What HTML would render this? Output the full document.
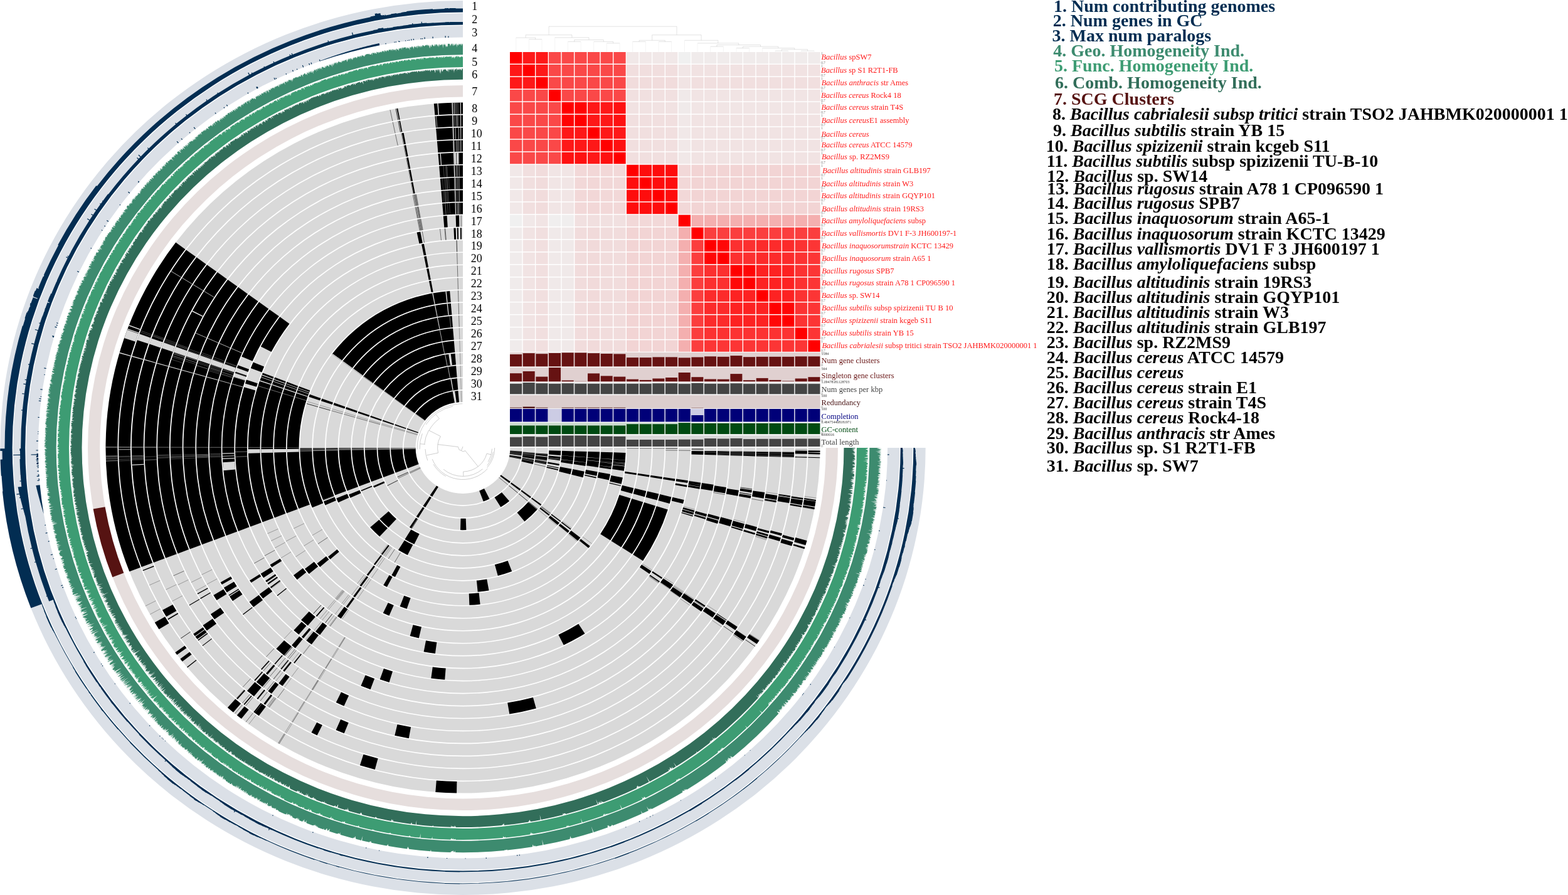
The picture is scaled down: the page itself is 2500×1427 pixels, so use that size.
<!DOCTYPE html>
<html><head><meta charset="utf-8"><title>Bacillus pangenome</title>
<style>html,body{margin:0;padding:0;background:#fff}svg{display:block}text{white-space:pre}</style></head>
<body>
<svg width="2500" height="1427" viewBox="0 0 2500 1427" font-family="'Liberation Serif', serif">
<path d="M738 163.5A569.5 550.5 0 1 0 1307.5 714L1288.6 714A550.6 532.2 0 1 1 738 181.8Z" fill="#d9d9d9"/>
<path d="M738 183.5A548.9 530.5 0 1 0 1286.9 714L1268 714A530 512.2 0 1 1 738 201.8Z" fill="#d9d9d9"/>
<path d="M738 203.4A528.2 510.6 0 1 0 1266.2 714L1247.3 714A509.3 492.3 0 1 1 738 221.7Z" fill="#d9d9d9"/>
<path d="M738 223.4A507.6 490.6 0 1 0 1245.6 714L1226.6 714A488.6 472.3 0 1 1 738 241.7Z" fill="#d9d9d9"/>
<path d="M738 243.4A486.9 470.6 0 1 0 1224.9 714L1206 714A468 452.3 0 1 1 738 261.7Z" fill="#d9d9d9"/>
<path d="M738 263.4A466.2 450.6 0 1 0 1204.2 714L1185.3 714A447.3 432.3 0 1 1 738 281.7Z" fill="#d9d9d9"/>
<path d="M738 283.3A445.6 430.7 0 1 0 1183.6 714L1164.6 714A426.6 412.4 0 1 1 738 301.6Z" fill="#d9d9d9"/>
<path d="M738 303.3A424.9 410.7 0 1 0 1162.9 714L1144 714A406 392.4 0 1 1 738 321.6Z" fill="#d9d9d9"/>
<path d="M738 323.3A404.3 390.7 0 1 0 1142.3 714L1123.3 714A385.3 372.4 0 1 1 738 341.6Z" fill="#d9d9d9"/>
<path d="M738 343.2A383.6 370.8 0 1 0 1121.6 714L1102.7 714A364.7 352.5 0 1 1 738 361.5Z" fill="#d9d9d9"/>
<path d="M738 363.2A362.9 350.8 0 1 0 1100.9 714L1082 714A344 332.5 0 1 1 738 381.5Z" fill="#d9d9d9"/>
<path d="M738 383.2A342.3 330.8 0 1 0 1080.3 714L1061.3 714A323.3 312.5 0 1 1 738 401.5Z" fill="#d9d9d9"/>
<path d="M738 403.1A321.6 310.9 0 1 0 1059.6 714L1040.7 714A302.7 292.6 0 1 1 738 421.4Z" fill="#d9d9d9"/>
<path d="M738 423.1A301 290.9 0 1 0 1039 714L1020 714A282 272.6 0 1 1 738 441.4Z" fill="#d9d9d9"/>
<path d="M738 443.1A280.3 270.9 0 1 0 1018.3 714L999.4 714A261.4 252.6 0 1 1 738 461.4Z" fill="#d9d9d9"/>
<path d="M738 463A259.6 251 0 1 0 997.6 714L978.7 714A240.7 232.7 0 1 1 738 481.3Z" fill="#d9d9d9"/>
<path d="M738 483A239 231 0 1 0 977 714L958 714A220 212.7 0 1 1 738 501.3Z" fill="#d9d9d9"/>
<path d="M738 503A218.3 211 0 1 0 956.3 714L937.4 714A199.4 192.7 0 1 1 738 521.3Z" fill="#d9d9d9"/>
<path d="M738 523A197.6 191 0 1 0 935.6 714L916.7 714A178.7 172.7 0 1 1 738 541.3Z" fill="#d9d9d9"/>
<path d="M738 542.9A177 171.1 0 1 0 915 714L896.1 714A158.1 152.8 0 1 1 738 561.2Z" fill="#d9d9d9"/>
<path d="M738 562.9A156.3 151.1 0 1 0 894.3 714L875.4 714A137.4 132.8 0 1 1 738 581.2Z" fill="#d9d9d9"/>
<path d="M738 582.9A135.7 131.1 0 1 0 873.7 714L854.7 714A116.7 112.8 0 1 1 738 601.2Z" fill="#d9d9d9"/>
<path d="M738 602.8A115 111.2 0 1 0 853 714L834.1 714A96.1 92.9 0 1 1 738 621.1Z" fill="#d9d9d9"/>
<path d="M738 622.8A94.3 91.2 0 1 0 832.3 714L813.4 714A75.4 72.9 0 1 1 738 641.1Z" fill="#d9d9d9"/>
<path d="M738 163.5A569.5 550.5 0 0 0 691.8 165.3L693.4 183.6A550.6 532.2 0 0 1 738 181.8ZM634.2 172.7L632.4 173L636 191L637.7 190.7ZM280.2 386.6A569.5 550.5 0 0 0 206.3 911.3L224 904.7A550.6 532.2 0 0 1 295.4 397.4ZM246.8 992.6L253.4 1003.3L269.5 993.7L263.1 983.3ZM279.3 1040.3L282.2 1044.1L297.4 1033.2L294.5 1029.4ZM287.4 1050.6L290.7 1054.8L305.6 1043.5L302.3 1039.5ZM298 1063.6L298.9 1064.6L313.5 1053L312.6 1051.9ZM362.8 1128.2L371.9 1135.7L384.1 1121.7L375.3 1114.4ZM377.8 1140.4L384.8 1145.9L396.6 1131.5L389.8 1126.3ZM694.3 1262.9A569.5 550.5 0 0 0 728.1 1264.4L728.4 1246.1A550.6 532.2 0 0 1 695.8 1244.6ZM1282.6 875.2L1283.4 872.6L1265.3 867.4L1264.5 869.8ZM1284.5 869L1286.6 862L1268.4 857L1266.3 863.8ZM1298.5 811.7L1299 808.9L1280.4 805.7L1279.9 808.5ZM1299.2 807.8L1300.6 799.6L1281.9 796.8L1280.6 804.7ZM1300.7 799L1301.1 796.9L1282.3 794.1L1282 796.1ZM1307.3 730.3L1307.3 729.2L1288.4 728.7L1288.4 729.8ZM1307.4 724.4L1307.5 721.9L1288.6 721.6L1288.5 724.1ZM1307.5 721.1L1307.5 718.4L1288.6 718.3L1288.6 720.9ZM1206.7 1026.8L1210.3 1021.6L1194.6 1011.4L1191.1 1016.4ZM738 183.5A548.9 530.5 0 0 0 693.5 185.2L695 203.5A530 512.2 0 0 1 738 201.8ZM638 192.4L636.3 192.7L639.8 210.6L641.4 210.3ZM296.8 398.4A548.9 530.5 0 0 0 225.6 904.1L243.2 897.6A530 512.2 0 0 1 312 409.3ZM227.5 908.9L228 910.2L245.6 903.4L245.1 902.1ZM258.9 972.8L265.1 983.3L281.4 974L275.4 963.9ZM267.2 986.7L268.1 988.2L284.3 978.7L283.4 977.3ZM406.1 1136.6L412.7 1141.3L423.9 1126.6L417.6 1122ZM377.2 1113.8L378.7 1115.1L391.1 1101.2L389.7 1100ZM388.4 1123L389.7 1124L401.7 1109.9L400.4 1108.9ZM404.3 1135.2L405.9 1136.4L417.3 1121.8L415.8 1120.7ZM573.9 1220.3L597.8 1226.9L602.6 1209.2L579.5 1202.8ZM1262.4 870.6L1264.4 864.3L1246.2 859.1L1244.3 865.2ZM1265.2 861.8L1266.4 857.8L1248.1 852.8L1247 856.7ZM1278.1 808.7L1278.5 806.4L1259.9 803.2L1259.4 805.5ZM1278.7 805.2L1280 797.5L1261.3 794.7L1260.1 802ZM1280.2 796.6L1280.6 794L1261.9 791.2L1261.5 793.7ZM1286.6 729.7L1286.7 728.6L1267.8 728.1L1267.7 729.2ZM1286.8 723.7L1286.9 718.9L1267.9 718.7L1267.9 723.4ZM1185.4 1021.3L1189.7 1015.4L1174.1 1005L1170 1010.7ZM738 203.4A528.2 510.6 0 0 0 695.2 205.1L696.7 223.4A509.3 492.3 0 0 1 738 221.7ZM643.6 211.7L640.8 212.2L644.3 230.1L646.9 229.7ZM313.4 410.3A528.2 510.6 0 0 0 244.9 897L262.5 890.4A509.3 492.3 0 0 1 328.6 421.2ZM308.2 1010.8L310.7 1014.2L326 1003.4L323.6 1000.2ZM311.4 1015.1L314.5 1019.1L329.6 1008.2L326.7 1004.3ZM315.5 1020.4L316.3 1021.5L331.5 1010.5L330.6 1009.4ZM322.4 1029.2L323.1 1030L338 1018.7L337.3 1017.9ZM394 1101.5L404.9 1110.2L416.8 1096L406.4 1087.6ZM395 1102.3L396.1 1103.2L408.4 1089.3L407.3 1088.3ZM409.5 1113.8L411.2 1115.1L422.9 1100.7L421.2 1099.5ZM420.4 1122L422.8 1123.7L434.1 1109L431.8 1107.3ZM496.5 1168.1L505.6 1172.5L513.9 1156.1L505.2 1151.8ZM1243.2 863.1L1245 857.4L1226.8 852.2L1225.1 857.8ZM1245.9 854.2L1247 850.6L1228.7 845.7L1227.7 849.2ZM1258.3 802.1L1259.7 794L1241 791.2L1239.7 798.9ZM1260 792.4L1260.3 790.5L1241.5 787.8L1241.3 789.6ZM1266 729.1L1266.2 720.7L1247.2 720.4L1247.1 728.6ZM1172.3 1004.7L1175.9 999.6L1160.2 989.3L1156.7 994.3ZM738 223.4A507.6 490.6 0 0 0 696.9 225L698.4 243.3A488.6 472.3 0 0 1 738 241.7ZM647.2 231.3L644.6 231.8L648.1 249.8L650.6 249.3ZM330 422.2A507.6 490.6 0 0 0 264.1 889.8L281.8 883.3A488.6 472.3 0 0 1 345.2 433.1ZM301.6 964.5L302.1 965.4L318.4 956L317.8 955.1ZM323.5 997.1L329.7 1005.5L345 994.6L339 986.6ZM408.8 1087.4L418.4 1095.1L430.3 1080.9L421.1 1073.5ZM405.4 1084.6L406.7 1085.7L419.1 1071.8L417.8 1070.8ZM427.4 1102L432.9 1106.1L444.3 1091.5L439 1087.5ZM535.6 1163.9L548.7 1169.2L555.7 1152.2L543.2 1147.1ZM1223.1 858.5L1223.8 856.1L1205.7 850.8L1205 853.1ZM1224.1 855.1L1225 852.2L1206.8 847.1L1206 849.8ZM1225.7 850L1226.6 846.8L1208.4 841.9L1207.5 844.9ZM1237.6 800.8L1238 798.6L1219.3 795.4L1218.9 797.6ZM1238.3 796.9L1239.4 790L1220.7 787.2L1219.6 793.8ZM1245.3 728.6L1245.5 720.4L1226.6 720.2L1226.4 728ZM1152.9 996.6L1157.5 990.2L1141.9 979.9L1137.4 986.1ZM1158.2 989.2L1158.8 988.4L1143.1 978.1L1142.5 979ZM738 243.4A486.9 470.6 0 0 0 698.5 244.9L700.1 263.2A468 452.3 0 0 1 738 261.7ZM650.9 251L648.4 251.4L651.9 269.4L654.3 269ZM346.6 434.1A486.9 470.6 0 0 0 283.4 882.7L301.1 876.1A468 452.3 0 0 1 361.8 444.9ZM314.5 946.2L315.2 947.5L331.7 938.4L331 937.2ZM319 953.8L319.8 955L336 945.6L335.3 944.5ZM335.8 979.2L341.9 987.6L357.3 977L351.4 968.9ZM416 1067L417.3 1068.1L429.8 1054.3L428.5 1053.3ZM444.3 1089.4L450.4 1093.8L461.6 1079L455.7 1074.8ZM424 1073.7L426.5 1075.7L438.6 1061.6L436.2 1059.7ZM444.3 1089.4L445.5 1090.2L456.9 1075.6L455.7 1074.8ZM629.3 1172.7L651.8 1177.2L655.1 1159.2L633.5 1154.9ZM1203.3 852.6L1204.2 849.9L1186 844.6L1185.2 847.2ZM1205.2 846.7L1207 840.6L1188.7 835.6L1187 841.5ZM1217.7 794.7L1219.3 785.1L1200.6 782.4L1199 791.6ZM1224.7 728L1224.9 720.2L1205.9 719.9L1205.8 727.4ZM1136.2 984.8L1141 978.1L1125.3 967.9L1120.7 974.3ZM738 263.4A466.2 450.6 0 0 0 700.2 264.8L701.7 283.1A447.3 432.3 0 0 1 738 281.7ZM654.6 270.6L652.2 271L655.7 289L658 288.6ZM363.2 445.9A466.2 450.6 0 0 0 302.7 875.5L320.4 868.9A447.3 432.3 0 0 1 378.4 456.8ZM340.3 949.1L345.4 957.1L361.4 947.3L356.4 939.6ZM437.4 1058.4L438.6 1059.5L450.8 1045.5L449.6 1044.5ZM447.6 1066.6L448.7 1067.4L460.5 1053.1L459.4 1052.3ZM451.3 1069.3L453.4 1070.9L464.9 1056.4L462.9 1054.9ZM535.8 1120.1L548.4 1125.7L556.1 1109L544 1103.6ZM1183.7 846.4L1184.3 844.5L1166.2 839.2L1165.6 841ZM1184.7 843.2L1187.1 835.2L1168.8 830.3L1166.5 838ZM1196.8 794.4L1197.5 790.3L1178.9 787.2L1178.1 791.2ZM1197.7 789.1L1197.9 787.9L1179.3 784.9L1179.1 786.1ZM1198.3 785.5L1199 781.4L1180.3 778.7L1179.6 782.6ZM1204 727.4L1204.2 719.9L1185.3 719.7L1185.1 726.8ZM1118.1 975L1121.6 970.1L1106.1 959.7L1102.7 964.4ZM1123.3 967.8L1124.7 965.7L1109 955.5L1107.6 957.5ZM738 283.3A445.6 430.7 0 0 0 701.9 284.7L703.4 303A426.6 412.4 0 0 1 738 301.6ZM658.3 290.3L656 290.7L659.5 308.7L661.7 308.3ZM379.8 457.8A445.6 430.7 0 0 0 322 868.3L339.7 861.8A426.6 412.4 0 0 1 395 468.7ZM351.5 928.4L353.8 932.1L370.1 922.8L368 919.3ZM356.9 937.1L361.6 944.5L377.6 934.7L373.1 927.6ZM364.4 948.7L365.2 949.9L381.1 939.9L380.2 938.7ZM366 951.1L370.9 958.2L386.5 947.8L381.8 941ZM387 979.3L387.8 980.3L402.7 969L401.9 968.1ZM440.4 1034.6L452.8 1044.9L464.9 1030.8L453.1 1020.9ZM446.9 1040L448.4 1041.3L460.7 1027.4L459.2 1026.2ZM468.2 1056.8L469.6 1057.8L481 1043.2L479.7 1042.2ZM812.3 1138.6A445.6 430.7 0 0 0 854.8 1129.6L849.9 1112A426.6 412.4 0 0 1 809.2 1120.6ZM1164.3 839.2L1167.2 829.5L1149 824.6L1146.2 833.9ZM1176.4 790.8L1178 781.8L1159.3 778.9L1157.8 787.5ZM1183.4 726.8L1183.5 719.6L1164.6 719.4L1164.5 726.2ZM1101.7 962.9L1106.3 956.4L1090.7 946.1L1086.2 952.3ZM738 303.3A424.9 410.7 0 0 0 703.6 304.6L705.1 322.9A406 392.4 0 0 1 738 321.6ZM396.4 469.7A424.9 410.7 0 0 0 341.3 861.2L359 854.6A406 392.4 0 0 1 411.6 480.6ZM397.5 959.7L404.1 968L419 956.7L412.7 948.8ZM465.1 1028.8L470.8 1033.4L482.7 1019.1L477.3 1014.8ZM575.4 1093.4L590.6 1099.2L597.1 1082L582.6 1076.5ZM1144.1 834.9L1145.5 830.3L1127.4 825.1L1126 829.5ZM1146 828.7L1147.3 824.2L1129.1 819.3L1127.8 823.6ZM1156.2 786.6L1157.9 777L1139.2 774.2L1137.6 783.4ZM1162.7 726.2L1162.9 719.4L1144 719.1L1143.8 725.6ZM1084.2 952.2L1088.5 946.2L1072.9 935.9L1068.8 941.5ZM738 323.3A404.3 390.7 0 0 0 705.2 324.5L706.8 342.8A385.3 372.4 0 0 1 738 341.6ZM413 481.6A404.3 390.7 0 0 0 360.6 854L378.3 847.5A385.3 372.4 0 0 1 428.3 492.5ZM398 925.4L400.5 929.1L416.3 919L414 915.5ZM413.7 947.2L419.2 954.3L434.2 943L428.9 936.3ZM468.3 1005.1L476.3 1011.8L488.5 997.8L480.9 991.4ZM488.3 1021.3L496.7 1027.5L508 1012.8L500 1006.9ZM480.9 1015.6L483.8 1017.8L495.7 1003.6L493 1001.4ZM605.7 1083.2L620.5 1087.9L626 1070.4L611.9 1065.9ZM1124.7 827.9L1125.4 825.7L1107.3 820.4L1106.6 822.5ZM1126 823.8L1127.2 819.7L1109 814.8L1107.8 818.6ZM1136 782.6L1137.7 772.8L1118.9 770L1117.3 779.4ZM1142.1 725.6L1142.2 719.1L1123.3 718.9L1123.2 725ZM1068.5 939L1073.2 932.5L1057.5 922.3L1053 928.5ZM712.6 344L706.8 344.5L708.3 362.7L713.8 362.3ZM732 343.3L726.6 343.4L727.2 361.7L732.3 361.6ZM429.6 493.5A383.6 370.8 0 0 0 385.2 568.5L402.6 575.7A364.7 352.5 0 0 1 444.9 504.3ZM372.8 600.7A383.6 370.8 0 0 0 379.9 846.9L397.6 840.3A364.7 352.5 0 0 1 390.8 606.3ZM379.4 582.3L377.8 586.6L395.5 592.9L397.1 588.8ZM375.5 592.7L374.7 595.1L392.6 601L393.4 598.7ZM415.6 914.8L420 921.3L435.7 911.1L431.5 904.9ZM423.3 926L425 928.3L440.4 917.8L438.8 915.5ZM426.3 930.1L427.7 932L443 921.3L441.7 919.5ZM430.8 936L432.1 937.7L447.2 926.6L446 925.1ZM441.6 949.3L442.4 950.3L457 938.7L456.2 937.7ZM480.1 988.5L490.7 997.4L502.9 983.4L492.8 974.9ZM502.9 1007L510.1 1012.2L521.3 997.5L514.5 992.5ZM503.9 1007.7L509 1011.4L520.3 996.7L515.5 993.2ZM687.3 1081.5A383.6 370.8 0 0 0 709.2 1083.7L710.7 1065.5A364.7 352.5 0 0 1 689.8 1063.4ZM1104.5 823.4L1105 822L1086.8 816.7L1086.4 818ZM1105.4 820.8L1106.3 817.6L1088.1 812.5L1087.2 815.5ZM1106.6 816.7L1107.4 813.9L1089.2 808.9L1088.4 811.6ZM1115.5 779.8L1116.1 776.5L1097.4 773.4L1096.9 776.5ZM1116.2 776.1L1116.6 773.6L1097.9 770.6L1097.5 773ZM1116.7 773.3L1117.2 769.8L1098.5 767.1L1098 770.4ZM1121.4 725L1121.6 719.2L1102.6 718.9L1102.5 724.5ZM1051 928.3L1052 926.9L1036.5 916.4L1035.6 917.7ZM1054.9 923L1056.2 921L1040.5 910.8L1039.2 912.7ZM726.6 363.4L723.4 363.5L724.2 381.8L727.2 381.7ZM730.7 363.3L728.7 363.3L729.2 381.6L731 381.6ZM735.8 363.2L733.9 363.2L734.1 381.5L735.9 381.5ZM670.2 369.4L664.6 370.4L668.5 388.4L673.7 387.4ZM446.3 505.3A362.9 350.8 0 0 0 415.8 552.6L432.6 561A344 332.5 0 0 1 461.5 516.2ZM403.7 577.5L399.7 586.9L417.4 593.5L421.1 584.6ZM392.8 605.6L390.9 611.4L409 616.8L410.8 611.3ZM389.1 617.3A362.9 350.8 0 0 0 399.2 839.7L416.8 833.2A344 332.5 0 0 1 407.3 622.4ZM430.5 900.4L433.3 904.5L449.2 894.6L446.6 890.7ZM503.7 981.9L505.1 983.1L517.3 969L515.9 967.9ZM898.8 1028.5A362.9 350.8 0 0 0 932.5 1010.2L922.3 994.7A344 332.5 0 0 1 890.4 1012.1ZM1089.1 803L1090.6 797.1L1072.2 792.7L1070.7 798.4ZM1096.3 770.1L1096.9 766.2L1078.2 763.4L1077.6 767.2ZM1095.1 776.4L1095.6 773.7L1077 770.6L1076.5 773.2ZM1035.5 915L1038.6 910.6L1022.9 900.3L1020 904.5ZM675.9 388.7L672.1 389.4L675.7 407.3L679.4 406.7ZM418.9 594.4A342.3 330.8 0 0 0 418.5 832.6L436.1 826A323.3 312.5 0 0 1 436.5 601ZM467.9 917.2L473.7 924.2L488.3 912.6L482.9 906ZM540.2 984L543.1 986L553.9 970.9L551.2 969.1ZM538 982.5L543.6 986.3L554.4 971.3L549.1 967.6ZM675.6 1039.3A342.3 330.8 0 0 0 693.9 1042.1L696.4 1023.9A323.3 312.5 0 0 1 679.1 1021.3ZM1025.1 894.2A342.3 330.8 0 0 0 1064.8 812.4L1046.7 806.9A323.3 312.5 0 0 1 1009.2 884.2ZM1067.7 803L1070.5 792.4L1052.1 788L1049.4 798ZM1075.9 766.9L1076.4 763.5L1057.7 760.7L1057.2 764ZM679.7 408.3L676.1 409L679.7 426.9L683.1 426.3ZM438.1 601.6A321.6 310.9 0 0 0 437.7 825.4L455.4 818.8A302.7 292.6 0 0 1 455.8 608.2ZM486 907.1L492.7 915.1L507.2 903.2L500.8 895.7ZM551.7 967.4L554.4 969.3L565.3 954.2L562.7 952.5ZM653.7 1014L667.8 1017.4L672 999.5L658.6 996.3ZM1007.7 883.3A321.6 310.9 0 0 0 1045.1 806.4L1027 801A302.7 292.6 0 0 1 991.9 873.3ZM1047.8 797.6L1050.5 787.6L1032.1 783.3L1029.5 792.7ZM1055.5 763.7L1056 760.5L1037.3 757.7L1036.8 760.8ZM683.4 427.9L680.1 428.6L683.7 446.5L686.8 445.9ZM457.4 608.8A301 290.9 0 0 0 457 818.2L474.7 811.7A282 272.6 0 0 1 475.1 615.4ZM505.4 898.6L510.2 904.1L524.5 892.1L520.1 887ZM563.2 950.8L565.8 952.6L576.6 937.6L574.2 935.9ZM610.8 977.6L620.4 981.8L627.8 964.9L618.8 961.1ZM990.4 872.4A301 290.9 0 0 0 1025.3 800.5L1007.3 795.1A282 272.6 0 0 1 974.5 862.5ZM1027.9 792.2L1030.4 782.9L1012 778.6L1009.6 787.3ZM1035.1 760.5L1035.6 757.5L1016.9 754.8L1016.4 757.6ZM687.2 447.6L684 448.1L687.7 466.1L690.6 465.6ZM476.7 616A280.3 270.9 0 0 0 476.3 811.1L494 804.5A261.4 252.6 0 0 1 494.3 622.6ZM523 887.8L526.5 891.7L540.7 879.7L537.5 876ZM573.6 933.5L576 935.1L587 920.2L584.7 918.6ZM637.6 966.9L648.6 970.8L654.6 953.4L644.3 949.8ZM973.1 861.6A280.3 270.9 0 0 0 1005.6 794.6L987.5 789.1A261.4 252.6 0 0 1 957.2 851.6ZM1008 786.9L1010.3 778.2L991.9 773.8L989.7 781.9ZM1014.7 757.3L1015.1 754.5L996.4 751.8L996 754.4ZM717.2 463.9A259.6 251 0 0 0 529.3 564.7L544.5 575.6A240.7 232.7 0 0 1 718.7 482.1ZM493.8 628.8L492.4 632.7L510.3 638.6L511.6 635ZM478.4 714.4A259.6 251 0 0 0 495.6 803.9L513.3 797.4A240.7 232.7 0 0 1 497.3 714.4ZM495.6 803.9L497.8 809.2L515.3 802.3L513.3 797.4ZM584.7 916.5L586.9 918L597.9 903.2L595.8 901.7ZM611.3 933.1L616.9 936L625.7 919.8L620.6 917.1ZM748.4 964.7A259.6 251 0 0 0 765.6 963.5L763.6 945.3A240.7 232.7 0 0 1 747.7 946.5ZM938.2 873.8L940.8 870.7L926 859.3L923.6 862.1ZM996.8 733.7L997.5 721.9L978.6 721.3L978 732.3ZM994.8 750.8L995.8 743.5L977 741.4L976.1 748.1ZM995.9 742.8L996.2 740.6L977.3 738.6L977.1 740.7ZM996.2 740.1L996.4 738.6L977.5 736.8L977.4 738.2ZM996.4 738.1L996.8 734L977.9 732.6L977.6 736.4ZM990.7 771.7L992.9 761.5L974.4 758L972.2 767.5ZM989.8 775.1L990.1 773.9L971.8 769.5L971.4 770.7ZM718.8 483.8A239 231 0 0 0 545.9 576.6L561.1 587.5A220 212.7 0 0 1 720.4 502ZM513.2 635.6L511.9 639.2L529.8 645.1L531 641.8ZM499 714.4A239 231 0 0 0 514.9 796.8L532.6 790.2A220 212.7 0 0 1 518 714.4ZM516 799.4L518.5 805.4L535.9 798.1L533.6 792.6ZM595.9 899.7L597.9 901.1L609 886.3L607.1 885ZM624.3 917.2L629.9 920L638.4 903.7L633.3 901.1ZM761.7 943.8A239 231 0 0 0 779.5 941.5L776.2 923.4A220 212.7 0 0 1 759.9 925.6ZM921.2 862.3L925.4 857.3L910.6 846L906.7 850.5ZM976.2 732.1L976.9 721.3L957.9 720.7L957.4 730.7ZM974.3 748.3L974.8 744.9L956.1 742.5L955.6 745.6ZM974.9 744.6L975.6 739.1L956.7 737.1L956.1 742.2ZM975.6 738.6L975.8 737.2L956.9 735.4L956.8 736.7ZM975.8 737.1L976.2 732.6L957.3 731.1L956.9 735.3ZM970.9 765.6L973 756.1L954.4 752.8L952.5 761.5ZM720.5 503.7A218.3 211 0 0 0 562.5 588.5L577.7 599.4A199.4 192.7 0 0 1 722 521.9ZM532.7 642.3L531.5 645.7L549.4 651.6L550.5 648.6ZM519.7 714.4A218.3 211 0 0 0 534.2 789.6L551.9 783.1A199.4 192.7 0 0 1 538.6 714.3ZM536.2 794.4L539.2 801.2L556.4 793.6L553.7 787.4ZM607.8 883.4L609.7 884.7L620.8 869.9L619.1 868.7ZM793.8 918A218.3 211 0 0 0 816.2 911L809.5 893.9A199.4 192.7 0 0 1 788.9 900.3ZM905.4 849.4L907.8 846.6L893.1 835.1L890.9 837.7ZM909.6 844.5L910.6 843.2L895.7 832L894.7 833.2ZM955.6 730.6L956.2 720.6L937.3 720.1L936.8 729.1ZM954 744.9L955.1 736L936.3 734.1L935.2 742.2ZM955.2 735.5L955.6 730.8L936.7 729.4L936.3 733.6ZM950.5 762.5L950.9 760.8L932.4 756.8L932 758.3ZM951.3 758.8L952.7 752.3L934.1 748.9L932.8 754.9ZM722.1 523.6A197.6 191 0 0 0 579.1 600.4L594.3 611.3A178.7 172.7 0 0 1 723.7 541.8ZM552.1 649.1L551 652.1L568.9 658L569.9 655.3ZM540.4 714.3A197.6 191 0 0 0 553.5 782.5L571.2 775.9A178.7 172.7 0 0 1 559.3 714.3ZM556.1 788.6L558.4 793.8L575.6 786.2L573.5 781.5ZM590.2 840.8A197.6 191 0 0 0 605.2 855.5L618 842A178.7 172.7 0 0 1 604.4 828.7ZM635 877.1A197.6 191 0 0 0 649.8 885L658.3 868.6A178.7 172.7 0 0 1 644.9 861.4ZM889.1 837.1L892 833.7L877.3 822.2L874.7 825.3ZM893.5 832L894.3 830.9L879.4 819.7L878.6 820.7ZM935 729L935.6 720L916.6 719.4L916.2 727.6ZM934.2 737.3L935 729.3L916.1 727.9L915.4 735.1ZM933.4 742.9L934.1 737.6L915.3 735.4L914.7 740.1ZM929.5 761.2L931.8 751.8L913.2 748.1L911.2 756.7ZM723.8 543.5A177 171.1 0 0 0 595.7 612.2L610.9 623.1A158.1 152.8 0 0 1 725.3 561.7ZM571.5 655.9L570.6 658.6L588.5 664.5L589.3 662.1ZM561 714.3A177 171.1 0 0 0 572.8 775.3L590.4 768.7A158.1 152.8 0 0 1 579.9 714.3ZM575.4 781.7L576.2 783.3L593.5 775.9L592.8 774.4ZM605.4 827.4A177 171.1 0 0 0 619.3 840.9L632 827.4A158.1 152.8 0 0 1 619.6 815.2ZM645.5 859.9A177 171.1 0 0 0 660.4 867.8L668.7 851.3A158.1 152.8 0 0 1 655.4 844.3ZM875 822.3L876.6 820.4L861.8 809L860.3 810.8ZM914.4 727.4L914.9 719.4L896 718.8L895.6 726ZM913.7 734.8L914.4 727.7L895.5 726.3L894.9 732.6ZM913 739.9L913.6 735.1L894.8 732.9L894.2 737.1ZM909.5 756.3L911.5 747.8L892.9 744.2L891.2 751.7ZM725.5 563.4A156.3 151.1 0 0 0 612.3 624.1L627.6 635A137.4 132.8 0 0 1 727 581.6ZM591 662.7L590.1 665.1L608 671L608.8 668.9ZM581.7 714.3A156.3 151.1 0 0 0 592.1 768.1L609.7 761.6A137.4 132.8 0 0 1 600.6 714.2ZM595 775L596.2 777.6L613.4 769.9L612.3 767.6ZM652.9 840.7L655.6 842.4L665.6 826.9L663.2 825.4ZM836.4 831.4A156.3 151.1 0 0 0 856.5 812.5L842.2 800.6A137.4 132.8 0 0 1 824.5 817.2ZM861.9 806.2L863.3 804.3L848.2 793.4L846.9 795ZM893.8 725.9L894.3 718.7L875.3 718.2L875 724.4ZM892.9 734.2L893.2 732.4L874.4 730.2L874.2 731.7ZM893.2 731.9L893.6 728.3L874.8 726.6L874.4 729.8ZM891.6 742.3L892 739.7L873.4 736.6L873 738.9ZM889.8 750.1L890.3 748.2L871.8 744.1L871.4 745.7ZM890.6 746.7L890.9 745.5L872.4 741.7L872.1 742.7ZM727.1 583.3A135.7 131.1 0 0 0 628.9 636L644.2 646.9A116.7 112.8 0 0 1 728.6 601.5ZM610.4 669.5L609.6 671.5L627.6 677.5L628.2 675.7ZM602.3 714.2A135.7 131.1 0 0 0 611.3 761L629 754.4A116.7 112.8 0 0 1 621.3 714.2ZM663.7 823.7L666.9 825.7L676.8 810.1L674.1 808.4ZM734 845.1A135.7 131.1 0 0 0 743.4 845L742.7 826.7A116.7 112.8 0 0 1 734.5 826.8ZM845.3 794.2L846.9 792.2L831.7 781.3L830.4 783ZM872.9 727.5L873.3 723.8L854.4 722.5L854.1 725.6ZM872 734.5L872.8 728.6L854 726.6L853.3 731.7ZM870.9 740.4L871.8 735.9L853.1 732.8L852.3 736.7ZM728.8 603.2A115 111.2 0 0 0 645.6 647.9L660.8 658.8A96.1 92.9 0 0 1 730.3 621.4ZM629.8 676.3L629.2 678L647.1 683.9L647.6 682.5ZM623 714.2A115 111.2 0 0 0 630.6 753.8L648.3 747.3A96.1 92.9 0 0 1 641.9 714.2ZM674.5 806.7L678.1 808.9L687.9 793.3L685 791.4ZM798.4 808.6A115 111.2 0 0 0 812.1 799L799.9 785A96.1 92.9 0 0 1 788.5 793ZM828.7 782.3L830.4 780.1L815.2 769.2L813.8 771ZM851.5 732A115 111.2 0 0 0 852.7 721.9L833.8 720.6A96.1 92.9 0 0 1 832.8 729ZM849.8 740.1A115 111.2 0 0 0 851.3 732.9L832.7 729.8A96.1 92.9 0 0 1 831.4 735.8ZM730.4 623.1A94.3 91.2 0 0 0 662.2 659.8L677.4 670.6A75.4 72.9 0 0 1 732 641.3ZM649.3 683L648.7 684.5L666.7 690.4L667.1 689.2ZM643.7 714.2A94.3 91.2 0 0 0 649.9 746.7L667.6 740.1A75.4 72.9 0 0 1 662.6 714.1ZM685.5 789.8L689.1 792L698.9 776.3L696 774.6ZM770.7 799.5A94.3 91.2 0 0 0 780.5 795.4L772 779.1A75.4 72.9 0 0 1 764.2 782.4ZM812.2 770.3L813.9 768.1L798.7 757.3L797.3 759ZM831.5 726.4A94.3 91.2 0 0 0 832.2 719.7L813.3 718.6A75.4 72.9 0 0 1 812.7 723.9ZM830.5 732L831.2 728.3L812.5 725.4L811.9 728.4Z" fill="#000"/>
<path d="M248.59 957.86L231.76 966.25M255.69 970.73L239.1 979.56M408.1 1140.1L396.76 1154.75M1282.76 791.37L1301.5 794.03M1193.97 1012.32L1209.65 1022.58M255.32 925.48L238.08 933.04M464.08 1152.5L454.3 1168.17M465.78 1153.49L456.06 1169.19M1247.35 855.45L1265.54 860.5M281.4 932.05L264.42 940.15M291 949.9L274.38 958.67M474.86 1135.47L465.08 1151.13M1226.42 853.48L1244.58 858.66M1239.68 798.79L1258.33 801.94M1153.63 998.49L1169.08 1009.07M300.52 924.38L283.57 932.53M486.54 1118.95L476.8 1134.64M1204.67 854.01L1222.75 859.43M1204.22 855.4L1222.28 860.88M1219.45 794.7L1238.1 797.83M1221.12 784.73L1239.84 787.47M1219.68 793.37L1238.35 796.45M1135.31 988.93L1150.7 999.58M321.52 920.26L304.67 928.6M328.66 933.22L312.1 942.09M451.31 1071.51L439.72 1085.97M447.34 1068.5L435.58 1082.84M464.59 1081.09L453.53 1095.95M496.26 1101.3L486.48 1116.97M497.09 1101.78L487.34 1117.47M1188.71 835.7L1206.95 840.62M1200.35 783.87L1219.06 786.7M1122.63 971.64L1138.19 982.07M1127.28 965.05L1143.03 975.2M338.35 908.18L321.43 916.4M346.33 922.84L329.76 931.68M459.01 1051.95L447.2 1066.26M475.88 1064.34L464.78 1079.17M507.6 1084.59L497.85 1100.27M508.22 1084.94L498.49 1100.64M1167.89 833.48L1186.09 838.54M1169.42 828.22L1187.68 833.05M1104.27 962.18L1119.77 972.69M465.18 1031.06L453.08 1045.13M476.99 1040.21L465.41 1054.68M462.85 1029.16L450.64 1043.15M518.85 1067.82L509.12 1083.52M1158.21 785.34L1176.86 788.51M1084.52 954.58L1099.9 965.25M1091.33 945.14L1107.01 955.4M667.03 327.63L663.72 309.61M665.56 327.89L662.18 309.88M665.12 327.96L661.72 309.96M664.44 328.09L661.01 310.09M663.02 328.34L659.53 310.35M494.25 1027.81L482.88 1042.45M478.61 1015.87L466.51 1029.95M494.89 1028.28L483.56 1042.94M465.63 1005L452.93 1018.57M528.17 1049.94L518.39 1065.6M528.66 1050.22L518.89 1065.9M529.1 1050.47L519.35 1066.17M1127.47 824.8L1145.63 829.97M1128.27 822.14L1146.47 827.18M1138.46 778.52L1157.14 781.53M1068.46 941.96L1083.87 952.59M1074.58 933.43L1090.28 943.66M665.46 348.22L661.9 330.25M495.08 1003.11L483.15 1017.31M505.74 1011.18L494.33 1025.78M507.27 1012.29L495.94 1026.95M498.78 1005.98L487.03 1020.32M501.58 1008.1L489.97 1022.55M538.82 1032.82L529.03 1048.49M540.05 1033.53L530.32 1049.24M1108.15 817.48L1126.34 822.57M1117.64 777.75L1136.29 780.89M1057.07 922.82L1072.74 933.08M1058.6 920.6L1074.36 930.76M1052.58 929.08L1068.04 939.65M674.33 366.94L671.03 348.92M673.8 367.04L670.46 349.02M673.34 367.12L669.98 349.11M672.84 367.2L669.45 349.2M669.1 367.88L665.53 349.91M442.21 920.15L426.85 930.85M447.6 927.18L432.52 938.25M446.33 925.56L431.19 936.55M512.47 990.98L500.76 1005.36M517.7 994.88L506.26 1009.47M520.87 997.18L509.6 1011.88M549.51 1015.73L539.72 1031.4M550.1 1016.08L540.35 1031.76M550.63 1016.38L540.9 1032.08M1089.62 807.43L1107.88 812.29M1089.07 809.36L1107.29 814.31M1088.07 812.72L1106.25 817.85M1097.79 771.45L1116.47 774.43M1098.54 766.84L1117.26 769.58M1102.65 717.26L1121.58 717.43M1035.36 918.03L1050.8 928.62M1035.18 918.27L1050.61 928.88M1034.59 919.07L1049.99 929.71M537.2 983.98L526.15 998.84M521.85 972.67L509.95 986.9M533.05 981.04L521.77 995.74M524.91 975.03L513.19 989.4M537.09 983.9L526.03 998.75M517.15 968.93L504.99 982.96M536.05 983.17L524.93 997.99M1021.24 902.7L1036.83 913.08M1023.91 898.9L1039.65 909.08M443.62 843.28L426.38 850.85M449.02 854.2L432.1 862.41M454.8 864.82L438.21 873.65M464.05 880.01L448 889.73M545.34 965L534.06 979.69M549.13 967.67L538.07 982.53M553.88 970.91L543.09 985.95M556 972.32L545.35 987.45M533.78 956.31L521.82 970.49M535.61 957.73L523.76 972.01M472.43 854.37L455.82 863.15M487.04 877.57L471.35 887.8M556.23 947.93L544.86 962.57M558.23 949.37L546.99 964.1M563.1 952.78L552.16 967.71M546.26 940.37L534.26 954.53M547.18 941.1L535.24 955.3M547.92 941.68L536.03 955.92M548.48 942.11L536.62 956.38M549.39 942.82L537.6 957.13M485.08 834.6L468.1 842.69M500.31 860.71L484.35 870.56M571.65 934.12L560.48 948.89M574.82 936.32L563.86 951.25M576.07 937.18L565.2 952.16M580.23 939.95L569.64 955.12M514.03 844.21L497.81 853.64M581.03 915.99L569.66 930.62M583.46 917.73L572.27 932.49M585.04 918.84L573.96 933.68M586.55 919.88L575.58 934.8M589.18 921.67L578.4 936.71M591.74 923.36L581.15 938.53M507.95 645.55L489.86 640.17M597.68 903.03L586.64 917.89M602.86 906.52L592.23 921.66M924.55 861.01L939.23 872.58M924.66 860.89L939.34 872.44M928.79 855.85L943.79 867M527.7 651.43L509.6 646.04M607.69 885.38L596.48 900.12M611.27 887.86L600.36 902.82M613.78 889.55L603.09 904.65M908.69 848.22L923.38 859.77M905.96 851.4L920.41 863.22M956.47 739.34L975.27 741.52M547.45 657.3L529.35 651.92M618.3 868.11L606.93 882.75M619.74 869.15L608.51 883.89M622.05 870.77L611.04 885.66M623.27 871.61L612.37 886.57M624.87 872.68L614.13 887.75M890.65 837.96L905.15 849.73M892.17 836.2L906.81 847.8M896.4 831.04L911.44 842.15M895.28 832.43L910.22 843.68M935.23 742.21L953.96 744.89M932.87 754.73L951.38 758.6M933.3 752.77L951.85 756.45M732.82 541.33L732.27 523.04M567.19 663.18L549.1 657.79M879.27 819.8L894.24 831.01M873.97 826.1L888.38 837.98M879.38 819.67L894.36 830.86M878.52 820.73L893.41 832.04M733.42 561.29L732.87 543M586.94 669.05L568.84 663.67M861.18 809.72L875.94 821.19M863.46 806.92L878.49 818.05M861.24 809.66L876 821.12M858.48 812.88L872.91 824.73M734.02 581.26L733.47 562.96M627.8 634.68L612.62 623.75M606.69 674.93L588.59 669.55M874.66 727.73L893.49 729.62M874.66 727.75L893.49 729.64M871.6 744.99L890.01 749.26M734.62 601.22L734.07 582.93M644.38 646.61L629.19 635.68M625.96 682.31L607.79 677.17M626.43 680.8L608.34 675.42M735.22 621.18L734.67 602.89M660.95 658.54L645.76 647.61M645.79 687.92L627.62 682.78M646.18 686.68L628.08 681.3M735.82 641.14L735.27 622.85M677.52 670.46L662.33 659.53M665.62 693.53L647.45 688.39M665.93 692.56L647.83 687.17" stroke="#000" stroke-width="0.3" fill="none"/>
<path d="M625.87 192.95L622.02 175.04M394.39 1129.85L382.57 1144.15M386.59 1123.72L374.5 1137.8M403.5 1136.74L392 1151.27M453.4 1169.6L443.62 1185.26M454.68 1170.34L444.94 1186.03M1266.32 863.89L1284.49 869.05M1279.81 808.79L1298.44 812.05M1194.98 1010.89L1210.69 1021.1M630.08 212.5L626.22 194.59M403.63 1111.41L391.69 1125.6M389.26 1099.69L376.8 1113.47M398.3 1107.15L386.16 1121.2M1261.2 795.52L1279.89 798.44M1267.94 717.67L1286.87 717.81M1169.05 1011.99L1184.45 1022.63M1170.18 1010.45L1185.62 1021.04M1173.37 1006.06L1188.92 1016.49M1174.18 1004.93L1189.76 1015.33M643.53 230.28L640.02 212.3M634.29 232.06L630.43 214.14M330.57 1009.36L315.42 1020.34M399.69 1081.96L387.12 1095.64M438.98 1112.48L427.87 1127.3M426.37 1103.35L414.78 1117.82M437.33 1111.32L426.15 1126.09M411.62 1091.89L399.49 1105.94M440.16 1113.31L429.09 1128.15M421.93 1099.99L410.18 1114.34M475.98 1136.12L466.24 1151.81M1226.06 854.64L1244.21 859.87M1240.19 795.95L1258.85 799M1241.14 790.25L1259.85 793.09M1153.72 998.36L1169.17 1008.94M1158.06 992.34L1173.68 1002.69M1157.97 992.46L1173.59 1002.82M647.36 249.91L643.85 231.92M293.62 910.39L276.4 918M453.51 1097.98L442.48 1112.86M437.16 1086.16L425.51 1100.59M431.77 1082.03L419.9 1096.29M485.4 1118.29L475.62 1133.95M1218.89 797.75L1237.52 800.99M1137.56 985.87L1153.04 996.4M1138.34 984.78L1153.86 995.27M651.19 269.53L647.68 251.55M432.03 1056.25L419.65 1070.1M442.16 1064.46L430.19 1078.64M447.84 1068.87L436.1 1083.23M1198.34 795.36L1216.96 798.65M1200.3 784.21L1219 787.05M1121.6 973.07L1137.12 983.56M655.03 289.15L651.51 271.17M455.24 1049.01L443.28 1063.19M437.1 1033.9L424.36 1047.44M464.02 1055.76L452.43 1070.22M506.93 1084.2L497.15 1099.86M1180.53 777.03L1199.26 779.69M1180.46 777.52L1199.18 780.21M1104.38 962.03L1119.89 972.52M1107.11 958.23L1122.73 968.56M658.86 308.78L655.35 290.79M470.35 1035.14L458.48 1049.4M465.9 1031.63L453.83 1045.73M472.46 1036.77L460.67 1051.09M466.12 1031.8L454.05 1045.91M517.32 1066.93L507.52 1082.59M1148.98 824.72L1167.22 829.63M1158.16 785.66L1176.8 788.84M1157.97 786.68L1176.61 789.9M666.27 327.76L662.93 309.75M663.82 328.2L660.36 310.2M661.79 328.56L658.24 310.59M1137.24 785.24L1155.86 788.57M1073.6 934.83L1089.25 945.13M670.32 347.35L667 329.33M669.42 347.51L666.05 329.5M668.77 347.62L665.37 329.62M667.41 347.86L663.95 329.87M666.19 348.08L662.66 330.11M504.2 1010.04L492.71 1024.59M503.9 1009.83L492.4 1024.36M1107.44 819.82L1125.6 825.02M735.33 361.54L735.19 343.24M671.9 367.37L668.47 349.37M671.06 367.52L667.58 349.53M669.87 367.74L666.33 349.76M439.06 915.85L423.53 926.33M421.56 889.17L405.13 898.26M1102.66 716.4L1121.59 716.52M1102.66 715.23L1121.6 715.29M711.31 382.5L709.84 364.26M710.5 382.56L708.99 364.32M703.48 383.18L701.57 364.97M676.55 386.85L673.17 368.84M438.3 877.23L421.8 886.21M1081.98 718.06L1100.91 718.29M414.7 718.91L395.77 719.2M1061.32 717.82L1080.25 718.04M729.23 421.56L728.68 403.27M435.35 718.6L416.42 718.88M1040.68 714.71L1059.61 714.76M729.83 441.52L729.28 423.23M456.01 718.28L437.08 718.57M1020.02 714.67L1038.95 714.71M730.43 461.49L729.88 443.19M476.67 717.97L457.74 718.26M522.5 856.94L506.89 867.29M999.36 714.62L1018.29 714.66M731.03 481.45L730.48 463.16M544.95 575.04L529.77 564.11M731.63 501.41L731.08 483.12M561.52 586.97L546.34 576.04M732.22 521.37L731.68 503.08M578.09 598.9L562.91 587.97M546.65 659.88L528.47 654.74M629.48 875.67L619.18 891.02M638.49 880.99L629.04 896.85M594.66 610.83L579.48 599.9M566.48 665.49L548.3 660.35M611.23 622.75L596.05 611.82M586.3 671.1L568.13 665.96M606.13 676.71L587.96 671.57M851.63 739.86L870.06 744.06M651.61 754.63L634.59 762.64M669.88 745.27L652.77 753.11M670.48 746.47L653.53 754.62M795.47 761.19L809.9 773.04" stroke="#000" stroke-width="0.5" fill="none"/>
<path d="M634.64 191.26L631.08 173.29M1188.52 1019.97L1204.01 1030.49M638.51 210.88L634.96 192.9M303.62 1007.44L288.1 1017.92M512.06 964.73L499.62 978.53M529.85 978.73L518.4 993.3M728.63 401.6L728.08 383.31M1061.34 714.76L1080.28 714.81M506.99 648.66L488.82 643.52M526.82 654.27L508.65 649.13M532.75 790.65L515.09 797.25M862.72 807.85L877.66 819.09M666.21 827.23L656.32 842.83M842.71 799.98L857.14 811.83M634.36 765.92L617.55 774.35M826.96 787.05L841.39 798.9M650.79 752.95L633.6 760.63M811.22 774.12L825.65 785.97" stroke="#000" stroke-width="0.8" fill="none"/>
<path d="M698.8 164.8L697.3 164.9L698.6 183.2L700.1 183.1ZM721.9 163.7L720.3 163.8L720.9 182.1L722.4 182ZM735 163.5L733.8 163.5L734 181.8L735.1 181.8ZM202.8 525.7L199.2 535.7L217.1 541.6L220.6 532ZM205.7 518.1L205.2 519.4L222.9 525.9L223.4 524.6ZM203.5 523.9L203 525.3L220.8 531.5L221.3 530.2ZM199.2 535.7L198 538.9L216 544.7L217.1 541.6ZM190.7 561.8L190.2 563.2L208.5 568.2L208.8 566.9ZM722.5 183.7L721 183.7L721.5 202L723 202ZM735.1 183.5L734 183.5L734.1 201.8L735.2 201.8ZM222.2 532.5L218.7 542.2L236.6 548.1L240 538.8ZM210.5 567.3L210.1 568.7L228.3 573.7L228.7 572.4ZM723.1 203.6L721.6 203.7L722.2 222L723.6 221.9ZM735.2 203.4L734.1 203.5L734.3 221.8L735.3 221.7ZM241.6 539.4L238.3 548.6L256.2 554.5L259.4 545.6ZM230.4 572.8L230 574.1L248.2 579.1L248.6 577.9ZM210.5 740.7L210.6 742.1L229.5 741L229.4 739.8ZM723.7 223.6L722.2 223.6L722.8 241.9L724.2 241.9ZM735.3 223.4L734.3 223.4L734.4 241.7L735.4 241.7ZM261 546.2L257.8 555.1L275.7 561L278.8 552.5ZM250.2 578.4L249.9 579.6L268.1 584.6L268.4 583.4ZM724.2 243.6L722.9 243.6L723.5 261.9L724.8 261.9ZM702.8 244.6L701.5 244.7L702.9 263L704.1 262.9ZM730.8 243.4L728.2 243.5L728.6 261.8L731.1 261.7ZM727 243.5L724.4 243.6L724.9 261.9L727.4 261.8ZM280.5 553L277.3 561.6L295.3 567.5L298.3 559.3ZM270.1 583.9L269.7 585.1L287.9 590.1L288.3 588.9ZM306.9 495.2L306.1 496.7L322.9 505.1L323.7 503.7ZM724.8 263.5L723.5 263.6L724.1 281.9L725.4 281.8ZM299.9 559.9L296.9 568L314.8 574L317.7 566.1ZM289.9 589.4L289.6 590.5L307.8 595.6L308.1 594.5ZM725.4 283.5L724.2 283.5L724.7 301.8L725.9 301.8ZM319.3 566.7L316.4 574.5L334.4 580.4L337.1 573ZM309.8 594.9L309.5 596L327.7 601L328 600ZM726 303.5L724.8 303.5L725.4 321.8L726.5 321.7ZM338.7 573.5L336 581L353.9 586.9L356.5 579.8ZM329.6 600.4L329.3 601.5L347.5 606.5L347.8 605.5ZM726.6 323.4L725.4 323.4L726 341.7L727.1 341.7ZM358.1 580.4L355.5 587.4L373.4 593.4L375.9 586.6ZM355.2 737.3L356.2 750.2L375.1 748.4L374.1 736.1ZM354.5 722.4L354.5 723.7L373.5 723.2L373.4 722ZM354.8 730.8L354.9 732.1L373.8 731.2L373.7 730ZM417.7 597.3L417.3 598.4L435 604.8L435.4 603.8ZM414.4 606.3L413.9 607.7L431.8 613.5L432.3 612.3ZM395.7 716.3L395.8 722.7L414.8 722.2L414.7 716.2ZM437 604.4L436.7 605.4L454.4 611.8L454.8 610.8ZM433.9 612.8L433.5 614.1L451.4 620L451.8 618.8ZM416.4 716.2L416.5 722.1L435.4 721.7L435.3 716ZM453.4 619.3L453 620.5L470.9 626.4L471.3 625.3ZM437.1 716L437.1 721.6L456.1 721.1L456 715.9ZM473 625.8L472.6 626.9L490.5 632.8L490.9 631.8ZM457.7 715.9L457.8 721.1L476.7 720.6L476.6 715.8ZM711.8 464.3L710.3 464.5L712.3 482.7L713.7 482.5ZM690.5 467.3L689.1 467.5L692.7 485.5L693.9 485.3ZM530.1 563.7L529.3 564.7L544.5 575.6L545.3 574.6ZM713.9 484.2L712.5 484.3L714.5 502.5L715.8 502.4ZM694.2 486.9L693 487.1L696.6 505.1L697.7 504.9ZM546.6 575.6L545.9 576.6L561.1 587.5L561.8 586.6ZM698 506.6L696.9 506.8L700.5 524.7L701.5 524.5ZM563.2 587.6L562.5 588.5L577.7 599.4L578.4 598.6ZM718.7 564.1L715.2 564.5L717.9 582.6L721 582.2ZM719.8 604.2L718.3 604.5L721.6 622.5L722.8 622.3ZM725.2 623.7L721.6 624.2L724.9 642.2L727.8 641.8Z" fill="#d9d9d9"/>
<path d="M187.54 726.47L168.61 726.89M187.6 728.78L168.67 729.29M187.74 733.16L168.82 733.82M730.9 201.82L730.64 183.52M727.75 201.87L727.38 183.57M726.95 201.88L726.56 183.59M241.99 533.63L224.27 527.19M241.14 535.83L223.39 529.47M240.07 538.63L222.29 532.36M208.22 727.13L189.29 727.6M208.26 728.46L189.33 728.98M208.37 731.91L189.45 732.55M208.46 734.21L189.54 734.93M723.94 221.93L723.41 203.63M261.72 539.66L244.01 533.18M261.12 541.2L243.39 534.77M260.76 542.14L243.01 535.75M229.08 732.74L210.16 733.44M1247.12 726.83L1266.05 727.3M1247.18 724.28L1266.11 724.66M1247.25 720.7L1266.18 720.95M725.81 241.86L725.33 223.56M724.44 241.89L723.92 223.6M280.95 546.97L263.24 540.5M280.23 548.8L262.5 542.4M279.6 550.44L261.84 544.11M278.93 552.23L261.14 545.96M249.58 727.82L230.65 728.35M1226.44 727.19L1245.37 727.71M1226.48 725.61L1245.41 726.06M1226.55 722.75L1245.48 723.09M1226.58 720.53L1245.52 720.78M729.93 261.75L729.6 243.45M727.61 261.79L727.19 243.5M726.54 261.82L726.07 243.52M725.44 261.84L724.93 243.55M300.04 554.62L282.32 548.17M299.5 556.02L281.76 549.63M299.04 557.22L281.28 550.87M292.69 574.95L274.67 569.33M291.49 578.6L273.42 573.13M270.17 725.01L251.24 725.45M270.2 726.18L251.27 726.68M270.27 728.41L251.34 728.99M270.32 729.84L251.4 730.48M1205.8 726.13L1224.73 726.62M1205.87 723.15L1224.8 723.52M1205.92 720.38L1224.85 720.64M731.02 281.7L730.72 263.4M727.09 281.78L726.63 263.48M725.62 281.82L725.1 263.52M711.37 282.42L710.25 264.15M708.22 282.61L706.96 264.35M318.9 562.9L301.16 556.5M318.05 565.11L300.28 558.81M312.43 580.85L294.42 575.21M290.83 724.86L271.9 725.32M290.89 726.86L271.96 727.4M290.94 728.29L272.01 728.89M290.96 728.95L272.04 729.59M291.04 731.15L272.12 731.87M1185.17 724.82L1204.1 725.28M1185.22 722.58L1204.15 722.95M1185.25 720.74L1204.19 721.03M732.78 301.65L732.55 283.35M731.97 301.66L731.7 283.36M731.02 301.68L730.71 283.38M716.4 302.15L715.44 283.87M711.72 302.4L710.55 284.14M709.9 302.52L708.66 284.25M706.8 302.72L705.41 284.47M338.78 568.53L321.06 562.07M337.96 570.64L320.21 564.28M337.41 572.09L319.63 565.79M333.66 582.39L315.72 576.55M332.96 584.43L314.99 578.68M311.49 724.43L292.56 724.89M311.55 726.5L292.62 727.05M311.57 727.33L292.65 727.92M311.68 730.13L292.76 730.85M1164.5 724.83L1183.43 725.31M1164.55 722.85L1183.48 723.25M1164.59 720.79L1183.52 721.09M1164.61 719.42L1183.54 719.66M729.88 321.67L729.5 303.37M727.92 321.71L727.45 303.42M726.8 321.74L726.28 303.45M715.33 322.2L714.27 303.93M713.71 322.29L712.58 304.03M712.02 322.39L710.81 304.13M707.72 322.68L706.3 304.43M358.04 575.75L340.32 569.31M357.04 578.36L339.27 572.03M356.56 579.63L338.77 573.36M353.75 587.32L335.83 581.41M353.38 588.39L335.44 582.53M352.74 590.21L334.78 584.44M351.37 594.28L333.34 588.7M350.67 596.42L332.6 590.93M332.15 724.2L313.22 724.68M332.22 726.62L313.3 727.21M332.25 727.53L313.33 728.16M332.28 728.18L313.36 728.84M332.32 729.29L313.4 730M1143.84 724.5L1162.77 724.99M1143.89 722.43L1162.82 722.83M1143.94 719.99L1162.87 720.26M733.45 341.59L733.23 323.29M727.4 341.7L726.88 323.41M717.52 342.09L716.52 323.81M714.43 342.26L713.28 323.99M377.17 583.33L359.44 576.9M376.75 584.41L359 578.05M375.97 586.46L358.18 580.19M373.07 594.43L355.14 588.55M372.64 595.68L354.68 589.87M370.75 601.26L352.71 595.72M370.42 602.27L352.36 596.78M352.79 723.26L333.87 723.71M352.84 724.89L333.91 725.43M352.9 726.89L333.98 727.52M352.96 728.28L334.04 728.98M1123.26 720.96L1142.19 721.3M1123.29 718.78L1142.23 719.01M392.82 600.33L374.9 594.43M392.42 601.47L374.48 595.63M391.93 602.88L373.96 597.11M391.52 604.09L373.53 598.38M455.98 713.48L437.05 713.44M476.64 713.52L457.71 713.48M497.31 715.78L478.37 715.92M497.32 716.72L478.38 716.93M497.33 717.5L478.4 717.77M497.35 718.67L478.42 719.04M497.36 719.26L478.43 719.67M497.3 713.55L478.37 713.52M517.97 715.65L499.04 715.79M517.98 716.92L499.05 717.17M517.99 717.47L499.06 717.77M518 717.85L499.07 718.18M518 718.17L499.07 718.53M518.01 718.45L499.08 718.83M517.96 713.59L499.03 713.56M538.63 715.91L519.7 716.09M538.64 716.58L519.71 716.82M538.65 717.11L519.72 717.4M538.66 717.54L519.73 717.88M538.67 718.32L519.74 718.73M538.62 713.63L519.69 713.59M559.29 715.35L540.36 715.5M559.29 715.7L540.36 715.88M559.29 715.96L540.36 716.17M559.3 716.41L540.37 716.66M559.32 717.31L540.39 717.66M559.28 713.67L540.35 713.63M579.95 715.26L561.02 715.42M579.95 715.76L561.02 715.97M579.96 716.4L561.03 716.68M579.97 716.77L561.04 717.1M579.98 717.03L561.05 717.39M579.94 713.71L561.01 713.67M600.61 715.41L581.68 715.6M600.62 715.71L581.68 715.95M600.62 715.9L581.69 716.16M600.63 716.31L581.7 716.62M600.64 716.94L581.71 717.35M600.61 713.75L581.67 713.71M621.27 715.17L602.34 715.36M621.28 715.45L602.34 715.68M621.28 715.75L602.35 716.03M621.29 716.13L602.36 716.47M621.29 716.49L602.37 716.89M621.27 713.78L602.33 713.75M852.55 735.71L871.13 739.23M852.89 733.95L871.53 737.19M853.47 730.55L872.2 733.24M853.95 727.08L872.75 729.2M854.31 723.56L873.18 725.11M641.93 714.84L623 715.01M641.93 715.07L623 715.28M641.94 715.41L623.01 715.69M641.94 715.62L623.01 715.94M641.95 716.06L623.02 716.47M641.93 713.82L622.99 713.79M832.12 732.65L850.66 736.32M832.3 731.74L850.89 735.24M832.58 730.3L851.22 733.51M832.86 728.69L851.56 731.58M833.28 725.89L852.06 728.23M833.53 723.84L852.36 725.78M833.62 722.97L852.47 724.74M833.73 721.82L852.6 723.36M833.82 720.67L852.71 721.99M662.59 714.62L643.66 714.78M662.59 714.81L643.66 715.01M662.6 715.17L643.67 715.47M662.6 715.37L643.67 715.71M662.61 715.57L643.68 715.97M662.59 713.86L643.65 713.82M812.12 727.44L830.73 730.81M812.47 725.49L831.17 728.37M812.66 724.26L831.41 726.83M812.86 722.8L831.65 725.01M813.02 721.46L831.85 723.34M813.18 719.76L832.05 721.2" stroke="#d9d9d9" stroke-width="0.3" fill="none"/>
<path d="M730.15 181.85L729.88 163.56M727.76 181.89L727.41 163.6M725.82 181.93L725.4 163.63M187.56 727.36L168.63 727.82M187.66 730.72L168.73 731.29M187.8 734.59L168.88 735.3M724.81 201.93L724.34 183.63M228.87 726.42L209.94 726.88M228.93 728.47L210 729.01M229.01 731.02L210.09 731.65M732.16 241.74L731.94 223.45M730.44 241.77L730.15 223.47M249.75 732.76L230.84 733.48M731.79 261.72L731.54 243.42M295.01 568.18L277.09 562.28M294.39 569.96L276.45 564.13M293.36 572.97L275.37 567.27M270.03 713.13L251.1 713.1M732.51 281.68L732.28 263.38M713.26 282.31L712.21 264.04M314.39 575.13L296.46 569.26M313.3 578.28L295.33 572.54M290.69 713.17L271.76 713.13M729.58 301.7L729.21 283.4M713.76 302.29L712.69 284.02M331.65 588.3L313.62 582.73M311.35 713.21L292.42 713.17M710.29 322.5L709 304.25M352.07 592.18L334.07 586.5M332.18 725.39L313.26 725.92M332.01 713.25L313.08 713.21M731.8 341.61L731.49 323.31M730.58 341.63L730.21 323.33M729.44 341.65L729.02 323.36M711.22 342.46L709.91 324.2M371.53 598.93L353.52 593.28M352.67 713.28L333.74 713.25M390.65 606.66L372.62 601.09M373.34 713.32L354.4 713.29M394.05 720.09L375.12 720.43M394.28 727.63L375.37 728.38M394 713.36L375.06 713.33M429.37 620.8L411.3 615.34M414.66 713.4L395.72 713.36M449.09 626.76L431.02 621.3M435.32 713.44L416.38 713.4M468.81 632.71L450.74 627.25M488.53 638.67L470.46 633.21M718.8 522.19L716.98 503.97M644.34 646.65L629.15 635.73M660.92 658.57L645.73 647.65M677.5 670.49L662.31 659.57" stroke="#d9d9d9" stroke-width="0.5" fill="none"/>
<path d="M724.27 181.97L723.8 163.67M187.39 712.98L168.45 712.94M729.18 201.84L728.87 183.54M696.88 203.31L695.41 185.07M288.82 442.18L272.77 432.47M208.05 716.68L189.12 716.78M208.05 713.02L189.11 712.98M731.51 221.78L731.27 203.48M726.45 221.87L726.02 203.57M306.33 452.78L290.28 443.07M228.71 713.05L209.78 713.02M728.45 241.8L728.08 223.5M323.84 463.38L307.8 453.66M249.37 713.09L230.44 713.06M728.79 261.77L728.42 243.47M341.36 473.97L325.31 464.26M728.87 281.74L728.49 263.44M329.2 538.49L311.9 531.06M727.14 301.75L726.66 283.46M348.09 546.6L330.78 539.17M732.32 321.63L732.05 303.33M366.97 554.71L349.67 547.28M367.55 611.5L349.35 606.46M385.85 562.81L368.55 555.38M387.42 616.99L369.22 611.96M373.57 726.76L354.65 727.42M434.01 607.49L416.21 601.26M453.44 614.3L435.64 608.06M473.92 618.31L456.2 611.89M472.86 621.1L455.06 614.87M493.27 625.32L475.54 618.9M492.28 627.91L474.48 621.67M704.82 544.26L701.3 526.28M594.62 610.89L579.43 599.96M708.65 563.89L705.14 545.9M611.19 622.81L596 611.88M713.08 583.4L709.65 565.41M627.77 634.73L612.58 623.8M717.53 602.92L714.21 584.9" stroke="#d9d9d9" stroke-width="0.8" fill="none"/>
<path d="M738 1A737.7 713 0 1 0 1475.7 714L1456.4 714A718.4 694.4 0 1 1 738 19.6Z" fill="#dbe0e7"/>
<path d="M738 19.6L738 13.5A724.8 700.5 0 0 0 726.6 13.5L726.6 12.9A725.5 701.2 0 0 0 716.5 13.1L716.5 13.8L715.2 13.8L715.2 13.1A725.5 701.2 0 0 0 708.9 13.3L708.9 14A724.8 700.5 0 0 0 690 15L689.9 14.3A725.5 701.2 0 0 0 678.6 15.1L678.5 15A725.6 701.4 0 0 0 648.3 18L648.4 18.8A724.8 700.6 0 0 0 639.6 19.9L639.7 20.6A724 699.8 0 0 0 632.2 21.7L632.1 20.9A724.8 700.6 0 0 0 623.4 22.2L623.5 23A724 699.8 0 0 0 614.8 24.4L614.6 23.6L613.4 23.8L613.5 24.6L612.3 24.8L612.1 24A724.8 700.6 0 0 0 608.4 24.7L608.3 23.9L607 24.1L606.4 21.1A728.8 704.5 0 0 0 601.4 22L601.3 21.2A729.7 705.2 0 0 0 597.5 21.9L598.1 25A726.4 702.1 0 0 0 590.7 26.4L590.8 27.2A725.6 701.4 0 0 0 154.7 296.8L153.4 295.9A727.2 702.9 0 0 0 92.3 390.5L93.1 390.9A726.4 702.1 0 0 0 69.8 438.5L70.5 438.8L69.5 441.1L68.8 440.8A726.4 702.1 0 0 0 61.2 458.9L61.9 459.2L61.5 460.4L58.5 459.2A728.8 704.5 0 0 0 56.7 463.8L55.9 463.6A729.7 705.2 0 0 0 52.8 471.6L53.5 471.9L53.1 473.1L59.9 475.4L59.5 476.6L52.7 474.2A728.8 704.5 0 0 0 49.3 483.5L48.5 483.2L47.7 485.6L48.4 485.8L47.6 488.1L48.4 488.4L48 489.5L47.2 489.3A728.8 704.5 0 0 0 44.8 496.3L44.1 496.1L43.3 498.4L42.5 498.2A730.5 706 0 0 0 39.5 507.6L40.2 507.8A729.7 705.2 0 0 0 36.6 519.6L35.8 519.4A730.5 706 0 0 0 7.5 715.2L0.3 715.2L0.3 719L3.6 719A734.5 709.9 0 0 0 3.8 732.6L0.6 732.7A737.7 713 0 0 0 1.8 758.8L2.6 758.7A736.9 712.2 0 0 0 4.6 783.5L3.9 783.6A737.7 713 0 0 0 49.3 969.5L66.5 963.2L67.4 965.4L67.1 965.5A719.6 695.6 0 0 0 70.3 973.4L69.9 973.6A720 695.9 0 0 0 73.7 982.6L73.4 982.7A720.4 696.3 0 0 0 81.4 1000.6L81.8 1000.4A720 695.9 0 0 0 84.4 1005.9L84.7 1005.8L86.3 1009.1L86.6 1008.9A719.3 695.2 0 0 0 116.3 1063.7L116 1063.9A719.6 695.6 0 0 0 119.9 1070.2L119.5 1070.4A720 695.9 0 0 0 137.6 1098.1L137.9 1097.9A719.6 695.6 0 0 0 141.4 1103L141.1 1103.2A720 695.9 0 0 0 143.2 1106.2L143.5 1106L144.9 1108L144.6 1108.2A720 695.9 0 0 0 160.7 1129.9L160.4 1130.1A720.4 696.3 0 0 0 163.4 1134L163.7 1133.8A720 695.9 0 0 0 188 1163.2L188.4 1163A719.6 695.6 0 0 0 207.4 1183.9L207.1 1184.2A720 695.9 0 0 0 252.5 1227.9L252.2 1228.2A720.4 696.3 0 0 0 257.8 1233.1L257.5 1233.4A720.8 696.7 0 0 0 261.3 1236.6L261 1236.9A721.2 697.1 0 0 0 266.7 1241.7L266.5 1242A721.6 697.5 0 0 0 276.1 1249.9L276.3 1249.6L279.2 1251.9L279.5 1251.6A720.8 696.7 0 0 0 283.4 1254.7L283.6 1254.4A720.4 696.3 0 0 0 288.5 1258.2L288.8 1257.9A720 695.9 0 0 0 291.7 1260.2L291.5 1260.5A720.4 696.3 0 0 0 302.4 1268.7L302.2 1269A720.8 696.7 0 0 0 309.2 1274.1L309 1274.4A721.2 697.1 0 0 0 313.1 1277.3L313.3 1276.9A720.8 696.7 0 0 0 317.4 1279.8L317.6 1279.5L320.7 1281.6L320.9 1281.3A720 695.9 0 0 0 325 1284.1L325.2 1283.8A719.6 695.6 0 0 0 339.8 1293.3L339.5 1293.7A720 695.9 0 0 0 343.7 1296.3L343.5 1296.7L346.7 1298.7L346.5 1299A720.8 696.7 0 0 0 350.7 1301.6L350.5 1301.9A721.2 697.1 0 0 0 359 1307.1L359.2 1306.8A720.8 696.7 0 0 0 366.7 1311.2L367 1310.9A720.4 696.3 0 0 0 375.6 1315.8L375.8 1315.5A720 695.9 0 0 0 380.2 1317.9L380 1318.3A720.4 696.3 0 0 0 387.6 1322.4L387.4 1322.8A720.8 696.7 0 0 0 397.4 1328L397.2 1328.4A721.2 697.1 0 0 0 405 1332.3L405.2 1332A720.8 696.7 0 0 0 410.7 1334.8L410.9 1334.4A720.4 696.3 0 0 0 415.4 1336.6L415.6 1336.3A720 695.9 0 0 0 424.6 1340.6L424.8 1340.2A719.6 695.6 0 0 0 501.3 1370.9L501.4 1370.6A719.3 695.2 0 0 0 509.8 1373.3L509.7 1373.6A719.6 695.6 0 0 0 521.6 1377.4L521.7 1377.1A719.3 695.2 0 0 0 536.1 1381.3L536 1381.6A719.6 695.6 0 0 0 540.9 1383L540.9 1382.6A719.3 695.2 0 0 0 709.1 1408.7L709.1 1409A719.6 695.6 0 0 0 733 1409.5L733 1409.2A719.3 695.2 0 0 0 980.5 1368.5L980.6 1368.9A719.6 695.6 0 0 0 1002.9 1360.7L1002.8 1360.4A719.3 695.2 0 0 0 1109.5 1309.3L1109.7 1309.6A719.6 695.6 0 0 0 1129.9 1297.3L1129.8 1297.1A719.3 695.2 0 0 0 1184.8 1258.9L1185 1259.1A719.6 695.6 0 0 0 1207.3 1241.3L1207 1241.1A719.3 695.2 0 0 0 1275.9 1175.6L1276.1 1175.8A719.6 695.6 0 0 0 1283.6 1167.6L1283.9 1167.8A720 695.9 0 0 0 1286.3 1165.1L1286.6 1165.3A720.4 696.3 0 0 0 1289.9 1161.6L1290.2 1161.8A720.8 696.7 0 0 0 1302.1 1147.7L1302.4 1148A721.2 697.1 0 0 0 1307.1 1142.2L1306.8 1142A720.8 696.7 0 0 0 1309.9 1138.1L1309.6 1137.9A720.4 696.3 0 0 0 1314.9 1131.1L1314.6 1130.9A720 695.9 0 0 0 1318.3 1126L1318.6 1126.2L1320.8 1123.3L1321.2 1123.5A720.8 696.7 0 0 0 1323.4 1120.6L1323.7 1120.8A721.2 697.1 0 0 0 1326.6 1116.8L1327 1117.1A721.6 697.5 0 0 0 1338.4 1101L1338 1100.8A721.2 697.1 0 0 0 1340.1 1097.7L1339.8 1097.5L1341.9 1094.5L1341.5 1094.3A720.4 696.3 0 0 0 1345.6 1088.1L1345.9 1088.4A720.8 696.7 0 0 0 1348 1085.3L1348.3 1085.5A721.2 697.1 0 0 0 1350.3 1082.4L1350.6 1082.6A721.6 697.5 0 0 0 1422.7 934.2L1422.4 934A721.2 697.1 0 0 0 1424.3 928.3L1424.7 928.4A721.6 697.5 0 0 0 1426.6 922.6L1427 922.7L1428.1 919.2L1428.5 919.3L1429.2 917L1429.6 917.1A722.8 698.7 0 0 0 1433.5 904.2L1433.9 904.3A723.2 699 0 0 0 1437.2 892.6L1436.9 892.5L1437.8 888.9L1437.4 888.8A722.4 698.3 0 0 0 1439.3 881.7L1439.7 881.8A722.8 698.7 0 0 0 1441.7 873.5L1442.1 873.6A723.2 699 0 0 0 1443 870.1L1442.6 870A722.8 698.7 0 0 0 1444.2 862.8L1444.6 862.9A723.2 699 0 0 0 1447.2 851L1447.6 851.1L1448.1 848.7L1448.5 848.7A724 699.8 0 0 0 1449.4 843.9L1449.8 844A724.4 700.2 0 0 0 1450.5 840.4L1450.9 840.5L1451.2 839.3L1451.6 839.3L1452 836.9L1452.4 837L1452.8 834.6L1453.2 834.7L1453.4 833.4L1453.1 833.4L1453.5 831L1453.9 831A726 701.8 0 0 0 1456.3 816.5L1455.9 816.5A725.6 701.4 0 0 0 1456.8 810.4L1456.4 810.3L1456.7 807.9L1456.3 807.9A724.8 700.6 0 0 0 1456.8 804.2L1456.4 804.2L1456.6 803L1457 803A724.8 700.6 0 0 0 1459.1 784.8L1458.7 784.8A724.4 700.2 0 0 0 1460.4 766.5L1460 766.5A724 699.8 0 0 0 1460.5 759.2L1460.1 759.1A723.6 699.4 0 0 0 1460.6 750.6L1460.2 750.6A723.2 699 0 0 0 1460.7 742.1L1461.1 742.1A723.6 699.4 0 0 0 1461.2 737.2L1460.8 737.2L1460.9 734.7L1460.5 734.7L1460.6 732.3L1460.2 732.3A722.4 698.3 0 0 0 1460.3 728.6L1459.9 728.6A722 697.9 0 0 0 1460 723.7L1459.6 723.7A721.6 697.5 0 0 0 1459.6 720.1L1460 720.1L1460 718.9L1459.6 718.9L1459.6 716.4L1459.2 716.4L1459.2 715.2L1458.8 715.2L1458.8 714L1456.4 714A718.4 694.4 0 1 1 738 19.6Z" fill="#022d52"/>
<path d="M738 21A717 693 0 1 0 1455 714L1435.8 714A697.8 674.5 0 1 1 738 39.5Z" fill="#dbe0e7"/>
<path d="M738 39.5L738 35A702.5 679 0 0 0 727 35.1L727 34.9A702.7 679.2 0 0 0 717.2 35.1L717.2 35.3L715.9 35.4L715.9 35.1A702.7 679.2 0 0 0 709.8 35.3L709.8 35.6A702.5 679 0 0 0 691.4 36.5L691.4 36.3A702.7 679.2 0 0 0 680.4 37.1L680.4 36.5A703.3 679.8 0 0 0 673 37.1L672.8 34.7L671.6 34.8L671.8 37.2A703.3 679.8 0 0 0 658.4 38.6L658.2 37.1L657 37.3L657.2 38.7A703.3 679.8 0 0 0 651.1 39.4L651.1 39.7A703 679.5 0 0 0 642.6 40.8L642.6 41.1A702.6 679.1 0 0 0 635.4 42.1L635.3 41.8A703 679.5 0 0 0 626.8 43.1L626.9 43.4A702.6 679.1 0 0 0 618.4 44.8L618.3 44.4L617.1 44.6L617.2 45L616 45.2L615.9 44.9A703 679.5 0 0 0 612.3 45.5L612.2 45.2L611 45.4L610.8 44.3A704.4 680.8 0 0 0 606 45.2L606 45A704.6 681.1 0 0 0 602.3 45.7L602.5 46.7A703.6 680.1 0 0 0 595.3 48.1L595.4 48.4A703.3 679.8 0 0 0 563.1 55.6L562.1 51.8L560.9 52.1L561.9 55.9A703.3 679.8 0 0 0 524.2 66.4L523.5 64.4L522.3 64.7L523 66.8A703.3 679.8 0 0 0 466.6 86.9L465.7 84.7L464.5 85.2L465.5 87.3L463.2 88.3L462.4 86.5L461.3 87L462.1 88.7A703.3 679.8 0 0 0 437.4 99.4L436.6 97.7L435.5 98.2L436.3 99.9A703.3 679.8 0 0 0 422 106.7L421.5 105.7L420.4 106.2L420.9 107.2A703.3 679.8 0 0 0 402.4 116.6L401.7 115.4L400.7 116L401.3 117.2A703.3 679.8 0 0 0 398.1 118.9L396.3 115.6L395.2 116.2L397 119.5A703.3 679.8 0 0 0 347.8 148.5L347.1 147.5L346.1 148.1L346.8 149.1A703.3 679.8 0 0 0 330.6 159.9L329.4 158.2L328.4 158.9L329.6 160.6A703.3 679.8 0 0 0 298.3 183.5L297 182L296 182.7L297.3 184.2A703.3 679.8 0 0 0 281.2 197.1L280 195.7L279.1 196.5L280.3 197.9A703.3 679.8 0 0 0 237.2 236.7L235.7 235.2L234.8 236L236.4 237.5A703.3 679.8 0 0 0 224.5 249.5L221.3 246.6L220.4 247.5L223.6 250.4A703.3 679.8 0 0 0 221.1 253L218.9 251L218 251.9L220.3 253.9A703.3 679.8 0 0 0 172.7 309.7L172.2 309.3A703.9 680.3 0 0 0 164.3 319.9L163.7 319.5L163 320.5L163.5 320.9A703.9 680.3 0 0 0 160.7 324.8L159.7 324.1L159 325.1L160 325.7A703.9 680.3 0 0 0 153.8 334.5L150.9 332.7L150.2 333.7L153.1 335.5A703.9 680.3 0 0 0 148.4 342.5L145.8 340.9L145.1 341.9L147.7 343.5A703.9 680.3 0 0 0 143 350.5L139.5 348.3L138.8 349.3L142.4 351.5A703.9 680.3 0 0 0 113.1 400.9L113.3 401A703.6 680.1 0 0 0 109.4 408.4L107.9 407.7L107.3 408.7L108.9 409.5L108.3 410.6L105.8 409.3L105.2 410.4L107.8 411.6A703.6 680.1 0 0 0 90.8 447.2L91.1 447.3L90.1 449.5L89.9 449.4A703.6 680.1 0 0 0 82.5 467L82.7 467.1L82.3 468.2L81.3 467.8A704.4 680.8 0 0 0 79.5 472.2L79.3 472.1A704.6 681.1 0 0 0 76.3 479.9L76.5 480L76.1 481.1L78.8 482.1L78.4 483.2L75.7 482.3A704.4 680.8 0 0 0 72.4 491.2L72.2 491.1L71.3 493.4L71.6 493.5L70.8 495.7L71 495.8L70.6 496.9L70.4 496.8A704.4 680.8 0 0 0 68.1 503.6L67.8 503.5L67.1 505.8L66.9 505.7A704.9 681.3 0 0 0 63.9 514.8L62.4 514.4L62.1 515.5L63.8 516A704.6 681.1 0 0 0 60.7 526.3L56 525L55.7 526.1L60.1 527.3A704.9 681.3 0 0 0 54.4 548L50.3 547L50 548.2L54.1 549.2A704.9 681.3 0 0 0 46.8 580.5L45.1 580.2L44.9 581.4L46.5 581.7A704.9 681.3 0 0 0 42.2 605.1L39.8 604.7L39.6 605.9L42 606.2A704.9 681.3 0 0 0 41 612.1L37.5 611.6L37.3 612.8L40.9 613.3A704.9 681.3 0 0 0 38.8 627.4L35.4 627L35.3 628.2L38.7 628.6A704.9 681.3 0 0 0 35.9 653.4L34 653.3L33.8 654.5L35.8 654.6A704.9 681.3 0 0 0 33.1 715.2L31.3 715.2L31.3 718.8L32 718.8A706 682.4 0 0 0 32.1 724.7L21.1 724.9L21.1 726.1L32.1 725.9A706 682.4 0 0 0 32.3 731.9L31.5 731.9A706.7 683.1 0 0 0 32.6 756.9L32.8 756.9A706.6 682.9 0 0 0 33.5 766.4L31.5 766.5L31.6 767.7L33.6 767.6A706.6 682.9 0 0 0 34.3 775.9L28.6 776.4L28.7 777.6L28.9 777.6L29 778.8L29.1 778.8L29.3 780L29.4 779.9L29.5 781.1L29.5 781.1L29.6 782.3L29.7 782.3L29.9 783.5L30 783.5L30.1 784.7L30.3 784.7L30.4 785.9L30.6 785.9L30.7 787.1L26.4 787.5L26.5 788.7L31.1 788.2L31.2 789.4L31.4 789.4L31.5 790.6L31.7 790.6L31.8 791.8L31.9 791.8L32.1 792.9L30.8 793.1L30.9 794.3L32.5 794.1L32.7 795.3L32.8 795.3L33 796.5L33.1 796.5L33.2 797.6L33.4 797.6L33.5 798.8L33.7 798.8L33.8 800L34 800L34.1 801.2L34.3 801.1L34.4 802.3L34.6 802.3L34.7 803.5L34.9 803.5L35 804.7L35.2 804.6L35.4 805.8L35.5 805.8L35.7 807L35.8 807L36 808.2L36.1 808.1L36.3 809.3L36.4 809.3L36.6 810.5L33.5 810.9L33.7 812.1L37.1 811.6L37.2 812.8L37.4 812.8L37.6 814L37.7 814L37.9 815.1L38 815.1L38.2 816.3L38.3 816.3L38.5 817.5L38.7 817.4L38.9 818.6L39 818.6L39.2 819.8L39.3 819.7L39.5 820.9L39.7 820.9L39.9 822.1L40 822.1L40.2 823.2L40.3 823.2A706.7 683.1 0 0 0 50.8 873.5L48.5 874L48.8 875.2L51.1 874.6A706.7 683.1 0 0 0 56.6 895.4L54.8 895.9L55.1 897L57 896.6A706.7 683.1 0 0 0 74.7 949.9L73.7 950.2L74.1 951.4L75.2 951A706.7 683.1 0 0 0 78.2 958.8L84.8 956.3L85.7 958.6L85.3 958.7A700.1 676.7 0 0 0 88.5 966.4L88.1 966.5A700.4 677 0 0 0 91.8 975.3L91.6 975.4A700.7 677.3 0 0 0 99.4 992.7L99.6 992.6A700.4 677 0 0 0 102.2 998L102.5 997.8L104 1001L104.4 1000.9A699.7 676.3 0 0 0 133.3 1054.2L133 1054.4A700.1 676.7 0 0 0 136.7 1060.5L136.4 1060.6A700.4 677 0 0 0 153.9 1087.7L154.2 1087.5A700.1 676.7 0 0 0 157.6 1092.4L157.3 1092.6A700.4 677 0 0 0 159.4 1095.5L159.7 1095.3L161.1 1097.3L160.8 1097.4A700.4 677 0 0 0 176.4 1118.6L176.2 1118.8A700.7 677.3 0 0 0 179.1 1122.5L179.4 1122.4A700.4 677 0 0 0 203 1151L203.3 1150.8A700.1 676.7 0 0 0 221.9 1171.1L221.6 1171.4A700.4 677 0 0 0 263.9 1212.3L262.5 1213.8L263.5 1214.6L264.8 1213.1L265.7 1213.9L265.5 1214.1A700.7 677.3 0 0 0 271 1218.9L270.8 1219.1A701 677.5 0 0 0 274.4 1222.2L274.3 1222.4A701.2 677.8 0 0 0 279.8 1227.1L279.6 1227.3A701.5 678 0 0 0 289 1234.9L289.1 1234.7L292 1237L292.1 1236.8A701 677.5 0 0 0 295.9 1239.8L296.1 1239.6A700.7 677.3 0 0 0 300.8 1243.3L301 1243.1A700.4 677 0 0 0 303.9 1245.3L303.7 1245.5A700.7 677.3 0 0 0 314.3 1253.5L314.2 1253.7A701 677.5 0 0 0 321 1258.6L320.9 1258.8A701.2 677.8 0 0 0 324.8 1261.6L325 1261.4A701 677.5 0 0 0 328.9 1264.2L329.1 1264L332.1 1266.1L332.3 1265.8A700.4 677 0 0 0 336.3 1268.6L336.5 1268.3A700.1 676.7 0 0 0 350.6 1277.6L350.4 1277.9A700.4 677 0 0 0 354.5 1280.5L354.3 1280.7L357.4 1282.7L357.2 1282.9A701 677.5 0 0 0 361.4 1285.4L361.2 1285.6A701.2 677.8 0 0 0 369.5 1290.7L369.7 1290.5A701 677.5 0 0 0 373.8 1292.9L372.7 1294.7L373.8 1295.3L374.9 1293.5L377 1294.8L377.1 1294.5A700.7 677.3 0 0 0 385.5 1299.4L385.7 1299.1A700.4 677 0 0 0 389.9 1301.5L389.8 1301.7A700.7 677.3 0 0 0 397.2 1305.8L397.1 1306A701 677.5 0 0 0 406.7 1311.1L406.6 1311.3A701.2 677.8 0 0 0 414.2 1315.2L414.3 1315A701 677.5 0 0 0 419.8 1317.7L419.9 1317.5A700.7 677.3 0 0 0 424.2 1319.6L424.4 1319.3A700.4 677 0 0 0 428.8 1321.4L427.9 1323.2L429 1323.7L429.9 1322A700.4 677 0 0 0 433.2 1323.5L433.3 1323.2A700.1 676.7 0 0 0 507.8 1353L507.9 1352.6A699.7 676.3 0 0 0 516 1355.3L515.9 1355.7A700.1 676.7 0 0 0 527.5 1359.3L527.6 1359A699.7 676.3 0 0 0 541.6 1363.1L541.5 1363.5A700.1 676.7 0 0 0 546.2 1364.8L546.3 1364.4A699.7 676.3 0 0 0 709.9 1389.7L709.9 1390.1A700.1 676.7 0 0 0 733.1 1390.6L733.1 1390.2A699.7 676.3 0 0 0 973.9 1350.7L974 1351A700.1 676.7 0 0 0 995.7 1343.1L995.6 1342.8A699.7 676.3 0 0 0 1099.4 1293.1L1099.6 1293.4A700.1 676.7 0 0 0 1119.3 1281.5L1119.1 1281.2A699.7 676.3 0 0 0 1172.6 1244L1172.8 1244.3A700.1 676.7 0 0 0 1194.5 1227L1194.2 1226.7A699.7 676.3 0 0 0 1261.2 1163L1261.5 1163.2A700.1 676.7 0 0 0 1268.7 1155.2L1269 1155.5A700.4 677 0 0 0 1271.4 1152.8L1271.6 1153A700.7 677.3 0 0 0 1274.8 1149.3L1275 1149.5A701 677.5 0 0 0 1286.6 1135.8L1286.8 1135.9A701.2 677.8 0 0 0 1291.3 1130.4L1291.1 1130.2A701 677.5 0 0 0 1294.1 1126.5L1293.9 1126.3A700.7 677.3 0 0 0 1299.1 1119.7L1298.8 1119.5A700.4 677 0 0 0 1302.5 1114.8L1302.7 1115L1304.9 1112.1L1305.1 1112.3A701 677.5 0 0 0 1307.3 1109.4L1307.5 1109.5A701.2 677.8 0 0 0 1310.3 1105.7L1310.5 1105.8A701.5 678 0 0 0 1321.6 1090.2L1321.4 1090.1A701.2 677.8 0 0 0 1323.4 1087.1L1323.2 1087L1325.2 1084L1325 1083.9A700.7 677.3 0 0 0 1329 1077.9L1329.2 1078A701 677.5 0 0 0 1331.2 1075L1331.4 1075.2A701.2 677.8 0 0 0 1333.3 1072.2L1333.5 1072.3A701.5 678 0 0 0 1379.3 988.7L1380.8 989.3L1381.3 988.2L1379.8 987.6A701.5 678 0 0 0 1400.5 937L1402.4 937.6L1402.8 936.5L1400.9 935.9A701.5 678 0 0 0 1403.6 928L1403.4 927.9A701.2 677.8 0 0 0 1405.3 922.3L1405.5 922.4A701.5 678 0 0 0 1407.4 916.8L1407.6 916.8L1408.7 913.4L1408.9 913.5L1409.6 911.2L1409.8 911.3A702.1 678.6 0 0 0 1413.6 898.8L1413.8 898.8A702.3 678.8 0 0 0 1417 887.4L1416.8 887.4L1417.7 883.9L1417.5 883.9A701.9 678.4 0 0 0 1419.3 877L1419.5 877A702.1 678.6 0 0 0 1421.6 869L1421.7 869A702.3 678.8 0 0 0 1422.6 865.5L1422.4 865.5A702.1 678.6 0 0 0 1424 858.6L1424.2 858.6A702.3 678.8 0 0 0 1426.7 847L1426.9 847L1427.3 844.7L1427.5 844.8A702.6 679.1 0 0 0 1428.4 840.1L1428.6 840.1A702.8 679.3 0 0 0 1429.3 836.6L1429.4 836.7L1429.7 835.5L1429.8 835.5L1430.2 833.2L1430.4 833.2L1430.8 830.9L1431 830.9L1431.2 829.7L1431 829.7L1431.4 827.4L1433 827.6L1433.2 826.4L1431.8 826.2A703.4 679.9 0 0 0 1433.9 813.3L1433.7 813.3A703.3 679.8 0 0 0 1434.6 807.4L1434.5 807.4L1434.8 805.1L1434.6 805A703 679.5 0 0 0 1435.1 801.5L1435 801.5L1435.1 800.3L1435.3 800.3A703 679.5 0 0 0 1437.4 782.7L1437.2 782.6A702.8 679.3 0 0 0 1438.8 764.9L1438.7 764.9A702.6 679.1 0 0 0 1439.2 757.8L1439 757.8A702.5 679 0 0 0 1439.5 749.5L1439.3 749.5L1439.5 747.2L1441.6 747.3L1441.7 746.1L1439.5 746A702.3 678.8 0 0 0 1439.7 741.2L1439.9 741.2A702.5 679 0 0 0 1440.1 736.5L1439.9 736.5L1440 734.1L1439.8 734.1L1439.9 731.8L1439.7 731.8A701.9 678.4 0 0 0 1439.7 728.2L1439.5 728.2A701.7 678.2 0 0 0 1439.6 723.5L1439.4 723.5A701.5 678 0 0 0 1439.4 719.9L1439.7 719.9L1439.7 718.7L1439.5 718.7L1439.5 716.4L1439.2 716.4L1439.2 715.2L1439 715.2L1439 714L1435.8 714A697.8 674.5 0 1 1 738 39.5Z" fill="#022d52"/>
<path d="M738 41A696.3 673 0 1 0 1434.3 714L1415.1 714A677.1 654.5 0 1 1 738 59.5Z" fill="#dbe0e7"/>
<path d="M715.5 59.9L715.5 57.6L714.3 57.7L714.4 59.9ZM710.8 60L710.7 57.3L709.5 57.3L709.6 60.1ZM690.8 61.1L690.6 58.6L689.4 58.6L689.6 61.2ZM677.8 62.1L677.5 59.3L676.4 59.4L676.6 62.2ZM674.3 62.4L674.1 60.9L672.9 61L673.1 62.5ZM671.9 62.6L671.8 61L670.6 61.1L670.7 62.7ZM660.2 63.8L659.9 61.8L658.7 61.9L659 64ZM656.6 64.2L656.4 62.3L655.2 62.5L655.5 64.4ZM653.1 64.7L653 63.5L651.8 63.6L652 64.8ZM650.8 65L650.7 64L649.5 64.1L649.6 65.1ZM647.3 65.4L647.1 64.2L645.9 64.4L646.1 65.6ZM637.9 66.7L637.8 65.9L636.6 66.1L636.5 65.1L635.3 65.3L635.6 67ZM632.1 67.6L631.9 66.3L630.7 66.5L630.9 67.7ZM629.7 67.9L629.5 66.6L628.4 66.8L628.6 68.1ZM615.8 70.3L615.5 68.7L614.3 68.9L614.6 70.5ZM605.3 72.2L604.6 68.9L603.5 69.1L603.5 69.2L602.3 69.4L602.3 69.4L601.2 69.7L601.2 69.7L600 69.9L600 70L598.9 70.2L598.9 70.2L597.7 70.5L597.7 70.5L596.5 70.7L596.5 70.8L595.4 71L595.4 71L594.2 71.3L594.2 71.3L593.1 71.6L593.1 71.6L591.9 71.8L591.9 71.9L590.8 72.1L590.8 72.2L589.6 72.4L589.6 72.4L588.5 72.7L588.5 72.7L587.3 73L587.3 73L586.2 73.3L586.2 73.3L585 73.6L585 73.6L583.9 73.8L583.9 73.9L582.7 74.1L582.7 74.2L581.6 74.4L581.6 74.5L580.4 74.7L580.4 74.8L579.3 75L579.3 75.1L578.1 75.3L578.2 75.4L577 75.6L577 75.7L575.9 75.9L575.9 76L574.7 76.3L574.7 76.3L573.6 76.6L573.6 76.6L572.4 76.9L572.4 76.9L571.3 77.2L571.3 77.2L570.1 77.5L570.2 77.5L569 77.8L569 77.9L567.9 78.1L567.9 78.2L566.7 78.5L566.7 78.5L565.6 78.8L565.6 78.8L564.5 79.1L564.5 79.1L563.3 79.4L563.3 79.5L562.2 79.8L562.2 79.8L561 80.1L561 80.1L559.9 80.4L559.9 80.5L558.8 80.8L558.8 80.8L557.6 81.1L557.6 81.1L556.5 81.4L556.5 81.5L555.4 81.8L555.4 81.8L554.2 82.1L554.2 82.1L553.1 82.5L553.1 82.5L552 82.8L552 82.8L550.8 83.1L550.9 83.2L549.7 83.5L549.7 83.5L548.6 83.8L548.6 83.9L547.5 84.2L547.5 84.2L546.3 84.6L546.3 84.6L545.2 84.9L545.2 84.9L544.1 85.3L544.1 85.3L543 85.6L543 85.7L541.8 86L541.8 86L540.7 86.4L540.7 86.4L539.6 86.7L539.6 86.8L538.5 87.1L538.5 87.1L537.3 87.5L537.4 87.5L536.2 87.8L536.2 87.9L535.1 88.2L535.1 88.2L534 88.6L534 88.6L532.9 89L532.9 89L531.7 89.3L531.8 89.4L530.6 89.7L530.6 89.8L529.5 90.1L529.5 90.1L528.4 90.5L528.4 90.5L527.3 90.9L527.3 90.9L526.2 91.3L526.2 91.3L525.1 91.7L525.1 91.7L523.9 92L524 92.1L522.8 92.4L522.8 92.5L521.7 92.8L521.7 92.9L520.6 93.2L520.6 93.3L519.5 93.6L519.5 93.7L518.4 94L518.4 94.1L517.3 94.4L517.3 94.5L516.2 94.8L516.2 94.9L515.1 95.3L515.1 95.3L514 95.7L514 95.7L512.9 96.1L512.9 96.1L511.8 96.5L511.8 96.5L510.7 96.9L509.9 94.8L508.8 95.2L509.7 97.8A677.1 654.5 0 0 1 605.3 72.2ZM497.5 102.2L496.5 99.6L495.4 100L496.4 102.6ZM494.2 103.4L493.2 100.8L492.1 101.2L493.1 103.8ZM484.3 107.2L482.9 103.8L481.8 104.2L483.2 107.6ZM474.5 111.1L473.8 109.6L472.8 110L473.4 111.5ZM468 113.8L467 111.6L465.9 112.1L466.9 114.2ZM457.2 118.4L456.5 116.9L455.4 117.4L456.1 118.9ZM441.2 125.7L440.2 123.9L439.2 124.4L440.1 126.2ZM439 126.7L437.5 123.8L436.5 124.3L438 127.2ZM411.8 140.5L410.4 138L409.3 138.6L409.1 138.2L408.1 138.7L409.7 141.6ZM396.4 148.9L395.4 147.3L394.4 147.9L395.3 149.5ZM363.3 168.9L361.8 166.8L360.8 167.4L362.3 169.5ZM358.4 172L357.4 170.6L356.4 171.2L357.4 172.7ZM344.8 181.2L343.4 179.3L342.5 180L343.8 181.8ZM311.9 205.4L309.6 202.6L308.6 203.3L310.9 206.1ZM303.6 211.9L302.4 210.4L301.5 211.2L302.7 212.6ZM291.1 222.3L289.3 220.4L288.4 221.1L290.2 223.1ZM284.9 227.6L282.5 225L281.6 225.8L284 228.4ZM222.3 289.8L220.6 288.4L219.8 289.3L220.7 290L220 290.9L220.8 291.5ZM207.3 307.5L204.8 305.5L204 306.4L206.6 308.4ZM192.3 326.5L191.2 325.8L190.5 326.7L191.6 327.4ZM173.3 352.8L170.6 351L169.9 351.9L172.7 353.7ZM168.2 360.4L166.7 359.5L166.1 360.5L167.5 361.4ZM163.7 367.2L162.1 366.2L161.5 367.1L163.1 368.1ZM146.3 395.7L144.9 394.9L144.3 395.9L145.8 396.7ZM126.3 433.3L123.3 431.9L122.8 432.9L125.8 434.3ZM92.9 515L90.3 514.2L90 515.3L92.6 516.1ZM91.8 518.3L89.8 517.7L89.5 518.8L91.5 519.4ZM90.8 521.6L87.6 520.6L87.3 521.7L90.4 522.6ZM86.4 535.8L83.4 535L83.1 536.1L83.9 536.3L83.6 537.4L85.8 538ZM73.8 586.9L70.4 586.2L70.2 587.4L73.5 588ZM71.8 597L70.5 596.7L70.3 597.9L71.6 598.1ZM67.8 620.6L64.3 620.2L64.1 621.3L67.6 621.8ZM66.2 632L64.8 631.8L64.6 632.9L66 633.1ZM65.8 635.4L62.5 635L62.3 636.1L65.6 636.5ZM65.3 638.8L61.9 638.4L61.7 639.5L65.2 639.9ZM62.8 664.9L60.6 664.8L60.5 665.9L62.7 666.1ZM61.4 687.7L60.3 687.7L60.3 688.8L61.4 688.9ZM61.3 691.2L60.4 691.1L60.3 692.3L61.2 692.3ZM61 702.6L57.9 702.5L57.9 703.7L60.9 703.7ZM60.9 717.4L57.5 717.4L57.5 718.6L60.9 718.6ZM60.9 723.1L58.5 723.2L58.5 724.3L49.5 724.5L49.5 725.6L59 725.5L59 726.6L57.9 726.6L58 727.8L57.7 727.8L57.7 728.9L61 728.8A677.1 654.5 0 0 1 60.9 723.1ZM61.1 730L58.3 730.1L58.3 731.2L59 731.2L59 732.3L57.4 732.4L57.4 733.5L61.2 733.4ZM61.2 734.6L58.2 734.6L58.2 735.8L61.2 735.7ZM61.3 736.8L59.4 736.9L59.4 738.1L58.2 738.1L58.3 739.2L58.7 739.2L58.8 740.4L61.4 740.3A677.1 654.5 0 0 1 61.3 736.8ZM61.4 741.4L60.5 741.4L60.5 742.6L58.6 742.7L58.7 743.8L61.6 743.7ZM61.6 744.8L59.6 744.9L59.7 746.1L61.7 746ZM61.9 750.5L59.1 750.7L59.1 751.8L62 751.7ZM62.3 756.2L60.4 756.4L60.5 757.5L61.3 757.4L61.4 758.6L58.7 758.8L58.7 759.9L62.5 759.7ZM62.8 763.1L61.2 763.2L61.3 764.3L62 764.3L62.1 765.4L59.5 765.6L59.6 766.8L63 766.5ZM63.6 773.3L57.4 773.9L57.5 775L57.6 775L57.7 776.2L57.9 776.1L58 777.3L58.2 777.3L58.3 778.4L58.4 778.4L58.5 779.6L58.7 779.5L58.8 780.7L59 780.7L59.1 781.8L59.3 781.8L59.4 782.9L59.5 782.9L59.7 784.1L59.8 784.1L59.9 785.2L60.1 785.2L60.2 786.3L60.4 786.3L60.5 787.4L60.7 787.4L60.8 788.6L61 788.6L61.1 789.7L61.3 789.7L61.4 790.8L61.6 790.8L61.7 791.9L61.9 791.9L62 793.1L62.2 793.1L62.3 794.2L62.5 794.2L62.6 795.3L62.8 795.3L62.9 796.4L63.1 796.4L63.2 797.6L63.4 797.5L63.5 798.7L63.7 798.7L63.8 799.8L64 799.8L64.1 800.9L64.3 800.9L64.5 802L64.6 802L64.8 803.1L64.9 803.1L65.1 804.3L65.2 804.2L65.4 805.4L65.6 805.3L65.7 806.5L65.9 806.5L66.1 807.6L66.2 807.6L66.4 808.7L66.5 808.7L66.7 809.8L66.9 809.8L67 810.9L67.2 810.9L67.4 812L67.5 812L67.7 813.1L67.9 813.1L68 814.2L68.2 814.2L68.4 815.4L68.5 815.3L68.7 816.5L68.9 816.4L69.1 817.6L69.2 817.5L69.4 818.7L69.6 818.6A677.1 654.5 0 0 1 63.6 773.3ZM72.8 836.6L71.3 836.9L71.5 838L73.1 837.8ZM75.4 849L72.6 849.5L72.8 850.7L75.7 850.1ZM78.5 862.3L76.7 862.8L76.9 863.9L78.7 863.5ZM83.9 883.4L80.7 884.2L81 885.3L84.2 884.5ZM85.8 890L84.5 890.4L84.8 891.5L86.1 891.1ZM90.8 906.4L87.6 907.4L87.9 908.5L91.1 907.5ZM99.7 932.5L97.1 933.4L97.5 934.5L100.1 933.6ZM100.9 935.7L98.9 936.4L99.3 937.5L101.3 936.8ZM120.8 983.3L119.5 983.9L120 985L121.3 984.4ZM121.8 985.4L120.7 985.9L121.2 986.9L122.3 986.5ZM150.4 1039.3L148.8 1040.2L149.4 1041.1L151 1040.3ZM161.9 1057.9L161 1058.5L161.6 1059.4L162.5 1058.9ZM163.7 1060.8L162.6 1061.5L163.2 1062.5L164.4 1061.8ZM183.3 1089.4L182.5 1089.9L183.2 1090.9L184 1090.3ZM207.3 1120.5L206.4 1121.3L207.1 1122.2L208.1 1121.4ZM238.8 1156.2L237.7 1157.1L238.5 1158L239.6 1157ZM255 1172.7L254.1 1173.6L254.9 1174.4L255.9 1173.6ZM258.4 1176L257.8 1176.5L258.6 1177.4L259.2 1176.8ZM260 1177.6L259.4 1178.2L260.2 1179L260.9 1178.4ZM263.4 1180.8L262.9 1181.3L263.7 1182.1L264.2 1181.6ZM434.8 1299.2L434.1 1300.6L435.1 1301.1L435.9 1299.7ZM498.6 1326.2L498.1 1327.7L499.2 1328.1L499.8 1326.7ZM583.4 1351.2L583.1 1352.4L584.2 1352.6L584.5 1351.5ZM604.2 1355.6L604 1356.6L605.1 1356.8L605.3 1355.8ZM681.3 1366.2L681.2 1367.9L682.4 1367.9L682.5 1366.3ZM712 1368L712 1369L713.1 1369L713.2 1368.1ZM741.5 1368.5L741.5 1369.3L742.7 1369.3L742.7 1368.5ZM774.6 1367.5L774.7 1369L775.9 1368.9L775.8 1367.5ZM824 1363.2L824.3 1364.8L825.4 1364.6L825.2 1363ZM827.6 1362.8L827.8 1364.3L828.9 1364.2L828.7 1362.6ZM997.1 1318.7L997.5 1319.4L998.5 1319L998.2 1318.2ZM1018.8 1309.6L1019.4 1310.7L1020.4 1310.3L1019.9 1309.1ZM1030.6 1304.2L1030.9 1304.8L1031.9 1304.3L1031.7 1303.8ZM1035.9 1301.8L1036.4 1302.7L1037.5 1302.2L1037 1301.3ZM1040.1 1299.7L1040.5 1300.5L1041.6 1300L1041.2 1299.2ZM1084.7 1276.2L1085.1 1276.7L1086.1 1276.1L1085.7 1275.6ZM1139.8 1240.8L1140.3 1241.5L1141.3 1240.8L1140.8 1240.1ZM1186.7 1204.2L1187.2 1204.7L1188 1203.9L1187.6 1203.4ZM1195.5 1196.5L1195.9 1197L1196.8 1196.2L1196.3 1195.8ZM1278.8 1107.9L1279.7 1108.5L1280.4 1107.6L1279.5 1107ZM1280.2 1106.1L1281.1 1106.7L1281.8 1105.8L1280.9 1105.1ZM1291.3 1091.3L1292.5 1092.1L1293.2 1091.2L1292 1090.3ZM1329.7 1032.3L1330.3 1032.6L1330.9 1031.6L1330.2 1031.3ZM1354.2 985.4L1355 985.8L1355.5 984.7L1354.7 984.4ZM1375.9 933.6L1377.6 934.1L1378 933L1376.3 932.5ZM1379.4 923.8L1380.4 924.2L1380.7 923.1L1379.8 922.8ZM1393.9 876.8L1395.4 877.1L1395.7 876L1394.2 875.7ZM1401.1 846.7L1402.7 847L1402.9 845.9L1401.3 845.6ZM1407.9 809.6L1411.5 810.1L1411.6 809L1408.1 808.5ZM1413 766.5L1414 766.6L1414.1 765.4L1413.1 765.4ZM1415 725.4L1417.7 725.5L1417.7 724.3L1415.1 724.3Z" fill="#022d52"/>
<path d="M738 68.8A667.5 645.2 0 1 0 1405.5 714L1386.4 714A648.4 626.7 0 1 1 738 87.3Z" fill="#f1f6f4"/>
<path d="M738 87.3l0-16.8l-0.6-0.8l-0.6 3.2l-0.5-3.2l-0.6 0.2l-0.6 3l-0.6-2.4l-0.6-0.9l-0.5 1.3l-0.6 0.3l-0.6-0.9l-0.6-0.4l-0.5 2.8l-0.6-0.5l-0.6-1.3l-0.6-0.2l-0.5 4.8l-0.7-4.2l-0.6-2.1l-0.5 3.9l-0.6-3.8l-0.6 2.2l-0.6-0.7l-0.5 2.2l-0.6-0.9l-0.6-2.6l-0.6 2.4l-0.5 1.9l-0.6-2.2l-0.7-2l-0.6 0.2l-0.5 0.3l-0.6 0.8l-0.5 2.8l-0.7-3.5l-0.4 3.3l-0.7-3.3l-0.6-0.1l-0.6-0.4l-0.6 0.4l-0.6-0.4l-0.6 0.3l-0.4 4.8l-0.6-2l-0.5 2.4l-0.6-0.9l-0.7-1.7l-0.4 3l-0.8-4.4l-0.5 0.6l-0.7-2.2l-0.5 2.1l-0.6 0.2l-0.6-1.9l-0.5 2.1l-0.4 5l-0.8-6.1l-0.7-0.8l-0.5 1.5l-0.5 0.2l-0.7-1.3l-0.5 1.5l-0.6 0l-0.5 0.3l-0.8-2.4l-0.4 1.9l-0.4 3.7l-0.9-5l-0.4 3.2l-0.7-2.4l-0.4 3.2l-0.7-3.1l-0.7-0.5l-0.6-0.5l-0.5 0.2l-0.4 3.4l-0.8-3.3l-0.6 0.2l-0.4 2.1l-0.5 0.6l-0.7-0.9l-0.5 1.5l-0.7-2l-0.6-0.7l-0.7-0.7l-0.5 0.8l-0.5 1.3l-0.4 1.3l-0.5 1l-0.8-2.7l-0.7-0.5l-0.2 4.8l-0.6-0.7l-0.8-2.9l-0.6-0.3l-0.7-0.7l-0.6-0.9l-0.6 0.1l-0.4 2.2l-0.8-2.3l-0.5 0.2l-0.6 0.3l-0.5 0.9l-0.7-1.2l-0.4 1.7l-0.6-0.3l-0.5 1.3l-0.7-1.2l-0.6 0l-0.7-1l-0.5 0l-0.6 0.6l-0.3 2.7l-0.7-1.8l-0.7-0.5l-0.4 1.9l-0.5 1l-0.9-3.1l-0.5 0.8l-0.5 0.8l-0.7-1.1l-0.2 3.2l-1-3.8l-0.6 0.3l-0.5 0.4l-0.1 4.1l-0.9-3.1l-0.8-1.6l-0.4 1.9l-0.4 1.6l-0.9-2.5l-0.3 1.9l-0.9-2.4l-0.3 2.5l-0.9-2.5l-0.3 2.1l-0.2 3.3l-1-3.7l-0.4 1.1l-0.9-2.5l-0.6 0.6l-0.5 0.1l-0.4 1.9l-0.7-1l-0.5 0.4l-0.7-0.5l-0.5 0.1l0 5l-1.1-3.7l-0.5 0.4l-0.5 0.3l-0.9-2.2l-0.3 2.1l-0.6-0.1l-0.9-1.9l-0.3 1.7l-0.4 1.4l-0.9-2l-0.7-1.2l-0.5 0.6l-0.6-0.3l-0.6 0.5l-0.6-0.3l-0.5 0.6l-0.7-0.4l-0.2 2.4l-0.9-2.5l-0.6 0.1l-0.5 0.5l-0.1 3.3l-1-2.6l-0.6-0.3l-0.7-0.3l-0.2 2.1l-0.9-1.7l-0.4 1l-0.7-0.5l-0 3.4l-0.7-0.5l-0.9-2.1l-0.4 1.4l-0.6-0.3l-0.8-1.2l-0.7-0.4l-0.3 1.1l-0.1 3.2l-1.1-3l-0.5 0.3l-0.6 0.1l-0.6-0.1l-0.4 1.4l-0.7-0.7l-0.9-1.7l-0.5 0.3l-0.5 0.6l-0.1 2.5l-1-2.3l-0.8-0.8l-0 3l-1.1-3l-0.4 1.2l-0.6 0.1l-0.7-0.8l-0.5 0.4l-0.6 0.1l-0.4 1.2l-0.3 1.6l-0.9-1.9l-0.8-0.8l-0.3 1.2l-0.4 1l-0.9-1.5l-0.1 2.8l-0.8-1.4l-0.7-0.6l-0.8-0.8l-0.5 0.5l-0.2 1.9l-0.4 0.8l-1.2-2.8l-0.2 1.8l-0.9-1.6l-0.5 0.5l-0.5 0.5l-0.3 1.2l-0.5 0.6l-0.9-1.7l-0.3 1.6l-0.7-0.6l-0.7-0.5l-0.3 1.4l-0.6-0l-0.8-0.7l-0.6-0.4l-0.1 2.7l-1.1-2.6l-0.5 0.6l-0.7-0.8l-0.6-0l0.1 3.3l-0.7-0.4l-0.6-0.2l-0.9-1.2l-0.7-0.6l-0.2 1.9l-0.6-0l-1-1.7l-0.3 1l-0.8-0.6l-0.6-0l-0.4 0.6l0.2 3.6l-1.5-3.9l-0.4 0.7l-0.2 1.9l-0.6-0l-0.6-0.3l-0.5 0.5l-0.7-0.2l-0.9-1.5l-0.5 0.3l-0.4 0.8l-0.8-0.6l-0.5 0.2l-0.7-0.3l-0.5 0.5l-0.6-0.2l-0.6 0.1l-0.4 0.9l-0.7-0.6l-0.3 1.2l-0.5 0.5l-0.6 0.1l-0.1 1.8l-0.6-0.1l-1-1.5l-0.4 0.9l-0.9-1.1l-0.6-0.3l-0.6 0.2l-0.5 0.1l-0.1 2.1l-1.2-2.2l0.3 3.4l-1.3-2.7l-0.5 0.3l-0.5 0.5l-0.1 1.9l-1-1.7l-0.4 0.7l-0.9-1.1l-0.5 0.7l-0.7-0.6l0.1 2.7l-1-1.5l-0.1 1.9l-0.7-0.5l-1-1.3l-0.6-0.2l-0.3 1.2l-0.8-0.6l0 2.1l-1.1-2l-0.4 0.9l-0.7-0.2l-0.2 1.4l-0.2 1.2l-1.3-2.4l0.5 3.7l-1.6-3.2l-0.1 1.8l-0.9-1.1l-0.9-1l-0.5 0.2l0.3 3.2l-1.3-2.4l-0.6 0l-0.7-0.2l-0.2 1.4l-0.5 0.3l-0.1 1.6l-1.5-2.9l0.7 4.1l-0.5 0.5l-1.6-3.4l-0.6 0.2l-0.3 1l-0.7-0.5l-0.5 0.5l-0.6-0l-0.1 1.6l-1.1-1.7l-0.4 0.9l-0.5 0.3l-0.9-1l-0.1 1.7l-0.4 0.5l-1.2-1.9l0.2 2.6l-0.5 0.5l-0.9-1l-0.3 1l-0.9-1.1l-0.5 0.6l-0.6-0.2l-1-1.1l-0.4 0.5l-0.7-0.2l0 2l-0.4 0.5l-1-1.3l-0.5 0.6l0.3 2.8l-1.8-3.7l-0.4 0.5l-0.4 0.7l-0.3 1l-1.1-1.4l-0.6 0l0.3 2.7l-0.7-0.4l-1.1-1.4l0.5 3.3l-0.5 0.2l-1.4-2.1l-0.8-0.7l1.3 5.8l-2.1-4.4l0.1 2.1l-1.6-3l0.3 2.7l-1.3-2.1l-0.3 1l-0.8-0.7l0.1 2.3l-0 1.6l-1.4-2.1l-0.1 1.2l-1.2-1.4l-0.7-0.3l-0.4 0.7l-0.3 0.7l-0.7-0.3l0.2 2.2l-1.7-2.7l-0.1 1.4l0.2 2.3l-0.8-0.7l-0.7-0.2l-0.4 0.5l-1.3-1.7l0.1 1.8l-1.3-1.8l-0.7-0.1l-0.3 0.9l-0.4 0.5l0.8 3.7l-2.2-4.2l0.6 3.2l-1.6-2.6l0.5 2.9l-1.6-2.5l-0.5 0.3l0.2 2.3l-1.3-1.9l-0.5 0.4l-0.5 0.3l-0.6 0.1l0.8 3.5l-2-3.5l-0.1 1.2l-1.1-1l1.2 4.6l-2.1-3.8l-0.4 0.5l-0.2 1.1l-1.2-1.5l-0.3 0.8l0.2 2.1l-1-0.8l-0.2 1.1l-0.6-0.2l0.9 3.9l-2.2-3.8l-1-1l0.7 3.1l-0.7 0l-1.7-2.7l-0.5 0.4l-0 1.4l-0.2 1.1l-1.2-1.5l-0.9-0.5l0.8 3.3l-0.8-0.3l-1.5-2.2l0.3 2.2l-1.4-1.8l-0.2 1.1l0.9 3.6l-1.7-2.5l-0.5 0.2l-0.3 0.7l-0.3 0.9l-1.8-2.9l-0.4 0.6l-0.5 0.4l-0.2 0.9l-0.7-0.2l-0.2 1.1l-0.6 0.1l-0.8-0.5l1.1 4.1l-1.7-2.5l-1.3-1.7l-0.3 0.9l-0.8-0.4l0.4 2.4l-0.6 0.1l-0.6 0l-0.8-0.4l-0.8-0.3l0.2 1.7l-1.3-1.3l-0 1.2l-0.6 0.3l-0.2 0.9l-1.3-1.5l-0.1 1.1l-0.7-0.2l-0.9-0.4l-0.6 0l-0.1 1.3l-1.1-1.1l-0.2 0.9l-0.1 1.2l-1-0.8l-0.6 0.1l-0.6 0l-0.2 0.9l-0.4 0.6l0 1.4l-1.1-1.1l0.8 3.1l-2.2-3.3l1.5 4.6l-2.5-4l-0.2 0.9l-0.3 0.7l-1.2-1.2l-0.4 0.5l-0.9-0.6l-0.3 0.9l-0.8-0.4l0.8 3.1l-1.9-2.6l0.8 2.9l-1.7-2.1l-0.2 0.7l0.4 2.3l-1.6-2l0.2 1.8l-1.4-1.6l-0.5 0.2l-0.3 0.7l-0.2 1l0.9 3.2l-2.3-3.4l-0.8-0.3l0.4 2.1l-1-0.8l-0.8-0.2l0.2 1.7l-1.1-0.9l0.1 1.4l-1.4-1.4l-0.6 0l0.1 1.5l-0 1.2l-1.7-2.1l-0.2 0.9l0.6 2.4l-2-2.5l-0 1.2l0.9 3.1l-1.3-1.3l-1.2-1.1l-0.8-0.4l0.1 1.6l-1.1-0.9l-0.2 0.7l-0.7-0l0 1.4l-1.4-1.6l0.1 1.4l-0.9-0.4l0.5 2.2l-1.9-2.3l1.1 3.3l-1.6-1.8l-0.6 0l-0.4 0.5l-0.9-0.4l-0.5 0.2l-0 1.3l-0.5 0.2l-0.9-0.4l-0.8-0.2l0.5 2.1l-0.6 0.2l-0.7-0.2l-0.9-0.4l-0.1 1.1l-0.8-0.3l-0.8-0.4l0.9 2.9l0.2 1.6l-2.3-3l-1.1-0.7l-0.2 0.7l0.6 2.4l-1.6-1.9l-0.9-0.3l1.6 4l-1-0.6l-2.2-2.7l0.3 1.6l-0.6 0.3l-0.7-0.2l-0.5 0.2l-0.9-0.4l0.9 2.9l-1.7-1.8l-0.2 0.7l-0.6 0.1l-0.3 0.6l-0.7-0l-1-0.6l1 2.9l-1-0.5l-0.9-0.4l-0.6 0.1l-1.1-0.9l1.1 3.2l-1-0.7l-0.6 0.1l-1.3-1l-0.1 0.9l0.3 1.8l-1.7-1.8l-0.1 1l-0.8-0.3l-0.5 0.2l0.1 1.4l-1.2-0.8l-0.1 0.9l0.5 1.9l0.1 1.4l-1.6-1.6l0.1 1.2l-1.8-1.8l0.2 1.4l-0.5 0.3l-1.6-1.5l-0.1 0.9l-0.8-0.2l-0.7-0l-0.5 0.3l0.3 1.5l-0.6 0.2l-1.1-0.7l-0.5 0.3l0.3 1.5l-0 1.1l-1.7-1.6l-0.7-0l2.5 5.2l-3.5-4.7l-0.5 0.3l0.2 1.4l-0.7 0l-1.1-0.7l-0.2 0.8l-0.1 0.9l1.4 3.3l-2.7-3.2l-0.9-0.3l0.1 1.2l-1.1-0.6l0.4 1.7l-1.1-0.7l0.3 1.6l-0.8-0.2l-1.3-0.9l0.4 1.7l-0.8-0.2l1 2.5l-2.1-2.2l-0.4 0.4l-0.9-0.3l0.7 2.2l-1.2-0.8l-0.5 0.3l0.4 1.7l0.2 1.4l-2.5-2.9l0.2 1.4l-0.8-0.1l-1.1-0.7l0.4 1.6l-1.1-0.5l-0.5 0.2l0.7 2.1l-1.7-1.5l0.3 1.5l0.4 1.6l-1.4-1l-0.2 0.6l-1.7-1.4l0.5 1.7l0.7 2.2l-2.2-2.3l-0.4 0.4l1.3 3l-2.7-3l1.1 2.7l-2-1.9l-0.4 0.5l-0.4 0.3l0.1 1.2l0.2 1.2l-1.3-0.7l-1-0.5l-0.8-0.1l1.3 2.9l-1.7-1.5l-0.3 0.6l-0.8-0.2l-0.7 0l1 2.5l-1.1-0.6l-1.4-1.1l-0.4 0.5l-0.4 0.5l-0.4 0.4l-0.8-0.1l0.6 1.8l-0.5 0.4l-0.9-0.3l-0.6 0.1l-0.8-0.1l-0 0.9l-0 0.9l-1.3-0.7l0.1 1.1l0.6 1.8l-2.1-1.9l0.2 1.2l-0.5 0.3l-1.5-1l2.1 3.8l-2.5-2.4l0.4 1.5l-0.6 0.2l-0.7-0l-1.3-0.9l1.5 3l-1-0.4l-1.8-1.5l-0.4 0.5l1 2.3l-1.7-1.3l-0.3 0.6l0.1 1.1l-0.9-0.3l1.8 3.3l-3.3-3.4l0.1 1.1l-1.2-0.6l-0.3 0.5l-0.8-0.1l-0.2 0.8l0.9 2.1l-1.8-1.5l-0.6 0.2l-1-0.4l-0.3 0.6l0.5 1.5l-1.4-0.8l2.3 3.9l-3.3-3.4l-0.1 0.9l-0.3 0.5l-0.7 0.1l2.2 3.7l-3.1-3.1l-0.2 0.8l0 0.9l-0.1 0.8l-0.4 0.4l0.3 1.3l-2.8-2.6l-0.3 0.5l0.3 1.4l-1-0.4l-0.6 0.2l-0.2 0.6l-0.3 0.6l-0.4 0.4l-1.3-0.7l-0.1 0.8l-0.5 0.3l2.1 3.6l-2.3-2l0.2 1.2l-1.3-0.8l-1-0.3l-0.2 0.7l-0.1 0.8l0.4 1.3l-2.2-1.7l1.4 2.6l-1.2-0.6l-1.4-0.8l0.8 2l-1.7-1.3l0.1 1.1l-0.8-0.1l-0.9-0.2l0.8 1.9l-1.5-0.9l0.1 1l-0.9-0.2l-0.7 0.1l-0.3 0.5l-0.1 0.7l-0.1 0.8l1.2 2.4l-2.8-2.5l-0.6 0.2l0.9 1.9l-0.6 0.2l-0.9-0.2l-0.9-0.1l-0 0.8l-1.1-0.4l0.6 1.7l-1.1-0.5l-0.6 0.2l1.4 2.5l-1.9-1.4l0.5 1.5l-1.4-0.7l-0.7 0l0.1 1.1l-0 0.8l-2-1.4l0.4 1.4l1.8 2.9l-2.9-2.5l1.2 2.2l-1.3-0.6l0.3 1.2l-2-1.3l1.4 2.5l-2.4-1.9l0.9 1.9l-0.9-0.2l0.5 1.5l-1.4-0.8l-0.8-0l0.1 0.9l-1.7-1.1l0.3 1.2l-0.3 0.6l-1.5-0.8l0.7 1.6l-1.3-0.6l-0.8-0l0.5 1.4l0.9 1.8l-2.4-1.7l0.1 0.9l-1.3-0.6l1.8 2.9l-1.2-0.5l0.3 1.2l-2.3-1.7l0.6 1.5l1.3 2.3l-3-2.4l-0.9-0.2l0.6 1.5l0.3 1.2l-1.8-1.1l0.8 1.7l-1.9-1.3l-0.6 0.3l-0.3 0.5l1.5 2.4l0.6 1.5l-3.2-2.5l0.6 1.5l-1.3-0.6l0.9 1.7l-0.7 0.1l-0.1 0.8l-2.6-1.9l0.1 0.9l-0 0.8l0 0.9l0 0.8l-2.2-1.5l0.4 1.3l2.2 3.1l-0.7 0.1l-3.3-2.6l0 0.8l-0.9-0.2l-0.6 0.3l-0.4 0.4l-0.4 0.3l0.2 1.1l1 1.9l-0.9-0.2l0.6 1.5l-2.8-2.1l1.4 2.3l-2.5-1.8l-0 0.8l0.5 1.4l-0.6 0.2l-0.3 0.5l-0.9-0.1l-1.1-0.3l1.4 2.3l-1.9-1.1l2 2.8l-2.3-1.5l-1.1-0.3l0.4 1.2l-0.7 0.1l-1.3-0.5l0.8 1.6l-0.7 0.1l3.2 4l-3.6-2.8l-0.5 0.4l-0.1 0.6l-1.5-0.6l0.3 1l-0.7 0.2l-0.6 0.2l-0.4 0.4l0.4 1.2l-1.1-0.3l-0.5 0.3l-1.2-0.4l0.4 1.2l-0.2 0.7l1.2 1.9l-2-1.2l-1.5-0.6l-0.1 0.7l-0.9-0l-0.1 0.6l1.4 2.1l-1.9-1l1.3 2.1l-2-1.2l-0.2 0.7l-0.8-0l1.4 2.1l0 0.8l-2.3-1.4l-0.3 0.5l-1.1-0.3l0.6 1.4l-0.4 0.4l-1.5-0.7l-0.2 0.7l2.1 2.7l-2-1.1l0.1 0.9l-0.5 0.3l0.9 1.7l-3.1-2.2l-0.6 0.3l1.7 2.3l-1.9-1l1.3 1.9l-1-0.1l-0.3 0.6l-1.9-1l1.4 2l-2.6-1.6l-0.1 0.7l0.7 1.4l-0.7 0.2l-0.5 0.2l-0.1 0.7l-1.6-0.6l3.4 3.8l-4-2.8l-0.4 0.4l0.3 1l-0.2 0.6l-1.4-0.5l0.8 1.5l0.2 0.9l-1.5-0.5l0.7 1.4l-2.1-1.1l-0.1 0.7l0.2 0.9l-1.2-0.4l-0.6 0.3l0.5 1.2l0.7 1.4l0.1 0.8l-0.4 0.4l-3-1.8l0.8 1.4l-0.7 0.2l1.6 2.1l-1.9-0.9l-0.7 0.2l-0.8 0l-0.7 0.2l-0.5 0.3l2.6 3l-2.4-1.3l-0.1 0.6l-1.8-0.8l1.1 1.7l-0.4 0.4l-0.1 0.7l0.2 0.9l-2.7-1.5l-0.1 0.6l2.6 3l-3.7-2.4l0.1 0.8l1.1 1.7l-2.2-1.1l1.1 1.7l-1.1-0.2l1.5 2l-3.1-1.9l0.8 1.4l-1.2-0.2l-0.5 0.3l1 1.6l-0.7 0.1l1.1 1.7l-1.9-0.8l-1.2-0.3l-0.5 0.3l0.6 1.3l1.4 1.8l-3-1.7l1.1 1.6l-1.4-0.4l-0.4 0.5l-1.1-0.2l-0.2 0.6l1.2 1.7l-1.4-0.4l-0.8 0.1l0.4 1l0.8 1.4l-2.3-1.1l0.1 0.8l1.2 1.7l-0.6 0.2l-0.8 0.1l0.6 1.2l-0 0.7l-2.5-1.2l-1-0l-0 0.6l1.3 1.8l-2.3-1.1l1.1 1.6l-0.5 0.3l-0.5 0.3l-0.6 0.4l-0.9-0.1l0.8 1.4l-1.2-0.3l-1.5-0.3l1 1.4l-1.1-0.1l1.3 1.7l-1.9-0.7l-0.2 0.6l-0.5 0.3l2.1 2.3l-2.3-1.1l-1.8-0.6l1.9 2.2l-2.6-1.3l-0.2 0.6l-0 0.6l0.5 1.2l-1.3-0.3l-0 0.7l0.4 1l-0.8 0.1l0.8 1.4l-1.8-0.7l2.4 2.5l-2.2-0.9l-0.2 0.5l0.1 0.8l-2-0.8l-0.5 0.3l1.6 1.9l-2.3-1l-0.1 0.7l0.7 1.2l-1.9-0.6l1.4 1.7l0.1 0.7L203.5 327.5A667.5 645.2 0 0 0 201.8 329.8l0.4 1l1.4 1.7l-1.3-0.2l-0.3 0.4l1.2 1.6l-3.2-1.6l0.5 1l-0.4 0.5l-0.6 0.2l0.1 0.8l-1 0l-0.9 0l-0.1 0.7l3.6 3.2l-3.5-1.7l-0.5 0.3l1.4 1.7l-2.4-1l-0.6 0.3l0.6 1.1l0.4 1l-0.1 0.5l-1.6-0.4l0.3 0.9l0.9 1.3l-2.7-1.1l0.1 0.8l0.2 0.7l-0.4 0.5l-1.4-0.3l0.9 1.3l-0.9 0.1l1.2 1.5l-0.5 0.3l-1.1-0l-1.6-0.4l-0 0.7l0.9 1.3l-1-0l0 0.7l-0.3 0.4l0.5 1l-1.9-0.6l0.1 0.8l3.2 2.8l-3.1-1.3l-2.3-0.9l0.4 1l0.2 0.7l-1.5-0.2l2.4 2.2l-1.9-0.6l-1.4-0.2l1.2 1.5l-1.4-0.3l-0.2 0.6l-0.1 0.6l0.3 0.8l0.1 0.8l-1.4-0.2l0.5 0.9l1.4 1.6l-2.1-0.6l0.2 0.8l-2.1-0.7l-0.6 0.3l3.5 2.9l-2.4-0.9l-1.6-0.3l-0.3 0.5l-0.2 0.5l-0.6 0.3l-0.5 0.4l2.7 2.4l-2.5-1l0.6 1.1l-1.4-0.2l-0.7 0.2l0.5 1l0.9 1.2l-2.1-0.6l0.3 0.8l1.3 1.5l-1.9-0.5l-0.2 0.6l-0.9 0l-0.5 0.4l0 0.7l0.2 0.8l-0.8 0.1l-1.4-0.2l0.5 1l-1 0.1l1.2 1.3l-0.7 0.3l-0.9 0.1l-0.5 0.4l-0.1 0.6l-0.3 0.4l0.5 1l-0 0.7l-2-0.5l-0.3 0.5l-0.1 0.5l-0.3 0.5l-0.1 0.6l-0.8 0.2l1.3 1.4l-1.4-0.1l0.6 1l-0.6 0.3l0.2 0.8l0.7 1l-2.8-0.9l-0.4 0.4l1.8 1.7l-2.4-0.8l1 1.3l-1.1-0l1.7 1.6l-1.5-0.2l-1.4-0.2l1.6 1.7l0.2 0.7l0.6 1l-3.3-1.2l1.5 1.5l-1.2-0.1l0.2 0.8l-1.5-0.2l0.5 1l-0.1 0.5l-1.3-0l0.2 0.7l-0.1 0.6l-0.1 0.6l2.7 2.1l-4.6-1.9l4.7 3.3l-4-1.5l-1.1-0l1.7 1.6l-0.2 0.5l-2.2-0.6l-1.1 0.1l-0.3 0.5l1.1 1.2l1.5 1.5l-1.1 0l-0.8 0.2l-0.1 0.6l0.6 0.9l-3-0.9l0.1 0.7l-0.6 0.3l-0.5 0.4l0.7 1l-0.1 0.6l-1.1 0.1l0.1 0.6l0.7 1.1l0.4 0.8l-2.1-0.5l-0.5 0.4l-0.3 0.5l0.9 1.1l-1.7-0.3l0 0.7l0.6 0.9l0.1 0.7l-1.5-0.1l0.1 0.7l0 0.6l2.3 1.8l-1.3 0l-2.8-0.8l0.7 1l2.1 1.7l-0.9 0.2l-1.8-0.3l-0.1 0.6l-0.9 0.2l-0.7 0.3l-0.6 0.3l1 1.1l0.4 0.8l-0.5 0.5l-1.2-0l-0.7 0.3l2.7 1.9l-3.2-0.9l-0.2 0.5l-0.5 0.4l2.7 1.9l-1.5-0.1l-1.3 0l-0.9 0.2l0.4 0.8l-0.8 0.3l0.3 0.8l4 2.5l-2.5-0.5l-2.6-0.7l2.6 1.9l-0.8 0.3l-2.3-0.5l0.5 0.8l0.4 0.8l-0.4 0.5l-1.8-0.3l0.4 0.9l0.6 0.9l-1.1 0.1l1.1 1.1l-2.7-0.6l3.1 2l-2.2-0.3l-0.9 0.1l0.2 0.8l3.2 2.1l-4.9-1.7l1.3 1.3l-1.8-0.2l5.1 2.9l-5.2-1.8l0.8 1l2 1.6l-0.8 0.2l-2.5-0.5l-0.4 0.4l0.8 1l-2-0.3l0.3 0.8l-0.6 0.3l2.2 1.6l-1.5 0l0.3 0.8l-0.1 0.5l-1.4 0l3 2l-3.5-1l-0.1 0.6l-1.1 0.1l-0.6 0.4l0.6 0.9l1.5 1.3l-0 0.6l-1.3 0l-0.1 0.6l-2.1-0.3l-0.3 0.5l3.1 1.9l-2.8-0.6l0.1 0.7l0.8 1l-1.5-0l1.5 1.2l-1.9-0.2l-0.8 0.3l-0.4 0.4l0.8 1l-0.9 0.2l-0.2 0.5l2 1.5l-2.5-0.5l0.1 0.7l2.4 1.6l-3.2-0.7l-0.2 0.5l0.6 0.9l-0 0.6l1.2 1.1l-2.9-0.6l0.8 1l-1.6-0.1l1.3 1.2l-1.1 0.1l-0.7 0.3l1.5 1.3l0.7 0.8l0.6 0.9l-3.4-0.7l3.2 1.8l-0.6 0.4l-3.2-0.7l1.7 1.3l-1.1 0.2l-1.5 0l1.8 1.3l-0.8 0.3l-0.9 0.3l0.8 0.9l-1.8-0.1l1.1 1l-1.5 0l1.9 1.4l-0.9 0.2l0.1 0.7l-1.8-0.1l1.9 1.3l-1.6 0l-0.9 0.3l0.5 0.8l-1 0.2l-0.9 0.3l0.9 0.9l1.7 1.2l-2.9-0.4l0 0.6l1.2 1l-0.9 0.3l0.5 0.8l1.4 1.1l-3.6-0.7l2.3 1.4l-0.7 0.3l1.4 1.1l-1.7 0l-0.7 0.4l-0 0.6l-2-0.2l-0 0.6l-0.3 0.6l2.5 1.5l-0.3 0.4l0.5 0.8l-0.2 0.5l-2.9-0.4l0.5 0.8l-0.7 0.3l-1.3 0.2l-0.2 0.5l2.1 1.3l1.3 1.1l-1.1 0.2l1.4 1.1l-4.3-0.9l2.3 1.4l-0 0.6l-3.3-0.6l1.3 1.1l-1 0.2l-0.9 0.3l0.2 0.7l0.9 0.9l1.1 0.9l0.5 0.8l-2.4-0.2l-1.1 0.2l0.9 0.9l-1.2 0.2l-0.6 0.4l0.4 0.7l-0.2 0.6l2.3 1.3l-2.3-0.2l-0.6 0.5l0.5 0.7l-0.7 0.4l0.7 0.8l1.5 1.1l-1.8-0l-0 0.6l-0.6 0.4l-1.3 0.2l1.1 0.9l-1.6 0.1l2.5 1.4l-1.2 0.2l-1.1 0.2l1.6 1.1l1.7 1.1l-3.9-0.6l0.8 0.8l-0.9 0.3l-0.2 0.6l-0.4 0.5l2.6 1.3l-3.3-0.4l0.6 0.8l-0.2 0.5l-0.5 0.4l-0.2 0.6l-0.2 0.5l2 1.2l-0.3 0.5l-2-0l-0.2 0.5l-0.9 0.3l0.9 0.9l-0.7 0.4l-0.7 0.3l3.5 1.7l-2.4-0.2l0.9 0.9l-0.3 0.5l-1.1 0.3l0.2 0.6l0.2 0.6l-0.2 0.6l-1.2 0.2l-1.3 0.2l1 0.9l1.3 0.9l-0.6 0.5l-2.3-0.1l-0.6 0.4l2.4 1.3l-1.8 0.1l-0.3 0.5l2.2 1.2l-2.2-0.1l0.1 0.6l-0 0.6l-0.4 0.5l-0.9 0.3l2.5 1.3l1.1 0.9l-2.4-0.1l0.2 0.7l0.4 0.7l-2-0l0.3 0.6l-1.3 0.3l0.9 0.8l-0.8 0.4l2.6 1.2l-3.5-0.3l1.9 1.1l-2 0l2 1.2l-0.5 0.4l-1.6 0.2l-0.2 0.5l0.6 0.7l-1.6 0.2l-0.3 0.5l0.2 0.6l1 0.9l-1.1 0.3l2.3 1.1l-1.7 0.2l0.1 0.6l0.2 0.6l1.1 0.9l-3.1-0.2l1 0.8l-0.9 0.4l1.5 0.9l0.5 0.7l-0.9 0.4l-0.7 0.4l-0.3 0.5l-0.9 0.4l4.3 1.6l-4.6-0.5l0.6 0.7l0.2 0.6l-1.6 0.2l1 0.8l0.8 0.8l-2.4 0l1.4 0.9l-1.3 0.3l3.2 1.3l-3.6-0.3l-0.2 0.6l0.3 0.6l1.9 1l-1.4 0.3l-1.7 0.2l2 1l-1.1 0.3l1.2 0.9l-2.6-0l2.3 1.1l0.6 0.7l-2.2 0.1l1.2 0.8l-0.5 0.5l-1.2 0.3l-0.5 0.5l1.4 0.8l-0.7 0.5l0 0.5l-0.5 0.5l0.8 0.8l-2 0.1l0.7 0.7l0 0.6l-0.5 0.5l2.9 1.1l-2.5 0.1l-0.5 0.5l-0.1 0.5l-0.5 0.5l2.8 1.1l-1.4 0.3l-0.7 0.5l-0.5 0.4l-1.4 0.3l5.1 1.6l-5.3-0.5l2.5 1.1l-2 0.2l-0.7 0.4l1 0.8l-0.8 0.4l2.7 1.1l-2.6 0.1l2.7 1.1l-3.6-0.2l0 0.6l-0.3 0.6l0.9 0.7l0.6 0.7l2 0.9l0.4 0.6l-0.8 0.5l-3.3-0.1l0 0.6l1.4 0.8l0.9 0.8l-3.5-0.1l1.6 0.9l-1.8 0.2l2.5 1l-2.4 0.2l2.6 1l-1.6 0.3l-0.5 0.5l0.8 0.7l-1.2 0.4l2.5 1l-3.1 0l1.6 0.8l-1.6 0.3l0.7 0.7l-1.6 0.3l0.8 0.7l-0.5 0.5l1.8 0.9l0.3 0.6l-1.8 0.3l1.1 0.7l2.3 1l-4.8-0.2l5.8 1.4l-4.7-0.1l-1.4 0.3l0.5 0.7l0.9 0.7l-0.1 0.5l0.1 0.6l-1.1 0.4l1.5 0.8l-0.7 0.5l-0.6 0.5l-0.9 0.4l1.6 0.8l-2.1 0.3l0.2 0.6l3.4 1l-3.9 0l0.3 0.6l0.5 0.7l-0.9 0.4l0.1 0.6l2.4 0.9l-1.6 0.4l-1.4 0.3l0.5 0.7l4.1 1.1l-4.1 0l-0.2 0.5l3.1 1l-0.6 0.5l-3.1 0.2l1 0.7l-0.8 0.4l-0.7 0.5l-0 0.6l2.5 0.9l-2.5 0.2l1.8 0.8l-0.2 0.5l2.4 0.9l-1.6 0.4l-2 0.3l5 1.2l-5.9-0.2l0.1 0.6l1.3 0.7l-0.9 0.5l1.7 0.7l-1.8 0.4l0.7 0.7l-1.4 0.4l1.6 0.7l1.3 0.7l-2.3 0.3l4.3 1.1l-3.5 0.1l-0.8 0.5l-0.5 0.5l1.3 0.7l-0.1 0.6l-2 0.4l-0.2 0.5l2.6 0.8l-0.1 0.6l1.3 0.7l-4.1 0.1l1.1 0.7l-0.2 0.5l1.1 0.7l-0.5 0.5l-0 0.6l-1 0.5l0.1 0.5l-0.6 0.5l2 0.8l4.1 0.9l-6.1 0l0.3 0.6l-0.6 0.5l3.2 0.9l-3.9 0.2l0.2 0.6l2.8 0.8l3 0.8l-4.5 0.2l0.9 0.6l-1.7 0.5l0.7 0.6l-1.6 0.4l3.4 0.9l-3.1 0.3l1.3 0.6l-2 0.4l2.1 0.8l-1.2 0.4l1.9 0.7l2.4 0.8l-4.1 0.3l0.9 0.6l-0.4 0.5l-0.4 0.5l1.3 0.7l-1.6 0.5l-0 0.5l-1 0.5l1.7 0.7l0.1 0.6l-1 0.5l-1 0.5l0.6 0.6l1.3 0.6l-1 0.5l-0.8 0.5l-0.2 0.6l-0.3 0.5l0.8 0.6l1.6 0.7l-2.1 0.4l0.9 0.6l0.4 0.6l1.7 0.7l-2.4 0.4l0.8 0.6l0.7 0.6l-2.1 0.5l4.7 0.8l-4 0.3l-0.2 0.6l-0.8 0.5l0.7 0.6l-1 0.5l0.9 0.6l1 0.6l-1.4 0.5l0.4 0.6l-1 0.5l3.8 0.7l-3.3 0.5l0.4 0.6l-1 0.5l2.1 0.6l-0.2 0.6l0.1 0.5l-1.7 0.5l2.8 0.7l-3.2 0.5l0.7 0.5l0.6 0.6l0.5 0.6l-0.6 0.5l0.6 0.6l-0.8 0.6l-0 0.5l1.5 0.6l-2.7 0.5l1 0.6l-1 0.5l2.1 0.6l-0.8 0.6l0.9 0.6l-2.1 0.5l-0.2 0.6l4.6 0.6l-5 0.5l0 0.5l1.9 0.6l0.8 0.6l-1 0.5l-1 0.6l1.6 0.6l-1.6 0.5l-0.4 0.6l0 0.5l2.3 0.6l-0.6 0.6l-1.5 0.5l-0.4 0.6l0.6 0.6l3.1 0.5l-3.9 0.6l0 0.5l1.9 0.6l1.6 0.6l-1.8 0.5l0.8 0.6l0.8 0.6l1.7 0.5l-4.4 0.6l0.4 0.5l-0.4 0.6l0.8 0.6l0.9 0.5l-0.9 0.6l0.6 0.5l-1.4 0.6l3.7 0.5l-2.5 0.6l-1 0.6l0 0.6l0.6 0.5l1.6 0.6l-2.9 0.6l0.8 0.5l1.5 0.6l-0.9 0.5l0.4 0.6l-0 0.5l-1 0.6l4.4 0.5l-3.6 0.6l0.4 0.6l0.4 0.5l-0.9 0.6l-0.6 0.6l1.8 0.5l0.2 0.6l-1.2 0.6l0.8 0.5l1.2 0.5l-2.1 0.7l-0.2 0.5l-0.2 0.6l-0.3 0.6l-0.2 0.5l3.3 0.5l-2.9 0.6l0.4 0.6l4.1 0.4l-5 0.8l2.5 0.4l-1.3 0.6l0.4 0.6l0.6 0.5l1 0.5l-0.3 0.6l-2.5 0.7l1.7 0.5l-1.3 0.6l0.6 0.5l1.4 0.5l-1.9 0.7l1.6 0.5l1.7 0.4l-0.1 0.6l-3.1 0.7l0.6 0.6l2.9 0.4l-1.3 0.6l-0.9 0.6l-1.9 0.7l2.2 0.4l1 0.5l-1.5 0.7l-0.2 0.5l0 0.6l-0.5 0.6l1.4 0.5l-0.2 0.5l-0.1 0.6l-0.4 0.6l4.5 0.3l-3.8 0.8l-0.6 0.6l0.5 0.5l0.2 0.6l3.7 0.3l-3.6 0.8l-1.5 0.7l1.2 0.4l0.8 0.5l0.2 0.6l0.6 0.5l-1.4 0.7l0.2 0.5l-0.9 0.7l0.8 0.5l0 0.5l0.5 0.5l0.6 0.6l-0.9 0.6l-1.1 0.7l0.8 0.4l1.2 0.5l-1.1 0.7l-0.7 0.6l0.6 0.5l1.2 0.5l-0.3 0.6l-1.5 0.7l0.6 0.5l0.5 0.5l-0.5 0.6l3.8 0.2l-3.5 0.9l-0.7 0.6l1.7 0.4l-1.3 0.7l1.1 0.5l3.1 0.2l-1.3 0.7l-2.6 0.9l3.8 0.1l-2.9 0.9l2.5 0.3l-1.1 0.7l0.5 0.5l0.8 0.5l-2.8 0.8l4.6 0.1l-4.9 1.1l2.2 0.3l3.3 0.2l-5.1 1.1l0.7 0.5l0 0.6l-1.1 0.7l1.3 0.4l0.6 0.5l-1.3 0.7l0.9 0.5l1 0.4l1 0.5l0.3 0.5l2.3 0.3l-3.3 1l0 0.5l-0.3 0.6l2 0.4l-0.1 0.5l-3.2 1l0.1 0.5l0.1 0.6l0 0.6l2.4 0.2l-0.5 0.7l0.5 0.5l-0.3 0.6l0.4 0.5l-0.9 0.7l-1 0.7l0.1 0.5l5-0.1l-3.9 1.1l2.3 0.3l-1 0.7l2 0.3l0.4 0.5l-3.7 1.1l0.7 0.4l-0.3 0.6l0.6 0.5l-1.4 0.8l7.8-0.6l-5.4 1.4l1.2 0.4l-3.1 1l0.7 0.5l2 0.2l-1.7 0.8l6.4-0.3l-4.7 1.2l-1.8 0.9l1.1 0.4l1.6 0.3l-2.6 1l0.5 0.5l2.9 0.1l-0.8 0.7l-2 0.9l0.8 0.4l-1.2 0.8l0.8 0.4l0.7 0.5l-1 0.7l3.3 0l-3.1 1.1l1.6 0.3l-0.1 0.6l1.2 0.4l0.5 0.4l-0.9 0.8l-1.9 0.9l2.1 0.2l-0.2 0.6l0.8 0.4l-1.6 0.8l-0.1 0.6l-0.2 0.7l0.8 0.4l1.1 0.4l1.6 0.3l-2.9 1l0.1 0.6l1.8 0.2l-1.8 0.9l6.1-0.5l-4.4 1.4l-0.8 0.7l8.6-1l-7.3 1.9l0.5 0.5l6.9-0.7l-4 1.3l-2 0.9l-0.4 0.7l-1.6 0.8l1.8 0.3l0.8 0.4l-2.1 1l1.2 0.3l0.5 0.5l0.5 0.4l-2.5 1.1l3.1-0l-2.3 1l0.1 0.6l3.3-0.1l-2.7 1.1l1.3 0.3l0.7 0.4l0.8 0.4l-0.6 0.7l-2.1 1l0.1 0.6l1.4 0.3l1.1 0.3l-1.4 0.9l-0.8 0.7l4.2-0.3l-3.2 1.3l2.5 0l0.5 0.5l1.5 0.3l-3.6 1.3l-0.9 0.7l3-0l-2.1 1l1.4 0.3l-1.6 0.9l0.4 0.5l0.6 0.4l0.9 0.4l-1.3 0.9l1.2 0.3l2.2 0.1l-1.6 0.9l0.4 0.5l-1.8 1l1.3 0.3l0.9 0.3l-1 0.9l2 0.1l-2.3 1.1l6.3-0.9l-5.3 1.8l1.6 0.2l-1.7 1l0.1 0.5l-0 0.6l4.4-0.5l-3.4 1.4l3.5-0.2l-4.3 1.6l0.7 0.4l6.6-1l-6 2l-0.9 0.8l2.5-0l2.9-0.2l-4.8 1.8l0.5 0.5l1.2 0.2l-0.2 0.7l0.7 0.4l-1.3 0.9l0.7 0.4l-0.6 0.7l1.4 0.2l-0.4 0.7l6.5-1l-5.6 2l2.7-0.2l-2.6 1.3l1.3 0.3l-0.1 0.5l-1.1 0.9l-0.6 0.8l0.3 0.5l0.4 0.4l0.3 0.5l0.9 0.4l-0.6 0.7l-0 0.6l1.4 0.2l0.2 0.6l0.9 0.3l0.9 0.3l1.2 0.3l-1.8 1.1l1 0.3l0.8 0.3l-2.6 1.3l-1 0.9l1.6 0.1l0.4 0.5l0.3 0.5l3.5-0.4l-0.9 0.9l-3.6 1.5l1.3 0.3l2.9-0.3l-0.4 0.7l-0.2 0.6l-1.8 1.2l-0 0.5l-1 0.9l3.3-0.4l0.2 0.6l1.1 0.3l-3 1.4l2.2-0.1l0.5 0.5l-3.3 1.5l4.4-0.7l-3.5 1.6l0.9 0.4l-1.1 0.9l1.1 0.2l0.2 0.6l1.6 0.1l-1.1 0.9l-0.4 0.7l0.7 0.4l1.9 0l0.7 0.4l-0.2 0.6l-1.5 1.1l-0.2 0.6l-0.3 0.7l0.5 0.4l0.9 0.3l2.2-0l-2.2 1.2l-0.4 0.7l1.1 0.3l2-0.1l1.7 0.1l-0.8 0.8l-2.9 1.6l2.4-0.2l-0.2 0.6l1.5 0.2l-1.9 1.1l2.6-0.2l-3.3 1.7l0.6 0.4l2.7-0.3l-3.3 1.6l0.6 0.4l0.5 0.5l1.3 0.1l-1.1 1l2.9-0.4l1 0.3l-1.7 1.1l-1.8 1.2l4.4-0.8l0.2 0.5l-0.9 0.9l-2.4 1.4l0.6 0.4l0.7 0.3l0.8 0.4l-1.6 1.1l2.5-0.3l-0.5 0.8l-0.7 0.9l3.6-0.7l-4.5 2.2l0.9 0.2l4-0.8l-2.7 1.6l2.4-0.3l-3.4 1.8l2.7-0.3l-2.5 1.5l1.4 0l4.4-0.9l-4.1 2.1l2-0.2l-2 1.3l0 0.6l6.1-1.6l-2.3 1.5l-2.4 1.5l2.5-0.4l-2.1 1.4l1.8-0.1l-2.3 1.5l1.6-0l0.2 0.5l-1.4 1.1l1.8-0l-1.2 1l3.6-0.7l-2.8 1.6l0.2 0.6l-0.5 0.8l0.2 0.5l0.4 0.4l7.9-2.3l0.2 0.5l-6.9 3.2l1.3 0.1l3.2-0.6l-1.8 1.3l8.1-2.5l-9 4l7.5-2.2l2.3-0.4l-3.9 2.1l-4.9 2.6l2.3-0.3l6.8-2.1l-8.6 4l0 0.6l0.2 0.5l3.8-0.9l-1.9 1.4l-0.5 0.8l1.5 0l-2.5 1.6l4-1l1.8-0.1l-2.6 1.7l7.1-2.3l-2.8 1.7l-1.4 1.2l1.7-0.1l-3.3 2l-2.1 1.4l2.7-0.5l-1 1l0.2 0.6l5-1.5l0.9 0.2l-5 2.7l0.4 0.5l1.2 0.1l1.5-0l0.8 0.3l-2.1 1.4l-0.1 0.7l1.1 0.1l-0.3 0.8l2.7-0.6l7.1-2.3l-9.5 4.6l-1.6 1.3l2.6-0.5l-0.6 0.8l0.4 0.5l-1.7 1.3l0.8 0.3l9.8-3.6l-6.5 3.4l0.7 0.3l0.6 0.4l2.9-0.7l2.3-0.4l-5 2.8l-2.6 1.8l-0.1 0.6l2.7-0.5l-2.9 1.9l9.5-3.6l-2 1.5l-6.1 3.3l-0.6 0.9l0.6 0.3l1.5-0l0.2 0.5l0.6 0.4l2.8-0.7l-3.5 2.2l3.9-1.1l0.9 0.2l-3.4 2.1l0.8 0.3l-0.1 0.7l1.4-0.1l-1.4 1.3l0.2 0.5l5.3-1.8l-1 1.1l-3.2 2.1l1.3 0l-1.3 1.2l-0.4 0.9l3.8-1.2l2-0.3l0.8 0.2l-4.9 3l2.6-0.7l-0.2 0.8l4.2-1.4l-2.5 1.8l8.1-3.2l-11.2 6l1.4-0.1l5.3-1.9l-2.5 1.8l0.2 0.5l2.2-0.4l2.8-0.7l-1.6 1.4l-1 1.1l-3.5 2.3l-0.2 0.7l0.4 0.5l5.1-1.9l-0.8 1l-0.6 0.9l1.5-0.1l-4 2.6l0.2 0.5l4.9-1.7l-4.3 2.7l11.1-4.9l-9.9 5.6l-0.4 0.8l-0.8 1.1l6.6-2.7l5.8-2.3l-8.7 5l2-0.4l-0.1 0.7l-0.8 1l-0.9 1.1l3.3-1l-1.2 1.2l-1.9 1.6l2.9-0.8l0.7 0.3l2.8-0.8l-4.8 3.1l3.1-1l0.6 0.3l-3.3 2.3l9.9-4.5l-5.4 3.5l-4.6 3l1.9-0.3l-0.9 1.1l2-0.4l1.9-0.4l-0.7 1l1 0.1l-0.3 0.8l-3.2 2.4l1.8-0.4l0.1 0.6l0.6 0.3l7.2-3.1l-8 4.8l8.5-3.9l-1.9 1.7l-4.4 3l6.8-3l-3.7 2.6l-1.1 1.2l2.8-0.8l-1.2 1.3l0.8 0.2l-0.2 0.7l-2.1 1.8l4.8-2l-2 1.8l1.4-0.2l1.6-0.2l4-1.6l-8.2 5.2l6.6-3l-3.7 2.7l-2.7 2.1l1 0.2l-0.1 0.6l-0 0.7l3.7-1.5l1.8-0.3l-2 1.8l3.1-1.1l2.4-0.8l-4.3 3.1l1.1 0l4.3-1.7l-7.6 5l1.3-0.1l0.7 0.2l4.1-1.7l-3.1 2.5l6.5-3.2l-6.3 4.3l4.1-1.7l-4.3 3.1l-0 0.7l0.1 0.6l0.8 0.2l5.6-2.6l-6 4.1l5.1-2.3l6-2.9l-8.8 5.9l4.2-1.8l-3.5 2.7l4.2-1.9l-3.1 2.5l-0.2 0.8l1.2-0l-0.6 0.9l6.5-3.2l-7 4.9l-0.2 0.8l5.7-2.8l3.6-1.5l-5.2 3.8l5-2.4l-1 1.3l-4.7 3.5l1.2-0.1l-1.9 1.9l0.9 0.1l0.2 0.5l0.3 0.5l6.9-3.6l-4.3 3.4l6.9-3.7l-8.1 5.7l2.6-0.9l2.2-0.8l-0.3 0.9l-3.9 3.1l3.6-1.6l2.1-0.6l-2.3 2.1l0.2 0.6l-2.1 1.9l0.3 0.5l0.6 0.3l0.2 0.6l0.9 0l2.4-0.8l-2.4 2.2l2.6-1l-1.9 1.9l1.4-0.2l7-3.9l3.5-1.6l-10 7.2l1.6-0.4l-0.1 0.8l1.9-0.6l-2.6 2.3l4.8-2.4l3.7-1.7l-5.6 4.3l-0.9 1.3l6.5-3.6l-2.5 2.3l-0.7 1.1l4.6-2.3l-3 2.6l-3.9 3.3l1.3-0.2l2.3-0.9l5.9-3.2l-5.2 4.2l0.7 0.2l-1.3 1.5l0.2 0.6l1.9-0.6l5.7-3.1l-8 6l1.1-0l2.5-1.1l-2.2 2.2l0.1 0.7l7.8-4.7l-6.1 4.8l-0.1 0.8l0.5 0.4l10.2-6.3l-10 7.5l3.4-1.7l1.9-0.6l-3.7 3.3l1.1-0.1l7.1-4.2l-8.1 6.3l2.7-1.2l-0.8 1.2l9.5-5.9l-8.3 6.5l-1.5 1.8l3.2-1.7l1 0.1l-0.6 1.1l4.4-2.4l-4.8 4l7.3-4.4l-5.2 4.4l-0.9 1.3l-0.7 1.2l7.6-4.7l-6.2 5.1l7-4.3l-1.8 2l3.1-1.6l-4.4 3.9l2.6-1.2l-4.1 3.6l1.1-0.1l0.7 0.3l-0.1 0.7l-1 1.5l6.3-3.9l-4 3.6l0.1 0.6l-1.5 1.8l1.6-0.4l-0.6 1.1l3.1-1.6l1.9-0.7l-1.3 1.7l-2.4 2.5l1.2-0.2l0.1 0.6l5.2-3.1l-3.3 3.1l3.1-1.6l-1.8 2l2.8-1.3l1.3-0.3l-2.4 2.5l-3.3 3.2l4.3-2.5l0.5 0.3l-3.5 3.4l7.4-4.9l-6.1 5.3l5.8-3.7l-5.5 5l1.2-0.3l0.4 0.4l2.1-0.9l2.1-0.8l-4.2 3.9l1.6-0.5l6.5-4.3l-4.3 4l5.1-3.3l-2.4 2.7l-3.2 3.2l0 0.7l1.6-0.5l4.4-2.8l-2.8 2.9l0.8 0.1l-2.9 3l9.9-7l-3.7 3.6l-2.9 3l2.8-1.5l-1.4 1.9l2.3-1.1l-1.9 2.2l4.4-2.8l-3.1 3.1l-1.9 2.4l1.4-0.4l1.2-0.3l-0.9 1.5l1.7-0.6l-2.5 2.6l4.4-2.7l-3.3 3.4l4-2.6l-2.7 2.9l-0.3 1.1l5.9-4.1l-2.4 2.7l-1.4 1.8l1.1-0.2l-1.1 1.7l4.1-2.6l0.5 0.3l-1.1 1.6l-0.8 1.4l4.7-3.2l-2 2.5l1.9-0.9l-0.6 1.3l0.9-0.1l-2.6 3l2.8-1.7l-2.5 2.9l-0.9 1.5l1.4-0.4l3.1-1.9l-1.8 2.2l2.7-1.5l-0.7 1.4l1.1-0.2l-1.2 1.8l3.4-2.2l-1.7 2.1l3.1-1.9l-4.7 4.9l0.1 0.6l0.9-0l3.7-2.5l-3 3.4l0.9-0.1l0.6 0.3l1.8-0.8l-2.3 2.8l6.2-4.7l-3.2 3.5l3-1.8l-3.6 3.9l0.4 0.4l2.8-1.7l2-1.1l-3.9 4.3l0.9-0.1l-0.4 1.2l3.2-2.1l-2.7 3.2l4.2-3l-3.3 3.7l3.9-2.8l-3.2 3.7l2.3-1.3l-0.7 1.4l1.2-0.3l-0.8 1.5l1.6-0.7l-1 1.6l0.3 0.6l2.6-1.6l-0.7 1.4l0.8 0l-0 0.8l-0.2 0.9l0.9 0l-0.5 1.2l4.2-3l-0.9 1.5l-1.9 2.6l0.9-0.1l0.1 0.7l0.3 0.5l1.2-0.4l2.5-1.5l-2.6 3.2l2-1.1l-1.6 2.3l2.2-1.2l-0.7 1.4l0.7 0.1l3.7-2.7l-3.3 3.9l3.5-2.5l-0.4 1.1l-1 1.7l1.8-0.9l3.4-2.4l-4.2 4.8l0.3 0.5l0.9-0.1l1-0.1l2.1-1.3l-0.9 1.7l-1.2 1.9l2.2-1.3l0.2 0.6l-1.7 2.5l2.7-1.9l-2.2 2.9l1.5-0.6l0 0.7l-0.2 1.1l2.5-1.7l-0.4 1.2l1.1-0.3l4.3-3.4l-4.4 5.1l0 0.8l4.5-3.6l-1.2 2l-2.4 3.2l3.6-2.8l-2 2.8l-0.4 1.2l2.9-2.1l1.8-1l-1.7 2.5l1.4-0.6l-0.4 1.2l-0.4 1.2l1.9-1.1l-1.4 2.3l3.8-3.1l-3.3 4.1l1.8-0.9l0.7 0.1l-0.5 1.3l-0.8 1.6l1.6-0.8l2.8-2l-0.2 1l0.9-0.1l-2.7 3.6l1.6-0.9l0.8 0l-1.1 2l0.9-0.1l-0.3 1.2l2.6-2l-1.8 2.7l1.1-0.3l3.4-2.7l-2.4 3.4l0.3 0.5l0.9-0.2l-1 1.9l2.1-1.4l0.1 0.8l0 0.8l0.6 0.2l0.3 0.5l0.8-0l-0.3 1.2l1.8-1.2l-0.5 1.4l1.9-1.2l-1 1.9l1.3-0.6l-0.6 1.5l0.4 0.5l0.8-0l0.9-0.2l-0.2 1.1l1.8-1.2l1.1-0.3l-0.6 1.5l0.3 0.5l-1 2l2.2-1.5l0.1 0.6l0.5 0.4l-0.8 1.7l2.3-1.7l-2.1 3.2l1.1-0.4l2-1.4l-1.1 2.2l3.3-2.9l-2.1 3.2l-0.2 1.1l1.7-1.1l1.8-1.2l-1.4 2.5l0.1 0.8l0.7 0.1l0.8-0.1l0.4 0.4l-0 0.9l-0.1 0.9l0.8-0l1.1-0.4l-0.7 1.7l1.6-0.9l0.5 0.2l-0.2 1.2l0.3 0.5l0.3 0.5l0.1 0.8l1.3-0.6l-0.3 1.2l0.4 0.3l3.5-3.2l-0.2 1.2l-2 3.2l1.3-0.6l0.2 0.6l-0.2 1.1l1.2-0.5l1.4-0.8l1.7-1.1l-1.9 3.1l1.6-0.9l-0.9 1.9l2.4-1.9l0.4 0.3l-1.2 2.4l1.9-1.4l3.4-3.2l-3.6 5.2l-0.4 1.4l0.7 0l1.1-0.3l0.5 0.2l-0.1 1l0.9-0.2l1.1-0.4l0.8-0l-0 0.9l-0.8 1.8l0.5 0.3l2.3-1.9l-1.3 2.5l1.3-0.7l1.3-0.7l-1.7 3l1-0.2l0.3 0.5l0.2 0.6l0.8-0.1l0.5 0.3l2.5-2.1l-1.3 2.5l0.9-0.2l-0.6 1.7l0.5 0.3l1.8-1.4l0 0.9l1.6-1.1l-1.5 2.8l1.1-0.4l0.1 0.8l0.1 0.8l0.6 0.2l1.5-1l1.1-0.6l-1 2.3l1.2-0.6l1.8-1.4l-0.9 2.1l-0.7 1.8l1.6-1.1l0.2 0.8l0.6 0l-0.1 1.1l0.6 0.2l1.9-1.5l-1.2 2.4l1.1-0.4l1.7-1.3l-0.9 2.1l0.4 0.5l1.2-0.7l-0.3 1.4l-0.1 1.1l1.6-1.2l0.4 0.5l-0.5 1.5l2-1.6l-0.9 2.1l0.7 0l0.6 0.2l0.1 0.8l2.8-2.8l-2.1 3.7l1.8-1.4l0.8-0.2l-0.3 1.4l0.2 0.8l2.6-2.5l0.4 0.3l-0.3 1.4l-0.6 1.8l1-0.4l-0.7 1.9l0.4 0.5l1.9-1.6l0.3 0.4l-0.3 1.4l0.5 0.3l1.3-0.7l-0.1 1.1l0.8-0.2l-0.3 1.4l0.4 0.5l0.5 0.3l0.3 0.5l0.8-0.2l0.3 0.7l1.1-0.6l-0.5 1.7l0.8-0.2l0.3 0.6l0.6 0.2l1-0.4l0.6 0.1l-0.1 1.2l0.3 0.5l0.5 0.3l0.8-0.1l0.8-0.2l1.4-0.9l0.1 0.8l-0.5 1.7l1.3-0.8l-0.2 1.2l0.8-0.1l0.2 0.8l0.5 0.3l0.4 0.4l0.9-0.3l-0.2 1.3l1.5-1.1l0.7-0l-0.7 2l1.1-0.6l2.6-2.8l-1.8 3.7l2-2l-1.6 3.4l3.4-4.1l-1.4 3.1l0.1 0.9l3-3.4l-1.8 3.7l1.1-0.6l-0.5 1.9l1.2-0.8l0.9-0.4l0.6 0.2l1.7-1.6l-2.1 4.2l1.5-1.2l-0.1 1.2l0.9-0.3l0.3 0.6l0.6 0.1l-0.3 1.6l2-2.1l0.4 0.5l0.7-0.1l-1.2 3l1.7-1.6l-0.2 1.4l2-2.1l-1.6 3.6l1.5-1.2l1.7-1.8l-0.2 1.4l-0.5 1.9l0.4 0.4l1.4-1.1l-0.4 1.7l1.6-1.4l-0.3 1.5l0.4 0.5l0.1 0.9l0.3 0.6l1.2-0.8l0.3 0.6l0.1 0.9l0.6 0.1l0.6 0.1l1.9-1.9l-0.7 2.2l2-2.1l-0.4 1.7l-0.1 1.3l0.3 0.6l1-0.6l0.4 0.5l0.8-0.2l0.1 1.1l1.6-1.7l-0.6 2.2l0.4 0.5l0.2 0.7l1.5-1.5l-0.4 1.9l1.1-0.7l0.7 0l1.5-1.5l0 1.1l-0.2 1.6l0.7-0.1l0.8-0.2l-0.7 2.2l0.9-0.4l1.7-1.6l-0.7 2.2l1-0.5l2.2-2.7l-2.1 4.8l1-0.5l0.1 0.9l1.2-0.8l0.2 0.7l0.4 0.4l0.9-0.3l0.2 0.7l0.1 1.1l1.7-1.8l-0.2 1.5l0.1 1l0.8-0.3l0.9-0.4l0.7-0.2l-0.3 1.8l1.4-1.2l0.3 0.6l1.1-0.9l-0.4 2l0.3 0.6l1.1-0.9l1.5-1.5l0.5 0.4l-0.9 2.8l0.1 1l1.4-1.3l-0.5 2l0.6 0.1l0.6 0.3l0.8-0.4l0.7-0.1l0.5 0.3l0.6 0.2l1.1-0.8l0.6 0l-0 1.3l0.6 0.1l-0.1 1.4l0.6 0.1l0.4 0.4l0.5 0.3l0.6 0.1l0.4 0.5l1.1-0.9l0.2 0.9l0.3 0.6l1.1-0.7l0.8-0.4l-0.1 1.6l1.3-1.4l-0.7 2.7l0.8-0.4l0.2 0.9l0.9-0.4l0.8-0.4l0.3 0.7l0.5 0.3l0.4 0.5l0.7-0L444.3 1293.4A667.5 645.2 0 0 0 455.4 1298.5l0.9-0.4l1.8-2.5l-1.1 3.6l1.2-1.1l0.2 0.9l1.4-1.6l-0.2 1.7l1.1-0.9l0.6 0.1l0.1 1l0.6 0.1l1-0.8l-0.4 2.3l1-0.8l-0.3 1.9l1.6-1.9l0.2 0.9l0.6 0l-0.1 1.6l0.9-0.4L466.5 1303.4A667.5 645.2 0 0 0 471.3 1305.5l1.1-1.1l0.6 0.2l0.5 0.2l1.1-1l-0.6 2.6l1.7-2.3l-0.5 2.6l0.5 0.4l1.5-2l-0.3 2.1L477.2 1307.9A667.5 645.2 0 0 0 482 1309.9l1.9-3l-0.7 3.1l2.4-4.1l-0.3 2.1l-0.6 3l1.4-1.9l0.1 1.3l0.4 0.5l0.9-0.6l1.8-2.9l-1.4 4.8l1.1-0.9L489 1312.6A667.5 645.2 0 0 0 498.2 1316.1l0.7-0.1l0.6-0l0.8-0.5l0.6 0.2l0.8-0.5l0.2 1.1l1.3-1.9l-0.2 2.3l0.5 0.2l1.1-1.2l-0.2 2.1l0.7-0.3l0.3 0.8l1.1-1.1L506.4 1319.1A667.5 645.2 0 0 0 515.2 1322.2l1.3-1.7L516.3 1322.6A667.5 645.2 0 0 0 519 1323.5l1.4-2.3l0.6 0.2l0.8-0.5l-0.2 2.3l0.2 1l0.6 0l0.9-0.6l0.5 0.3l1.3-1.9l0.7-0.4L525.1 1325.5A667.5 645.2 0 0 0 537.8 1329.5l0.7-0.4l0.6 0l1-1l0.2 1.2l0.8-0.7l0.1 1.6l1.7-3.2l-0.5 3.3l0.6 0.2l0.4 0.5L543.9 1331.3A667.5 645.2 0 0 0 562.4 1336.5l1-1.3l0.2 1.2l1-1.4l0.3 1.2l1.4-2.7l0.5 0.3l0 1.9l0.5 0.5L567.5 1337.8A667.5 645.2 0 0 0 575.9 1339.9l2.5-7.2L577.1 1340.2A667.5 645.2 0 0 0 588.4 1342.8l0.6-0.1l1-1.5l0.4 0.7l0.7-0.6l0.5 0.5l0.4 1L592.4 1343.7A667.5 645.2 0 0 0 616.4 1348.4l0.8-1.2l0.5 0.7l1-2.5l0.2 2.1l0.4 1L619.8 1349A667.5 645.2 0 0 0 649.1 1353.5l1.1-3.6l0.5 0.8l0.4 1l0.6 0.3L652 1353.8A667.5 645.2 0 0 0 686.2 1357.3l0.8-2.7l0.4 2.6L687.9 1357.4A667.5 645.2 0 0 0 717.6 1358.9l0.6-0.5l0.6 0.5l0.6-1.8l0.6 0.8l0.6-0.8l0.5 0l0.6 0.1l0.6-1l0.6 0.2l0.5 2.5l0.6-1.1l0.6 1.1l0.6-2.8l0.6 2.1L726.4 1359.1A667.5 645.2 0 0 0 803.7 1356.1l0.6-0.2l0.4-1.2l0.7 0.9l0.6-0.3l0.5-0.4l0.6 0.3l0.6-0.4l0.5-0.6L808.9 1355.5A667.5 645.2 0 0 0 848.7 1350.3l0.4-1.4l0.1-2.3l0.8 0.9l0.9 2.1l0.6 0l0.3-1.7l0.8 1l0.5-0.6L853.9 1349.4A667.5 645.2 0 0 0 865.4 1347.3l-1.2-8.8L866.5 1347.1A667.5 645.2 0 0 0 908 1337.9l0.5-0.5l0.3-1l0.2-1.3l0.1-2.1l1.6 3.8l0.3-1l0.9 0.9l0.5-0.5L913 1336.6A667.5 645.2 0 0 0 945.4 1327.3l-2.7-9.8L946.5 1326.9A667.5 645.2 0 0 0 969 1319.3l-0.5-3l0.5-0.2l1 0.9l-0.1-1.8l1.5 2.3l0.7 0.3l0.5-0.6l0.6 0.2l0.6-0l0.5-0.6l0.6 0.2l0-1.6l0.7 0.1l0.5-0.4L977.2 1316.3A667.5 645.2 0 0 0 1023.3 1297.3l-1.8-5.1L1024.3 1296.8A667.5 645.2 0 0 0 1033.8 1292.4l-2.8-6.7l3.2 4.9l0.9 0.6l-0.6-2.5l1.5 1.6l0.8 0.3l-0.3-1.8l1.4 1.4l-0.4-2L1039 1289.9A667.5 645.2 0 0 0 1088.3 1263.2l-1-2.7l1.7 1.6l-0.5-1.8l1 0.5l0.9 0.3l0.3-0.6l0.9 0.3l-1.4-3.1l2.2 2.4l0.2-0.8l-0.1-1.3l1.6 1.5l-0.3-1.6l1.2 0.8L1095.7 1258.8A667.5 645.2 0 0 0 1157.6 1215.8l-0-0.9l0.1-0.8l-1.5-2.7l3 2.7l0.2-0.6l0.8 0l-1-2l1 0.3l0.4-0.5l-0.8-1.8l2.6 2.2l-2.2-3.5l1.8 1.3l-0.7-1.7l2.2 1.7l0.3-0.5l0.4-0.6l1.5 1l-0.3-1.2l-2-3.2l3.2 2.7l-1.2-2.2L1168 1207.5A667.5 645.2 0 0 0 1241.4 1137.7l-2.4-2.7l0.1-0.7l1.4 0.4l1.4 0.5l1.3 0.3l0.2-0.6l-0.6-1.3l-2-2.3l3.4 2.1l-1.5-2l0.8-0.1l0.9-0l1.6 0.6l-1.6-2.1l1.8 0.8l0.2-0.6l0.1-0.6l0.1-0.7l-0.1-0.8l0.4-0.4l-0.2-0.9l-0.5-1.2l3 1.7l-2.8-3l4.1 2.6l-0-0.7l0.5-0.4l-2-2.3l3.2 1.8l-2.2-2.4l-0.8-1.4l3.2 1.8l-0.2-0.9l1.8 0.8l-0.9-1.5l-1.1-1.6l-0.4-1.1l2.9 1.6l0.2-0.6l1.2 0.3l0.3-0.5l0.2-0.6l0.2-0.5l-1.6-2l-0.4-1l3.1 1.6l-0.7-1.2l1 0l1.4 0.4l0.2-0.6l-0.4-1l1.4 0.4l-1.3-1.7l1.3 0.2l0.7-0.2l-0.1-0.8l-1.9-2.1l3.3 1.8l-0.8-1.3l0.5-0.4l0.7-0.2l-1.5-1.8l2.9 1.5l0.2-0.6l0.1-0.6l0-0.7l1 0l-0.2-0.9l-2.6-2.6l1.3 0.3l1.4 0.3l1.3 0.2l-0.9-1.3l1.9 0.7l0.9-0l-0.2-0.9l0-0.7l-0.1-0.8l1.4 0.3l-0.1-0.7l1.2 0.1l0.3-0.5l-1.2-1.5l0.8-0.2l0.1-0.6l0.3-0.5l-0.6-1.1l2.5 1.1l-0.4-1l-1.5-1.8l1.1 0.1l1.9 0.7l-1-1.5l2 0.8l0.4-0.5l-1.9-2l1.8 0.6l-1.8-2l-1.4-1.7l3.9 2.1l0.2-0.6l0.9 0l1.2 0.1l-1.1-1.4l1.7 0.5l-1.8-2l1.6 0.4l-0.1-0.7l1.2 0.1l-1.6-1.8l2.2 0.8l-2-2l1.7 0.5l-0.1-0.8l-0.6-1.1l1.2 0.2l0.8-0.2l0.1-0.6l1.9 0.6l0.3-0.5l0.5-0.4l0.5-0.3l-0-0.7l-3.1-2.8l3.9 2l-0.3-0.9l-0.1-0.8l-2.4-2.2l3 1.3l1.2 0.1l0.1-0.6l-1.5-1.7l1.6 0.4l1.4 0.2l0-0.6l-0.1-0.8l-0.5-1l1.3 0.2l0.8-0.2l-0.5-1l0.2-0.6l-2.9-2.5l1.5 0.3l2.7 1.1l0.8-0.2l0.4-0.4l-1.1-1.4l1.9 0.6l-1.4-1.6l2.3 0.8l-1-1.3l-1.8-1.8l2.3 0.7l-0.3-0.8l0.4-0.4l1.6 0.3l1.2 0.1l-1.5-1.6l1.3 0.1l0.3-0.4l-3-2.6l0.9-0.1l3.7 1.6l-1.6-1.6l0.6-0.3l0-0.7l2.3 0.7l-4.1-3.1l4 1.8l0.4-0.5l-0.1-0.6l0.8-0.2l-2.7-2.4l3.9 1.7l-0.9-1.1l0.3-0.5l1.2 0l-4.3-3.2l3.9 1.7l0.5-0.4l-0-0.7l-0.1-0.7l0.2-0.5l1.8 0.4l-1.5-1.6l-0.2-0.8l2.1 0.6l0.9-0.1l-0.6-1l-1.5-1.6l1.4 0.2l0.5-0.3l1.6 0.3l-0.2-0.8l0.2-0.6l-1.2-1.3l2.1 0.5l1.1 0l-0.5-0.9l0.8-0.2l-0.4-0.9l0.7-0.3l-1.1-1.2l1.8 0.4l0.5-0.4l-0.4-0.9l0.6-0.3l-0.6-1l1.2 0l-0.7-1l0.2-0.6l-0.2-0.7l1.3 0l0.1-0.5l0.8-0.2l0.4-0.4l0.8-0.2l0.6-0.3l-2-1.8l-3.2-2.5l5.3 2.3l0.3-0.5l-1.4-1.4l0.8-0.2l0.6-0.3l1.1-0l-1.7-1.6l1.3 0.1l2.3 0.6l-1.2-1.3l0.9-0.2l-0.3-0.8l1.3 0l-0.3-0.7l1-0.1l-1.7-1.6l2.3 0.6l-1.8-1.6l2.3 0.6l0.1-0.6l-1.7-1.6l2.5 0.7l-0.4-0.8l0.1-0.6l-0.2-0.8l-0.4-0.8l1.8 0.3l-0.1-0.7l0.8-0.2l-2.6-2l3 0.9l-0.4-0.8l0.4-0.4l1.7 0.2l-0.8-1.1l-1.2-1.2l0.9-0.2l0.8-0.2l-0.7-1l1.3-0l1.6 0.2l-0.2-0.8l0.7-0.2l-1.7-1.5l1.8 0.2l-1.8-1.5l0.4-0.4l1.5 0.1l0.9-0.2l0.8-0.2l-2.6-1.9l1.6 0.1l0.5-0.4l0.4-0.4l-0.4-0.8l-3.1-2.2l2.9 0.8l2.4 0.6l0.1-0.6l-2.3-1.8l2.4 0.6l1.2-0.1l-0.3-0.7l0.8-0.3l-2.5-1.8l1.5 0.1l0.1-0.6l1.1-0.1l-0.1-0.7l-1.1-1.1l1.4 0l-1.1-1.1l2.9 0.7l-1.7-1.4l2 0.3l-0.8-1l1.3 0l-2-1.6l2 0.3l0.6-0.3l0.6-0.3l0.6-0.4l-0.8-1l-0.1-0.6l-0.2-0.8l-0.6-0.9l2.5 0.5l-0.6-0.9l-1.3-1.2l3.1 0.9l-1.1-1.2l0.4-0.4l-3-2l3.5 1l0.1-0.6l1.3-0l-3.9-2.4l3.5 0.9l-3.2-2l2.2 0.3l0.4-0.4l1.3-0.1l1.4 0.1l-1.3-1.2l1.3-0.1l0.9-0.2l-0.1-0.6l-1.5-1.3l-0.8-1l1.8 0.2l0.4-0.4l-0.6-0.9l1.3-0.1l-1.3-1.2l0.7-0.3l2.4 0.4l0.6-0.3l-0.3-0.8l-0.1-0.6l0.2-0.6l-0.3-0.7l-1-1l2.4 0.4l0.4-0.5l-1-1l0.7-0.3l0.3-0.5l-0.3-0.8l1.4 0l-0.1-0.6l-0.3-0.8l-0.1-0.6l0.2-0.5l-2.4-1.7l2.7 0.6l1.5-0l-1.2-1.1l-2.9-1.9l4.8 1.4l-4-2.3l4.1 1.1l0.9-0.2l-1.4-1.2l-2-1.4l1.6 0l-0.3-0.7l-2.9-1.8l3.9 1l0.9-0.2l1.5-0.1l-1.6-1.2l2 0.2l-2.2-1.5l2.5 0.4l0.9-0.3l-1.2-1l0.6-0.4l-1.6-1.2l2 0.1l-2.4-1.5l2 0.2l1.1-0.2l0.4-0.5l0.7-0.3l-1.2-1.1l1-0.2l-0.7-0.9l1.4-0l0.8-0.3l-1-1l-0.5-0.8l2.3 0.3l0.4-0.5l-0.5-0.8l-2.1-1.4l-0.2-0.6l3.3 0.6l0-0.6l-0.5-0.8l0.4-0.5l-1.6-1.2l2.4 0.3l-3-1.7l3.2 0.6l-1.4-1.1l1.3-0.1l1.3-0.2l-2-1.3l0.1-0.6l0.9-0.2l0.5-0.4l-0.8-1l2.3 0.3l-2.5-1.5l2 0.1l1.5-0.1l-0.2-0.6l-2.5-1.5l0.8-0.3l2.1 0.1l1-0.2l-1.1-1l0.9-0.3l-2.5-1.5l2.7 0.4l-0.3-0.7l-0.9-0.9l-0.2-0.7l2.6 0.3l-0.5-0.8l-0.2-0.6l1.6-0.1l-0.3-0.7l-1.1-0.9l2 0l-2-1.2l0.9-0.3l-0.1-0.7l1.1-0.2l-0.6-0.8l0.8-0.3l-0.6-0.8l-0.1-0.6l0.5-0.5l-1.3-1l1.9 0l1.2-0.1l0.2-0.6l-1.6-1.1l0.2-0.5l1.8-0l-1.3-1l1.3-0.2l0.7-0.4l-0.5-0.7l-6.7-2.8l6.7 1.6l1.3-0.2l-0.9-0.9l-1.3-1l1.4-0.1l-1.4-1.1l3.2 0.5l0.6-0.4l-0-0.6l0.3-0.5l-2.9-1.5l2.9 0.3l-0.5-0.8l0.2-0.5l1.2-0.2l-3.1-1.5l2.7 0.2l-0.9-0.9l1.7-0.1l-2.1-1.2l0.6-0.4l2.2 0.1l-0.2-0.7l-3.3-1.5l2.7 0.2l-0.2-0.7l1.6-0.1l-2-1.1l0.3-0.5l1.3-0.2l-0.6-0.8l2.2 0.1l-4-1.8l2.5 0.1l1.3-0.2l-4.8-1.9l4.2 0.6l0.2-0.6l0.7-0.3l-0-0.6l-4.3-1.8l5.1 0.8l0.8-0.3l-1.4-1l1.3-0.2l-2.6-1.3l2.2-0l-0.2-0.7l-0.4-0.6l-1-0.9l0.2-0.5l2.6 0.1l-2.3-1.2l2.7 0.2l-0.3-0.7l-4.1-1.7l5.5 0.9l-1.5-1l-0.3-0.6l0.9-0.4l0.9-0.3l-0-0.6l0.3-0.5l0.4-0.5l0.1-0.6l0.5-0.4l0-0.6l-0.4-0.7l0.9-0.3l-2.3-1.2l2.6 0.1l-0.4-0.7l-0.2-0.7l-1.2-0.8l-1.9-1.1l4.4 0.5l-1.5-0.9l-2.8-1.3l2-0.1l2.5 0.1l-1.3-0.9l0.3-0.5l-0.2-0.7l1.8-0.1l-1.4-0.9l0.2-0.6l-2.3-1.1l2.2-0l-1.7-1l4.2 0.4l-1.9-1l2.4-0.1l-0.1-0.5l-1.3-0.9l1.8-0.2l-0.4-0.7l-3.3-1.3l2.8 0.1l1-0.4l-2.6-1.2l0.1-0.5l2.9 0.1l-0.4-0.7l-0.8-0.7l1.1-0.4l-2.1-1l1.8-0.2l1.2-0.3l0.3-0.5l-1.7-1l0.1-0.5l-0-0.6l-0.1-0.6l-2.1-1l3.3 0.1l0.5-0.5l-3.1-1.2l-4.3-1.5l8.9 1.3l-1-0.8l-1.9-0.9l3.3 0.1l-2.9-1.2l1.1-0.3l1.8-0.2l0.1-0.6l-0.8-0.7l-5.9-1.8l6.3 0.7l0.9-0.4l-2.5-1.1l2.1-0.1l-1-0.8l-1.9-0.9l4.2 0.2l-0.8-0.7l-1.6-0.9l0.3-0.5l0.5-0.5l1.1-0.4l-2.4-1l0.2-0.5l2.1-0.2l-1.9-0.9l1.8-0.3l-2.7-1l1.2-0.4l1.1-0.4l1.2-0.3l-0.3-0.6l0.1-0.6l0.3-0.5l-1.2-0.8l-1-0.7l2.9-0.1l0.7-0.4l-1.6-0.9l-0.5-0.6l2.8-0.1l0.1-0.6l-1.4-0.8l-0.7-0.7l-0.2-0.6l-3.5-1.2l3.9 0.1l1-0.4l1-0.3l-0.1-0.6l0.1-0.6l-1.7-0.9l-1.1-0.7l3.5 0l-0.4-0.6l-0.1-0.6l0.4-0.5l-1.4-0.8l2.6-0.2l-2.2-0.9l1.2-0.4l0.7-0.4l-1.4-0.8l1.2-0.4l-0.9-0.7l1.1-0.4l-2.6-1l-2-0.8l5.8 0.3l-2.2-0.9l-3.3-1.1l4.4 0.1l1.3-0.4l-0.7-0.6l-0.5-0.7l0.3-0.5l0.6-0.5l0.9-0.4l-1.1-0.8l-5.8-1.3l5.8 0.2l-1.4-0.8l0.6-0.4l1.6-0.4l-1-0.7l-3-1l-0.7-0.6l4.3-0l-3.1-1l5 0.1l-6.2-1.4l-4.7-1.2l9.6 0.7l-0.5-0.6l-5.1-1.2l4.3-0l0.3-0.6l1-0.4l-1.5-0.7l-1.2-0.8l0.1-0.5l-2.6-0.9l7.1 0.3l-3.2-0.9l2.2-0.3l-2.2-0.9l2.9-0.2l-2.6-0.9l-3-0.9l1.6-0.4l3.9-0.1l-1.6-0.7l1.9-0.4l-5.8-1.2l5 0l0.1-0.5l1.4-0.5l-0.5-0.6l0.2-0.5l-1.4-0.7l-0.2-0.6l2.8-0.3l-0.7-0.6l-2.3-0.8l2.4-0.4l-0.7-0.6l1.4-0.4l-0.7-0.6l-4-1l2-0.4l2.2-0.3l-0.7-0.7l-3.4-0.8l1.6-0.5l0.8-0.4l-0.9-0.7l3.9-0.2l-3.2-0.9l-0.4-0.5l-1.2-0.7l3.6-0.3l1.4-0.4l-0.1-0.6l-3-0.8l-0.9-0.6l1.2-0.5l3.1-0.3l-3-0.8l2.7-0.4l-3.4-0.8l1.2-0.5l2-0.4l0-0.5l-3.2-0.8l1.2-0.5l-0.9-0.6l1.2-0.5l0.4-0.5l-1.3-0.7l1-0.5l1-0.5l-1.5-0.6l3.5-0.4l-4.1-0.8l0.8-0.5l-2.3-0.7l5.6-0.2l-2.2-0.7l-1.7-0.7l1.7-0.5l-2-0.6l2.9-0.4l0.8-0.5l1-0.5l-1.3-0.7l-0.4-0.6l-1.5-0.6l-1.3-0.7l2.9-0.3l-1.9-0.7l3.3-0.4l-2.4-0.7l-2.3-0.7l4.1-0.3l-3.1-0.7l2.7-0.5l-1.5-0.6l-1.3-0.6l1.6-0.5l2.3-0.5l-0.3-0.5l-2.3-0.7l1.6-0.5l0.9-0.5l-4.5-0.8l-0.8-0.6l5.8-0.3l-1.7-0.6l1.6-0.5l-3.5-0.7l2.4-0.5l1.5-0.5l-2.6-0.7l-2.5-0.6l4.6-0.4l0.2-0.6l0.2-0.5l0.4-0.6l-6.5-0.7l5.2-0.4l-0.3-0.6l-0.8-0.6l-0.9-0.6l1.9-0.5l0.2-0.5l-0.9-0.6l-1.5-0.6l0.4-0.6l-1-0.6l4.1-0.4l-3.5-0.7l2.5-0.5l-1.1-0.6l-3.8-0.6l4.4-0.5l1-0.5l-2.3-0.6l2.3-0.5l-1.6-0.6l-1.3-0.6l1.7-0.5l1.4-0.6l-4.4-0.6l-2.3-0.6l6.1-0.5l0-0.5l-8.2-0.7l8.1-0.5l-3.9-0.5l4.6-0.6l-1.9-0.5l2.5-0.6l-3.2-0.6l-0.8-0.5l-3.6-0.6l2.7-0.6l3.8-0.5L1386.4 714A648.4 626.7 0 1 1 738 87.3Z" fill="#3d8b6f"/>
<path d="M738 88.9A646.7 625.1 0 1 0 1384.7 714L1366 714A628 607 0 1 1 738 107Z" fill="#f1f7f4"/>
<path d="M738 107l0-16.5l-0.6 0.6l-0.5-0.8l-0.6-0.3l-0.5 1.1l-0.6-1.7l-0.6 1.7l-0.5-0l-0.6 0.2l-0.6 0.2l-0.5-0.4l-0.6-1.4l-0.6 0.9l-0.5 0.5l-0.6-2.2l-0.6 1l-0.5 2.1l-0.6-2.9l-0.5 0.8l-0.6-0.4l-0.6 0.9l-0.5 0.1l-0.6 0.5l-0.5 1.5l-0.5 1.1l-0.7-3.6l-0.5 1.1l-0.6 0.1l-0.5 1.3l-0.6-0.9l-0.6-0.1l-0.6-2l-0.4 4.2l-0.7-4.2l-0.6 0.8l-0.5-0.2l-0.6-0.3l-0.5 1.4l-0.6-1.1l-0.6-0.3l-0.5 1.1l-0.6-0.7l-0.6 0.2l-0.5 0.6l-0.6-0.4l-0.6-0.5l-0.6-0.7l-0.5 1.3l-0.5-0.2l-0.6 0.8l-0.6-1.6l-0.5 0.7l-0.5 1.9l-0.6-0.4l-0.7-2.1l-0.5-0.2l-0.5 1.9l-0.5 0.5l-0.6 0.2l-0.6-1.7l-0.6-0.2l-0.4 2.7l-0.7-2.1l-0.6-0.5l-0.5 2l-0.6-1.8l-0.5 1l-0.7-1.1l-0.5 0.9l-0.4 1.7l-0.7-2.5l-0.5 1.8l-0.7-1.5l-0.6-0.6l-0.5 0.4l-0.6-0.3l-0.4 1.7l-0.6-0.5l-0.5 0.9l-0.6-0.1l-0.5 0.6l-0.7-1.1l-0.6-0.7l-0.4 1.9l-0.7-1.3l-0.6-1l-0.5 0.9l-0.5 0.8l-0.7-1.6l-0.4 2l-0.7-1.5l-0.5 1.1l-0.6-1l-0.6-0.4l-0.5 1.3l-0.6-1.2l-0.5 1.5l-0.5 0.1l-0.7-0.9l-0.5 0.4l-0.5 0.6l-0.6 0l-0.6-0.4l-0.5 0.9l-0.6-0.8l-0.4 1.4l-0.8-2.2l-0.5 0.4l-0.6 0.2l-0.6-0.1l-0.6-0.5l-0.5 0.2l-0.5 1l-0.5 1.1l-0.4 1.3l-0.8-2.8l-0.6-0.3l-0.5 0.8l-0.3 2.5l-0.8-1.9l-0.7-1.2l-0.5 0.4l-0.5 0.6l-0.4 1.9l-0.7-1.6l-0.6-0.5l-0.5 1l-0.6-0.3l-0.6-0.5l-0.5 0.6l-0.7-0.8l-0.4 0.8l-0.5 0.9l-0.7-1.4l-0.2 3l-0.9-2.1l-0.4 0.8l-0.7-0.5l-0.6-0.3l-0.5 0.4l-0.6-0.8l-0.4 1.3l-0.8-1.2l-0.5 0.1l-0.5 1l-0.6-0.3l-0.7-0.9l-0.3 1.9l-0.5 0.4l-0.5 0.3l-0.7-1l-0.5 0.6l-0.7-1.2l-0.6-0.3l-0.7-0.3l-0.3 1.7l-0.7-1.2l-0.5 0.7l-0.4 1.5l-0.8-2.1l-0.4 1.1l-0.6-0.1l-0.3 1.7l-0.9-2.2l-0.6 0l-0.5 0.5l-0.6-0.3l-0.5 0.4l-0.5 0.8l-0.5 0.1l-0.4 1.2l-0.8-1.6l-0.7-0.8l-0.4 1.2l-0.6-0.1l-0.6-0.1l-0.6-0.5l-0.4 1l-0.5 0.8l-0.8-1.5l-0.5 0.6l-0.5 0.5l-0.5-0.1l-0.4 1.5l-0.5 0.1l-0.7-0.5l-0.8-1.3l-0.4 1l-0.6-0.3l-0.6-0.3l-0.6-0.1l-0.5 0.3l-0.1 2.6l-1-2.6l-0.3 1.7l-0.7-0.6l-0.5 0.2l-0.6 0.1l-0.6-0l-0.7-0.8l-0.6-0.3l-0.4 0.8l-0.1 2.8l-1-2.2l-0.7-0.8l-0.4 0.8l-0.6-0.3l-0.6-0.1l-0.3 1.4l-0.6-0.1l-0.4 0.8l-1-1.9l-0 2.8l-0.7-0.6l-0.9-1.9l-0.6 0.1l-0.4 1l-0.4 0.7l-0.6-0.1l-0.7-0.6l-0.2 1.7l-1-2l-0.6-0.1l-0.5 0.3l-0.3 1.3l-0.7-0.6l-0.7-0.2l-0.4 0.4l-0.4 0.9l-0.6 0.1l-0.2 1.5l-0.5 0.6l-1.2-3.1l-0.6 0.2l-0.5 0.2l-0.4 0.5l-0.3 1.7l-1-2.2l-0.3 1.4l-0.2 1.5l-1-1.8l-0.1 2.2l-1.1-2.5l-0.4 0.8l-0.7-0.6l-0.3 1.2l-0.8-0.8l-0.3 1.2l-0.5 0.3l-0.6 0.1l-0.5 0.1l-0.6-0.2l-0.8-0.6l-0.3 1.2l-0.6-0.4l-0.7-0.3l-0.6-0.4l-0.5 0.3l-0.7-0.2l-0.3 1l-0.5 0.3l-0.8-1l-0.3 1.2l-0.8-0.7l-0.4 0.6l-0.4 0.7l-0.7-0.3l-0.5 0.2l-0.6 0.1l-0.5 0.1l-0.5 0.3l-0.6-0l0.2 3.3l-0.8-1l-0.8-0.9l-0.8-1.1l-0.5 0.3l-0.5 0.7l-0.6-0.2l-0.7-0.4l-0.6-0.3l-0 2.3l-1-1.5l-0.5 0.3l-0.6-0.2l0 2.4l-0.7-0.7l-0.8-0.7l-0.8-1l-0.5 0.3l-0.3 1.4l-0.4 0.5l-1-1.4l-0.5 0.1l-0.3 1l-0.9-0.9l-0.3 0.8l-0.7-0.3l-0.3 1l-0.6 0.1l-0.4 0.5l-0.2 1.2l-0.7-0.4l-0.9-1.1l-0.8-0.5l-0.5 0.3l-0.2 1.4l-0.8-1.1l-0.6 0.1l-0.5 0.2l-0.3 1.2l-0.7-0.6l-0.6-0l-0.6-0.1l-0.3 1.1l-0.3 0.8l-0.9-1.1l-0.3 1.2l-1-1.4l0.1 2.3l-1-1.3l-0.7-0.4l-0.1 1.4l-0.7-0.4l-0.7-0.2l-0.5 0.2l-0.4 0.7l-0.8-0.7l-0 1.8l-1.1-1.7l0.1 2.2l-0.7-0.2l-0.8-0.7l0.1 2.1l-1-1.1l-0.8-0.7l-0 1.7l-1-1.4l-0.4 0.9l-0.5 0.1l-0.2 1.4l-0.9-1.2l-0.1 1.7l-1.2-2.1l-0.4 0.9l0.1 2l-1.4-2.6l-0.5 0.4l-0.3 0.8l-0.6 0l-0.6-0.2l-0.5 0.4l-0.3 0.8l-0.3 1l-1.3-2l-0.4 0.5l-0.6-0l-0.6-0l-0.2 1l-0.7-0.4l0.4 3.1l-1.3-2.2l-0.8-0.5l0 1.9l-1.1-1.6l-0.6 0l0.3 2.6l-1-1.4l-0.9-0.7l-0.2 1.2l-0.4 0.4l-0.9-0.7l-0.6-0l-0.6-0l-0.4 0.5l-0.2 1l-0.4 0.6l-0.9-0.9l-0.5 0.4l-0.2 1l-0.5 0.2l-1.1-1.4l-0.5 0.4l0 1.7l-0.8-0.7l-0.8-0.5l-0.5 0.2l0.1 1.9l-1.1-1.4l-0.6 0.2l0 1.5l-1.2-1.5l0.1 1.9l-0.7-0.3l-0.2 1l-1.2-1.7l-0.5 0.4l-0.6-0.2l-0.4 0.5l-0.6 0.1l-0.6-0l-0.6 0.2l-0.4 0.5l-0.4 0.5l-0.6 0l-0.6-0.1l-0.6-0l-0.1 1.2l-1-1l-0.5 0.4l0 1.5l-0.5 0.2l-0.9-0.7l-0.7-0.3l0.3 2.3l-1.2-1.5l0.2 2l-1.1-1.2l-0.4 0.6l-0.6-0.2l-0.9-0.6l0.3 2.4l-0.9-1l-0.4 0.5l-1-0.8l-0.2 1.1l-0.7-0.4l-0.6 0.1l-0.6 0l-0.4 0.5l-0.5 0.2l-0.4 0.4l-0.8-0.3l-0.1 1l-0.3 0.9l-1.3-1.6l-0.2 0.8l-0.1 1.3l-0.5 0.3l-0.7-0.3l-0.3 0.9l-1-1l-0.6 0.1l-0.7-0.3l0.1 1.7l-0.1 1.2l-1.1-1.1l-0.5 0.2l-1-1l-0.6 0l0.4 2.4l-1.3-1.6l-0.1 1.2l-0.7-0.3l-0.8-0.4l-0.6 0.2l-0 1.2l-0.4 0.5l-1.3-1.4l-0 1.2l-0.9-0.5l-0.5 0.1l0.6 2.8l-0.1 1.3l-2-3.3l-0.5 0.2l-0.3 0.7l-0.3 0.9l-1.1-1.1l-0.5 0.2l-0.4 0.4l-0.1 1.2l0.1 1.5l-0.9-0.6l-0.7-0.1l-0.6-0.1l-0.3 0.7l-0.8-0.3l-0.7-0.2l-0.3 0.7l-1-1l0.2 1.9l-1-0.8l-0.3 0.6l0.3 2l-1.7-2.2l0.4 2.2l-1.1-1.1l-0.6 0.1l-0.9-0.6l0 1.3l-0.5 0.3l-0.7-0.3l-0.4 0.6l-0.6-0.2l-0.5 0.4l-0.6 0.1l-0.7-0.3l0.4 2.1l-1.3-1.4l-0.5 0.4l-0.1 1l-0.4 0.4l-0.7-0.1l-0 1.2l0.3 1.9l-2.1-3.1l1 3.4l-2-2.7l-0.3 0.5l-0.3 0.8l0.1 1.3l-1.6-1.8l-0.6 0l0.4 2.1l-0.7-0.1l-0.5 0.2l-1.4-1.6l0.4 2.1l-1-0.8l-0.7-0.2l-0.4 0.6l-0.1 1l-0.9-0.6l0.3 1.9l-1.6-2l-0.2 0.9l0.1 1.5l-0.5 0.1l-1.5-1.6l-0.3 0.6l0.5 2.2l-1.6-1.9l-0.2 0.8l-0.8-0.3l-0.4 0.4l-0.4 0.4l0.7 2.7l-1.7-2.2l-0.6 0.1l-0.2 0.9l0.5 2.2l-0.8-0.4l-1.6-1.9l-0.5 0.3l-0.3 0.7l-0.6-0.1l1 3.2l-0.6 0.1l-1.8-2.2l-0.3 0.6l-0.8-0.2l-0.6-0.1l-0.2 0.9l-0.7-0.1l-0.6 0.1l-0.3 0.6l0.1 1.4l-1-0.7l-0.3 0.5l-0.2 0.8l-1.1-0.7l0.3 1.7l-1.5-1.7l0.7 2.5l-0.8-0.4l-1.2-1l-0.3 0.7l-0.8-0.3l-0.4 0.4l0.1 1.3l-1.2-1l0 1.2l-0.5 0.3l-0.3 0.6l-0.8-0.4l0 1.2l-1.4-1.3l0.6 2.2l-1.3-1.2l-0.4 0.4l0.1 1.4l-1.1-0.8l-0.7-0.1l-0.7-0.2l0.8 2.5l-0.8-0.2l-0.8-0.2l-0.7-0.2l-0.9-0.4l-0.6 0.1l-0.4 0.4l-0.2 0.8l-0.8-0.4l0.5 2l-0.8-0.2l-0.2 0.7l-0.9-0.3l-0.8-0.4l0.6 2.2l-0.7-0.1l-1.7-1.7l0.5 1.8l0.2 1.4l-1.7-1.6l-0.3 0.6l-0.2 0.6l-1-0.6l-0 1.1l-1.3-1l-0.4 0.5l-0.6-0.1l-0.3 0.6l0.5 2l-1.5-1.4l0.1 1.2l-0.1 0.9l-1.4-1.3l-0.1 0.9l-0.1 1.1l-1.1-0.8l0.9 2.4l-1.4-1.1l-1.1-0.7l-0.5 0.2l-0.5 0.3l-0.2 0.7l0 1.1l-0.9-0.4l-0.3 0.6l-1-0.6l1.1 2.7l-1-0.5l-1.8-1.7l-0.2 0.6l-0.3 0.6l-0.8-0.2l-0.1 0.9l0.6 2l-1.4-1.2l-0.2 0.7l-0.8-0.2l0.1 1.3l-0.8-0.2l-1.1-0.8l-0.2 0.8l-0.5 0.2l-0.8-0.1l0.8 2.1l-1.9-1.8l0.3 1.5l-1.3-1l0.4 1.6l-0.1 0.9l-1-0.5l0.4 1.5l-0.2 0.8l-2.1-2.2l0.3 1.5l-0.3 0.5l-1.7-1.6l0 1.1l-0.3 0.6l-1-0.6l-0.5 0.3l-0.5 0.3l1.1 2.6l-1.6-1.4l-0.4 0.4l-1-0.4l0.3 1.3l0.1 1.3l-0.8-0.2l0.1 1.1l-1.9-1.9l0.3 1.6l-1.2-0.8l-0.2 0.6l-0.4 0.5l-0.8-0.2l-0.6 0l-0.1 0.9l0.3 1.4l-1.4-1.1l-0.5 0.3l-0.7 0l-0 1l0.5 1.6l-1.2-0.7l-0.7-0l-0.6 0.1l-0.3 0.5l-1-0.4l-0.1 0.9l-0.5 0.1l-0.5 0.3l-0.2 0.8l-0.8-0.3l0.3 1.5l-1.4-1l-0.2 0.6l-0.4 0.5l0.4 1.5l-0 0.9l-1-0.5l0.9 2.3l-2-1.9l-0.8-0.2l-0.5 0.3l-0.1 0.8l-0 0.9l-0.8-0.1l-1.4-0.9l0.5 1.5l-1-0.4l-0.9-0.3l-0.4 0.5l-0 0.9l1.5 3l-3-3.1l0.1 1.1l1.7 3.1l-2.8-2.8l-0.6 0.2l-0.5 0.2l0.2 1.2l-1.4-0.9l0.5 1.5l-1-0.4l-0.4 0.5l0.2 1.2l-1.1-0.6l0.3 1.4l0.8 1.9l-1.9-1.6l-1.1-0.5l0.1 1l-0.8-0.1l-0.9-0.2l-0.3 0.4l-0.6 0.2l0.1 1.1l-0.4 0.3l-0.8-0.1l-0.6 0.2l0.1 1l-0.4 0.4l-0.6 0.1l-0.8-0.1l0 0.9l-0.7-0.1l0.1 1.1l-1.3-0.7l-0.6 0.1l-0.5 0.3l0 0.9l0.6 1.6l-1.6-1.1l-0.8-0.1l-0.4 0.4l-0 0.9l-0.6 0.2l0.2 1l-0.8-0.1l-0.5 0.4l-0.5 0.2l-0.7 0l-0.2 0.6l-0.8-0l0 0.9l-0.5 0.2l-0.8-0.1l0.2 1.2l-1-0.4l-0.1 0.8l-0.5 0.2l-0.2 0.6l1.3 2.4l-2.9-2.6l-0.3 0.5l0.9 2l-1.1-0.5l0.4 1.4l-1.6-1.1l-0.2 0.6l-0.1 0.8l-0.6 0.2l-0.9-0.2l-0.8-0.1l0.4 1.3l-0.7 0.1l-1-0.4l0.1 0.9l-0.6 0.3l-0.8-0.1l-0.3 0.5l0.4 1.3l0.3 1.2l-0.7 0.1l-1.7-1.2l0.4 1.3l-1.3-0.6l-0.3 0.5l0 0.9l-0.8-0.1l-0.4 0.4l-0.2 0.6l-0.4 0.3l-0.2 0.7l-0.9-0.2l-0.4 0.3l-0.2 0.6l0 1l-0.9-0.2l-1-0.4l0.5 1.5l-0.6 0.1l-0.1 0.7l-0.8-0l-0.9-0.2l-0.5 0.2l0.8 1.7l-1-0.2l-0.9-0.1l-0.5 0.2l-0.6 0.2l0.7 1.6l-1.3-0.6l-0.4 0.3l-0.2 0.7l-0.6 0.1l-0.2 0.6l-0.8-0l0.3 1.1l1 1.9l-2.7-2.1l-0.3 0.5l0.2 1l-0.7 0.1l-0.8-0l-0.1 0.6l-0.6 0.3l-0.3 0.5l-1-0.3l0.3 1.1l-0.4 0.4l-0.1 0.6l-1.2-0.4l-0.3 0.5l0.8 1.7l-1.8-1.1l1.3 2.1l-1.6-0.8l0.1 0.9l-0.7 0.1l-0.9-0.2l-0.2 0.6l-0.5 0.3l-0.4 0.4l-0.5 0.2l0.1 0.9l-0.5 0.4l-0.9-0.2l-0.8-0l-0.1 0.6l0.1 0.9l-1.2-0.4l1 1.8l-1.1-0.3l-1-0.2l0.4 1.1l-1-0.1l-0.4 0.3l-0.6 0.2l1.1 1.9l-1.1-0.3l-1.4-0.6l0.8 1.5l0.3 1.2l-1.4-0.7l-0.9-0.1l1 1.8l-2.1-1.3l0.6 1.4l-0.6 0.1l-0.7 0.1l-0.5 0.3l0.6 1.4l-2-1.2l0.6 1.3l0.2 1l-1.6-0.8l-0.8 0l-0.2 0.6l-0.2 0.6l-0.2 0.5l-0.7 0.1l1.6 2.3l-2.3-1.4l-0.4 0.4l-0.8 0l0.4 1.2l-0.6 0.1l-0.8 0l-0.3 0.5l0 0.8l-0.5 0.2l-1.1-0.2l0.1 0.9l-0.5 0.3l1.2 1.9l-1.2-0.4l-1.3-0.5l-0.5 0.3l-0.4 0.3l-0 0.8l1.1 1.8l-0.4 0.4l-0.6 0.2l-1-0.2l-1.3-0.5l-0.3 0.5l-0.4 0.4l0.4 1.2l-0.5 0.2l-0.8 0.1l1.6 2.2l-2-1.1l-0.4 0.4l0.2 0.9l-1.7-0.8l0.2 1l0.3 1l-1.4-0.6l-0.7 0.1l0.2 0.9l-0.7 0.2l0.7 1.4l-1.7-0.9l-0.4 0.4l1.1 1.8l-1.3-0.5l0.4 1.2l-1.2-0.4l-0.9-0.1l0.4 1.2l-1.1-0.2l-0.5 0.2l2.1 2.6l-1.8-0.8l-1.2-0.3l0.3 1l-1.2-0.3l0.5 1.1l-0.8 0l0.2 0.9l-1.8-0.8l-0.4 0.4l-0.1 0.7l-0.2 0.5l-0.8 0l0.6 1.3l-1.2-0.3l0 0.7l-0.1 0.7l-0.8 0l0.3 1l0.4 1l-1.9-0.9l-0.4 0.4l0.6 1.3l-0.7 0.1l0.2 0.9l-0.1 0.7l-1.6-0.7l0.2 0.9l-0.7 0.2l-1.2-0.3l0.8 1.3l-1.5-0.5l0 0.8l-0.6 0.1l0.2 0.9l0 0.8l-0.9-0.1l0.5 1.1l-1.7-0.6l0.1 0.8l0.3 1l-1.5-0.6l0.5 1.2l-0.6 0.1l-1.1-0.1l2.3 2.6l-2.6-1.5l1.2 1.7l-2.2-1.1l-0.1 0.7l-0.2 0.5l-0.8 0.1l1.3 1.8l-1.9-0.9l0.1 0.8l-0.5 0.3l-0.7 0.2l-0.3 0.4l-0.7 0.2l0.7 1.2l-0.3 0.6l0.4 1l-1.1-0.2l0.4 1l-1.4-0.4l-0.9-0l0.3 1l0.1 0.7l-1.5-0.5l-0.5 0.4l0.4 0.9l0.6 1.3l-0.9-0.1l-1.5-0.5l0.8 1.4l-0.8 0.1l-0.3 0.4l-1.3-0.3l0.1 0.8l-0.5 0.3l1.1 1.6l-0.6 0.2l-1.7-0.6l-0.5 0.3l-0 0.6l-0.1 0.7l1.3 1.7l-1.9-0.7l-0.6 0.2l-0.3 0.4l0.2 0.9l-0.9-0l-0.8 0.1l1.5 1.8l-0.7 0.1l-0.5 0.3l-1.4-0.3l0.7 1.2l-0.8 0.1l1.1 1.5l-2-0.7l-0.4 0.3l-0.7 0.2l0.1 0.7l0.4 1l-1.2-0.2l-0.5 0.3l-0.2 0.6l0.4 0.9l-1.4-0.3l-0.3 0.5l2 2.1l-1.7-0.5l-1-0.1l-0.7 0.2l-0.3 0.4L220.1 339.6A646.7 625.1 0 0 0 218.5 341.7l1.9 2.1l-1.2-0.3l-1.6-0.4l0.8 1.2l-1.4-0.3l0.1 0.8l0.4 0.9l-1.1-0.1l-0.2 0.6l-0.3 0.4l-0.5 0.4l0.9 1.3l1 1.3l-3-1.4l-0.3 0.4l0.4 1l-0.8 0.1l-0.3 0.5l-1-0l-0.3 0.4l1.2 1.5l-1.1-0.1l-0.2 0.6l-0.6 0.2l-0.6 0.3l1.9 2l-2.4-1l0.3 0.8l-0.4 0.5l-0.7 0.1l0.7 1.2l-1.2-0.2l0.3 0.8l-1 0.1l1.9 1.9l-3.3-1.5l1.1 1.3l0.4 1l-2.3-0.9l0.3 0.9l-0.9 0l-0.7 0.3l0.6 1l-0.9 0.1l-0.2 0.5l1.3 1.5l-1.6-0.4l-0.3 0.5l1.1 1.3l-2-0.6l-0.7 0.2l0.5 1l0.1 0.7l-1.5-0.3l-0 0.6l-0 0.7l0.6 1l-1.7-0.4l1.1 1.3l-1.4-0.2l0.3 0.8l-0.8 0.2l0.2 0.8l0.9 1.2l-2.6-1l0.9 1.2l-0.6 0.3l-0 0.6l-1 0.1l-0.6 0.2l-0.8 0.2l0.4 0.9l1.4 1.5l-1.7-0.4l-0.8 0.1l-0.2 0.6l0.1 0.6l1.2 1.5l-2.5-0.9l1.9 1.8l-2.6-1l0.6 1l-1.3-0.1l0.2 0.8l-0.3 0.4l2.1 1.9l-3-1.1l-0.5 0.3l0.1 0.7l-0.3 0.4l-0.5 0.4l0.2 0.8l-1.1-0.1l3.2 2.6l-2.9-1.1l-1 0l1.3 1.4l-1.6-0.3l0.8 1.2l0.3 0.8l-2-0.6l1.1 1.3l-1.4-0.1l-0.7 0.1l0.6 1.1l-0.8 0.1l-0.2 0.5l-0.5 0.4l0.4 0.8l-1.1 0l0.6 1.1l-1.4-0.2l1.2 1.3l-1.6-0.3l-0.3 0.5l0.7 1l-0.5 0.4l-0.9 0.1l0.8 1.1l-1.7-0.4l2.1 1.9l-1.2-0.1l-1.3-0.1l0.1 0.7l-1 0.1l-0.1 0.5l0.4 0.9l-1.3-0.1l1.2 1.3l-1.9-0.5l1 1.2l1 1.2l-2.2-0.6l-0.3 0.5l-0.7 0.2l0.7 1l-1.3-0.1l0.4 0.9l1 1.2l-1.9-0.5l-0.6 0.3l0.8 1.1l-1.7-0.3l0.4 0.8l-0.8 0.2l0.1 0.7l0.7 1l-0.6 0.3l0.8 1.1l-1.1 0l-0.7 0.2l-0.1 0.6l-1.1 0l0 0.7l0.7 1l-0.1 0.6l-0.2 0.4l-1.8-0.3l-0.2 0.5l-0.2 0.6l0.3 0.7l0.9 1.1l-2.1-0.5l0.5 0.9l-0.9 0.2l0.7 1l-0.4 0.4l-0.9 0.1l-0.1 0.6l0.2 0.7l-1.4-0.1l0.4 0.8l0 0.7l-0.7 0.2l0.1 0.6l-0.8 0.3l0.1 0.6l-0.6 0.3l0.5 0.9l-1.1 0.1l0.3 0.7l-0.6 0.3l-0.9 0.2l0.4 0.8l0.9 1.1l-0.6 0.3l-1.4-0.1l-0.5 0.4l0.9 1.1l-0.9 0.1l0.4 0.8l0.3 0.8l-1.6-0.2l0.1 0.6l0.7 1l-1.6-0.2l0.1 0.7l0.3 0.7l-1.3 0l-0.3 0.5l0.1 0.7l0.3 0.7l-1.1 0.1l-0.3 0.5l0.1 0.6l-0.2 0.5l0.4 0.8l-1.4-0.1l1.6 1.4l-2.1-0.4l-0.3 0.5l0.6 0.9l-0 0.6l0.9 1l-2.3-0.4l1.8 1.4l-1.9-0.3l0.1 0.6l-1.1 0.1l0.4 0.8l-0.4 0.5l-0.3 0.5l1.5 1.2l-1.8-0.2l-1.1 0.1l3.5 2.2l-1.9-0.3l-1.8-0.2l-0.5 0.4l2.8 1.8l-3.3-0.8l-0.4 0.4l-0.1 0.5l1.1 1.2l0.5 0.7l-2.5-0.4l1.7 1.3l-1 0.2l-0.9 0.2l-0 0.5l-0.1 0.6l1.1 1.1l-1.7-0.2l1.4 1.3l-0.7 0.2l-1.4 0l-0.6 0.4l-0.2 0.5l-0.6 0.3l3.9 2.3l-2.5-0.5l0.1 0.7l-1.6-0.1l0.7 0.8l-1.8-0.1l0.4 0.8l-0.2 0.5l-0.6 0.3l1.5 1.2l-1.7-0.1l-0.8 0.3l0.1 0.6l-0.2 0.5l0.3 0.7l-0 0.6l-0.4 0.4l-0.6 0.4l0.5 0.8l0.4 0.8l-2.1-0.3l1 1l0.3 0.7l-1.6-0.1l-0 0.6l1.6 1.3l-2.6-0.5l-0.2 0.5l0.1 0.6l-0.6 0.4l0.7 0.9l0.1 0.6l-1.2 0.1l0.8 0.9l-1.1 0.2l0.7 0.8l-0.1 0.6l-0.9 0.2l-1.1 0.2l1.4 1.1l-1.4 0l2.2 1.5l-2.7-0.5l1 1l-0.3 0.5l-0.6 0.3l1 1l-2.1-0.2l0.3 0.7l0.8 0.9l-0.7 0.3l-0.9 0.2l-0.4 0.5l0.3 0.7l-0.5 0.3l0.8 1l-1.7-0.1l-0.2 0.5l1.1 1l-0.2 0.5l-1.2 0.1l-0 0.6l1.5 1.2l-1.2 0.1l-0.6 0.4l2.3 1.4l-3.2-0.6l-0.7 0.3l-0.1 0.6l1.9 1.3l0.9 0.8l-1.4 0.1l-1.6 0l0.3 0.7l-0.4 0.5l0.2 0.6l0.8 0.9l0.7 0.8l-3.5-0.7l1.4 1.1l2.4 1.4l-4.4-0.9l-0.2 0.5l0.9 0.9l-0.6 0.3l-0.7 0.4l1.6 1.1l-1.1 0.2l-0.7 0.3l0.5 0.8l-0.3 0.4l2.8 1.6l-4.1-0.8l2.6 1.5l-2.3-0.3l0.7 0.9l-0.9 0.2l-0.5 0.4l-0 0.6l-0.2 0.5l-0.7 0.4l1.7 1.1l-1.2 0.2l-0.9 0.3l0.9 0.8l-1.3 0.2l1.1 0.9l-0.2 0.5l-0.9 0.3l1.1 0.9l-2.3-0.1l2.5 1.3l-2-0l-0.2 0.5l-1 0.2l2.8 1.5l-2.8-0.3l0.3 0.7l2.4 1.3l-3.6-0.6l1.6 1.1l-0.5 0.4l-0.7 0.3l-1.3 0.2l0.9 0.9l0.4 0.7l-1.1 0.2l-0.2 0.5l0.8 0.8l-1.5 0.2l1.5 1l-2-0.1l0.6 0.8l2.3 1.3l-3.4-0.5l-0.2 0.5l0.4 0.7l0.7 0.8l-0.3 0.5l0 0.5l-1.4 0.2l0.4 0.7l0.7 0.7l-0.5 0.5l0.4 0.6l-2 0l-0.2 0.6l0 0.5l0.4 0.7l-0.3 0.5l0 0.6l-0.3 0.4l-0.6 0.4l0.2 0.7l0.6 0.7l0.6 0.7l-1.5 0.2l0.4 0.7l-0.8 0.3l-0.6 0.4l2.6 1.3l-2.2-0l0.1 0.5l0.7 0.8l-0.1 0.5l-0.4 0.5l1.3 0.9l-3.2-0.3l0.4 0.7l0.4 0.6l-0.2 0.6l0.6 0.7l-2.1-0l0.9 0.8l0.6 0.7l-1.1 0.3l0.8 0.8l-0.5 0.4l-1.3 0.2l-0.5 0.5l0.4 0.6l1.5 1l-0.9 0.3l0.8 0.8l-2.5-0.1l0 0.6l-0.5 0.4l2.6 1.2l-1.6 0.2l-0.9 0.3l1.3 0.9l0.3 0.6l-2 0.1l0.2 0.6l0.6 0.7l0.2 0.7l0.1 0.5l-0.1 0.6l-2.2-0l0.6 0.7l-0.1 0.5l-0.2 0.6l0.1 0.5l-1.1 0.3l0.4 0.7l0.1 0.6l0.9 0.8l-1.4 0.2l-0.1 0.5l0.2 0.6l0.1 0.6l0.6 0.7l-1.1 0.3l1 0.8l-1.8 0.2l1.7 0.9l-2.5-0l0.8 0.7l-0.7 0.4l0.1 0.6l0.6 0.7l0.2 0.6l-0.1 0.5l0.1 0.6l-1.4 0.3l-0.4 0.5l0.1 0.5l-0.1 0.6l1.7 0.9l-1.8 0.2l0.4 0.6l0.3 0.6l-0.5 0.5l1 0.7l-0.5 0.5l-1.8 0.2l0.8 0.7l-0.3 0.5l-1.2 0.3l0.2 0.6l0.5 0.7l1.5 0.8l-2.5 0.1l1 0.7l-0.5 0.5l0.1 0.6l0.2 0.6l-0.4 0.4l-1.3 0.3l1 0.8l0.6 0.7l-1.7 0.2l2.1 0.9l-2.2 0.2l-0.1 0.5l2.3 1l-2.5 0.1l-0.3 0.5l1 0.7l-1 0.4l-0.3 0.5l1.3 0.8l-0.8 0.4l-0.8 0.4l1 0.7l-1.2 0.4l1.7 0.8l-1 0.4l0.4 0.6l1.7 0.9l-3.2-0l0.3 0.6l0.6 0.6l-0.8 0.5l-0.1 0.5l0.1 0.6l-0.9 0.4l0.7 0.6l0.4 0.7l-1.2 0.3l3.8 1.2l-2.9 0.1l0.7 0.6l-1.4 0.3l1 0.8l-1.4 0.3l0.3 0.6l1 0.7l-0.1 0.5l-2.1 0.2l1.2 0.8l-1.2 0.4l1.3 0.7l-0.4 0.5l-1.2 0.4l1.7 0.8l-1.2 0.4l-1 0.3l0.9 0.7l-1.2 0.4l1.5 0.8l-1.4 0.3l1.1 0.7l-1.2 0.4l0.4 0.6l0.7 0.7l0.5 0.6l-1.6 0.3l-0.1 0.6l-0.3 0.5l0.7 0.6l-0.6 0.5l0.8 0.6l-1.2 0.4l0.7 0.7l0.3 0.6l-1.1 0.4l-0 0.5l-0.7 0.5l-0 0.5l0.4 0.6l0.7 0.7l-0.6 0.4l-1 0.4l0.8 0.7l0.3 0.6l0.1 0.6l-1.4 0.3l-0.2 0.5l-0.1 0.6l0.3 0.6l0.1 0.5l-0.4 0.5l1.4 0.8l-0.7 0.4l-0.2 0.5l0.7 0.7l-0.1 0.5l0.5 0.6l0.8 0.7l-1.5 0.3l-1.2 0.4l1.2 0.7l-0 0.6l-1.4 0.4l0.3 0.6l0.7 0.6l-1.8 0.3l1.1 0.7l0.5 0.6l0.1 0.6l-0.8 0.4l-0.3 0.5l0.9 0.7l-0.8 0.4l0.7 0.7l-1.4 0.4l-0 0.5l1.2 0.7l-1.6 0.4l-0.2 0.5l0.5 0.6l-0.2 0.5l1.9 0.8l-2.2 0.3l2.3 0.8l-2.8 0.2l0.1 0.6l0.1 0.6l1.5 0.6l-1.2 0.5l0.3 0.6l0.3 0.5l-1 0.5l-0.2 0.5l0.7 0.6l0.5 0.6l-1.4 0.4l0.4 0.6l-0.1 0.6l-0.2 0.5l-0.6 0.5l0.7 0.6l0.5 0.6l1.1 0.6l-1.2 0.5l1.2 0.6l-0.9 0.5l0.3 0.5l-1.5 0.5l-0.6 0.5l1.4 0.6l-1.2 0.5l-0.2 0.5l0.7 0.6l3.1 0.8l-2.8 0.3l-0.8 0.5l0.9 0.6l-1 0.5l2.4 0.7l-1.7 0.4l0.9 0.7l-1.2 0.4l1.1 0.6l-2.1 0.4l-0 0.6l0.3 0.6l2.4 0.7l-2.6 0.3l0.1 0.6l1.3 0.6l-1.7 0.5l0.5 0.5l2.2 0.7l-1.3 0.5l-0.3 0.5l-0.9 0.5l0.9 0.6l-1.2 0.5l1.9 0.6l-1.2 0.5l-0.6 0.5l2.2 0.7l-2.2 0.4l-0.4 0.5l1.1 0.6l1.2 0.6l-2.6 0.5l0.5 0.5l0.2 0.6l-0.6 0.5l0.7 0.6l-0.7 0.5l3.7 0.7l-2.8 0.4l0.3 0.6l-0 0.5l-0.4 0.6l2 0.6l-2.8 0.4l-0.2 0.6l0.3 0.5l0.2 0.6l-0.2 0.5l0.7 0.6l-1.1 0.5l0.7 0.5l-0.7 0.6l-0.2 0.5l3.1 0.6l-0.4 0.6l-1.7 0.5l-0.9 0.5l1.1 0.6l-0.9 0.5l1.1 0.6l-1.2 0.5l0 0.5l0 0.6l0.4 0.5l-0 0.6l-0.2 0.5l0.9 0.6l0.9 0.5l-1.5 0.5l0.2 0.6l0.5 0.5l0.2 0.6l-0.4 0.5l2.1 0.6l-3.4 0.5l0.8 0.6l0.5 0.5l-0.7 0.5l-0 0.6l0.2 0.5l-1 0.6l0 0.5l1 0.6l1.4 0.5l0.8 0.6l-2.3 0.5l-0.9 0.6l0.6 0.5l1.1 0.5l-0.6 0.6l1.9 0.5l0.4 0.6l-1.3 0.5l-1.9 0.6l1 0.5l0.9 0.5l-0.4 0.6l-0.1 0.5l2 0.6l-1.5 0.5l-1.1 0.6l2.1 0.5l-1.7 0.6l-0.9 0.5l0.4 0.6l0.5 0.5l-1.1 0.6l0.4 0.5l0.8 0.5l-0.8 0.6l1.2 0.5l-1.5 0.6l-0.2 0.5l0.8 0.6l-0.2 0.5l1.1 0.5l-0.3 0.6l0.7 0.5l-0.5 0.6l0.4 0.5l-1.3 0.6l0.8 0.5l1.5 0.5l-2.8 0.6l1.3 0.5l-0.5 0.6l2.6 0.4l-1.5 0.6l-1.4 0.6l1.1 0.5l-1.3 0.6l1 0.5l2.1 0.5l-1.5 0.6l-1.1 0.6l-0.2 0.6l-0.1 0.5l0.2 0.5l0 0.6l0.2 0.5l-0.3 0.6l-0 0.5l0 0.6l0.4 0.5l1.6 0.5l0.2 0.5l-1.5 0.6l2.7 0.4l-2.8 0.7l-0.4 0.6l0.1 0.5l0.2 0.6l1.1 0.4l-0.1 0.6l0.6 0.5l2.5 0.4l-2.8 0.7l-0.2 0.6l-0.7 0.6l-0.5 0.5l1.7 0.5l-0.9 0.6l2.3 0.4l-2.8 0.7l2.5 0.4l-0.7 0.6l-1.5 0.6l0.8 0.5l-0.3 0.6l0.4 0.5l-0.1 0.6l-0.7 0.6l0.6 0.5l-0.2 0.5l1.6 0.5l-1.5 0.6l1.9 0.4l-2.2 0.7l0.8 0.5l-0.7 0.6l1.4 0.4l1.1 0.5l-1.2 0.6l2.8 0.4l-3.7 0.8l0.7 0.5l-0.6 0.6l-0.1 0.6l1.7 0.4l-0.1 0.5l-0.1 0.6l-0.5 0.6l0.4 0.5l0 0.5l-1 0.7l0.6 0.4l0.4 0.6l-0.1 0.5l0.4 0.5l0.3 0.5l1.5 0.4l-2.5 0.8l1.1 0.5l-0.8 0.6l1.5 0.4l-1.1 0.6l1 0.5l0.3 0.5l0 0.6l0.5 0.5l0.6 0.4l-1.1 0.7l-1.6 0.7l2.1 0.3l-2.1 0.8l4.5 0.1l-3.3 0.9l2.5 0.3l-3.1 0.9l1.7 0.3l-0.3 0.6l-0.5 0.6l1.2 0.4l1 0.4l-1.2 0.7l0.2 0.5l0.7 0.5l-2.2 0.8l3.2 0.2l0.3 0.5l-1.8 0.8l0.3 0.5l-0.1 0.5l-1.1 0.7l0.8 0.5l-0.6 0.6l0.4 0.5l1.4 0.4l-2.4 0.8l0.5 0.5l1.9 0.3l-0.6 0.6l-0.2 0.6l-0.8 0.7l1.4 0.3l-0.9 0.7l0.7 0.5l-0.3 0.6l-0.5 0.6l0.1 0.5l-0.3 0.6l1 0.4l0.8 0.4l2.3 0.3l-2.9 0.9l0.7 0.5l-0.5 0.6l0.7 0.5l-0.2 0.5l0.5 0.5l1.6 0.3l-1.8 0.8l-1.2 0.8l3.6-0l-0.8 0.7l-0.7 0.6l-1 0.7l4.1-0.1l-1.7 0.8l-1.6 0.8l0.7 0.5l-0.3 0.6l-0.1 0.6l-0.8 0.6l1.2 0.4l1.9 0.2l-1.6 0.8l-1.2 0.8l0.1 0.5l1.2 0.4l2.5 0.1l-1.4 0.8l-2.1 0.9l0.3 0.5l-0.3 0.6l1.2 0.4l-1 0.7l1.8 0.2l-1 0.8l3-0l-2.6 1l1.7 0.2l-0.4 0.7l-0.1 0.5l0.8 0.4l-2.1 1l1.1 0.4l-0.1 0.5l1.5 0.3l-1.9 0.9l3.4-0.1l-3.2 1.2l-0 0.5l1.2 0.4l-0.3 0.6l1 0.3l0.1 0.6l-1.3 0.8l1.2 0.3l-1 0.7l1 0.4l-1 0.7l2.2 0.2l1.2 0.3l-0.5 0.6l-1.9 1l0.9 0.4l-0.8 0.7l1.2 0.3l0.8 0.4l-2.2 1l1.7 0.2l2 0.2l-1.5 0.8l0.6 0.4l0.9 0.4l-2.3 1l-0.2 0.7l0.8 0.3l-0.4 0.7l1.6 0.2l-1.2 0.8l-0.6 0.7l1.2 0.3l-0.8 0.7l0.5 0.5l1.8 0.1l1.2 0.3l-1.7 1l0.9 0.3l-1.8 1l-0 0.5l1.6 0.3l0.5 0.4l-1.9 1l0.8 0.3l0.9 0.4l-1.3 0.9l2.3 0l-0.4 0.7l-0.6 0.7l-0.1 0.5l-0.6 0.7l4.7-0.5l-1.9 1l0.2 0.5l-0.1 0.6l-1.7 1l0.9 0.3l0.1 0.5l-0 0.6l2.7-0.1l-3 1.3l3-0.2l-3.3 1.4l0.9 0.3l-0.4 0.7l1.8 0.1l1.4 0.2l-2.3 1.2l-0.5 0.7l0.3 0.4l0.5 0.5l1 0.3l1.4 0.2l-0.9 0.8l1.4 0.2l-1.1 0.8l-0.1 0.6l-1.3 0.9l1.3 0.3l4.1-0.5l-4 1.6l0.1 0.5l1.8 0.1l0.3 0.5l-1.8 1l2.8-0.2l-2.4 1.2l-0.5 0.7l4.1-0.5l-3.1 1.4l-0.4 0.7l3.6-0.4l-2.9 1.3l2.1 0l0.1 0.5l-1.1 0.9l0.2 0.5l-0 0.6l0.8 0.3l-1.3 0.9l2.2 0l-1.3 0.9l0.3 0.5l1.8 0.1l-1.6 1l-0.8 0.8l-0 0.6l0.1 0.5l0.9 0.3l1.1 0.3l1.2 0.2l-1.1 0.9l0.4 0.4l0.5 0.5l-0.9 0.8l0.1 0.5l1.8 0.1l-1.1 0.8l0.9 0.4l-0.4 0.6l-0 0.6l1.4 0.2l-1.6 1l0.9 0.3l0.9 0.3l0.3 0.5l-1.3 0.9l-0.2 0.7l1.8 0l-0.7 0.8l-0.7 0.8l1.7 0l-1.2 1l1 0.2l3.4-0.4l-4.4 1.9l1.6 0.1l2.3-0.2l-1.8 1.2l-1.3 0.9l2-0l-0.7 0.8l-0.9 0.8l1.6 0.1l1.2 0.2l-1.1 0.9l-0.7 0.8l0 0.6l0.2 0.5l2-0.1l-1.6 1.1l0.8 0.3l1.1 0.2l-1.4 1.1l0.7 0.3l-0.2 0.6l4.8-0.9l-1.8 1.1l0.2 0.5l-2.6 1.5l0.7 0.3l-0 0.6l0 0.6l0.9 0.2l1.6 0.1l1.2 0.1l-2.3 1.4l-0.3 0.7l1.6 0l-1 0.9l1 0.3l-1.4 1l1.8-0l0 0.6l0.5 0.3l0.6 0.4l2.6-0.3l-3.6 1.8l2.6-0.3l-1.7 1.2l0.2 0.5l0.3 0.5l-0.8 0.8l1.9-0.1l-1 1l-0.4 0.7l1.8-0.1l0.7 0.3l0.2 0.6l0.2 0.5l-0.8 0.8l-0.9 0.9l3.2-0.5l-3 1.6l2-0.1l-1.6 1.1l0.4 0.5l-0.1 0.6l1.4 0.1l-0.2 0.6l4.6-1.1l-4.9 2.4l0.8 0.3l-0.2 0.7l0 0.5l0.6 0.4l-0.3 0.7l0.2 0.5l5.8-1.6l-2.8 1.7l0 0.5l2.3-0.3l3-0.5l-4.3 2.2l-2 1.4l0.9 0.2l0.7 0.3l2.6-0.4l-2.9 1.7l2.3-0.3l-2 1.4l6.4-2l-3.8 2.1l-0.3 0.7l4-1l-4.3 2.3l-0.1 0.6l-0.1 0.7l1.4-0l-1.3 1.1l0.9 0.2l0.5 0.4l-1.1 1.1l-0.2 0.6l5.4-1.6l-2.7 1.7l2.1-0.3l-3 1.9l-0.5 0.8l0.4 0.4l0.5 0.4l8.5-2.9l-5.8 2.9l-2.2 1.5l2.8-0.5l-0.6 0.8l3.3-0.8l-0.1 0.7l-1.5 1.2l-1 1l2.1-0.3l-3.2 1.9l4.5-1.3l-3.7 2.2l-0.5 0.8l0.3 0.5l2.6-0.5l2.8-0.6l-1.8 1.3l3.1-0.7l-3.7 2.2l0.4 0.4l-0.5 0.8l2.8-0.6l1.8-0.2l-3.9 2.3l-1.1 1.1l0.4 0.4l2.6-0.6l0.9 0.2l3.7-1l-5.8 3.1l4.9-1.5l-2.7 1.8l-0.6 0.9l0 0.5l2-0.2l-0.5 0.8l-1.3 1.1l1 0.2l0.7 0.3l-0.8 0.9l5.4-1.8l-4.6 2.7l-1.2 1.2l2.6-0.6l-0.5 0.8l0.1 0.5l0.1 0.6l0 0.6l1.6-0.2l-1.6 1.4l0.4 0.4l1.6-0.1l-1.4 1.2l2.6-0.6l-2.5 1.8l3-0.8l-2 1.5l2-0.3l3.9-1.2l-2.3 1.7l1.4-0.1l-0.9 1l-3.4 2.3l4.2-1.5l-2.4 1.8l-0.8 1l-0 0.6l2.2-0.4l-1.7 1.4l2.4-0.6l-0.8 1l-0.2 0.7l0.7 0.3l-0.7 1l2.6-0.7l2.1-0.4l-2.9 2l-0.1 0.7l1.4-0.1l-1.4 1.3l5.9-2.3l-4.9 3l0.2 0.5l0.1 0.6l7.8-3.3l-7.4 4.3l8.7-3.7l-6.9 4l0.5 0.4l-1.4 1.4l2.5-0.7l-1.7 1.5l2.9-0.9l-1.2 1.2l2.6-0.7l-1.4 1.4l-1.7 1.4l0.9 0.2l0.9 0.1l0.9 0.2l0.5 0.4l-1.8 1.5l2.8-0.8l-2.9 2.1l4.7-1.9l-1.8 1.6l-1.4 1.4l2.2-0.6l-2.4 1.9l1.3-0.1l0.4 0.4l4.4-1.7l-4.3 2.9l1.2 0l5.2-2.1l-3.6 2.5l-0.8 1l0.2 0.6l1.2-0.1l-0.7 1.1l-0.5 0.9l1.7-0.3l1.4-0.2l4.1-1.5l-5.5 3.5l-0.4 0.8l0.6 0.3l-0.3 0.9l2.7-0.9l1.9-0.4l-2.7 2.1l2.3-0.6l3.7-1.4l-3.8 2.7l-0.9 1.1l0.8 0.2l2.7-0.9l-3.8 2.7l0.3 0.5l1.7-0.3l-1.5 1.4l1.4-0.1l4.4-1.8l-4.1 2.9l1.7-0.4l0.3 0.5l-0.7 1l0.3 0.5l-1 1.2l0.4 0.4l1.1-0l-0.5 0.9l1.6-0.3l-1.2 1.3l2.1-0.5l1.2-0.1l-2.4 2l1.9-0.4l4-1.7l-2 1.8l-1.1 1.3l-1 1.2l0.1 0.6l0.9 0.1l0.6 0.2l2.9-1l0.9 0.1l-4 3l2.2-0.7l-1 1.2l0.6 0.3l2.7-0.9l0.5 0.3l0.6 0.3l-3.5 2.7l8.9-4.6l-4.1 3l0.7 0.3l-3.6 2.7l1.9-0.5l-1.4 1.5l4.4-2l-3.8 3l2.8-1.1l-1 1.2l-1.4 1.5l0.1 0.6l2.9-1.1l1.9-0.5l1.4-0.2l-1.6 1.6l0.3 0.4l-2.7 2.4l0.1 0.5l0.8 0.2l1.9-0.5l-0.3 0.8l2-0.6l-1.9 1.8l5.2-2.6l-4.1 3.2l1.5-0.3l-1.2 1.4l0.4 0.4l1.6-0.3l3.4-1.6l-5 3.9l0.5 0.3l1.4-0.2l-1.6 1.6l0.5 0.4l5.9-3.2l1.7-0.4l-5.6 4.2l3.5-1.5l0.1 0.5l-1.1 1.4l-0.8 1.1l1.3-0.1l-0.5 0.9l-0.7 1.2l5.7-3.1l-3.6 3l1.4-0.3l0.7 0.3l1.1-0.1l-2.7 2.4l-0.1 0.8l-0 0.6l0.6 0.3l0.8 0.1l2.3-0.9l-2.7 2.5l1.7-0.5l3.2-1.5l-3.8 3.3l1.2-0.2l2.6-1.1l-1.6 1.8l2.4-1l-2.6 2.4l1 0l2-0.7l-2.1 2.1l2.3-0.9l-0.3 0.9l-1.2 1.5l4.3-2.3l-2.3 2.2l0.6 0.2l1.1-0l-0.6 1l2.2-0.8l-1.5 1.7l-0.6 1.1l1.4-0.3l0 0.6l-0.6 1.1l0.1 0.7l0.8 0.1l1.8-0.6l-0.3 0.8l-0.5 1.1l-0.3 0.9l0.9-0l6.5-4l-5.5 4.7l0.3 0.4l2.2-0.9l-0.2 0.8l-1 1.4l1.1-0.1l-0.9 1.3l-0.5 1.1l0 0.6l2.1-0.8l-0.7 1.2l0.2 0.5l1.4-0.3l2.6-1.2l0.6 0.2l0.4 0.4l-1.3 1.7l2.8-1.5l-4.5 4.1l2.2-1l1.7-0.6l0.4 0.5l1.3-0.4l-3.6 3.4l0.9 0l1.5-0.4l2-0.8l-0.8 1.3l0 0.7l-1.9 2l3.5-1.9l1.4-0.3l-3.5 3.3l1.6-0.6l4.4-2.5l-3.4 3.2l-0.5 1.1l0.2 0.5l2.1-0.9l0.3 0.4l1.7-0.6l-3.6 3.5l3.9-2.3l-2.9 2.9l3.3-1.8l2.4-1.2l-1.4 1.8l-3 3l4.7-2.9l-3.6 3.5l3.1-1.8l-3 3.1l0.2 0.5l3.3-1.8l-0.4 0.9l-1.2 1.7l5-3.2l-4.2 3.9l0.4 0.5l0.9-0.1l2-0.8l-2.3 2.5l1-0.1l1.5-0.5l-0.7 1.3l5.1-3.4l-5.2 4.9l0.3 0.4l0.5 0.3l1.4-0.4l-0.2 0.9l1.8-0.7l-1.7 2l5.7-3.9l3.2-1.9l-5.5 5.2l-1.2 1.7l1.5-0.5l-0.9 1.5l-0.4 1l1.1-0.2l0.8 0l-0.1 0.8l1-0l0.2 0.5l3.4-2.1l-2.9 3.2l0.7 0l1.4-0.4l-0.9 1.5l3.1-1.9l0.3 0.4l-3 3.3l2.1-1l0 0.6l-1.1 1.8l3.4-2.2l-0.3 1l-2 2.4l2.3-1.3l0.5 0.3l-1.4 2l0.9-0.1l1.1-0.2l-1.2 1.7l0.8 0.1l-0.2 0.9l2.9-1.8l0.4 0.4l-1.5 2l3.2-2l-2.7 3.1l4.7-3.4l-3.5 3.8l2.9-1.8l-2 2.5l0.2 0.5l1.5-0.6l2-1l-2.1 2.6l-0.1 0.9l1.2-0.4l0.3 0.4l-0.3 1.1l1.8-0.9l0.1 0.7l1.6-0.7l-0.4 1.1l-1.8 2.4l2.4-1.5l-0.2 0.9l-0.4 1.2l1.1-0.3l2-1l-0.7 1.4l-0.7 1.3l2-1l0.6 0.1l0.8 0l-2.2 2.8l0 0.7l2.8-1.8l-1.3 2l-0.3 1l0.5 0.3l0.2 0.5l1.2-0.3l1-0.1l-0.3 1l1.1-0.2l1.4-0.7l-1.5 2.2l0.8 0l3.9-2.9l-3.8 4.3l0.4 0.4l0.9-0.1l0.7 0.1l0.1 0.7l0.3 0.5l0.3 0.5l3-2.1l0 0.7l-1.6 2.3l0.3 0.5l0.4 0.4l0.6 0.2l1.2-0.4l2.8-1.9l-2.3 2.9l-0.2 1l-0 0.8l0.9-0.1l-0.5 1.3l1-0.3l0.7 0.1l1.7-0.9l-0.5 1.3l-0.8 1.6l3.3-2.5l-0.5 1.3l-0.8 1.5l0.1 0.7l2.5-1.7l-1.5 2.3l-0.2 0.9l1.1-0.3l-0.1 0.9l-0 0.8l2-1.2l-0.2 0.9l0.8 0l-0.1 0.9l-0.6 1.4l0.5 0.3l4.2-3.4l-2.1 2.8l2-1.1l-1.9 2.7l-0.2 0.9l2-1.2l-0.9 1.7l2.8-2l-0.7 1.4l1-0.1l-0.8 1.5l0.9-0.1l-0.9 1.7l1.4-0.6l0.8-0l0.2 0.5l1.7-1l-1 1.9l0.2 0.6l-0.2 1l2.8-2.1l0.1 0.6l-1.1 2l0.1 0.8l0.9-0.2l0 0.8l0.1 0.7l0.5 0.3l0.8-0.1l0.4 0.4l0.4 0.4l-0.3 1.1l2.8-2.1l-0.6 1.4l-0.7 1.6l1.8-1.1l0.1 0.6l0.6 0.2l0.2 0.7l-0.3 1l0.8-0l-0 0.9l0.6 0.1l0.4 0.3l-0 0.9l1-0.3l-0.4 1.3l1.8-1.1l1-0.3l0.3 0.5l-0.8 1.7l0.4 0.3l-0.2 1.1l1-0.3l1.2-0.5l-0.9 1.9l1.9-1.3l0.4 0.3l-0.8 1.8l1.4-0.8l-0.8 1.8l1-0.4l0.2 0.7l1.1-0.4l1.5-0.9l-1.3 2.3l0.3 0.5l1-0.3l0.5 0.3l-0.2 1.1l0.5 0.2l1.6-0.9l-1.2 2.2l0.7 0l0.8-0l0.2 0.6l1.4-0.8l-0.3 1.2l0.3 0.5l0.5 0.2l-0 0.9l2.1-1.6l0.8-0l-0.1 0.9l1-0.2l-1.3 2.3l-0 0.9l1.5-0.9l-0.5 1.4l1.9-1.5l-0.8 1.9l1-0.3l-0.2 1l1.3-0.6l1-0.4l-0.5 1.5l0.7 0.1l-0.3 1.1l0.3 0.5l1.8-1.2l-0.8 1.8l1.8-1.2l-0.8 1.7l1.3-0.6l-0.5 1.4l1.7-1.2l-0.1 1.1l-0.5 1.4l1.9-1.5l1.2-0.5l-1.3 2.5l0.8-0.1l0.3 0.5l0.3 0.5l-0 0.9l1.4-0.8l-0.4 1.3l0.3 0.5l0.7 0l0.2 0.7l0.9-0.3l-0 0.9l0.6 0.2l0.1 0.8l1.9-1.5l-1.1 2.2l1.5-1l-0.6 1.6l0.5 0.4l0.6 0.1l1.7-1.2l0.2 0.6l0.3 0.5l0.1 0.7l0.9-0.2l0.6 0.2l-0.7 1.8l0.7-0l1-0.4l-0.5 1.5l0.6 0.2l1.6-1.1l-0.6 1.6l0.5 0.3l0.2 0.6l0.8-0.1l0.1 0.8l0.4 0.3l0.8-0.1l0.3 0.6l0.8-0.1l-0 0.9l0.9-0.3l1.5-1.1l0.1 0.8l-0.6 1.7l0.6 0.2l2-1.7l-0 0.9l-0.8 1.9l0.7 0.1l2.2-2.1l-1.2 2.6l1.3-0.9l0.2 0.8l-0.3 1.3l0.3 0.5l1.3-0.9l1.4-0.9l-0.2 1.2l-0.5 1.7l2.3-2.2l-1.4 2.8l0.4 0.3l1.5-1l-0.4 1.5l0.6 0l0.1 0.9l0.4 0.4l1.6-1.2l0 0.9l1.3-0.9l-0.4 1.5l0.3 0.6l0.5 0.2l0.7-0l-0.4 1.5l0.8-0.1l0.6 0.1l0.1 0.8l0.7-0l0.3 0.6l0.7-0.1l0.1 0.9l1.2-0.8l-0.3 1.4l1.4-1.1l0.2 0.8l0.1 0.7l0.4 0.5l0.6 0.1l1.6-1.3l-0.3 1.4l0.6 0.1l-0.2 1.2l0.6 0.2l0.3 0.6l0.6 0.1l0.6 0l1-0.4l0.7-0l-0.6 1.8l0.8-0.2l0.3 0.6l0.4 0.3l0.9-0.3l0.2 0.8l2-2l-1.1 2.6l0.3 0.6l1.5-1.3l-0.6 2l0.7-0.2l2-1.9l-1.1 2.7l0.6 0.1l0.6 0l0.4 0.5l0.4 0.4l0.8-0.1l0.1 0.7l0.5 0.3l1.2-0.8l0.1 0.9l0.8-0.3l0.4 0.4l-0.3 1.6l0.7-0.1l0.8-0.3l0.9-0.3l0.4 0.4l-0 1.1l0.3 0.6l1.3-1.1l1.5-1.3l-0.9 2.5l1-0.5l0.1 0.7l0.2 0.8l0.5 0.3l0 1l0.8-0.2l0.1 0.9l0.9-0.4l0.6 0.1l1.2-0.8l-0.2 1.3l-0.1 1.3l0.9-0.4l0.2 0.6l1.3-0.9l0.1 0.9l0.3 0.5l0.6 0.2l0.3 0.6l0.8-0.4l0.4 0.4l0.1 0.9l0.5 0.3l0.7-0l0.1 0.9l1.3-1.1l0.4 0.4l0.5 0.3l1.1-0.9l-0.5 2l0.1 0.9l0.9-0.3l0.5 0.3l0.2 0.7l0.6-0l1.7-1.8l0.3 0.6l-0.7 2.3l0.6 0.1l0.8-0.2l2.1-2.6l-1.4 3.6l1.4-1.3l-0.5 2l0.3 0.6l0.8-0.4l0.8-0.2l-0.2 1.4l1.5-1.3l-0.2 1.4l0.4 0.4l1.7-1.8l1.2-1l-1.4 3.6l1.3-1.2l-0.1 1.2l0.5 0.3l0.7-0.1l0.5 0.3l1.1-0.9l0.7-0l-0.9 2.6l1.6-1.6l0.7-0.1l-0.4 1.9l1.2-1l0 1l1.5-1.5l-0.9 2.8l1-0.7l-0 1.2l0.6 0.1l0.9-0.5l-0.3 1.7l1.3-1.2l-0.2 1.5l1.1-0.8l0.3 0.7l0 1.1l0.8-0.3l0.5 0.3l1-0.7l-0.2 1.5l0.8-0.2l1.1-0.9l0.4 0.4l-0.2 1.6l0.4 0.4l1.5-1.7l-0.3 1.9l0.9-0.6l0.9-0.4l-0.3 1.7l0.7-0.1l0.5 0.1l2.2-3l-1.1 3.3l0.5 0.4l0.3 0.6l0.7-0.1l0.6-0l-0.1 1.3l0.9-0.4l0.2 0.8l0.8-0.3l0.3 0.6l0.9-0.4l0.1 0.9l1-0.8l0.2 0.9l0.2 0.9L453.5 1275.4A646.7 625.1 0 0 0 464.2 1280.3l0.8-0.4l0.5 0.2l1.7-2.1l-0.8 2.9l1.4-1.6l-0.5 2.4l0.7-0.3l0.4 0.6l1-0.8l0.5 0.2l0 1.2l1.1-0.9l1.2-1.2l-0.4 2l0.7-0.1l0.3 0.7l0.3 0.7l0.9-0.7l0.6 0.2l0.1 1L475 1285.1A646.7 625.1 0 0 0 479.6 1287l0.7-0.3l0.6 0.1l0.6 0l0.5 0.2l0.3 0.9l0.4 0.4l1-0.9l1.1-1l-0.4 2.2l0.5 0.4L485.3 1289.4A646.7 625.1 0 0 0 490 1291.3l0.7-0.3l1.3-1.6l-0.4 2.5l1.9-3.1l-0.8 3.4l0.4 0.3l0.6 0.1l1.5-2l0.3 0.6l0.4 0.5l0.1 1.4l1-1.2L496.8 1294A646.7 625.1 0 0 0 505.7 1297.4l0.7-0.3l0.7-0.2l0.4 0.4l0.6 0l0.6 0.2l1.3-1.8l-0.2 2l1-1.1l-0.2 2.2l0.8-0.5l0.2 1.1l0.7-0.4l0.5 0.2l0.9-0.6L513.6 1300.3A646.7 625.1 0 0 0 525.8 1304.5l0.6 0l1.1-1.4l1.1-1.3l-0.5 3.1l0.4 0.5l0.9-1l0.7-0.2l0.3 0.7l0.3 1l0.9-0.8L531.7 1306.5A646.7 625.1 0 0 0 545.1 1310.7l0.6-0l0.9-1.1l0.5 0.4l0.3 1l0.6-0l1-1.6l0.3 1.2l0.9-1L550 1312.1A646.7 625.1 0 0 0 567.9 1317.1l0.7-0.4l0.5 0.3l0.5 0.4l0.6-0.1l0.6-0l0.9-1.1l0.4 0.3l0.4 1L572.8 1318.4A646.7 625.1 0 0 0 593.1 1323.2l0.8-0.8l0.6-0.2l0.3 1.2l0.7-0.6l0.4 1l0.7-0.8L596.9 1324A646.7 625.1 0 0 0 619.6 1328.5l0.7-0.6l0.4 0.6l0.8-0.8l0.4 1l0.7-1.1l0.5 0.6L623.5 1329.2A646.7 625.1 0 0 0 651.9 1333.5l0.7-1.2l0.5 0.8l0.7-0.8l0.4 0.8L654.7 1333.9A646.7 625.1 0 0 0 669.3 1335.6l1.3-6.6L670.4 1335.7A646.7 625.1 0 0 0 687.8 1337.2l0.6-0.3l0.8-3.2L689.5 1337.3A646.7 625.1 0 0 0 718.2 1338.8l0.6-1.1l0.6-0.5l0.6-1.1l0.5 0.8l0.5 1.4l0.6-0.5l0.6 0.4l0.6-2l0.5 2l0.6 0.2l0.5 0.2l0.6-0.9l0.5 0.6l0.6-0.9L726.7 1339A646.7 625.1 0 0 0 801.7 1336.1l0.4-2l0.5-0.6l0.7 1.2l0.6 0.3l0.5-0.3l0.6 0.7l0.5-1.3l0.7 1.2L806.7 1335.6A646.7 625.1 0 0 0 845.3 1330.4l0.2-2.1l0.8 1.4l0-3.1l1.1 2.7l0.3-1.7l0.8 1.5l0.7 0.5l0.4-1L850.3 1329.6A646.7 625.1 0 0 0 902.7 1318.5l0.5-0.5l0.1-1.5l0.9 1.1l0.1-1.9l1 1.8l0.4-0.9l0.8 0.9l0-2L907.6 1317.2A646.7 625.1 0 0 0 927.6 1311.6l-1.6-6.9L928.7 1311.3A646.7 625.1 0 0 0 961.8 1300.5l0-1.5l0.3-0.9l1.2 1.5l0-1.4l0-1.5l1.5 2.3l0.6-0l0.4-0.7l0.1-1.2l1 1l0.6 0.1l0.5-0.3l0.3-0.7l0.8 0.4L969.8 1297.6A646.7 625.1 0 0 0 990.7 1289.4l-2.4-6.9L991.7 1289A646.7 625.1 0 0 0 1024 1274.6l0.3-0.6l-1.1-3.5l1.6 1.9l0.6 0.1l0.4-0.6l0.9 0.6l-0.3-1.7l0.6-0.2l0.7 0.2l1 0.7L1029.6 1272A646.7 625.1 0 0 0 1077.4 1246.1l0.2-0.7l0.7-0l-0.2-1.2l0.4-0.5l0.1-0.9l1.1 0.7l0.9 0.3l-0.2-1.2l0.3-0.6l0.9 0.3l1 0.5l-0.7-2l1.5 1.2l0.1-0.9L1084.5 1241.8A646.7 625.1 0 0 0 1144.6 1200.1l-0.3-1.2l0.2-0.6l0.6-0.2l0.2-0.6l0.1-0.8l1.5 0.9l0.2-0.6l0.1-0.8l1.3 0.8l-0.5-1.5l1.2 0.5l0-0.7l-0.1-1.1l0.4-0.3l1.5 0.9l-1-2l1.3 0.6l-0.6-1.6l2.1 1.6l-0.1-0.9l0.9 0.2l0.3-0.5L1154.6 1192.2A646.7 625.1 0 0 0 1190.5 1160.6l-2.9-3.6L1191.3 1159.9A646.7 625.1 0 0 0 1214.4 1136.7l-3.9-4.2L1215.2 1135.9A646.7 625.1 0 0 0 1225.7 1124.5l-0.9-1.5l1.5 0.6l-1.2-1.8l-0.3-1l2.5 1.4l-0.1-0.8l-1.8-2.1l2.4 1.2l-0.5-1.1l0.5-0.3l1.5 0.5l-1-1.6l1.3 0.4l1 0.1l0.2-0.6l-0.5-1.1l-0.4-1l0.6-0.3l1.6 0.7l0.8-0.1l0.2-0.5l-0.8-1.4l0.1-0.6l0.9 0l1.5 0.5l-0-0.7l-0.1-0.8l-0.1-0.8l0.7-0.2l1.2 0.3l-1.2-1.7l0.6-0.2l0.2-0.5l1 0l-0.3-0.8l1.6 0.4l0.2-0.5l0.8-0.1l0.3-0.4l-2.8-2.9l3.2 1.8l-0.6-1.2l0.5-0.3l1.2 0.3l-1.1-1.6l1.8 0.7l0.1-0.6l-0.3-0.9l-0-0.8l0.2-0.5l1.5 0.5l0.8-0.1l0.6-0.2l-0.5-1.1l0.3-0.5l-0.1-0.7l-0.9-1.5l2.7 1.4l-1.2-1.5l1.4 0.3l-0.1-0.8l0.5-0.3l-1.4-1.7l3 1.5l0.3-0.4l-0.8-1.3l1.5 0.4l-0.8-1.3l1.1 0.1l0-0.6l0.5-0.3l0.5-0.4l0.9 0.1l0.4-0.5l-0.4-1l0-0.6l1.1 0.1l-0.1-0.8l0.4-0.4l0.4-0.3l0.2-0.6l0.1-0.6l0.6-0.2l0.6-0.3l0.7-0.2l0.5-0.3l-2.1-2.2l2.3 1l0.5-0.3l0-0.7l0.1-0.6l-0.3-0.9l1.1 0.1l-0.6-1.1l0-0.6l1.9 0.6l0.3-0.4l-0.7-1.2l1.7 0.5l-0.8-1.2l1.1 0.1l0.2-0.6l0.5-0.3l0.2-0.5l0.5-0.4l0.6-0.2l-2-2l2 0.7l-0.2-0.9l1.5 0.4l0.2-0.5l0.3-0.5l-1.2-1.5l1.3 0.2l-0.3-0.8l1.1 0l-0.5-0.9l1.6 0.4l0.1-0.6l-0.7-1.2l0.3-0.4l0.9-0l-0.5-1.1l2.1 0.8l0.3-0.5l-0.3-0.8l-0.7-1.2l1.5 0.4l-1.2-1.5l1.6 0.4l0.6-0.3l-0.6-1l1.5 0.3l0.4-0.4l-0.2-0.8l0.5-0.3l0.3-0.5l-2.6-2.3l3.7 1.7l-0.8-1.1l0.4-0.5l0.6-0.2l0.1-0.6l0.8-0.1l0.3-0.5l-0.7-1.1l1.5 0.3l-1.4-1.5l1.6 0.3l0.9-0l0.5-0.4l0.3-0.5l-3.1-2.6l3.6 1.6l-0.8-1.1l1.1 0l-0.2-0.7l0.6-0.3l-0.5-0.9l0-0.7l1.1 0l0.5-0.3l1.1 0l-0.3-0.8l-1.3-1.5l2.3 0.9l0-0.7l0.7-0.3l-0.7-1l0.6-0.3l0.2-0.5l0.6-0.3l-0-0.7l1.1 0.1l0.3-0.5l0.3-0.4l-0.8-1.2l-0.7-1l1.4 0.2l0.6-0.3l1-0.1l-1.2-1.3l1.3 0.1l-1.1-1.3l2 0.6l-0.8-1.1l0.9-0.1l0-0.7l0.6-0.2l0.5-0.4l-0.4-0.9l1.1 0.1l-0.5-1l0.6-0.3l0.5-0.3l0.8-0.2l0.2-0.5l-2.2-1.9l2.7 0.9l0.3-0.5l0.6-0.3l-0.1-0.6l0.7-0.3l-0.4-0.8l0.4-0.4l-0.3-0.8l0.6-0.3l-0.4-0.9l0.8-0.2l1.4 0.2l0.2-0.5l-3-2.3l3.5 1.3l-1.8-1.6l1.6 0.2l0.4-0.4l0.2-0.5l0.7-0.2l-1-1.2l0.8-0.2l0.9-0.1l-0.2-0.8l0.6-0.3l-1.5-1.4l2.1 0.5l-0.4-0.8l0.1-0.6l-0-0.7l1.6 0.3l0.7-0.2l-1.7-1.6l1.3 0.1l0.8-0.2l0.2-0.5l-0-0.6l0.8-0.2l-0.7-1l1-0.1l0.6-0.3l0.3-0.5l0.6-0.3l-0.2-0.7l-1.2-1.3l2.1 0.5l-1.2-1.2l1.7 0.3l-0-0.7l0.2-0.5l-3-2.2l3.7 1.4l0.5-0.4l0.1-0.6l-1.1-1.2l1.1-0l0.6-0.3l-0-0.7l0.5-0.3l-1-1.1l0.3-0.5l1.4 0.1l-0.9-1.1l2.1 0.5l-2.1-1.7l2.3 0.5l-0.4-0.8l0.1-0.5l0.7-0.3l-2-1.6l2.5 0.7l0.5-0.4l-0.9-1.1l0.9-0.2l1.1-0l-0.4-0.8l1.1-0.1l-3.8-2.5l3.5 1.1l0.4-0.4l0.6-0.3l0.2-0.5l-0.6-0.9l1.1-0.1l-2-1.6l0.4-0.4l0.9-0.2l0.1-0.5l1.6 0.1l-2.1-1.6l2.4 0.6l-1.2-1.2l1.7 0.2l0.4-0.4l0.8-0.3l-0.1-0.6l-0.9-1.1l1.7 0.3l0.1-0.6l-0.2-0.7l0.6-0.3l-1.5-1.3l1.3-0l0.7-0.3l0.3-0.5l-1-1l1.6 0.1l0.6-0.3l0.1-0.6l0.1-0.6l0-0.5l-0.4-0.8l-0.9-1.1l2.2 0.5l0.1-0.6l0.6-0.3l-3.8-2.4l3.4 1l1.1-0.1l0.1-0.6l-0.1-0.6l0.6-0.4l-2.3-1.6l1.9 0.3l0.4-0.5l0.9-0.1l0.8-0.3l0.2-0.5l-0.6-0.9l0.1-0.6l-1.9-1.4l3.2 0.8l-2-1.4l0.9-0.2l1.6 0.1l0.2-0.5l-0.9-1l1.2-0.1l-2.6-1.8l2.1 0.4l0.7-0.3l1.1-0.1l-0.1-0.7l-1.3-1.1l0.7-0.3l1.3-0.1l0.7-0.3l0.1-0.5l-1-1l0.2-0.5l0.2-0.5l1.5-0l-0.7-0.9l-0.8-0.9l2 0.2l-0.7-0.9l0.4-0.4l1.1-0.1l-0.1-0.7l-2-1.4l2.8 0.6l-0.3-0.7l0.9-0.3l-1.3-1.1l1.2-0.1l0.8-0.3l-0.3-0.7l-1.2-1.1l1.4 0l-2-1.4l3.1 0.7l-0.8-0.9l1.3-0.1l-1-1l0-0.6l1.5 0l-0.2-0.6l0.1-0.6l0.3-0.4l-0.1-0.7l-0.5-0.7l0.9-0.3l0.9-0.2l-0.6-0.9l0.9-0.2l-2.6-1.6l2.5 0.4l0.2-0.5l0.2-0.5l-0.1-0.7l1-0.1l-1.3-1.1l1.1-0.2l1-0.2l0.1-0.6l-0.2-0.6l-1.3-1.1l-0.2-0.6l1.6-0l-1.7-1.2l2.5 0.3l0.3-0.4l-0.6-0.9l-0.2-0.6l0.8-0.3l0.2-0.5l1.6-0l-1.4-1.1l1.6-0l-0.7-0.9l1.1-0.1l-0.5-0.8l0.9-0.3l0.2-0.5l-1.4-1.1l0.7-0.3l0.6-0.4l-0.2-0.6l-0.3-0.7l1.4-0.1l-0.7-0.8l0-0.6l1.3-0.1l-1.6-1.1l0.7-0.4l1.1-0.2l-2.5-1.4l1.8 0l0.7-0.3l1.6-0l0.1-0.6l-0.9-0.9l-0.2-0.6l1.4-0.1l-1.7-1.2l1.1-0.2l-0.4-0.7l1.4-0.1l0.2-0.5l0.7-0.3l0-0.6l-2.8-1.5l2.7 0.3l-0-0.6l0.5-0.4l0.2-0.5l-1.4-1l2.5 0.2l-0.5-0.7l0.5-0.4l0.2-0.5l-0.4-0.7l-0.9-0.9l2 0.1l-1.6-1.1l-0.5-0.8l1.2-0.1l0.9-0.3l0.7-0.4l0.4-0.4l-1.5-1.1l-0.2-0.6l1.6-0.1l0-0.5l0.6-0.5l-0.4-0.6l-0.5-0.8l1.6-0.1l-0.9-0.8l1.2-0.2l0.5-0.4l-0.3-0.7l0.7-0.3l-0.4-0.7l-1.1-0.9l1.3-0.2l-0.8-0.8l1.5-0.2l-0.8-0.7l-0.5-0.8l1.8-0l-2.6-1.3l3.1 0.3l-1.3-0.9l1.1-0.3l-2.6-1.3l1.1-0.3l1.8-0l1-0.3l-1.8-1.1l-0.7-0.8l1.6-0.1l0.9-0.3l-0.1-0.6l-1.6-1l-2.5-1.3l3.9 0.6l0.5-0.4l0.9-0.4l-0-0.5l-0.8-0.8l1.6-0.1l-1.6-1.1l-0.1-0.5l-1.6-1.1l3.2 0.4l0.7-0.4l0.2-0.5l0.3-0.5l-0.4-0.7l-1.6-1l2.3 0.1l-1.5-1l0.5-0.4l0.3-0.5l0.6-0.4l0.1-0.6l0.5-0.4l0.5-0.4l-0.2-0.6l-0.6-0.7l0.4-0.5l0.8-0.4l-3.1-1.3l3.4 0.3l-0.2-0.6l0.1-0.6l0.6-0.4l-1.4-0.9l-0.2-0.6l-1.1-0.9l3.8 0.4l-0.4-0.6l-1.3-0.9l0.6-0.4l0.5-0.5l-2.4-1.1l3.1 0.2l-2.2-1.1l1.7-0.2l0.4-0.4l-2.5-1.2l2.5 0.1l1.5-0.3l-1.5-0.9l-0.6-0.7l1.7-0.1l-0.2-0.6l-0.4-0.7l0.8-0.4l-0.7-0.7l0.8-0.4l1.3-0.2l-1.7-1l0.8-0.3l0.3-0.5l-1.5-0.9l1.8-0.2l-0.4-0.6l-1.2-0.9l2.9 0.1l-2.4-1.1l-0.1-0.5l-0.8-0.8l0.9-0.3l3 0.1l-0.2-0.6l-2.1-1.1l2.2-0l-0.8-0.8l-0.6-0.7l2.1-0.1l-1.7-0.9l1.4-0.2l-0.6-0.7l0.6-0.4l-0-0.6l0.5-0.5l-3-1.2l3.4 0.2l-1.4-0.8l1.8-0.2l0.5-0.5l-0.1-0.6l-0.2-0.6l0.3-0.5l-0.1-0.5l-2.3-1l-1.7-0.9l1.8-0.2l2.8-0l-0.6-0.7l-3.9-1.3l2.1-0.2l-0.8-0.7l4 0.2l0.1-0.5l-2.1-1l2.3-0.1l-0.1-0.5l0.5-0.5l-1.2-0.8l0.3-0.5l-0-0.5l-0.1-0.6l-0.1-0.6l1.4-0.3l-1.6-0.8l0.3-0.5l1.2-0.4l-0.4-0.6l0.1-0.5l-0.8-0.7l1.4-0.3l0.1-0.6l-0.5-0.6l-0.1-0.6l0.9-0.4l-3.2-1.1l3.6 0.1l0.4-0.5l-0.8-0.7l0.3-0.5l-0.1-0.6l-0.3-0.6l2-0.2l-2.5-0.9l1.7-0.3l-1.7-0.8l2.1-0.3l-0.1-0.5l0.5-0.5l-2.5-1l3.2 0l-0.1-0.5l-1-0.8l-0.3-0.6l0.9-0.4l0.2-0.5l-0.6-0.6l0.5-0.5l0.4-0.5l-4.7-1.3l2.9-0.1l-0.5-0.6l2.9-0.1l-0.9-0.7l0.3-0.5l-2.9-1l3.4-0l-1.2-0.8l0.7-0.4l-0.1-0.6l0-0.5l1.8-0.3l-3.5-1.1l3.6-0l-2.5-0.9l0.3-0.5l0.1-0.6l1.7-0.3l0.5-0.5l-2.2-0.8l1.6-0.3l-1.8-0.8l-1-0.7l2.5-0.2l0.2-0.5l-1.2-0.7l0.5-0.5l2.1-0.3l-0.3-0.6l0.6-0.5l-1-0.7l-0.7-0.6l1.9-0.3l0.3-0.5l-4-1.1l2.8-0.1l-1.2-0.7l1.5-0.4l-2.7-0.9l3.4-0.1l0.5-0.5l-4-1l2.4-0.3l0.1-0.5l0.6-0.5l-0.1-0.6l-1.4-0.7l-0.5-0.6l2.7-0.2l0-0.6l0.8-0.4l-1.4-0.7l0.8-0.5l1-0.4l-5.1-1.1l2.3-0.3l1.9-0.4l-1.3-0.7l0.5-0.5l-0.2-0.5l-1.8-0.7l4-0.2l-4.2-1l1.2-0.4l3.4-0.2l-1.8-0.7l-1.3-0.7l2.9-0.3l-0.4-0.5l-0.5-0.6l-0.8-0.7l-0.5-0.6l2.4-0.3l-0.5-0.6l-2.5-0.7l1.5-0.5l1.9-0.3l-0.5-0.6l0.4-0.5l0.6-0.5l-4-0.9l0.8-0.5l3.4-0.3l-0.3-0.5l-1.5-0.7l0.4-0.5l1.6-0.4l-1.8-0.7l0.2-0.6l1.3-0.4l-0.1-0.6l-1.1-0.6l0.8-0.5l0.1-0.5l-0.4-0.6l0.6-0.5l-0.1-0.5l-3.5-0.8l3.4-0.3l0.9-0.5l-2.9-0.8l2.8-0.3l0.1-0.6l-1.1-0.6l-1.5-0.6l0.4-0.5l1.9-0.5l-1.6-0.6l0.4-0.5l1.9-0.5l-0.5-0.5l0.2-0.6l0.4-0.5l-0.9-0.6l-0.7-0.6l-1.1-0.6l0.2-0.5l2.3-0.4l-1.7-0.7l1.8-0.4l-2.1-0.7l1.6-0.4l-0.6-0.6l-0.5-0.6l1.3-0.5l-0.1-0.5l0.7-0.5l-1.2-0.6l-1.5-0.6l0.9-0.5l1.2-0.5l0.8-0.6l-0.4-0.5l-0.5-0.6l1.3-0.5l-1.5-0.6l-1.6-0.6l1.5-0.5l-1.1-0.6l2.3-0.4l-7.9-0.8l8.3-0.3l-3-0.6l2.1-0.5l-4.9-0.7l4.7-0.4l1-0.5l-0.6-0.6l0.2-0.5l-0.2-0.6l-3.3-0.6l-2.6-0.6l5.8-0.4l0.6-0.5l-2.8-0.6l3-0.5l-1.3-0.6l1.3-0.5l-3.2-0.6l1.5-0.5l-2.8-0.6l3.6-0.5l0.2-0.6l-1.1-0.5l-0.7-0.6l2.4-0.5l-4.5-0.6l4.5-0.5l-0.4-0.5l-0.9-0.6l0.8-0.5l-0.2-0.6l-0-0.5l-0.6-0.6l-2.2-0.5l-0.2-0.5l3-0.6l-0.6-0.5l1.5-0.6l-1.7-0.5L1366 714A628 607 0 1 1 738 107Z" fill="#3d9c73"/>
<path d="M738 108.9A626 605.1 0 1 0 1364 714L1345.5 714A607.5 587.2 0 1 1 738 126.8Z" fill="#eff4f2"/>
<path d="M738 126.8l0-15.4l-0.5-2.1l-0.6-0.2l-0.5 0.7l-0.6 2.7l-0.5-0.4l-0.6-1.8l-0.5 1.3l-0.6-1.8l-0.5-0.2l-0.5 2.4l-0.6-1.1l-0.5-1.3l-0.6 2.2l-0.5-0.9l-0.6 0.2l-0.5-0.4l-0.6-1.4l-0.5 4.5l-0.6-4.5l-0.5 0.2l-0.5 1.3l-0.6-0.2l-0.5-0.7l-0.5 2.5l-0.6-1l-0.4 5.2l-0.7-6.8l-0.6-0.2l-0.4 3.1l-0.6-1.8l-0.6-0.5l-0.6-1.3l-0.4 4.2l-0.6-2.2l-0.6 0.1l-0.6-1.6l-0.4 1.8l-0.6-0.2l-0.5-0.2l-0.6-0.8l-0.5 0.9l-0.4 4.5l-0.7-4.8l-0.6-0.6l-0.4 4.4l-0.6-1.5l-0.5 0.2l-0.6-1l-0.5 0l-0.7-1.9l-0.5-0l-0.5 0.4l-0.6 0.2l-0.6-0.7l-0.5 0.9l-0.5 0l-0.6-0.5l-0.4 1.5l-0.6 0.5l-0.4 1.5l-0.6-0.3l-0.6-2.1l-0.7-1.8l-0.4 1.8l-0.2 6.7l-1-8.1l-0.1 6.7l-0.8-2.7l-0.7-3.5l-0.6-0.3l-0.5 1.1l-0.6-1.1l-0.3 3.6l-0.7-2.6l-0.6-1.2l-0.3 3.4l-0.8-3.2l-0.5 1.1l-0.5-0.1l-0.6-0.2l-0.2 4.2l-0.5 0.4l-1-5l-0.3 2.6l-0.7-2.1l-0.6 0.2l-0.5 0l-0.6-0.1l-0.4 1.4l-0.6-0.5l-0.6-1l-0.5 1.1l-0.6-0.8l-0.5 0.4l-0.3 2.5l-0.6-0.8l-0.8-2.5l-0.5 0.6l-0.6-0.7l-0.4 2l-0.7-1.7l-0.4 1.8l-0.6-1.5l-0.6-0.5l-0.5 0.8l-0.4 1.4l-0.7-1.7l-0.6-0.1l-0.5 0l-0.6 0.2l-0.3 2.6l-0.8-2.5l-0.4 1l-0.6-0.9l-0.5 0.8l-0.4 1.5l-0.6-0.8l-0.7-1.4l-0.5 1.1l-0.4 1.3l-0.7-1.5l-0.5 0l-0.6-0.1l-0.4 0.9l-0.6 0.3l-0.5 0.2l-0.7-1.2l-0.4 1l-0.7-1.4l-0.6-0.1l-0.4 0.9l-0.5 0.8l-0.3 1.7l-0.8-2.1l-0.7-1l-0.4 0.8l-0.6 0l-0.4 0.8l-0.7-1.2l-0.4 1.3l-0.7-1.1l-0.5 0.4l-0.6-0.3l-0.4 0.9l-0.6 0.1l-0.6-1l-0.6 0.2l-0.4 0.6l-0.5 0.5l-0.6-0.5l-0.6-0.1l-0.5 0.2l-0.4 1.4l-0.6-0.5l-0.6-0.5l-0.5 0.6l-0.4 1l-0.6-0.5l-0.5 0.3l-0.7-0.8l-0.7-0.8l-0.5 0.4l-0.1 3.1l-0.7-1.2l-0.5 0.3l-0.7-1.4l-0.5 0.6l-0.7-1l-0.2 2.2l-0.9-2.2l-0.4 0.8l-0.7-0.4l-0.5-0.1l-0.3 1.8l-0.7-0.8l-0.6-0.6l-0.3 1.5l-0.7-0.7l-0.5 0.1l-0.4 1l-0.7-1l-0.6-0.1l-0.6-0.1l-0.3 1.4l-0.8-1.4l-0.3 1.5l-0.7-1.3l-0.2 2.4l-1-2.4l-0 2.9l-0.7-0.6l-0.8-1.9l-0.6 0.1l-0.3 1.3l-0.7-0.9l-0.2 2l-0.8-1.3l-0.6-0.3l-0.6-0.4l-0.1 2.9l-1-2.6l-0.5 0.3l-0.3 1.2l-0.7-0.5l-0.4 0.5l-0.8-1.2l-0.2 1.9l-0.4 0.8l-0.8-1.3l-0.8-1.2l0.3 4.5l-1.2-3.4l-0.5 0.5l-0.3 1.1l-0.6-0.2l-0.8-1.2l-0.6-0.4l-0.3 1.5l-0.8-1.3l0 2.9l-0.9-2.2l-0.7-0.4l-0.4 0.8l-0.3 1l-0.9-1.7l-0.4 1.2l-0.1 1.8l-0.9-1.6l-0.6-0.3l0.2 3.7l-1.3-3.3l-0.5 0.3l-0.4 0.6l-0.6-0l-0.8-1.3l-0.3 1.1l-0.6-0.2l-0.6-0.1l-0.5-0l-0.6 0.1l0.1 2.9l-1-2.2l-0.6-0.2l-0.6-0.1l-0.1 2.1l-1-1.9l-0.5 0.3l-0.4 0.8l-0.2 1.4l-0.9-1.5l-0.2 1.7l-0.4 0.6l-1.1-2.5l-0.1 2.2l-0.9-1.4l-0.5-0.1l-0.4 0.9l-0.4 0.6l-0.8-1.1l-0.3 1.2l-0.2 1.3l-1-1.5l-0.5-0l-0 2.4l-0.5 0.1l-1-1.8l-0.8-0.8l0.1 2.6l-1-1.6l-0.7-0.6l-0 2.1l-1-1.8l-0.3 1.3l-0.7-0.6l-0.5-0l-0.8-0.9l0.1 2.5l-1.1-2.1l-0.5 0.3l-0.6-0.1l-0.5 0.2l-0.4 0.6l0.1 2.6l-1.2-2.5l-0.6-0l-0.6-0.1l-0.1 1.7l-0.3 0.8l-0.8-0.5l-0.9-1.3l-0.2 1.4l-0.8-1.1l-0.4 0.8l-0.8-0.9l-0.4 0.5l0.9 5.3l-1.2-2.3l-1.1-2.1l-0.3 1.2l-0.9-1.3l-0.3 1l-0.3 1l-0.7-0.5l-0.2 1.3l-1.3-2.6l-0.4 0.3l-0.4 0.8l-0.6-0.2l-0.5 0.2l-0.4 0.8l-0.7-0.7l-0.5 0.5l-0.5 0.1l-0.3 0.9l-0.4 0.4l-1-1.4l0.1 2.2l-1.2-1.9l0.4 3.3l-0.7-0.6l-0.7-0.5l-1-1.3l-0.6-0.3l-0.1 1.7l-0.2 1.3l-1.3-2.4l-0.5 0.1l-0.5 0.2l-0.3 0.8l-0.4 0.7l-0.8-0.9l-0.2 1.4l-0.6-0.2l-0.2 1.3l-0.6-0.3l-0.8-0.7l-0.4 0.4l-0.7-0.3l-0.8-0.5l-0.3 0.6l-0.7-0.3l-0.2 1.1l-0.6-0.1l-0.7-0.2l-0.6-0.2l0.1 2l-0.3 1l-1-1.3l-0.9-1.3l-0.2 1.4l-0.8-0.9l-0.2 1.2l-0.1 1.4l-0.5 0.3l-0.8-0.9l-0.2 1.4l-0.7-0.5l-0.1 1.3l-1-1l0 1.7l-1.3-2.2l0.4 2.7l-1.8-3.4l-0.2 1l-0.6-0l-0.2 0.8l-0.4 0.7l-1.1-1.5l-0.6-0l-0.5 0.1l0.1 1.9l0.1 1.9l-1.3-1.9l-0.9-1l-0.2 1l-0.2 1.2l-1.1-1.5l-0.1 1.1l-0.5 0.4l-0.5 0.2l-0.7-0.4l-0.5 0.4l-0.5 0.1l-0.9-0.8l-0.2 0.8l-0.5 0.4l-0.3 0.7l-0.9-0.9l-0.6 0l-0.4 0.6l-0.4 0.5l0.1 1.7l-1-1.2l-0.8-0.5l-0.4 0.3l-0.1 1.4l-0.7-0.3l-0.5 0.1l-0.5 0.4l-0.7-0.5l-0.4 0.5l-0.7-0.1l0.6 3l-1.7-3l-0.7-0.2l0 1.6l-0.7-0.4l-0.1 1.1l-1.1-1.4l0.2 2.1l-0.9-0.9l-0.2 1.2l-0.7-0.3l-0.5 0l-0.2 1.1l-1.2-1.7l-0.6 0.2l-0.7-0.3l-0 1.3l-0.7-0.1l-0.7-0.3l-0.5 0.2l-0.1 1l-0.8-0.3l-0.3 0.7l-0.1 1.2l-0.1 1l-1.6-2.5l-0.5 0.4l-0.2 0.8l0.1 1.7l-1.3-1.8l0.2 1.9l-1-1l-0.7-0.1l-0.9-0.8l-0.2 1l-0.4 0.4l-0.4 0.5l-0.4 0.4l-0.8-0.7l-0.6 0.1l-0.4 0.5l-0.1 1l-1-0.9l-0.7-0.2l-0.4 0.4l-0.5 0.2l-0.1 1.2l-0.7-0.3l-0.9-0.6l-0.3 0.5l-0.2 1l-0.8-0.6l-0.7-0.1l0.4 2.2l-1.3-1.6l-0.2 0.8l-0.3 0.9l-0.9-0.8l0.2 1.9l-1-1l-0.6-0.1l-0.1 1.2l-0.4 0.3l0.5 2.6l-2-3.3l-0.3 0.7l0.1 1.5l-1-0.9l-0.5 0.4l-0.5 0l0.9 3.3l-1.9-2.7l-1-0.9l0.6 2.5l-0.7-0.1l-0.7-0.3l-1.2-1.3l1.5 4.5l-2.2-3.4l1 3.3l-2.3-3.5l-0 1.2l-0.7-0.1l-0.8-0.6l0.7 2.8l-1.7-2.2l0.2 1.5l-1.2-1.3l-0.5 0.3l-0.5 0.3l-0.1 0.9l-0.7-0.1l-0.3 0.6l-0.4 0.5l-0.2 0.9l-0.1 0.8l-1.7-2.2l0.1 1.4l-1.1-0.9l0.1 1.3l-0.5 0.3l-0.8-0.5l-0.5 0.4l-0.5 0.1l-0.5 0.2l-0.1 1l-0.5 0.3l-1.1-1.1l0.2 1.7l-1.3-1.4l0.4 2l-1.1-0.9l0.1 1.4l-0.8-0.5l-0.9-0.5l0.4 2l-0.7-0.1l-0.2 0.7l-1.1-0.9l-1-0.9l0.5 2.2l-1.2-1.1l-0.5 0.1l-0.7-0.1l1.3 3.8l-1.9-2.5l-0.9-0.6l0.2 1.5l-0.1 0.9l-1.4-1.5l-0 1.2l-0.7-0.1l-0.6-0.1l-0.8-0.2l0.5 2.1l-1.3-1.3l-0.6 0l-0.4 0.3l-0.7-0.1l0.2 1.5l0.3 1.7l-0.9-0.6l-0 1.2l-1.1-0.9l-1.4-1.5l0.3 1.7l-0.3 0.7l-0.7-0.2l0.6 2.3l-2.3-3.2l1.7 4.3l-2.4-3.4l0.6 2.3l-1.6-1.8l-0.2 0.9l-0.8-0.4l-0.5 0.3l-0.3 0.5l-0.7-0.2l-0.6 0.1l1.2 3.2l-2-2.4l0.6 2.1l-1.4-1.4l-0.7-0.1l-0.6 0.1l-0.2 0.7l-0.2 0.7l-0.6 0.1l-0.9-0.5l-0.2 0.7l-0.4 0.4l-0.5 0.3l-0.7-0.2l0.3 1.6l-1.4-1.3l-0.4 0.4l-0.5 0.1l-0.6 0.1l1.8 4.2l-2.6-3.3l-0.1 0.8l-1-0.6l0.3 1.6l0.8 2.5l-2.3-2.9l-0.2 0.7l-0.6-0l-0.8-0.2l-0.3 0.5l-0.7-0.2l-0.5 0.3l0.3 1.5l-0.3 0.6l-1.4-1.3l-0.2 0.7l-0.1 0.9l0.8 2.4l-1.5-1.4l-1-0.7l0.4 1.7l-1.4-1.3l0.2 1.3l-1.3-0.9l1 2.6l-0.1 0.8l-1.3-1.1l-0.9-0.3l-1.1-0.8l-0.3 0.5l-0.1 0.9l-0.7-0.2l-0.3 0.6l-0 1l-1.2-0.9l1 2.7l0.2 1.3l-2.4-2.8l-0.4 0.3l0.2 1.4l-1.5-1.4l-0.4 0.4l-0 1l-0.9-0.5l0.3 1.5l-1-0.5l0.5 1.8l-1.9-2l1.8 3.8l-2.5-2.9l-0.4 0.4l1.4 3.2l-2.6-3.1l-0.5 0.3l-0.1 0.9l-0.6-0.1l-0.5 0.3l1 2.6l-0.8-0.3l-1.7-1.6l-0 0.9l-0.8-0.2l-0.8-0.1l1.7 3.4l-2.5-2.7l0.7 2.1l-0.9-0.5l-0.8-0.2l-0.8-0.3l1 2.5l-2.1-2.1l-0 0.9l-0.2 0.7l-1-0.6l1.3 3l-2.3-2.6l0.5 1.8l-1.2-0.7l0.7 1.9l-0.7-0l-0.8-0.3l-0.9-0.3l-0.4 0.3l-0.6 0.1l-0.2 0.7l0.6 1.8l-0.2 0.6l-0.3 0.6l-1.8-1.6l-0.7-0.2l0 1l-1.3-0.9l0.9 2.3l-0.7-0.2l-1-0.4l-0.8-0.2l-0.7-0.1l0.1 1.1l-1-0.6l1.7 3.5l-2.2-2.3l1.5 3.1l-2.5-2.6l-0.6 0.1l-0.4 0.3l-0.4 0.5l1 2.3l-2-1.9l1.2 2.7l-2-1.9l0.7 1.9l-0.4 0.3l-0.8-0.2l-0.4 0.3l-1-0.4l0.1 1l0.3 1.4l-1.2-0.8l-0.2 0.6l-1.7-1.3l1 2.2l-1.2-0.7l0.2 1.2l-0.9-0.3l-1.5-1.1l0.4 1.4l-1-0.4l-0.5 0.2l-0.5 0.3l-0.1 0.7l-0.4 0.3l0.5 1.6l-1.4-1l-0.9-0.2l-0.3 0.4l0.6 1.8l-1.4-1l-0.6 0.2l-0.3 0.4l-0.2 0.6l-0.6 0.2l-0.8-0.3l-0.3 0.6l-0.3 0.5l-0.8-0.2l0.5 1.5l-0.4 0.5l-0.9-0.4l1.9 3.4l-2.8-2.8l-0.8-0.1l-0.1 0.7l-0.2 0.6l0.3 1.3l-0.3 0.5l0.5 1.5l-2.3-2l-0.9-0.4l0.1 1l-0.3 0.5l-0.7 0l-0.3 0.5l-0.1 0.7l1.4 2.8l-3.2-3.3l1.1 2.3l-1.6-1.2l-0.8-0.1l-0.4 0.3l-0.6 0.2l0.5 1.4l-1.3-0.8l-0.2 0.6l0.2 1.2l-0.1 0.8l-0.8-0.1l-0.8-0.3l0.1 1l-1.5-0.9l0.2 1l0 0.9l-0.9-0.2l-0.2 0.6l-1.1-0.5l0.7 1.7l-1.2-0.7l-0.4 0.4l1.4 2.5l-2.5-2.1l0.3 1.1l-0.1 0.8l-0.7 0l-1-0.3l-0.3 0.4l-0.9-0.2l1 2l-0.6 0.2l-1.3-0.8l-0.8-0.1l0.6 1.6l-0.8-0.2l-0.7 0l0.3 1.2l0.3 1.2l-2.2-1.8l3 4.4l-3.6-3.4l0.8 1.8l-1.6-1l0.3 1.1l-0.3 0.5l-0 0.8l-1.8-1.2l0.1 0.9l-1-0.4l-0.1 0.8l-0 0.7l-1.4-0.7l0 0.9l1.5 2.5l-2.2-1.7l-1-0.4l0.2 1.1l-0.3 0.4l-0.7 0.1l-0.5 0.2l0.6 1.4l-1.1-0.3l-1-0.3l0.6 1.4l0 0.9l-1-0.4l-0.4 0.4l-0.9-0.2l0.8 1.7l-1.1-0.5l-0.3 0.5l-0.7 0.1l-0.5 0.2l-1-0.3l0.3 1.1l0.2 1l-1.6-1l-0.6 0.2l1.8 2.8l-1.5-0.8l-0.4 0.3l-0.6 0.1l-1.3-0.6l1.2 2.1l0.2 1l-1.8-1.1l-0.3 0.5l-1.2-0.6l2 3l-2.3-1.8l0.7 1.6l-1.6-0.9l-0.4 0.4l0.3 1l0.8 1.7l-2.5-1.9l0.8 1.6l-0.9-0.1l-1.1-0.5l1.2 2.1l-2.3-1.6l-0.3 0.5l0.6 1.4l-0.4 0.3l-1.1-0.4l1.7 2.6l-1.9-1.2l-1.5-0.8l0.2 1l-0.3 0.5l-0.9-0.2l0.4 1.1l0.8 1.7l-2.4-1.7l-0.8-0.1l0 0.8l-0.1 0.6l-0.2 0.6l1.2 2l-2.2-1.5l-0.9-0.2l-0.3 0.5l-0.1 0.7l-0.4 0.3l0.4 1.2l2.4 3.2l-4.4-3.7l1 1.8l-1-0.3l-0.4 0.4l-0.3 0.5l0.2 0.9l-0.8-0l-1.3-0.6l-0 0.8l-0.4 0.3l-0.7 0.2l1.6 2.2l-1.2-0.4l-1.9-1.1l-0.4 0.3l0.9 1.7l-0.8-0l-1.1-0.4l0.3 1.1l-0.5 0.3l0.2 0.8l-0.7 0.2l-0.4 0.3l-1.3-0.5l0.8 1.5l-1-0.2l1.7 2.4l-1.3-0.6l-1.2-0.3l-0.9-0.2l-0.1 0.7l0.9 1.6l-0.8-0l-0.6 0.1l-1.7-0.9l-0.4 0.4l0.6 1.3l-1.2-0.4l0.4 1.1l-1.3-0.5l-0 0.8l0.5 1.2l0.7 1.4l-2.2-1.4l-0.8 0l0.4 1.2l-1.1-0.4l2.8 3.3l-1.7-0.8l-1.7-0.9l-0.6 0.3l0.1 0.7l-0 0.8l-1.5-0.6l1.1 1.7l-1.1-0.3l0.1 0.8l-0.6 0.2l-0.4 0.4l0.6 1.2l-2-1.1l0.6 1.3l-2-1.1l2.3 2.8l-1.6-0.7l-1.7-0.9l1.1 1.8l-1.6-0.7l0.5 1.1l-1.2-0.4l-0.7 0.2l0.3 1l-1.2-0.4l0.1 0.8l0.3 1l-0.9-0.1l0.2 0.9l-0.8-0l0.4 1.1l-0.2 0.5l-0.9-0.1l-0.8 0l-0.6 0.2l1 1.6l-0.7 0.1l-1.6-0.7l-0.1 0.7l0.8 1.3l-0.9-0.1l-1.1-0.2l3.5 3.8l-3.1-2l-1.7-0.8l-0.5 0.3l-0.4 0.4l1 1.5l1 1.6l-2-1l-0.2 0.5l-0.1 0.6l-0.1 0.7l-1.2-0.3l-0.2 0.5l0.6 1.2l-1.9-0.9l-0.6 0.2l0.2 0.8l-0.5 0.3l1.8 2.2l-2.1-1l-0.8-0l0.8 1.3l0.2 0.9l-2.5-1.4l-0.4 0.3l-0.1 0.7l0 0.7l-0.7 0.1l-0.4 0.4l-0.3 0.4l1.2 1.6l-1.1-0.1l-1.6-0.7l0.6 1.2l-0.6 0.2l-0.4 0.4l0.7 1.2l-0.7 0.2l-1.7-0.7l2.9 3l-2.9-1.7l0.6 1.3l-1.5-0.6l1 1.5l0.8 1.3l-1.7-0.6l0.1 0.7l1 1.5l-3.7-2.3l-0.3 0.5l1.2 1.6l-0.8 0.1l-0.3 0.4l-1.2-0.3l0.4 1l-1.1-0.2l1.8 2.1l-2.8-1.5l2 2.2l-2.2-1l-0.1 0.6l-0.3 0.4l1.4 1.8l-0.5 0.3l-1.9-0.8l-0.4 0.4l1 1.4l-2.4-1.1l-0.3 0.4l0.7 1.2l-0.2 0.5l0.5 1.1l-1.1-0.2l-0.6 0.2l-0.5 0.3l-1.3-0.3l0.8 1.3l-1.5-0.5l1 1.4l-0.5 0.3l-1.4-0.3l0.2 0.7l0.8 1.3l0.1 0.7l-0.5 0.3l-1.3-0.3l-0.2 0.5l-0.5 0.3l-0.8 0.1l1.3 1.6l-1.9-0.7l-0.8 0.1l-0.3 0.4l0.2 0.8l-0 0.7l0.8 1.3l-2.2-1l0.1 0.7l1.3 1.6L236.7 351.5A626 605.1 0 0 0 235.1 353.6l0.6 1.1l-0.2 0.5l0.4 0.9l-1.5-0.4l0.4 1l-1-0.1l-0.4 0.4l0.9 1.3l-1.4-0.3l-0.6 0.2l-0.3 0.4l1.8 1.9l-2-0.7l-0.5 0.3l0.6 1l-1.8-0.6l1 1.4l-1.8-0.6l1.5 1.7l-2-0.8l0.3 0.9l0.3 0.8l0.1 0.8l-1-0.1l-1.1-0.1l2.7 2.5l-2.9-1.3l0.8 1.1l-1.7-0.5l0.7 1.2l-0.7 0.1l0.3 0.8l-1 0.1l2.2 2l-1 0.1l-2.7-1.2l-0.5 0.3l0.6 1l-1-0l-0.7 0.2l0.8 1.1l-0.9 0.1l-0.9-0l0.4 0.9l0 0.7l-0.3 0.4l-0.4 0.3l-1.3-0.1l1.1 1.3l-0.8 0.1l-0.7 0.2l0.7 1.1l-0.3 0.5l-0.9-0l0.2 0.7l-1.2-0.1l0.1 0.7l0.8 1.1l-0.8 0.2l-0.6 0.2l0.5 1l-1.6-0.4l-0.9 0.1l-0.4 0.3l0.3 0.8l0.6 1.1l-0.7 0.1l-1 0.1l0.7 1l-0 0.6l-1.2-0.1l0.3 0.8l-1.6-0.3l-0.1 0.5l0.5 0.9l-0.8 0.2l0.3 0.8l-0.2 0.5l-0.8 0.1l0.9 1.2l0.4 0.9l-0.6 0.2l-0.5 0.4l-0.1 0.5l-2.5-0.9l0.2 0.7l1 1.3l-0.8 0.1l0.2 0.7l-1.3-0.1l-0.9 0.1l2.6 2.1l-2.1-0.6l1 1.2l-2.2-0.6l-0.7 0.1l0.2 0.8l-0.6 0.2l1.9 1.8l-2.8-1.1l0.2 0.8l1.4 1.4l-0.9 0.1l-1.1-0l-1.2-0.1l1.1 1.3l0.1 0.6l-1.4-0.2l3.2 2.5l-0.8 0.2l-3.3-1.3l-0.7 0.1l-0.1 0.6l0.3 0.8l0.8 1.1l-0.9 0.1l-1.4-0.2l-0.4 0.4l0.2 0.7l0.2 0.7l0 0.7l1.7 1.5l-2.5-0.8l0.7 1l-1.8-0.4l1 1.2l0.3 0.7l-0 0.7l-0.6 0.2l-0.6 0.3l-2.2-0.6l0.9 1.1l0 0.6l0.4 0.8l-1.9-0.4l0.9 1.1l-1.4-0.2l-0.6 0.3l-0.1 0.5l0.3 0.8l-1.2-0l0.7 1l0.7 0.9l2.2 1.8l-3.9-1.4l1.4 1.3l-2.2-0.6l0 0.6l-1 0.1l0.8 1l0.1 0.7l-0.6 0.2l-0.9 0.2l1.5 1.4l-1.5-0.3l0.7 1l-2.1-0.5l-0.1 0.6l1.5 1.4l-0.9 0.1l-1.2-0l0.9 1l-1.4-0.1l1.8 1.6l-2.5-0.8l2.2 1.8l-2.7-0.8l1.2 1.2l-1.7-0.3l-0.8 0.2l0.9 1.1l-1.1 0l0.6 0.9l1.4 1.3l-1.8-0.3l-1 0.1l3.2 2.2l-1.6-0.2l-1.6-0.2l-0.1 0.5l-0.5 0.3l0.5 0.9l-1.7-0.3l2.6 1.9l-0.3 0.5l-0.2 0.4l-2.8-0.7l-0.5 0.3l0.2 0.7l-0.6 0.3l1.6 1.4l-1.9-0.4l0.9 1.1l0.3 0.7l-2.8-0.8l0.4 0.8l-0.2 0.5l2.7 1.9l-1.7-0.2l1.2 1.1l-3.5-1.1l-0.1 0.6l2.4 1.7l-1.7-0.2l-1.9-0.4l1.4 1.3l-1.2 0l1.7 1.4l-0.6 0.3l-2.4-0.5l0.1 0.6l-0.7 0.3l0.1 0.6l-0.1 0.6l-0 0.5l1.2 1.2l-1.6-0.2l-0.2 0.5l-0.7 0.3l-0.4 0.4l1.2 1.1l-1 0.1l2.6 1.8l-3.8-1.1l-0 0.5l0.2 0.7l-0.4 0.4l-0.5 0.3l0.4 0.8l-1.2 0l1.6 1.4l-0.8 0.2l-0.7 0.3l-0.5 0.3l0.7 0.9l-1.2 0l0.3 0.7l1.1 1.1l-1.6-0.1l0.3 0.7l-1.4-0l1.1 1l-0.7 0.3l1.4 1.2l-2.4-0.5l-0.7 0.3l1.5 1.2l-1.8-0.2l4.7 2.6l-4.3-1.2l-0.7 0.2l0.4 0.8l-0.2 0.5l-1.2 0l0.6 0.9l-1.4-0.1l0.6 0.9l-0.2 0.5l1.8 1.3l-1.7-0.1l-1.4-0.1l1.5 1.2l-0.1 0.6l-0 0.5l0.6 0.9l-2.8-0.6l0.7 0.8l0.8 0.9l-2.5-0.4l0.9 0.9l-1.1 0.2l1.1 1l-0.5 0.3l-0.1 0.6l-0.2 0.5l-0.2 0.5l1.9 1.3l0.1 0.6l-3.6-0.9l-0.8 0.3l-0.2 0.5l-0.2 0.5l0.3 0.7l-0.2 0.5l-0.4 0.4l0.4 0.7l0.6 0.8l-0.5 0.3l-1.5 0.1l2.4 1.5l-1.9-0.2l0.8 0.9l-1.4-0l0.7 0.8l-1.1 0.2l-1.1 0.1l1.2 1l-1.2 0.1l0.6 0.9l-1.2 0.1l-0 0.5l1.5 1.2l-1.4-0l0.8 0.9l0 0.5l0.2 0.6l-2-0.1l-0.5 0.4l1.7 1.2l-2.1-0.3l-0.2 0.5l0.2 0.7l-0.8 0.3l3 1.6l-0.4 0.4l-2.4-0.3l-0.9 0.2l0.5 0.8l1.2 1l-0.6 0.3l-0.9 0.3l-1.4 0l0.7 0.8l-0 0.6l1 0.9l-1 0.2l-0.2 0.5l-0.4 0.4l-0.2 0.5l-1 0.2l-0.6 0.4l-0.1 0.5l1.2 1l-0.4 0.4l-1.4 0.1l1.4 1l-0.2 0.5l-0 0.6l0.3 0.7l-0.3 0.4l0.3 0.7l-1.6-0l0.2 0.6l0.2 0.6l-0.2 0.5l-0.4 0.4l-0.5 0.4l2.4 1.4l-2.8-0.4l-1.4 0.1l1.1 0.9l-0.7 0.3l-0.5 0.4l-0 0.6l-0.7 0.3l-0 0.6l0.3 0.6l1.6 1.1l-0 0.6l-0.7 0.3l1 0.9l0.2 0.6l-3.8-0.7l1.7 1.1l-1.9-0l1.6 1l1.7 1.1l-3.5-0.5l0.9 0.8l-0.3 0.5l-1.6 0l0 0.6l-0.5 0.4l0.5 0.7l0.7 0.8l-0.1 0.5l-0.4 0.4l-1.4 0.1l-0.1 0.5l1 0.9l-1 0.3l0.4 0.6l-0.4 0.5l-0.9 0.3l0.1 0.5l-0.4 0.5l-0.1 0.5l2.1 1.2l-1.6 0l1.3 1l-2-0.1l1.5 1l-0.5 0.4l0.5 0.7l-2.4-0.1l4.2 1.8l-3.3-0.5l-0.9 0.3l3.8 1.7l-5-0.9l0 0.5l0.4 0.7l-0.1 0.5l-0.4 0.5l-0.3 0.4l0.2 0.6l1.1 0.9l-0.3 0.4l-1.4 0.2l2.1 1.1l-3-0.2l1.3 0.9l-0.9 0.3l1.3 0.9l-0.7 0.3l-0.3 0.5l1.3 0.9l-0.5 0.4l-2.3-0.1l0.2 0.6l3.1 1.4l-3.2-0.3l2.4 1.2l-2.3-0.1l2.5 1.2l-2.8-0.2l0 0.6l-0.7 0.3l-0.8 0.4l3.6 1.5l-3.5-0.4l0.7 0.7l3.1 1.4l-3.6-0.4l-0.6 0.4l-0.4 0.4l1.2 0.9l1.3 0.8l-3.2-0.2l1.6 0.9l-0.5 0.5l-0.1 0.5l0.4 0.6l-1.9 0.1l-0.3 0.4l1.8 1l-0.5 0.5l-0.5 0.4l2 1l-3-0.2l-0.6 0.4l-0.2 0.5l-0.3 0.5l1.3 0.8l-0.5 0.5l-0.1 0.5l2 1l-3.3-0.2l0.9 0.7l-0.7 0.4l1.2 0.8l0 0.6l1 0.7l-1.8 0.2l-1.2 0.2l0.8 0.7l0.2 0.6l-0.6 0.4l-0.1 0.5l1.6 1l-3-0.2l0.8 0.7l0.4 0.7l-0.1 0.5l-0.1 0.5l-1.2 0.3l-0.5 0.4l1.3 0.9l1 0.7l-2.3 0l-0.1 0.6l-0.1 0.5l0 0.5l1.7 0.9l-2.3 0.1l0.8 0.7l-0.1 0.5l0.3 0.6l-0.5 0.4l-1.2 0.3l0.8 0.7l0 0.6l-1 0.3l-0.3 0.5l1.2 0.8l1.7 0.8l-3-0l0 0.5l0.3 0.6l2.2 1l-1.5 0.2l1.3 0.8l-3-0l0.5 0.6l0.4 0.6l0.4 0.7l-1.4 0.2l0.7 0.7l-1.2 0.3l-0.1 0.5l0 0.6l1.4 0.8l-1.9 0.1l0.6 0.7l-0.5 0.4l3.4 1.2l-3.4-0.1l0.6 0.7l1.4 0.7l-1.6 0.3l-1.2 0.3l1.4 0.8l-0.5 0.4l0.7 0.7l-1.6 0.3l0.3 0.5l-0.7 0.5l0.7 0.6l-0.1 0.5l-1 0.4l1.9 0.9l-1.8 0.2l1.6 0.8l-2.1 0.2l-0.1 0.5l0.6 0.6l1.4 0.8l-1.5 0.3l0.8 0.6l-1.9 0.3l1.7 0.8l-0.3 0.5l-1.5 0.3l-0.3 0.4l1 0.7l-0.6 0.5l0.2 0.6l0.1 0.5l-0.2 0.5l-0.8 0.4l4.1 1.2l-3.4-0l1.4 0.7l-1.9 0.3l0.4 0.6l-0.1 0.5l0.9 0.6l-1.7 0.3l-0.1 0.5l1 0.7l-1 0.4l1.6 0.8l-1.8 0.3l3.4 1l-1.1 0.3l-2.3 0.3l0.1 0.5l1.6 0.8l-1.6 0.3l-0.6 0.4l-0.5 0.5l0.9 0.6l-1.4 0.4l-0.1 0.5l2.4 0.8l-1.2 0.4l0.8 0.7l-1.7 0.3l1.8 0.7l1.7 0.8l-0.2 0.5l-2.8 0.2l-1 0.4l-0.1 0.5l0.7 0.6l0.3 0.6l-0.1 0.5l0.1 0.5l1.8 0.8l-2.7 0.2l0.7 0.6l-1.4 0.4l2.4 0.8l-1.6 0.3l-1.1 0.4l1 0.7l-0.4 0.5l1.2 0.6l-0.8 0.5l2 0.7l-2.1 0.3l-1.2 0.4l0.3 0.6l2 0.7l-1.2 0.4l-0.4 0.5l-1 0.4l1.1 0.7l-0.7 0.4l-0 0.6l-0.8 0.4l0.9 0.6l-0.8 0.5l0.8 0.6l-0.2 0.5l0.9 0.6l-1 0.5l-1 0.4l2.7 0.8l-2.2 0.3l0.6 0.6l0.7 0.6l-0.9 0.4l-1.2 0.4l0.3 0.6l-0 0.5l1.2 0.7l1.1 0.6l-1.4 0.4l-0.8 0.5l0.5 0.5l-0.2 0.5l-0 0.6l-0.3 0.5l0.9 0.6l-1.1 0.4l-0.8 0.5l1.6 0.6l2.3 0.8l-4.1 0.2l1.7 0.6l-0.5 0.5l0.9 0.6l-0.9 0.5l-0.3 0.5l-0.6 0.5l0.9 0.6l0.5 0.5l2.8 0.7l-3.9 0.3l-0.6 0.5l-0.1 0.5l-0.6 0.5l2.8 0.7l-0.6 0.5l-2.3 0.4l0.2 0.5l-0.2 0.5l1 0.6l-0.9 0.5l0.5 0.6l1.1 0.5l-1.4 0.5l-0.5 0.5l1 0.6l-0.7 0.5l2.5 0.6l-1.5 0.5l-0.2 0.5l-0.4 0.5l1.8 0.6l-0.6 0.5l-1.5 0.5l2.2 0.6l-2.6 0.4l0.2 0.5l0.7 0.6l1.6 0.6l-2.6 0.4l0.3 0.6l0.6 0.5l-1.2 0.5l0.4 0.5l-0.2 0.6l0.1 0.5l0 0.5l1.8 0.6l-1.3 0.5l3.2 0.6l-2.5 0.5l-0.2 0.5l-1.7 0.5l1.9 0.5l-1.7 0.5l1.5 0.6l-0.1 0.5l-0.3 0.5l-1 0.5l0.2 0.6l0.3 0.5l1.3 0.6l1.5 0.5l-3.4 0.5l0 0.5l3 0.6l-2.4 0.5l-0.1 0.5l-0.7 0.5l2.9 0.6l-2.6 0.5l-0.3 0.5l0.1 0.5l1.5 0.6l-1.3 0.5l0.4 0.5l0.1 0.5l-0.5 0.6l1.5 0.5l-1.2 0.5l1.9 0.6l-1.9 0.5l0.6 0.5l0.9 0.5l-0.2 0.6l-1.7 0.5l-0.5 0.5l-0 0.5l-0 0.6l3.1 0.5l-1.8 0.5l0.3 0.6l-1.6 0.5l1.3 0.5l-1.1 0.5l2.4 0.6l-2.2 0.5l-0 0.5l0.1 0.5l0.6 0.6l-0.7 0.5l1.6 0.5l-1.2 0.6l0.3 0.5l0 0.5l-0.3 0.5l-0.6 0.6l0.2 0.5l0 0.5l1 0.5l0.5 0.6l-0.7 0.5l-0 0.5l-0.4 0.6l-0.3 0.5l2 0.5l-0.7 0.5l0.9 0.5l-2 0.6l1 0.5l-0.6 0.5l3 0.5l-1.5 0.6l-0.7 0.5l0.7 0.5l-1.8 0.6l0.4 0.5l0.8 0.5l1.1 0.5l-1.3 0.6l1.3 0.5l-2.4 0.6l0.1 0.5l0.9 0.5l0.8 0.5l-1.5 0.6l-0.5 0.5l1.1 0.5l0.2 0.5l-0.7 0.6l2.8 0.4l-2 0.6l0.4 0.5l1.5 0.5l2.6 0.4l-4.6 0.7l0.2 0.5l-1.1 0.6l4.7 0.3l-4.4 0.7l2.4 0.5l-0.7 0.5l-0.9 0.6l2.2 0.4l-1.2 0.6l1.3 0.4l-1.3 0.6l0.2 0.6l-1.8 0.6l0.6 0.5l1 0.5l-0.7 0.5l2.2 0.4l-2.7 0.7l-0.5 0.6l1.3 0.4l-0.9 0.6l1.1 0.5l0.3 0.5l-1.7 0.6l1.2 0.5l0.9 0.4l-1 0.6l0.2 0.5l-0.2 0.6l1 0.4l1.2 0.5l-1.8 0.6l2.6 0.4l-2.6 0.7l-0.1 0.5l3 0.3l0.2 0.5l0.1 0.6l-3.7 0.8l3.2 0.3l-3.3 0.7l1.4 0.5l-0 0.5l-1.1 0.6l0.3 0.5l0.8 0.5l1.3 0.4l-0.7 0.6l-1.2 0.6l1.9 0.4l-0.4 0.5l-0.1 0.6l-1.4 0.6l1.9 0.4l-1.8 0.7l0.4 0.5l1.2 0.4l-0.5 0.6l0 0.5l-0.9 0.6l2.1 0.3l-1.2 0.7l-0.9 0.6l0.8 0.5l0.3 0.5l1.5 0.3l-1.2 0.7l0 0.5l0.3 0.5l0.9 0.5l1.4 0.3l-3.3 0.9l2.5 0.3l-1.8 0.7l2.1 0.3l-2.7 0.8l2.4 0.3l-1.5 0.7l0.2 0.5l-1 0.6l1.1 0.4l-0.5 0.6l0.3 0.5l0.2 0.5l2.9 0.2l-2.2 0.8l-0.8 0.7l0.4 0.4l-0.5 0.6l1.4 0.4l-1.6 0.7l1 0.4l-0.5 0.6l-0.1 0.6l3.7 0l-1.9 0.8l1.1 0.4l-1.5 0.7l-0.5 0.6l-0.3 0.6l-0.1 0.5l3.5 0.1l-1.3 0.7l-1.3 0.7l0.1 0.5l1.6 0.3l-2.3 0.9l0.6 0.4l-0.3 0.6l2.1 0.3l0.4 0.4l1.6 0.3l-2.9 1l-0.3 0.5l1 0.4l-1.5 0.8l1.7 0.3l-0.7 0.6l0.3 0.5l1.4 0.3l-0.9 0.7l2.5 0.1l-2.7 1l0.1 0.5l1.2 0.4l-1.6 0.7l4.1-0.1l-3.2 1.1l2.5 0.1l-3.6 1.1l0.5 0.5l0.1 0.5l1.3 0.3l3.8-0.1l-5 1.4l3.2-0l-2.5 0.9l1.2 0.4l-1 0.7l1.5 0.2l4.3-0.1l-4.8 1.3l-1 0.7l0.4 0.5l2.1 0.1l-2.1 0.9l-0.2 0.6l0.4 0.5l-0.4 0.6l1.7 0.2l-0.6 0.7l2.8 0l-2.3 0.9l-0.2 0.6l4.6-0.3l-4.6 1.4l-0.5 0.6l2.7 0.1l-1.7 0.8l-0.5 0.6l3.2-0l-1.5 0.8l0.3 0.5l1.7 0.2l-3.3 1.2l1.9 0.1l-1.4 0.8l-0.2 0.6l1.9 0.2l-0.4 0.6l1.3 0.3l-2.6 1l3.6-0.1l-0.8 0.7l-0.3 0.5l1.6 0.3l-3.5 1.2l0.4 0.5l1.2 0.3l2.1 0.1l0.1 0.5l-2.4 1l0.7 0.4l0.1 0.5l2.3 0.1l-1.5 0.8l-1.7 0.9l2.1 0.1l1.7 0.2l-1.1 0.8l1 0.3l-3 1.2l2.1 0.1l-0.2 0.6l-1.7 0.9l1 0.3l1 0.3l-0 0.6l0.1 0.5l-0.6 0.6l-1 0.8l2.8-0.1l-1.8 1l0.3 0.4l2.3 0.1l-1.2 0.8l-0.9 0.7l1.2 0.3l1.2 0.3l-2.6 1.1l0.3 0.5l0.3 0.4l2.7-0l-0.8 0.7l2.1 0l-2.4 1.1l-1 0.8l2.3 0l-0.9 0.8l-1.1 0.8l0.8 0.3l-0.9 0.8l1.9 0.1l0.8 0.3l-2.2 1.1l0.7 0.4l1 0.3l-0.4 0.6l1.6 0.2l0.7 0.3l-2.6 1.2l0.1 0.5l2 0.1l1.9 0.1l-3.3 1.3l1.1 0.3l-0.8 0.7l3.2-0.2l-2.7 1.2l2.1 0l-1.9 1l1.2 0.3l-1.1 0.8l-0 0.6l3.2-0.3l-0.1 0.5l-2.5 1.2l2.5-0.1l-1.2 0.9l-0.5 0.7l0.1 0.5l1.9 0l0.7 0.4l-0.5 0.7l-0.6 0.7l-0.2 0.6l-1.1 0.8l3.7-0.4l-1.3 0.9l0.9 0.3l-1.8 1l-0.4 0.7l3.5-0.5l-0 0.6l-0.1 0.5l2.5-0.1l-3.9 1.7l-1.1 0.8l2.1-0l-1.8 1l0.8 0.3l2.7-0.2l-0.9 0.8l-0.4 0.7l-1.3 0.9l-0.4 0.7l0.6 0.4l0.8 0.3l0.2 0.5l0.3 0.4l-0.9 0.8l2.5-0.1l-2.2 1.1l1.8 0.1l-0.8 0.7l-0.7 0.8l0.5 0.4l3-0.3l-3 1.4l0.3 0.5l0.2 0.5l0.2 0.5l0.8 0.3l1.4 0.1l-0.2 0.6l-1.6 1.1l0.2 0.5l0.5 0.4l0.2 0.5l-0.2 0.6l0.9 0.3l0.8 0.2l0.6 0.4l4-0.7l-5.3 2.2l-0 0.6l1.2 0.2l-0.7 0.7l0.4 0.5l1.7-0l-0.2 0.6l-1.2 0.9l1.6 0.1l-0 0.5l0.3 0.5l0.9 0.3l2.3-0.2l-3.4 1.6l-0.3 0.7l1 0.2l-0.8 0.8l3.1-0.4l0.9 0.2l-1.6 1.1l-1.4 1l1.4 0.1l3.3-0.5l-1.7 1.1l-1.1 0.9l-0.8 0.9l-0.2 0.6l3.9-0.8l-0.6 0.8l-3.1 1.6l4-0.8l-2.2 1.3l-0.7 0.8l1.5 0l0.8 0.3l-1.1 0.9l-0.8 0.9l1.2 0.1l-0 0.6l-0.5 0.7l-0.2 0.7l0 0.5l0.6 0.4l4.2-0.9l-0.9 0.8l-0.5 0.8l-1 0.9l0.3 0.4l1.8-0l-0.2 0.6l-1.3 1l-0.2 0.6l1.4 0.1l0.2 0.5l0.5 0.4l-0.1 0.6l-1.9 1.2l3.8-0.8l-1.7 1.2l-0.5 0.7l1.2 0.1l1.4 0.1l-1.5 1.1l1.2 0.1l-1 1l-1.2 1l0.2 0.5l9.6-3.1l-8.6 3.9l1 0.1l2.1-0.2l-1.3 1.1l3.4-0.8l-2.5 1.5l4-0.9l-4.1 2.1l-0.7 0.8l0.9 0.3l4.2-1.1l1.9-0.2l-4.1 2.2l-2.2 1.4l0.2 0.5l2.1-0.2l2.1-0.3l-2.6 1.6l1.3 0.1l-2.2 1.4l5.3-1.6l-3.9 2.2l-0.3 0.7l1.1 0.1l0.5 0.3l3.3-0.7l-2.9 1.7l-0.3 0.7l4.2-1.1l-0.8 0.9l-3.7 2.1l11.8-4.3l-9.5 4.5l4.8-1.4l-6.5 3.2l1.6-0.1l1.1 0.2l3.6-1l-3.2 1.9l-0.5 0.8l1.4-0l-1.8 1.3l5.2-1.6l-0.8 0.9l0.2 0.5l-2.9 1.8l5.9-1.9l-3.4 2l0.2 0.5l2.3-0.4l-4.2 2.3l-0.8 1l2.8-0.6l-1.5 1.2l3.1-0.8l-3 1.9l1.4-0.1l3.1-0.7l0.9 0.2l-0.8 0.9l-0.6 0.8l-0.1 0.6l-0.1 0.7l-0.5 0.7l-0.4 0.8l2.2-0.4l-2 1.5l2.1-0.4l2.8-0.6l-5.2 2.8l2.4-0.5l4.6-1.4l-6.6 3.5l2.4-0.5l1.6-0.1l-0.5 0.8l2.3-0.5l-0.3 0.7l-0.6 0.9l-0.6 0.8l-2.5 1.7l0.8 0.3l2.4-0.5l5.4-1.9l-6.8 3.7l0.2 0.4l0.4 0.4l3.6-1l-2.6 1.8l0.6 0.3l2.1-0.4l-1 1l-0.7 1l1.5-0.2l-2.2 1.6l5.2-1.8l-3.9 2.4l6.5-2.5l-5.2 3.1l-0.3 0.7l1.3-0l-1.1 1.1l2.9-0.8l2.6-0.7l-0.6 0.9l-2.9 2l0.2 0.4l1.7-0.2l-2.2 1.7l3.7-1.3l-1.4 1.3l1.4-0.1l-0.6 0.9l1.8-0.3l-0.8 1l-1.4 1.3l2.9-0.9l-2.7 2l-0.1 0.6l1.1 0l-1.9 1.6l3.4-1.1l0.9 0.1l-3.2 2.2l-0.1 0.7l0.6 0.3l3.8-1.4l-3.6 2.5l5.1-2.1l-4.3 2.8l4-1.4l1.4-0.2l-3.8 2.6l-0.7 1l2.7-0.8l-0.4 0.8l2.3-0.7l-1.2 1.3l-2.3 1.8l0.7 0.2l5.3-2.2l-4.4 3l4.3-1.7l-4 2.7l0.4 0.3l5.5-2.2l-5.7 3.6l2.8-0.9l0.6 0.3l-1.8 1.6l2.3-0.7l1.4-0.1l-2.8 2.1l5.5-2.4l-3.2 2.3l-0.7 1l1.2-0.1l0.6 0.3l1.4-0.1l-2.6 2l2.2-0.6l-0.6 0.9l-0.7 1l1.8-0.3l0.4 0.3l-2 1.7l-0.4 0.8l4.6-1.9l-2.1 1.8l0.9 0.1l1.7-0.4l2.9-0.9l-4.1 2.8l6.9-3.2l-8.9 5.6l5.5-2.5l-5.1 3.5l1.2-0.1l3-1.1l-2.9 2.3l4.4-1.9l-2.1 1.8l0.6 0.3l3.1-1.2l-4.5 3.2l1.4-0.2l4.4-1.9l-0 0.6l-4 2.9l2-0.6l-2.4 2.1l1.7-0.4l0.3 0.4l2.9-1.1l-3.5 2.7l2.2-0.7l2.7-0.9l-0.7 1l0.9 0.1l-0.7 1l-0.9 1.2l-2 1.7l2.8-1l0.3 0.4l-2.2 2l1.5-0.3l4.1-1.8l-0.8 1.1l0.7 0.1l-1.6 1.6l0 0.6l1.1 0l1.2-0.1l-1.9 1.8l3-1.2l-2.9 2.3l0.4 0.4l0.2 0.5l-0.8 1.2l1.4-0.3l-1.2 1.3l5.5-2.7l-1 1.2l-2.8 2.4l0.1 0.5l0.8 0.2l5.4-2.8l-4.5 3.5l-0.3 0.8l0.7 0.2l3.3-1.4l-1.3 1.4l8.6-4.7l-5 3.7l-2.4 2.1l-0.8 1.1l0.3 0.5l0.8 0.1l-1.9 1.8l2.8-1.1l-0.3 0.8l2.4-0.9l-0.6 1l-1.7 1.7l1.9-0.5l-0.2 0.7l0.1 0.6l-1.7 1.7l7.6-4.2l-5.4 4.1l3.2-1.5l-2 1.9l0.9 0.1l2-0.7l-3.2 2.8l1.5-0.4l-0.9 1.2l-0.5 1l1.9-0.6l4-2l-1.6 1.7l-0.7 1.1l-0.6 1l-0 0.7l0.7 0.1l1.9-0.6l-0.6 1.1l-0.2 0.7l0.8 0.1l0.3 0.5l-1.7 1.7l7.5-4.4l-6.1 4.8l2.6-1.1l-1.7 1.7l0.5 0.4l1.2-0.2l2.6-1.2l-1.4 1.6l-1.6 1.8l5-2.8l-1.5 1.7l-2.4 2.3l3.8-2l-1.2 1.5l-0.6 1l1.1-0.1l-2 2l1.4-0.3l2.4-1l-0.1 0.7l-2.2 2.2l1.3-0.3l-0.9 1.3l-0.1 0.7l0 0.7l1.4-0.3l2.1-0.9l-1.2 1.5l0.1 0.6l4.3-2.4l-2.6 2.5l3.6-1.9l-2.1 2.1l-1.3 1.6l2.1-0.8l-2.1 2.1l0.1 0.6l1.6-0.5l0.8 0.1l2.1-0.9l-3.1 2.9l9.7-6.3l-6.4 5.2l-0.7 1.2l6.7-4.2l-8.1 6.6l0.4 0.4l1.5-0.5l-1 1.4l3.5-1.9l-2 2.1l2.7-1.3l-1.7 1.9l1.3-0.3l3.2-1.7l0.7 0.1l0.9-0l-4.8 4.2l0.8 0.1l0.1 0.7l3.5-2l-0.5 1l-1 1.4l1.8-0.7l-2.6 2.7l2.1-0.9l1.2-0.3l-2.4 2.5l6-3.9l-5.7 5l5.8-3.7l-4.9 4.4l0.2 0.5l1.6-0.6l3.2-1.8l0.8 0.1l-2.1 2.3l-0.8 1.3l1.5-0.5l-1.8 2.1l0.9-0l0 0.6l6.8-4.7l-6.1 5.5l0.2 0.5l1.4-0.3l6.8-4.7l-5.4 4.9l2-1l-3.1 3.2l5.8-3.9l-5.2 4.8l1.6-0.6l2.4-1.2l-2.8 2.9l0.6 0.2l6.2-4.3l-3.1 3.2l-2.3 2.5l-0.1 0.8l0.9-0.1l0.8 0.1l2.9-1.7l2.3-1.2l-4.4 4.3l1.2-0.3l-0.7 1.3l3.3-2.1l-3.1 3.3l0.7 0.1l1.5-0.5l-0.5 1.1l1.1-0.2l0.2 0.5l-0.9 1.4l2-1l1.5-0.5l-1 1.6l0.6 0.1l-0.4 1l2.4-1.2l-2.2 2.5l0.4 0.4l0 0.6l1-0.1l5.1-3.6l-3.3 3.5l-0.5 1.1l1.3-0.4l0.5 0.2l-1.3 1.9l2.8-1.7l-1.6 2.1l4.1-2.8l-3.5 3.7l2.1-1.2l-0.7 1.4l2.4-1.4l0.2 0.5l-0.3 1l-1.4 1.9l0.2 0.6l5.1-3.7l0.7-0l-1.8 2.3l-2.7 3l2.2-1.1l1.2-0.4l-0.1 0.8l-0.4 1.1l-1.6 2.1l2.8-1.8l4.5-3.3l-4 4.3l-1.1 1.7l-0.2 0.9l1.7-0.8l2.6-1.6l-1 1.6l-0.3 1l0.1 0.6l0.6 0.2l-0.8 1.5l5.1-3.9l-2.2 2.7l0.6 0.1l-1.9 2.5l0.4 0.4l2.5-1.6l-0.2 0.9l-0.4 1.1l3.9-2.8l-1 1.6l-2.3 2.8l5.2-4l-4.3 4.7l2-1.1l-2.1 2.6l2.3-1.4l-0.4 1.1l4.1-3.1l-4.5 4.9l1.5-0.6l-0.6 1.2l3.9-2.8l-3 3.5l1.3-0.5l1.2-0.4l0.5 0.2l0.1 0.7l3.3-2.4l-3.6 4.1l0.2 0.6l1.7-0.8l-0.6 1.2l0.1 0.6l3.3-2.3l-2.6 3.2l-0 0.8l2.1-1.3l2.3-1.5l-1.2 1.9l-0.6 1.4l0.9-0.2l1.3-0.5l-1.1 1.8l0.7 0.1l0.3 0.4l2.3-1.5l-1 1.7l-1.4 2.1l2.9-2l-0.4 1.1l2.6-1.8l-0.3 1l-2.7 3.5l1.8-1.1l-0.3 1l1.8-1l2.2-1.4l-2.1 2.9l0.6 0.1l-1.7 2.4l2.7-1.9l-0.8 1.6l-0.3 1l1.9-1.1l-0.1 0.8l-0.5 1.3l1.9-1.2l-0.5 1.3l0.2 0.6l3.2-2.5l-0.9 1.7l0 0.7l-1.2 2.1l0.4 0.3l0.9-0.1l0.2 0.5l0.4 0.3l2.8-2.1l-2.4 3.2l1.5-0.6l1.1-0.5l-0.2 1l-0 0.8l0.9-0.2l-1 1.8l0.9-0.1l5.4-4.9l-3.6 4.5l-0.7 1.6l2.3-1.7l1.5-0.8l-3 3.9l0.3 0.5l4.3-3.7l-2.2 3.1l-0.6 1.4l3.2-2.7l-2.8 3.8l3.1-2.5l-0.9 1.8l-0.6 1.4l0.5 0.2l1.2-0.4l1.7-1.2l-1.3 2.3l0.4 0.3l0.3 0.5l-0.1 0.9l0.9-0.2l0.9-0.2l-0.7 1.6l1.5-0.9l-0.8 1.7l1.8-1.1l0 0.7l1.8-1.1l0.4 0.3l-1.3 2.3l0.4 0.3l0.8-0.1l-0.5 1.3l0.9-0.2l0.7 0.1l0.4 0.4l2.5-2l-0.8 1.7l-0.3 1.2l-0.5 1.3l1.8-1.2l0.3 0.5l-0.6 1.4l0.2 0.6l1.1-0.5l-0.2 1.1l1.7-1.1l-0.8 1.8l5.4-5.5l-3.8 5.2l-0.4 1.3l0.3 0.4l1.8-1.1l0.5 0.2l0.3 0.5l-0.5 1.4l2.2-1.7l0.1 0.6l-1.1 2.1l1.6-1l0.9-0.3l-1.7 2.9l1.6-1.1l0.3 0.5l-0.6 1.6l1.3-0.8l1.4-0.8l-1.2 2.3l1.2-0.6l0.1 0.7l-0.2 1l0.5 0.4l2.1-1.8l-0.7 1.7l2.3-1.9l-1.9 3.2l2.7-2.5l-0.4 1.3l-0 0.9l-0.2 1l1.4-0.8l-0 0.9l0.8-0.2l-1 2.1l1.2-0.6l1.2-0.7l-1.1 2.3l0.5 0.2l1.2-0.7l0 0.9l0.8-0.1l1.7-1.2l-1.7 2.9l0.6 0.1l1-0.3l0.1 0.7l0.6 0l0.3 0.5l1.6-1.1l0.3 0.5l-0.1 1l0.9-0.2l-0.4 1.3l0.2 0.6l0.7 0l0.1 0.8l0.8-0.1l1.1-0.6l-0.2 1.1l0.5 0.3l-0.4 1.3l0.7 0l0.5 0.2l0.6 0.2l0.9-0.3l1.2-0.7l-0.8 1.9l0.1 0.8l0.3 0.4l0.6 0.2l0.7-0.1l1.6-1.1l0.7-0.2l0.3 0.6l1.2-0.7l-1.5 2.8l1.7-1.3l0.5 0.2l-1.4 2.8l1.2-0.7l-0.3 1.3l0.7-0l1.3-0.9l-0 0.9l0.3 0.5l0.6 0.2l1.4-1l0.2 0.6l-0.6 1.7l1.1-0.6l0.3 0.5l-0.2 1.2l0.5 0.1l0.8-0.1l0.3 0.5l0.7-0l-0.3 1.3l0.6 0.2l1.7-1.5l-0.5 1.6l0.2 0.6l0.9-0.3l-0 0.9l0.9-0.3l0.3 0.5l0 0.9l2.1-1.9l-1.2 2.5l0.5 0.3l0.4 0.3l0.5 0.3l1.3-0.9l0.8-0.3l-0.5 1.6l0.2 0.8l0.7-0.2l0.6 0.2l1-0.5l-0.5 1.7l1-0.5l0.5 0.2l-0 1l0.5 0.2l2.9-3.3l-2 3.8l1-0.4l-0.1 1l0.9-0.3l0.8-0.3l-0.3 1.5l0.8-0.3l0.5 0.3l0.6 0.1l0.6 0l-0.3 1.5l0.9-0.4l1.3-1l-0.8 2.1l0.3 0.6l1.6-1.3l-0.6 1.7l1.1-0.6l1.4-1.2l-1 2.6l0.8-0.4l0.6 0.2l0 0.9l0.9-0.4l0.5 0.3l1.4-1.2l0.1 0.9l0 0.9l-0.3 1.5l0.7-0.1l0.9-0.4l0.8-0.2l-0.2 1.3l1.8-1.8l-1.3 3l1-0.6l-0.1 1.2l1.1-0.7l0 0.9l0.8-0.1l0.2 0.7l0.4 0.3l0.3 0.5l0.8-0.3l0.3 0.6l1.2-0.8l0.4 0.3l-0.3 1.5l0.5 0.3l1.1-0.8l0.1 0.8l0.3 0.6l0.4 0.3l0.3 0.6l0.5 0.3l0.5 0.1l1.5-1.3l-0.4 1.7l0.9-0.5l0.2 0.7l0.8-0.2l0.6-0l0.3 0.5l0.9-0.5l-0.4 1.7l0.5 0.3l0.7-0.1l0.9-0.5l-0.1 1.2l0.6 0.1l1-0.6l1.2-1l-0.6 2.1l-0 1.1l0.4 0.4l1.1-0.8l-0 1l2-2.4l-1.1 3.1l0.2 0.6l1-0.6l0.6-0l0 1l0.6 0.1l1.7-1.7l2-2.4l-2.1 4.6l0.3 0.6l0.6 0.1l1-0.7l0.1 0.9l0 1l1.7-1.7l0.4 0.4l-0.7 2.3l0.8-0.4l0.2 0.7l1.2-1l1.5-1.4l0.3 0.5l-0.8 2.5l0.1 0.8l2-2.4l-0.7 2.3l0.5 0.3l0.5 0.2l0.4 0.4l0.5 0.3l1-0.7l0.5 0.1l-0.4 1.8l1.7-1.9l-0.4 1.8l1-0.7l-0.2 1.5l0.7-0.1l0.4 0.4l0.2 0.8l0.7-0.3l1.7-1.9l0.2 0.8l-0.5 2l2.1-2.7l-0.8 2.6l0.8-0.2l0.4 0.4l-0.2 1.3l0.6 0.1l0.6 0.1l0.5 0.2l1-0.7l-0.3 1.7l1.2-1.2l1.1-0.9l-0.4 1.9l0.2 0.8l0.6-0l0.2 0.8l1.6-1.8l1-0.9l-1 3.1l0.6 0.1l0.3 0.6l0.9-0.6l0.8-0.4l0.2 0.9l-0 1.2l0.5 0.2l0.7-0.2l1-0.8l1.8-2.3l-0.8 2.7l0.6 0l0.1 1.1l0.1 1L462.6 1257.4A626 605.1 0 0 0 472.9 1262.2l1.7-2.2l-0 1.2l0.2 0.9l0.7-0.3l1.2-1.2l-0.4 2.1l0.8-0.6l1-0.7l-0.6 2.5l0.4 0.4l0.5 0.2l0.7-0.1l1.4-1.8l-0.1 1.5l0.2 0.9l0.2 0.7l0.8-0.2l0.6-0.2l0.5 0.3l0.3 0.7L483.4 1266.8A626 605.1 0 0 0 486.9 1268.3l2.4-4.1l-1.4 4.5l0.9-0.8l0.6 0.1l2-3.1l-1.1 3.8l1.2-1.4l-0.4 2.4l0.4 0.3l0.5 0.2l1.1-1.2l0.3 0.8L493.4 1271A626 605.1 0 0 0 497.9 1272.8l1.4-1.8l0.2 0.9l1.1-1.3l-0.3 2l0.3 0.7l0.7-0.1l0.7-0.3l0.4 0.3l0.3 0.9l0.6-0.1l0.2 1l0.7-0.3L504.5 1275.4A626 605.1 0 0 0 513.1 1278.7l0.6 0l0.8-0.6l0.4 0.5l0.4 0.5l0.6-0.1l0.5 0.3l1.4-2.1l-0.5 2.7l0.7-0.3l0.2 1l0.6-0.2l0.9-0.8l0 1.5l0.7-0.1L520.8 1281.5A626 605.1 0 0 0 532.6 1285.6l0.8-0.5l0.7-0.5l0.7-0.3l0.2 1.1l0.4 0.6l0.4 0.5l0.7-0.4l0.7-0.3l1.5-2.7l0.6-0.2L538.3 1287.5A626 605.1 0 0 0 550.3 1291.3l0.6-0.2l1.2-1.7l-0 1.7l0.6-0l0.6-0.2l1.7-3.4l-0.8 4l1.1-1.7l0 1.9l0.7-0.2L556 1293A626 605.1 0 0 0 573.3 1297.8l0.6-0.2l0.9-1.1l0.8-0.9l0.5 0.3l0.4 0.5l0.3 1.2l0.3 0.8L577.6 1298.9A626 605.1 0 0 0 597.7 1303.7l0.9-1.3l0.4 0.7l0.7-0.6l0.4 0.4l0.3 1l0.5 0.3L601.4 1304.5A626 605.1 0 0 0 623.4 1308.9l1.2-3.2l0.2 1.6l0.3 1.4l0.9-1.7l0.5 0.3l0.3 1.5L627.1 1309.5A626 605.1 0 0 0 654.7 1313.7l0.9-2.2l0.2 2.2l0.9-2.8l0.2 2.5L657.4 1314.1A626 605.1 0 0 0 662.8 1314.7l1.4-6.9L663.9 1314.8A626 605.1 0 0 0 689.4 1317.3l0.6-0.7l0.6-0.3L691.1 1317.4A626 605.1 0 0 0 718.9 1318.8l0.6-3l0.5 2.1l0.5 0.6l0.6-1.2l0.6 0.3l0.5 0.2l0.5 0.6l0.6-0.4l0.5-0.1l0.6 0.9l0.6-3.1l0.5 2l0.5-0.2l0.6 1.1L727.1 1319A626 605.1 0 0 0 800.2 1316.1l0.4-1.1l0.6 0.6l0.5-0.9l0.4-1.5l0.7 1.2l0.3-2l0.9 3.1L804.5 1315.7A626 605.1 0 0 0 841.9 1310.7l0.5-0.3l0.5-0.6l0.4-0.6l0.4-1l0.5 0.1l0.3-1.5l1 2.6l0.6 0.2L846.7 1309.9A626 605.1 0 0 0 861.7 1307.2l-1.1-8L862.8 1307A626 605.1 0 0 0 897.4 1299.2l0-2l0.4-0.7l1.1 2.1l0.1-1.7l0.6 0.1l0.4-0.5l0.7 0.4l0.5-0.2L902.1 1297.9A626 605.1 0 0 0 952.6 1282.4l-2.5-8.2l3.5 7.8l0.5-0.1l0.6-0.2l-0.8-3.6l1.3 2l0.5-0.3l0.6 0.1l-0.6-3l1.9 3.3l0.4-0.3l0.7 0.3l-1.1-4.4l2.1 3.9l-0-1.6l0.6 0.2l0.7 0.3l0.5-0.2L962.4 1278.9A626 605.1 0 0 0 1014.9 1256.7l0.1-1l0.4-0.4l-0-1.2l0.4-0.4l0.7 0.2l-0.4-2l2 2.7l0.5-0.1l0.1-1l0.8 0.2L1020.3 1254.1A626 605.1 0 0 0 1034.8 1246.8l-4.5-9.2L1035.8 1246.3A626 605.1 0 0 0 1066.5 1229.1l-1.2-2.9l1.5 1.4l0.8 0.2l-0-1l0.4-0.3l0.2-0.7l-1-2.6l2.1 2.3l-0.8-2.2l1.5 1.2l1.4 1.2l-0.1-1.2l0.8 0.4l-1.3-3L1073.4 1224.9A626 605.1 0 0 0 1077.6 1222.3l-4-6.9L1078.5 1221.8A626 605.1 0 0 0 1110.8 1200.1l-1.1-2.3L1111.7 1199.5A626 605.1 0 0 0 1131.6 1184.6l-0.4-1.3l1.1 0.5l-0-0.9l0.4-0.3l-0.6-1.6l1.3 0.8l-0-0.9l1.4 0.8l-0.3-1.2l0.5-0.2l0.3-0.5l0.9 0.2l-0-0.8l0.6-0.1l0.8 0.1l-2.4-3.7l3.1 2.9l-0.4-1.3l1.5 0.9l0.3-0.5l-0.7-1.6l1.5 0.9L1141.2 1176.9A626 605.1 0 0 0 1209 1112.6l-3.8-3.9l4.5 3.1l0.4-0.4l-1.3-1.8l0.9 0.1l0.9 0l-2.3-2.6l0.9 0.1l2.9 1.7l-2-2.4l1.9 0.9l-1.2-1.7l2.6 1.5l-1.7-2.1l0.5-0.2l2.4 1.2l0.3-0.4l-1.2-1.7l1.5 0.5l0.1-0.6l0.2-0.5l0.8-0.1l0.7-0l0.1-0.7l-3.2-3.2l2.8 1.5l0.5-0.3l1.2 0.3l-3.1-3.2l3.3 2l1 0.1l0.4-0.3l-0.2-0.9l0.5-0.3l-0.6-1.2l1 0.2l1.2 0.3l-1.4-1.8l1 0.1l0.3-0.5l0.9 0.1l-0.1-0.8l0.8-0l-1.7-2l2 0.8l1.3 0.4l-1.5-1.9l0.9 0.1l1.7 0.6l-1.9-2.1l1.2 0.2l0.8-0l0.9-0l0.1-0.6l0-0.7l0.5-0.3l0.2-0.5l1.2 0.2l-2.1-2.3l1.9 0.9l1.4 0.3l-0.4-1l0.8-0l0.3-0.5l0.2-0.5l-1.6-1.8l1.4 0.3l1.2 0.3l-0.3-0.9l0.5-0.3l-0.4-1l0.3-0.4l1.7 0.6l-1.9-2.1l2.3 1l0.9 0.1l-0.1-0.8l0.3-0.4l0.6-0.2l0.5-0.3l-0.2-0.9l-1-1.4l1.9 0.8l-1.1-1.5l1.9 0.8l-1-1.4l0.6-0.2l1.3 0.2l0.1-0.5l0.5-0.4l0.2-0.5l0.5-0.3l-0.8-1.2l0.5-0.3l1.5 0.4l0.1-0.6l-0.3-0.9l-1.6-1.8l1.9 0.8l0.9-0l0.1-0.7l1.2 0.2l-0.3-0.8l-1.6-1.8l2.7 1.3l0.2-0.6l0.3-0.4l-1.2-1.5l0.6-0.2l-0.9-1.3l1.6 0.5l0.1-0.6l1.9 0.6l-2.1-2.1l1 0.1l0.2-0.5l1.7 0.5l0.4-0.3l-0.6-1.1l-0.1-0.7l1.2 0.2l-2.2-2.2l3.6 1.8l0-0.6l0.2-0.5l0.6-0.3l-1.8-1.8l-0.6-1.1l1.2 0.2l2.8 1.2l-2.3-2.2l-1.1-1.3l3.8 1.9l0.2-0.5l-0-0.7l0.9-0l0.3-0.4l-1.7-1.8l1.6 0.4l0.1-0.6l0.6-0.2l1-0l0.3-0.5l-1.1-1.3l-0.3-0.8l0.9-0.1l1.7 0.5l-0.6-1.1l1.3 0.3l-0.7-1.1l0.4-0.4l0.6-0.2l-0.6-1l1.1 0l-1.9-1.8l2.8 1.1l0.1-0.5l0.8-0.2l-1.1-1.3l0.9-0l0.6-0.3l0.5-0.3l-0-0.7l-1.3-1.4l1.6 0.4l1.3 0.2l-0.9-1.2l0.4-0.4l1-0l0.9-0.1l-1-1.2l0.5-0.3l-1.4-1.5l2 0.6l1.2 0.1l0.4-0.3l-1.4-1.5l1.7 0.4l0.3-0.5l0.5-0.3l0.2-0.5l0-0.6l0.3-0.5l-0.6-1l0.1-0.5l1.4 0.2l-1.3-1.4l1.7 0.4l-1.4-1.5l2.4 0.9l0-0.6l0.3-0.5l0.3-0.4l-2.4-2.1l0.7-0.1l2.5 0.8l-1.1-1.3l2 0.6l-1.1-1.3l-1-1.2l1.7 0.4l0.8-0.2l0.4-0.3l0.9-0.1l-1.3-1.4l-0.8-1.1l2 0.6l1.2 0.1l-1.1-1.3l1.2 0.1l0.6-0.3l-0.5-0.9l0.3-0.4l-0.2-0.8l-0.1-0.6l0.8-0.2l1.2 0.1l-1-1.2l0.8-0.2l-0.7-1l2.2 0.7l0.6-0.3l-0.6-0.9l-1.3-1.4l1.7 0.4l-0.8-1.1l0.9-0.1l-0.5-0.9l0.6-0.3l-0.4-0.8l-2.5-2l4.5 1.9l0.7-0.2l0.1-0.5l-0-0.7l1-0l-0-0.6l-0.4-0.8l-0.4-0.9l-0.3-0.8l2.2 0.6l-0.3-0.7l1-0.1l-0.4-0.8l0.6-0.3l0.5-0.3l0.1-0.5l1-0.2l-1.4-1.3l0.9-0.1l1.1-0l-0.9-1.1l1.1-0l-0.4-0.8l-0.1-0.7l0.6-0.3l0.4-0.3l0.6-0.3l0.6-0.3l-0.9-1.1l1.4 0.1l-1.8-1.5l0.4-0.4l-0.8-1l1.8 0.3l-2.7-2l4.5 1.8l-1.1-1.2l1.1-0l0.9-0.2l0.6-0.3l-0.1-0.6l-1.2-1.2l-0.2-0.7l1.2 0l1.1-0.1l0.1-0.5l0.5-0.3l-1.2-1.2l1.7 0.3l-0-0.7l-0.5-0.8l0.1-0.5l0.1-0.6l0.6-0.3l1.2 0l0.4-0.4l-0.2-0.7l-0.3-0.7l0.9-0.1l-2-1.6l-0.9-1.1l3.5 1.2l0.6-0.3l-1.8-1.5l1.1-0l-0.1-0.7l1.4 0.1l0.8-0.2l-0.5-0.8l-0-0.6l1.2-0l-0.1-0.7l-1.1-1.1l1.6 0.2l0.1-0.6l-0.6-0.8l-0.1-0.7l0.4-0.4l1.5 0.2l-0.6-0.9l-0.2-0.7l0.4-0.4l0-0.5l-0.7-1l1.4 0.1l1.5 0.1l-0.1-0.6l-0.1-0.6l-0.2-0.7l1-0.1l-0.9-1l-0.1-0.7l1.2-0l-0.2-0.7l-1.7-1.3l3.3 0.9l-0.3-0.7l-0.3-0.7l-0.6-0.9l1.6 0.1l-3-1.9l4.1 1.3l-0.7-1l-0.5-0.7l-0.1-0.7l-0.1-0.6l1.7 0.2l0.6-0.3l-0.6-0.9l-2-1.4l3.6 1l0-0.6l0.3-0.5l0-0.5l-3-1.9l4 1.1l-1.7-1.3l-1.5-1.2l3.2 0.8l0.8-0.2l-0.9-1l-0.1-0.6l1-0.1l-3.3-2l4.1 1.1l-0.5-0.7l0.4-0.5l0.7-0.2l-2.3-1.6l1.4 0l-0.5-0.7l1.6 0.1l0.9-0.3l-2.3-1.5l3.3 0.8l-0.2-0.6l-3.3-2l3.4 0.8l0.7-0.2l-1-1l0.6-0.3l1.1-0.2l0.3-0.4l0.1-0.6l-0.3-0.7l0.7-0.2l-0.3-0.7l0.5-0.4l-1.5-1.2l-0.6-0.8l1.9 0.2l1.4-0l-1-1l-0.3-0.7l-1-0.9l3 0.6l-1.9-1.3l-0.7-0.8l2 0.1l0.2-0.5l1.4 0l-1.4-1.1l1.2-0.1l-1.5-1.1l0.6-0.4l0.7-0.3l1-0.1l0.2-0.5l0.8-0.3l0.3-0.4l-1.7-1.2l1.8 0l-1-0.9l-0.9-0.9l0.9-0.2l1.6 0l0-0.6l-1.2-1l0.7-0.3l0.9-0.2l0.9-0.2l-1.5-1.2l1.7 0.1l-0.2-0.6l-0.8-0.9l1.8 0.1l-0.7-0.8l0.5-0.4l-0.7-0.8l-1.2-1l-1.2-1l4.4 1l-2.1-1.3l1.9 0.1l-2.2-1.3l2.8 0.4l-2.4-1.4l2.4 0.3l0.4-0.4l0.3-0.5l-1.4-1l-1.2-1l1.4-0.1l0.9-0.2l0.7-0.3l0-0.6l0.2-0.5l0.3-0.4l0.2-0.5l1.1-0.2l-0.7-0.8l-1.1-0.9l2.3 0.2l-0.5-0.8l-0.4-0.6l0.2-0.5l0.5-0.4l-1-0.9l1.7 0l-2.1-1.2l1.6-0.1l0.4-0.4l0.7-0.4l-0-0.5l1-0.2l-2.6-1.4l3.1 0.4l-2.3-1.3l-4-1.8l6.1 1.4l0.7-0.3l-3.1-1.6l2.1 0.1l1-0.2l-0.5-0.7l-0.7-0.8l-0.4-0.7l2.1 0.1l-0.9-0.8l0.7-0.3l0.2-0.5l1.6-0.1l-0.4-0.7l-0.4-0.6l0.5-0.4l-0.5-0.8l1.4-0.1l-0.2-0.6l0.5-0.4l-1.1-0.9l-0.7-0.7l1.8-0.1l-1.6-1l0.8-0.3l0.9-0.3l-0.4-0.6l1.4-0.2l-0.4-0.6l-2.3-1.3l2.1 0.1l0.4-0.5l0.5-0.4l-0.4-0.6l0.3-0.5l1.2-0.2l-3.7-1.6l3.2 0.4l0.7-0.4l-0.2-0.6l0.5-0.4l-0.4-0.7l1-0.2l-1.1-0.9l-1.3-0.9l2.7 0.2l-2.2-1.1l2-0.1l-0.4-0.6l-3.1-1.4l3.7 0.5l-2-1.1l2.7 0.1l-0.6-0.6l0.7-0.4l0.1-0.5l-2.7-1.3l-0.4-0.6l1.1-0.3l2.4 0.1l0.7-0.4l0.1-0.5l-3.7-1.5l2.6 0.1l1.4-0.2l0.3-0.4l-2-1.1l2.1 0l-2-1l1.4-0.2l0.7-0.4l0.1-0.5l-2.4-1.2l3.8 0.4l-1.7-0.9l0.1-0.5l0.9-0.4l0.5-0.4l-1.1-0.8l1.5-0.2l-2.2-1l1.1-0.3l1.5-0.2l0.5-0.4l-1.8-1l-0.3-0.6l2.3-0l-0-0.6l-2.8-1.2l3.4 0.3l-2-1l0.8-0.4l1.1-0.3l-0.3-0.6l-0.8-0.7l1.8-0.1l0.5-0.5l-2.4-1l2.5-0l-0.3-0.6l-2.4-1.1l0.9-0.4l-2.1-1l2.8 0.1l-2.7-1.1l4.4 0.4l-0-0.5l-0.8-0.7l0.7-0.4l-1.2-0.8l1.9-0.1l0.2-0.6l-5.9-1.8l6.3 0.9l-1.7-0.9l1.7-0.2l0.5-0.5l-2.6-1l1.9-0.2l0.7-0.4l0.1-0.5l-1.5-0.8l1.7-0.2l-0.4-0.7l-0.1-0.5l0.9-0.4l-0.3-0.6l0.5-0.4l-3.5-1.3l3.5 0.2l0.5-0.4l-1.9-0.9l-2.2-1l2.8 0l1.8-0.2l-3.2-1.1l1-0.4l-2.4-1l1.9-0.2l1.7-0.2l0.9-0.3l-4.1-1.3l1-0.4l2.8 0l0.3-0.5l-2.2-0.9l3-0l-1.4-0.8l1.9-0.2l-0.6-0.6l-0.4-0.6l1.4-0.3l-2.1-0.9l-2.5-1l-0.6-0.7l2.6-0l0.1-0.5l0.1-0.6l-0.4-0.6l2.3-0.1l0.4-0.5l-2.8-1l3.7 0.1l-0.8-0.6l0.9-0.4l-1.6-0.8l1.4-0.3l-2.1-0.9l1.7-0.3l-0.1-0.5l0.7-0.5l-0.1-0.5l1-0.4l-1-0.7l-0.3-0.5l1.2-0.4l1-0.4l-1.6-0.7l1.6-0.3l-2.3-0.9l-1-0.7l3.4-0l0.2-0.5l-0.4-0.6l-0.5-0.6l0.4-0.5l-0.8-0.7l0.6-0.4l-0.4-0.6l-2.1-0.8l3-0.1l-1.4-0.8l-4-1.1l3.6 0l1.6-0.3l0.8-0.4l0.6-0.5l-0.1-0.5l-2.9-0.9l3-0.1l0.5-0.5l-3.4-1l2.8-0.2l-5.4-1.2l4.6 0.1l0.1-0.6l0.6-0.4l-0.2-0.6l-3.1-0.9l0.3-0.5l3.2-0.1l0-0.5l-2.1-0.8l1-0.4l1.9-0.3l-0.9-0.7l-1.2-0.7l2.7-0.2l-1.4-0.7l-2-0.7l3-0.2l-3.2-0.9l-3.6-1l7 0.3l-0.3-0.5l1.4-0.4l-0.1-0.5l-0.2-0.6l-2.7-0.8l0.8-0.5l-1.4-0.7l3-0.1l0.3-0.6l-0.1-0.5l-0.9-0.6l-3.2-0.9l-1.5-0.7l3.6-0.1l-1.6-0.7l4.1-0.1l0.6-0.5l-1.6-0.7l-3.2-0.8l4.8-0.1l-0.8-0.6l-0.7-0.6l0.8-0.4l0.4-0.5l-2.5-0.8l1.7-0.4l-1.6-0.7l1.5-0.3l1-0.5l-2.7-0.8l3.9-0.1l-0.5-0.6l0.8-0.5l-4.4-0.9l3.4-0.2l0-0.5l-4.7-1l3.3-0.2l-4-0.9l3-0.2l0.4-0.5l2.5-0.4l-4.8-0.9l1.2-0.4l1.1-0.4l3.2-0.3l0.1-0.5l-2.9-0.8l2.6-0.3l-0.2-0.6l-3.1-0.7l0.8-0.5l2.8-0.3l0.1-0.5l0-0.6l0.1-0.5l0.4-0.5l0.2-0.5l-0.9-0.6l0.6-0.5l-0.9-0.6l-0.9-0.6l0.1-0.5l-4.1-0.8l4.3-0.2l0.1-0.6l1.1-0.4l0.6-0.5l-6.3-0.9l2.5-0.4l0.8-0.5l0.7-0.4l1.3-0.5l-3.8-0.7l5.4-0.3l-2.4-0.6l-1.2-0.6l-0.8-0.6l1.7-0.4l1.2-0.5l-1.5-0.6l3-0.4l0-0.5l-0.1-0.5l-2-0.7l2.4-0.4l-4.6-0.7l1.3-0.5l-1.2-0.6l4.2-0.3l0.1-0.5l0.3-0.5l-1-0.6l-0.6-0.6l0.8-0.5l-0.2-0.5l-1.4-0.6l-2.4-0.6l1.1-0.5l2.3-0.4l0.3-0.5l-0.1-0.6l-3.3-0.6l3.1-0.4l1.7-0.5l0-0.5l-0.3-0.6l-1.5-0.5l1.3-0.5l-2.7-0.6l2.6-0.5l-0.8-0.5l1.2-0.5l-1.3-0.6l1.5-0.5l-1.5-0.5l1.3-0.5l-1.5-0.6l-1.6-0.5l2.2-0.5l-3.3-0.6l3.7-0.5l-5.2-0.6l3.5-0.5l2.3-0.5l-1.5-0.5l1.5-0.5l-2.4-0.6l1.3-0.5l-1.7-0.5l-0.9-0.6l2.4-0.5l-4.1-0.5l2.8-0.5l1.9-0.5l-2.2-0.6l-3-0.5l4.8-0.5l1.3-0.5l0-0.6L1345.5 714A607.5 587.2 0 1 1 738 126.8Z" fill="#326e5a"/>
<path d="M738 136A598 578 0 1 0 1336 714L1316.8 714A578.8 559.4 0 1 1 738 154.6Z" fill="#e6dedd"/>
<path d="M148.6 811.4A598 578 0 0 0 179.3 920.2L197.3 913.6A578.8 559.4 0 0 1 167.5 808.3Z" fill="#561312"/>
<g shape-rendering="geometricPrecision"><rect x="813.00" y="83.00" width="19.3" height="18.5" fill="#ff0000"/><rect x="833.67" y="83.00" width="19.3" height="18.5" fill="#fe1818"/><rect x="854.34" y="83.00" width="19.3" height="18.5" fill="#fe1818"/><rect x="875.01" y="83.00" width="19.3" height="18.5" fill="#fa4848"/><rect x="895.68" y="83.00" width="19.3" height="18.5" fill="#fa4848"/><rect x="916.35" y="83.00" width="19.3" height="18.5" fill="#fa4848"/><rect x="937.02" y="83.00" width="19.3" height="18.5" fill="#fa4848"/><rect x="957.69" y="83.00" width="19.3" height="18.5" fill="#fa4848"/><rect x="978.36" y="83.00" width="19.3" height="18.5" fill="#fa4848"/><rect x="999.03" y="83.00" width="19.3" height="18.5" fill="#f1e8e8"/><rect x="1019.70" y="83.00" width="19.3" height="18.5" fill="#f1e8e8"/><rect x="1040.37" y="83.00" width="19.3" height="18.5" fill="#f1e8e8"/><rect x="1061.04" y="83.00" width="19.3" height="18.5" fill="#f1e8e8"/><rect x="1081.71" y="83.00" width="19.3" height="18.5" fill="#f0f0f0"/><rect x="1102.38" y="83.00" width="19.3" height="18.5" fill="#f0ebeb"/><rect x="1123.05" y="83.00" width="19.3" height="18.5" fill="#f0ebeb"/><rect x="1143.72" y="83.00" width="19.3" height="18.5" fill="#f0ebeb"/><rect x="1164.39" y="83.00" width="19.3" height="18.5" fill="#f0ebeb"/><rect x="1185.06" y="83.00" width="19.3" height="18.5" fill="#f0ebeb"/><rect x="1205.73" y="83.00" width="19.3" height="18.5" fill="#f0ebeb"/><rect x="1226.40" y="83.00" width="19.3" height="18.5" fill="#f0ebeb"/><rect x="1247.07" y="83.00" width="19.3" height="18.5" fill="#f0ebeb"/><rect x="1267.74" y="83.00" width="19.3" height="18.5" fill="#f0ebeb"/><rect x="1288.41" y="83.00" width="19.3" height="18.5" fill="#f0ebeb"/><rect x="813.00" y="102.97" width="19.3" height="18.5" fill="#fe1818"/><rect x="833.67" y="102.97" width="19.3" height="18.5" fill="#ff0000"/><rect x="854.34" y="102.97" width="19.3" height="18.5" fill="#fe1818"/><rect x="875.01" y="102.97" width="19.3" height="18.5" fill="#fa4848"/><rect x="895.68" y="102.97" width="19.3" height="18.5" fill="#fa4848"/><rect x="916.35" y="102.97" width="19.3" height="18.5" fill="#fa4848"/><rect x="937.02" y="102.97" width="19.3" height="18.5" fill="#fa4848"/><rect x="957.69" y="102.97" width="19.3" height="18.5" fill="#fa4848"/><rect x="978.36" y="102.97" width="19.3" height="18.5" fill="#fa4848"/><rect x="999.03" y="102.97" width="19.3" height="18.5" fill="#f1dede"/><rect x="1019.70" y="102.97" width="19.3" height="18.5" fill="#f1dede"/><rect x="1040.37" y="102.97" width="19.3" height="18.5" fill="#f1dede"/><rect x="1061.04" y="102.97" width="19.3" height="18.5" fill="#f1dede"/><rect x="1081.71" y="102.97" width="19.3" height="18.5" fill="#f1e6e6"/><rect x="1102.38" y="102.97" width="19.3" height="18.5" fill="#f1e2e2"/><rect x="1123.05" y="102.97" width="19.3" height="18.5" fill="#f1e2e2"/><rect x="1143.72" y="102.97" width="19.3" height="18.5" fill="#f1e2e2"/><rect x="1164.39" y="102.97" width="19.3" height="18.5" fill="#f1e2e2"/><rect x="1185.06" y="102.97" width="19.3" height="18.5" fill="#f1e2e2"/><rect x="1205.73" y="102.97" width="19.3" height="18.5" fill="#f1e2e2"/><rect x="1226.40" y="102.97" width="19.3" height="18.5" fill="#f1e2e2"/><rect x="1247.07" y="102.97" width="19.3" height="18.5" fill="#f1e2e2"/><rect x="1267.74" y="102.97" width="19.3" height="18.5" fill="#f1e2e2"/><rect x="1288.41" y="102.97" width="19.3" height="18.5" fill="#f1e2e2"/><rect x="813.00" y="122.94" width="19.3" height="18.5" fill="#fe1818"/><rect x="833.67" y="122.94" width="19.3" height="18.5" fill="#fe1818"/><rect x="854.34" y="122.94" width="19.3" height="18.5" fill="#ff0000"/><rect x="875.01" y="122.94" width="19.3" height="18.5" fill="#fa4848"/><rect x="895.68" y="122.94" width="19.3" height="18.5" fill="#fa4848"/><rect x="916.35" y="122.94" width="19.3" height="18.5" fill="#fa4848"/><rect x="937.02" y="122.94" width="19.3" height="18.5" fill="#fa4848"/><rect x="957.69" y="122.94" width="19.3" height="18.5" fill="#fa4848"/><rect x="978.36" y="122.94" width="19.3" height="18.5" fill="#fa4848"/><rect x="999.03" y="122.94" width="19.3" height="18.5" fill="#f1dcdc"/><rect x="1019.70" y="122.94" width="19.3" height="18.5" fill="#f1dcdc"/><rect x="1040.37" y="122.94" width="19.3" height="18.5" fill="#f1dcdc"/><rect x="1061.04" y="122.94" width="19.3" height="18.5" fill="#f1dcdc"/><rect x="1081.71" y="122.94" width="19.3" height="18.5" fill="#f1e4e4"/><rect x="1102.38" y="122.94" width="19.3" height="18.5" fill="#f1dfdf"/><rect x="1123.05" y="122.94" width="19.3" height="18.5" fill="#f1dfdf"/><rect x="1143.72" y="122.94" width="19.3" height="18.5" fill="#f1dfdf"/><rect x="1164.39" y="122.94" width="19.3" height="18.5" fill="#f1dfdf"/><rect x="1185.06" y="122.94" width="19.3" height="18.5" fill="#f1dfdf"/><rect x="1205.73" y="122.94" width="19.3" height="18.5" fill="#f1dfdf"/><rect x="1226.40" y="122.94" width="19.3" height="18.5" fill="#f1dfdf"/><rect x="1247.07" y="122.94" width="19.3" height="18.5" fill="#f1dfdf"/><rect x="1267.74" y="122.94" width="19.3" height="18.5" fill="#f1dfdf"/><rect x="1288.41" y="122.94" width="19.3" height="18.5" fill="#f1dfdf"/><rect x="813.00" y="142.91" width="19.3" height="18.5" fill="#fa4848"/><rect x="833.67" y="142.91" width="19.3" height="18.5" fill="#fa4848"/><rect x="854.34" y="142.91" width="19.3" height="18.5" fill="#fa4848"/><rect x="875.01" y="142.91" width="19.3" height="18.5" fill="#ff0000"/><rect x="895.68" y="142.91" width="19.3" height="18.5" fill="#fa4848"/><rect x="916.35" y="142.91" width="19.3" height="18.5" fill="#fa4848"/><rect x="937.02" y="142.91" width="19.3" height="18.5" fill="#fa4848"/><rect x="957.69" y="142.91" width="19.3" height="18.5" fill="#fa4848"/><rect x="978.36" y="142.91" width="19.3" height="18.5" fill="#fa4848"/><rect x="999.03" y="142.91" width="19.3" height="18.5" fill="#f1e0e0"/><rect x="1019.70" y="142.91" width="19.3" height="18.5" fill="#f1e0e0"/><rect x="1040.37" y="142.91" width="19.3" height="18.5" fill="#f1e0e0"/><rect x="1061.04" y="142.91" width="19.3" height="18.5" fill="#f1e0e0"/><rect x="1081.71" y="142.91" width="19.3" height="18.5" fill="#f0e9e9"/><rect x="1102.38" y="142.91" width="19.3" height="18.5" fill="#f1e4e4"/><rect x="1123.05" y="142.91" width="19.3" height="18.5" fill="#f1e4e4"/><rect x="1143.72" y="142.91" width="19.3" height="18.5" fill="#f1e4e4"/><rect x="1164.39" y="142.91" width="19.3" height="18.5" fill="#f1e4e4"/><rect x="1185.06" y="142.91" width="19.3" height="18.5" fill="#f1e4e4"/><rect x="1205.73" y="142.91" width="19.3" height="18.5" fill="#f1e4e4"/><rect x="1226.40" y="142.91" width="19.3" height="18.5" fill="#f1e4e4"/><rect x="1247.07" y="142.91" width="19.3" height="18.5" fill="#f1e4e4"/><rect x="1267.74" y="142.91" width="19.3" height="18.5" fill="#f1e4e4"/><rect x="1288.41" y="142.91" width="19.3" height="18.5" fill="#f1e4e4"/><rect x="813.00" y="162.88" width="19.3" height="18.5" fill="#fa4848"/><rect x="833.67" y="162.88" width="19.3" height="18.5" fill="#fa4848"/><rect x="854.34" y="162.88" width="19.3" height="18.5" fill="#fa4848"/><rect x="875.01" y="162.88" width="19.3" height="18.5" fill="#fa4848"/><rect x="895.68" y="162.88" width="19.3" height="18.5" fill="#ff0000"/><rect x="916.35" y="162.88" width="19.3" height="18.5" fill="#ff0404"/><rect x="937.02" y="162.88" width="19.3" height="18.5" fill="#fe1818"/><rect x="957.69" y="162.88" width="19.3" height="18.5" fill="#fe1818"/><rect x="978.36" y="162.88" width="19.3" height="18.5" fill="#fe1111"/><rect x="999.03" y="162.88" width="19.3" height="18.5" fill="#f1e2e2"/><rect x="1019.70" y="162.88" width="19.3" height="18.5" fill="#f1e2e2"/><rect x="1040.37" y="162.88" width="19.3" height="18.5" fill="#f1e2e2"/><rect x="1061.04" y="162.88" width="19.3" height="18.5" fill="#f1e2e2"/><rect x="1081.71" y="162.88" width="19.3" height="18.5" fill="#f0eaea"/><rect x="1102.38" y="162.88" width="19.3" height="18.5" fill="#f1e5e5"/><rect x="1123.05" y="162.88" width="19.3" height="18.5" fill="#f1e5e5"/><rect x="1143.72" y="162.88" width="19.3" height="18.5" fill="#f1e5e5"/><rect x="1164.39" y="162.88" width="19.3" height="18.5" fill="#f1e5e5"/><rect x="1185.06" y="162.88" width="19.3" height="18.5" fill="#f1e5e5"/><rect x="1205.73" y="162.88" width="19.3" height="18.5" fill="#f1e5e5"/><rect x="1226.40" y="162.88" width="19.3" height="18.5" fill="#f1e5e5"/><rect x="1247.07" y="162.88" width="19.3" height="18.5" fill="#f1e5e5"/><rect x="1267.74" y="162.88" width="19.3" height="18.5" fill="#f1e5e5"/><rect x="1288.41" y="162.88" width="19.3" height="18.5" fill="#f1e5e5"/><rect x="813.00" y="182.85" width="19.3" height="18.5" fill="#fa4848"/><rect x="833.67" y="182.85" width="19.3" height="18.5" fill="#fa4848"/><rect x="854.34" y="182.85" width="19.3" height="18.5" fill="#fa4848"/><rect x="875.01" y="182.85" width="19.3" height="18.5" fill="#fa4848"/><rect x="895.68" y="182.85" width="19.3" height="18.5" fill="#ff0404"/><rect x="916.35" y="182.85" width="19.3" height="18.5" fill="#ff0000"/><rect x="937.02" y="182.85" width="19.3" height="18.5" fill="#fe1818"/><rect x="957.69" y="182.85" width="19.3" height="18.5" fill="#fe1818"/><rect x="978.36" y="182.85" width="19.3" height="18.5" fill="#fe1111"/><rect x="999.03" y="182.85" width="19.3" height="18.5" fill="#f1dfdf"/><rect x="1019.70" y="182.85" width="19.3" height="18.5" fill="#f1dfdf"/><rect x="1040.37" y="182.85" width="19.3" height="18.5" fill="#f1dfdf"/><rect x="1061.04" y="182.85" width="19.3" height="18.5" fill="#f1dfdf"/><rect x="1081.71" y="182.85" width="19.3" height="18.5" fill="#f1e8e8"/><rect x="1102.38" y="182.85" width="19.3" height="18.5" fill="#f1e3e3"/><rect x="1123.05" y="182.85" width="19.3" height="18.5" fill="#f1e3e3"/><rect x="1143.72" y="182.85" width="19.3" height="18.5" fill="#f1e3e3"/><rect x="1164.39" y="182.85" width="19.3" height="18.5" fill="#f1e3e3"/><rect x="1185.06" y="182.85" width="19.3" height="18.5" fill="#f1e3e3"/><rect x="1205.73" y="182.85" width="19.3" height="18.5" fill="#f1e3e3"/><rect x="1226.40" y="182.85" width="19.3" height="18.5" fill="#f1e3e3"/><rect x="1247.07" y="182.85" width="19.3" height="18.5" fill="#f1e3e3"/><rect x="1267.74" y="182.85" width="19.3" height="18.5" fill="#f1e3e3"/><rect x="1288.41" y="182.85" width="19.3" height="18.5" fill="#f1e3e3"/><rect x="813.00" y="202.82" width="19.3" height="18.5" fill="#fa4848"/><rect x="833.67" y="202.82" width="19.3" height="18.5" fill="#fa4848"/><rect x="854.34" y="202.82" width="19.3" height="18.5" fill="#fa4848"/><rect x="875.01" y="202.82" width="19.3" height="18.5" fill="#fa4848"/><rect x="895.68" y="202.82" width="19.3" height="18.5" fill="#fe1818"/><rect x="916.35" y="202.82" width="19.3" height="18.5" fill="#fe1818"/><rect x="937.02" y="202.82" width="19.3" height="18.5" fill="#ff0000"/><rect x="957.69" y="202.82" width="19.3" height="18.5" fill="#fe1818"/><rect x="978.36" y="202.82" width="19.3" height="18.5" fill="#fe1818"/><rect x="999.03" y="202.82" width="19.3" height="18.5" fill="#f1dfdf"/><rect x="1019.70" y="202.82" width="19.3" height="18.5" fill="#f1dfdf"/><rect x="1040.37" y="202.82" width="19.3" height="18.5" fill="#f1dfdf"/><rect x="1061.04" y="202.82" width="19.3" height="18.5" fill="#f1dfdf"/><rect x="1081.71" y="202.82" width="19.3" height="18.5" fill="#f1e8e8"/><rect x="1102.38" y="202.82" width="19.3" height="18.5" fill="#f1e3e3"/><rect x="1123.05" y="202.82" width="19.3" height="18.5" fill="#f1e3e3"/><rect x="1143.72" y="202.82" width="19.3" height="18.5" fill="#f1e3e3"/><rect x="1164.39" y="202.82" width="19.3" height="18.5" fill="#f1e3e3"/><rect x="1185.06" y="202.82" width="19.3" height="18.5" fill="#f1e3e3"/><rect x="1205.73" y="202.82" width="19.3" height="18.5" fill="#f1e3e3"/><rect x="1226.40" y="202.82" width="19.3" height="18.5" fill="#f1e3e3"/><rect x="1247.07" y="202.82" width="19.3" height="18.5" fill="#f1e3e3"/><rect x="1267.74" y="202.82" width="19.3" height="18.5" fill="#f1e3e3"/><rect x="1288.41" y="202.82" width="19.3" height="18.5" fill="#f1e3e3"/><rect x="813.00" y="222.79" width="19.3" height="18.5" fill="#fa4848"/><rect x="833.67" y="222.79" width="19.3" height="18.5" fill="#fa4848"/><rect x="854.34" y="222.79" width="19.3" height="18.5" fill="#fa4848"/><rect x="875.01" y="222.79" width="19.3" height="18.5" fill="#fa4848"/><rect x="895.68" y="222.79" width="19.3" height="18.5" fill="#fe1818"/><rect x="916.35" y="222.79" width="19.3" height="18.5" fill="#fe1818"/><rect x="937.02" y="222.79" width="19.3" height="18.5" fill="#fe1818"/><rect x="957.69" y="222.79" width="19.3" height="18.5" fill="#ff0000"/><rect x="978.36" y="222.79" width="19.3" height="18.5" fill="#fe1111"/><rect x="999.03" y="222.79" width="19.3" height="18.5" fill="#f1dfdf"/><rect x="1019.70" y="222.79" width="19.3" height="18.5" fill="#f1dfdf"/><rect x="1040.37" y="222.79" width="19.3" height="18.5" fill="#f1dfdf"/><rect x="1061.04" y="222.79" width="19.3" height="18.5" fill="#f1dfdf"/><rect x="1081.71" y="222.79" width="19.3" height="18.5" fill="#f1e8e8"/><rect x="1102.38" y="222.79" width="19.3" height="18.5" fill="#f1e3e3"/><rect x="1123.05" y="222.79" width="19.3" height="18.5" fill="#f1e3e3"/><rect x="1143.72" y="222.79" width="19.3" height="18.5" fill="#f1e3e3"/><rect x="1164.39" y="222.79" width="19.3" height="18.5" fill="#f1e3e3"/><rect x="1185.06" y="222.79" width="19.3" height="18.5" fill="#f1e3e3"/><rect x="1205.73" y="222.79" width="19.3" height="18.5" fill="#f1e3e3"/><rect x="1226.40" y="222.79" width="19.3" height="18.5" fill="#f1e3e3"/><rect x="1247.07" y="222.79" width="19.3" height="18.5" fill="#f1e3e3"/><rect x="1267.74" y="222.79" width="19.3" height="18.5" fill="#f1e3e3"/><rect x="1288.41" y="222.79" width="19.3" height="18.5" fill="#f1e3e3"/><rect x="813.00" y="242.76" width="19.3" height="18.5" fill="#fa4848"/><rect x="833.67" y="242.76" width="19.3" height="18.5" fill="#fa4848"/><rect x="854.34" y="242.76" width="19.3" height="18.5" fill="#fa4848"/><rect x="875.01" y="242.76" width="19.3" height="18.5" fill="#fa4848"/><rect x="895.68" y="242.76" width="19.3" height="18.5" fill="#fe1111"/><rect x="916.35" y="242.76" width="19.3" height="18.5" fill="#fe1111"/><rect x="937.02" y="242.76" width="19.3" height="18.5" fill="#fe1818"/><rect x="957.69" y="242.76" width="19.3" height="18.5" fill="#fe1111"/><rect x="978.36" y="242.76" width="19.3" height="18.5" fill="#ff0000"/><rect x="999.03" y="242.76" width="19.3" height="18.5" fill="#f1dfdf"/><rect x="1019.70" y="242.76" width="19.3" height="18.5" fill="#f1dfdf"/><rect x="1040.37" y="242.76" width="19.3" height="18.5" fill="#f1dfdf"/><rect x="1061.04" y="242.76" width="19.3" height="18.5" fill="#f1dfdf"/><rect x="1081.71" y="242.76" width="19.3" height="18.5" fill="#f1e8e8"/><rect x="1102.38" y="242.76" width="19.3" height="18.5" fill="#f1e3e3"/><rect x="1123.05" y="242.76" width="19.3" height="18.5" fill="#f1e3e3"/><rect x="1143.72" y="242.76" width="19.3" height="18.5" fill="#f1e3e3"/><rect x="1164.39" y="242.76" width="19.3" height="18.5" fill="#f1e3e3"/><rect x="1185.06" y="242.76" width="19.3" height="18.5" fill="#f1e3e3"/><rect x="1205.73" y="242.76" width="19.3" height="18.5" fill="#f1e3e3"/><rect x="1226.40" y="242.76" width="19.3" height="18.5" fill="#f1e3e3"/><rect x="1247.07" y="242.76" width="19.3" height="18.5" fill="#f1e3e3"/><rect x="1267.74" y="242.76" width="19.3" height="18.5" fill="#f1e3e3"/><rect x="1288.41" y="242.76" width="19.3" height="18.5" fill="#f1e3e3"/><rect x="813.00" y="262.73" width="19.3" height="18.5" fill="#f1e8e8"/><rect x="833.67" y="262.73" width="19.3" height="18.5" fill="#f1dfdf"/><rect x="854.34" y="262.73" width="19.3" height="18.5" fill="#f1dcdc"/><rect x="875.01" y="262.73" width="19.3" height="18.5" fill="#f1e5e5"/><rect x="895.68" y="262.73" width="19.3" height="18.5" fill="#f1e5e5"/><rect x="916.35" y="262.73" width="19.3" height="18.5" fill="#f2d8d8"/><rect x="937.02" y="262.73" width="19.3" height="18.5" fill="#f2d7d7"/><rect x="957.69" y="262.73" width="19.3" height="18.5" fill="#f2d8d8"/><rect x="978.36" y="262.73" width="19.3" height="18.5" fill="#f2d8d8"/><rect x="999.03" y="262.73" width="19.3" height="18.5" fill="#ff0000"/><rect x="1019.70" y="262.73" width="19.3" height="18.5" fill="#fe0d0d"/><rect x="1040.37" y="262.73" width="19.3" height="18.5" fill="#fe0d0d"/><rect x="1061.04" y="262.73" width="19.3" height="18.5" fill="#fe0d0d"/><rect x="1081.71" y="262.73" width="19.3" height="18.5" fill="#f2d8d8"/><rect x="1102.38" y="262.73" width="19.3" height="18.5" fill="#f2d4d4"/><rect x="1123.05" y="262.73" width="19.3" height="18.5" fill="#f2d4d4"/><rect x="1143.72" y="262.73" width="19.3" height="18.5" fill="#f2d4d4"/><rect x="1164.39" y="262.73" width="19.3" height="18.5" fill="#f2d4d4"/><rect x="1185.06" y="262.73" width="19.3" height="18.5" fill="#f2d4d4"/><rect x="1205.73" y="262.73" width="19.3" height="18.5" fill="#f2d4d4"/><rect x="1226.40" y="262.73" width="19.3" height="18.5" fill="#f2d4d4"/><rect x="1247.07" y="262.73" width="19.3" height="18.5" fill="#f2d4d4"/><rect x="1267.74" y="262.73" width="19.3" height="18.5" fill="#f2d4d4"/><rect x="1288.41" y="262.73" width="19.3" height="18.5" fill="#f2d4d4"/><rect x="813.00" y="282.70" width="19.3" height="18.5" fill="#f1e8e8"/><rect x="833.67" y="282.70" width="19.3" height="18.5" fill="#f1dfdf"/><rect x="854.34" y="282.70" width="19.3" height="18.5" fill="#f1dcdc"/><rect x="875.01" y="282.70" width="19.3" height="18.5" fill="#f1e5e5"/><rect x="895.68" y="282.70" width="19.3" height="18.5" fill="#f1e5e5"/><rect x="916.35" y="282.70" width="19.3" height="18.5" fill="#f2d8d8"/><rect x="937.02" y="282.70" width="19.3" height="18.5" fill="#f2d7d7"/><rect x="957.69" y="282.70" width="19.3" height="18.5" fill="#f2d8d8"/><rect x="978.36" y="282.70" width="19.3" height="18.5" fill="#f2d8d8"/><rect x="999.03" y="282.70" width="19.3" height="18.5" fill="#fe0d0d"/><rect x="1019.70" y="282.70" width="19.3" height="18.5" fill="#ff0000"/><rect x="1040.37" y="282.70" width="19.3" height="18.5" fill="#fe0d0d"/><rect x="1061.04" y="282.70" width="19.3" height="18.5" fill="#fe0d0d"/><rect x="1081.71" y="282.70" width="19.3" height="18.5" fill="#f2d8d8"/><rect x="1102.38" y="282.70" width="19.3" height="18.5" fill="#f2d4d4"/><rect x="1123.05" y="282.70" width="19.3" height="18.5" fill="#f2d4d4"/><rect x="1143.72" y="282.70" width="19.3" height="18.5" fill="#f2d4d4"/><rect x="1164.39" y="282.70" width="19.3" height="18.5" fill="#f2d4d4"/><rect x="1185.06" y="282.70" width="19.3" height="18.5" fill="#f2d4d4"/><rect x="1205.73" y="282.70" width="19.3" height="18.5" fill="#f2d4d4"/><rect x="1226.40" y="282.70" width="19.3" height="18.5" fill="#f2d4d4"/><rect x="1247.07" y="282.70" width="19.3" height="18.5" fill="#f2d4d4"/><rect x="1267.74" y="282.70" width="19.3" height="18.5" fill="#f2d4d4"/><rect x="1288.41" y="282.70" width="19.3" height="18.5" fill="#f2d4d4"/><rect x="813.00" y="302.67" width="19.3" height="18.5" fill="#f1e8e8"/><rect x="833.67" y="302.67" width="19.3" height="18.5" fill="#f1dfdf"/><rect x="854.34" y="302.67" width="19.3" height="18.5" fill="#f1dcdc"/><rect x="875.01" y="302.67" width="19.3" height="18.5" fill="#f1e5e5"/><rect x="895.68" y="302.67" width="19.3" height="18.5" fill="#f1e5e5"/><rect x="916.35" y="302.67" width="19.3" height="18.5" fill="#f2d8d8"/><rect x="937.02" y="302.67" width="19.3" height="18.5" fill="#f2d7d7"/><rect x="957.69" y="302.67" width="19.3" height="18.5" fill="#f2d8d8"/><rect x="978.36" y="302.67" width="19.3" height="18.5" fill="#f2d8d8"/><rect x="999.03" y="302.67" width="19.3" height="18.5" fill="#fe0d0d"/><rect x="1019.70" y="302.67" width="19.3" height="18.5" fill="#fe0d0d"/><rect x="1040.37" y="302.67" width="19.3" height="18.5" fill="#ff0000"/><rect x="1061.04" y="302.67" width="19.3" height="18.5" fill="#fe0d0d"/><rect x="1081.71" y="302.67" width="19.3" height="18.5" fill="#f2d8d8"/><rect x="1102.38" y="302.67" width="19.3" height="18.5" fill="#f2d4d4"/><rect x="1123.05" y="302.67" width="19.3" height="18.5" fill="#f2d4d4"/><rect x="1143.72" y="302.67" width="19.3" height="18.5" fill="#f2d4d4"/><rect x="1164.39" y="302.67" width="19.3" height="18.5" fill="#f2d4d4"/><rect x="1185.06" y="302.67" width="19.3" height="18.5" fill="#f2d4d4"/><rect x="1205.73" y="302.67" width="19.3" height="18.5" fill="#f2d4d4"/><rect x="1226.40" y="302.67" width="19.3" height="18.5" fill="#f2d4d4"/><rect x="1247.07" y="302.67" width="19.3" height="18.5" fill="#f2d4d4"/><rect x="1267.74" y="302.67" width="19.3" height="18.5" fill="#f2d4d4"/><rect x="1288.41" y="302.67" width="19.3" height="18.5" fill="#f2d4d4"/><rect x="813.00" y="322.64" width="19.3" height="18.5" fill="#f1e8e8"/><rect x="833.67" y="322.64" width="19.3" height="18.5" fill="#f1dfdf"/><rect x="854.34" y="322.64" width="19.3" height="18.5" fill="#f1dcdc"/><rect x="875.01" y="322.64" width="19.3" height="18.5" fill="#f1e5e5"/><rect x="895.68" y="322.64" width="19.3" height="18.5" fill="#f1e5e5"/><rect x="916.35" y="322.64" width="19.3" height="18.5" fill="#f2d8d8"/><rect x="937.02" y="322.64" width="19.3" height="18.5" fill="#f2d7d7"/><rect x="957.69" y="322.64" width="19.3" height="18.5" fill="#f2d8d8"/><rect x="978.36" y="322.64" width="19.3" height="18.5" fill="#f2d8d8"/><rect x="999.03" y="322.64" width="19.3" height="18.5" fill="#fe0d0d"/><rect x="1019.70" y="322.64" width="19.3" height="18.5" fill="#fe0d0d"/><rect x="1040.37" y="322.64" width="19.3" height="18.5" fill="#fe0d0d"/><rect x="1061.04" y="322.64" width="19.3" height="18.5" fill="#ff0000"/><rect x="1081.71" y="322.64" width="19.3" height="18.5" fill="#f2d8d8"/><rect x="1102.38" y="322.64" width="19.3" height="18.5" fill="#f2d4d4"/><rect x="1123.05" y="322.64" width="19.3" height="18.5" fill="#f2d4d4"/><rect x="1143.72" y="322.64" width="19.3" height="18.5" fill="#f2d4d4"/><rect x="1164.39" y="322.64" width="19.3" height="18.5" fill="#f2d4d4"/><rect x="1185.06" y="322.64" width="19.3" height="18.5" fill="#f2d4d4"/><rect x="1205.73" y="322.64" width="19.3" height="18.5" fill="#f2d4d4"/><rect x="1226.40" y="322.64" width="19.3" height="18.5" fill="#f2d4d4"/><rect x="1247.07" y="322.64" width="19.3" height="18.5" fill="#f2d4d4"/><rect x="1267.74" y="322.64" width="19.3" height="18.5" fill="#f2d4d4"/><rect x="1288.41" y="322.64" width="19.3" height="18.5" fill="#f2d4d4"/><rect x="813.00" y="342.61" width="19.3" height="18.5" fill="#f0f0f0"/><rect x="833.67" y="342.61" width="19.3" height="18.5" fill="#f1e8e8"/><rect x="854.34" y="342.61" width="19.3" height="18.5" fill="#f1e4e4"/><rect x="875.01" y="342.61" width="19.3" height="18.5" fill="#f0eeee"/><rect x="895.68" y="342.61" width="19.3" height="18.5" fill="#f0eeee"/><rect x="916.35" y="342.61" width="19.3" height="18.5" fill="#f1e0e0"/><rect x="937.02" y="342.61" width="19.3" height="18.5" fill="#f1dfdf"/><rect x="957.69" y="342.61" width="19.3" height="18.5" fill="#f1e0e0"/><rect x="978.36" y="342.61" width="19.3" height="18.5" fill="#f1e0e0"/><rect x="999.03" y="342.61" width="19.3" height="18.5" fill="#f2d8d8"/><rect x="1019.70" y="342.61" width="19.3" height="18.5" fill="#f2d8d8"/><rect x="1040.37" y="342.61" width="19.3" height="18.5" fill="#f2d8d8"/><rect x="1061.04" y="342.61" width="19.3" height="18.5" fill="#f2d8d8"/><rect x="1081.71" y="342.61" width="19.3" height="18.5" fill="#ff0000"/><rect x="1102.38" y="342.61" width="19.3" height="18.5" fill="#f4afaf"/><rect x="1123.05" y="342.61" width="19.3" height="18.5" fill="#f4afaf"/><rect x="1143.72" y="342.61" width="19.3" height="18.5" fill="#f4afaf"/><rect x="1164.39" y="342.61" width="19.3" height="18.5" fill="#f4afaf"/><rect x="1185.06" y="342.61" width="19.3" height="18.5" fill="#f4afaf"/><rect x="1205.73" y="342.61" width="19.3" height="18.5" fill="#f4afaf"/><rect x="1226.40" y="342.61" width="19.3" height="18.5" fill="#f4afaf"/><rect x="1247.07" y="342.61" width="19.3" height="18.5" fill="#f4afaf"/><rect x="1267.74" y="342.61" width="19.3" height="18.5" fill="#f4afaf"/><rect x="1288.41" y="342.61" width="19.3" height="18.5" fill="#f4afaf"/><rect x="813.00" y="362.58" width="19.3" height="18.5" fill="#f0ebeb"/><rect x="833.67" y="362.58" width="19.3" height="18.5" fill="#f1e3e3"/><rect x="854.34" y="362.58" width="19.3" height="18.5" fill="#f1dfdf"/><rect x="875.01" y="362.58" width="19.3" height="18.5" fill="#f0e9e9"/><rect x="895.68" y="362.58" width="19.3" height="18.5" fill="#f0e9e9"/><rect x="916.35" y="362.58" width="19.3" height="18.5" fill="#f1dcdc"/><rect x="937.02" y="362.58" width="19.3" height="18.5" fill="#f1dada"/><rect x="957.69" y="362.58" width="19.3" height="18.5" fill="#f1dcdc"/><rect x="978.36" y="362.58" width="19.3" height="18.5" fill="#f1dcdc"/><rect x="999.03" y="362.58" width="19.3" height="18.5" fill="#f2d4d4"/><rect x="1019.70" y="362.58" width="19.3" height="18.5" fill="#f2d4d4"/><rect x="1040.37" y="362.58" width="19.3" height="18.5" fill="#f2d4d4"/><rect x="1061.04" y="362.58" width="19.3" height="18.5" fill="#f2d4d4"/><rect x="1081.71" y="362.58" width="19.3" height="18.5" fill="#f4afaf"/><rect x="1102.38" y="362.58" width="19.3" height="18.5" fill="#ff0000"/><rect x="1123.05" y="362.58" width="19.3" height="18.5" fill="#fb3e3e"/><rect x="1143.72" y="362.58" width="19.3" height="18.5" fill="#fb3e3e"/><rect x="1164.39" y="362.58" width="19.3" height="18.5" fill="#fb3e3e"/><rect x="1185.06" y="362.58" width="19.3" height="18.5" fill="#fb3e3e"/><rect x="1205.73" y="362.58" width="19.3" height="18.5" fill="#fb3e3e"/><rect x="1226.40" y="362.58" width="19.3" height="18.5" fill="#fb3e3e"/><rect x="1247.07" y="362.58" width="19.3" height="18.5" fill="#fb3e3e"/><rect x="1267.74" y="362.58" width="19.3" height="18.5" fill="#fb3e3e"/><rect x="1288.41" y="362.58" width="19.3" height="18.5" fill="#fb3e3e"/><rect x="813.00" y="382.55" width="19.3" height="18.5" fill="#f0ebeb"/><rect x="833.67" y="382.55" width="19.3" height="18.5" fill="#f1e3e3"/><rect x="854.34" y="382.55" width="19.3" height="18.5" fill="#f1dfdf"/><rect x="875.01" y="382.55" width="19.3" height="18.5" fill="#f0e9e9"/><rect x="895.68" y="382.55" width="19.3" height="18.5" fill="#f0e9e9"/><rect x="916.35" y="382.55" width="19.3" height="18.5" fill="#f1dcdc"/><rect x="937.02" y="382.55" width="19.3" height="18.5" fill="#f1dada"/><rect x="957.69" y="382.55" width="19.3" height="18.5" fill="#f1dcdc"/><rect x="978.36" y="382.55" width="19.3" height="18.5" fill="#f1dcdc"/><rect x="999.03" y="382.55" width="19.3" height="18.5" fill="#f2d4d4"/><rect x="1019.70" y="382.55" width="19.3" height="18.5" fill="#f2d4d4"/><rect x="1040.37" y="382.55" width="19.3" height="18.5" fill="#f2d4d4"/><rect x="1061.04" y="382.55" width="19.3" height="18.5" fill="#f2d4d4"/><rect x="1081.71" y="382.55" width="19.3" height="18.5" fill="#f4afaf"/><rect x="1102.38" y="382.55" width="19.3" height="18.5" fill="#fb3e3e"/><rect x="1123.05" y="382.55" width="19.3" height="18.5" fill="#ff0000"/><rect x="1143.72" y="382.55" width="19.3" height="18.5" fill="#ff0707"/><rect x="1164.39" y="382.55" width="19.3" height="18.5" fill="#fc3030"/><rect x="1185.06" y="382.55" width="19.3" height="18.5" fill="#fc3030"/><rect x="1205.73" y="382.55" width="19.3" height="18.5" fill="#fc2b2b"/><rect x="1226.40" y="382.55" width="19.3" height="18.5" fill="#fc2b2b"/><rect x="1247.07" y="382.55" width="19.3" height="18.5" fill="#fc2b2b"/><rect x="1267.74" y="382.55" width="19.3" height="18.5" fill="#fc3232"/><rect x="1288.41" y="382.55" width="19.3" height="18.5" fill="#fc3535"/><rect x="813.00" y="402.52" width="19.3" height="18.5" fill="#f0ebeb"/><rect x="833.67" y="402.52" width="19.3" height="18.5" fill="#f1e3e3"/><rect x="854.34" y="402.52" width="19.3" height="18.5" fill="#f1dfdf"/><rect x="875.01" y="402.52" width="19.3" height="18.5" fill="#f0e9e9"/><rect x="895.68" y="402.52" width="19.3" height="18.5" fill="#f0e9e9"/><rect x="916.35" y="402.52" width="19.3" height="18.5" fill="#f1dcdc"/><rect x="937.02" y="402.52" width="19.3" height="18.5" fill="#f1dada"/><rect x="957.69" y="402.52" width="19.3" height="18.5" fill="#f1dcdc"/><rect x="978.36" y="402.52" width="19.3" height="18.5" fill="#f1dcdc"/><rect x="999.03" y="402.52" width="19.3" height="18.5" fill="#f2d4d4"/><rect x="1019.70" y="402.52" width="19.3" height="18.5" fill="#f2d4d4"/><rect x="1040.37" y="402.52" width="19.3" height="18.5" fill="#f2d4d4"/><rect x="1061.04" y="402.52" width="19.3" height="18.5" fill="#f2d4d4"/><rect x="1081.71" y="402.52" width="19.3" height="18.5" fill="#f4afaf"/><rect x="1102.38" y="402.52" width="19.3" height="18.5" fill="#fb3e3e"/><rect x="1123.05" y="402.52" width="19.3" height="18.5" fill="#ff0707"/><rect x="1143.72" y="402.52" width="19.3" height="18.5" fill="#ff0000"/><rect x="1164.39" y="402.52" width="19.3" height="18.5" fill="#fc3030"/><rect x="1185.06" y="402.52" width="19.3" height="18.5" fill="#fc3030"/><rect x="1205.73" y="402.52" width="19.3" height="18.5" fill="#fc2b2b"/><rect x="1226.40" y="402.52" width="19.3" height="18.5" fill="#fc2b2b"/><rect x="1247.07" y="402.52" width="19.3" height="18.5" fill="#fc2b2b"/><rect x="1267.74" y="402.52" width="19.3" height="18.5" fill="#fc3232"/><rect x="1288.41" y="402.52" width="19.3" height="18.5" fill="#fc3535"/><rect x="813.00" y="422.49" width="19.3" height="18.5" fill="#f0ebeb"/><rect x="833.67" y="422.49" width="19.3" height="18.5" fill="#f1e3e3"/><rect x="854.34" y="422.49" width="19.3" height="18.5" fill="#f1dfdf"/><rect x="875.01" y="422.49" width="19.3" height="18.5" fill="#f0e9e9"/><rect x="895.68" y="422.49" width="19.3" height="18.5" fill="#f0e9e9"/><rect x="916.35" y="422.49" width="19.3" height="18.5" fill="#f1dcdc"/><rect x="937.02" y="422.49" width="19.3" height="18.5" fill="#f1dada"/><rect x="957.69" y="422.49" width="19.3" height="18.5" fill="#f1dcdc"/><rect x="978.36" y="422.49" width="19.3" height="18.5" fill="#f1dcdc"/><rect x="999.03" y="422.49" width="19.3" height="18.5" fill="#f2d4d4"/><rect x="1019.70" y="422.49" width="19.3" height="18.5" fill="#f2d4d4"/><rect x="1040.37" y="422.49" width="19.3" height="18.5" fill="#f2d4d4"/><rect x="1061.04" y="422.49" width="19.3" height="18.5" fill="#f2d4d4"/><rect x="1081.71" y="422.49" width="19.3" height="18.5" fill="#f4afaf"/><rect x="1102.38" y="422.49" width="19.3" height="18.5" fill="#fb3e3e"/><rect x="1123.05" y="422.49" width="19.3" height="18.5" fill="#fc3030"/><rect x="1143.72" y="422.49" width="19.3" height="18.5" fill="#fc3030"/><rect x="1164.39" y="422.49" width="19.3" height="18.5" fill="#ff0000"/><rect x="1185.06" y="422.49" width="19.3" height="18.5" fill="#ff0707"/><rect x="1205.73" y="422.49" width="19.3" height="18.5" fill="#fd2222"/><rect x="1226.40" y="422.49" width="19.3" height="18.5" fill="#fd2222"/><rect x="1247.07" y="422.49" width="19.3" height="18.5" fill="#fd2222"/><rect x="1267.74" y="422.49" width="19.3" height="18.5" fill="#fc3232"/><rect x="1288.41" y="422.49" width="19.3" height="18.5" fill="#fc3535"/><rect x="813.00" y="442.46" width="19.3" height="18.5" fill="#f0ebeb"/><rect x="833.67" y="442.46" width="19.3" height="18.5" fill="#f1e3e3"/><rect x="854.34" y="442.46" width="19.3" height="18.5" fill="#f1dfdf"/><rect x="875.01" y="442.46" width="19.3" height="18.5" fill="#f0e9e9"/><rect x="895.68" y="442.46" width="19.3" height="18.5" fill="#f0e9e9"/><rect x="916.35" y="442.46" width="19.3" height="18.5" fill="#f1dcdc"/><rect x="937.02" y="442.46" width="19.3" height="18.5" fill="#f1dada"/><rect x="957.69" y="442.46" width="19.3" height="18.5" fill="#f1dcdc"/><rect x="978.36" y="442.46" width="19.3" height="18.5" fill="#f1dcdc"/><rect x="999.03" y="442.46" width="19.3" height="18.5" fill="#f2d4d4"/><rect x="1019.70" y="442.46" width="19.3" height="18.5" fill="#f2d4d4"/><rect x="1040.37" y="442.46" width="19.3" height="18.5" fill="#f2d4d4"/><rect x="1061.04" y="442.46" width="19.3" height="18.5" fill="#f2d4d4"/><rect x="1081.71" y="442.46" width="19.3" height="18.5" fill="#f4afaf"/><rect x="1102.38" y="442.46" width="19.3" height="18.5" fill="#fb3e3e"/><rect x="1123.05" y="442.46" width="19.3" height="18.5" fill="#fc3030"/><rect x="1143.72" y="442.46" width="19.3" height="18.5" fill="#fc3030"/><rect x="1164.39" y="442.46" width="19.3" height="18.5" fill="#ff0707"/><rect x="1185.06" y="442.46" width="19.3" height="18.5" fill="#ff0000"/><rect x="1205.73" y="442.46" width="19.3" height="18.5" fill="#fd2222"/><rect x="1226.40" y="442.46" width="19.3" height="18.5" fill="#fd2222"/><rect x="1247.07" y="442.46" width="19.3" height="18.5" fill="#fd2222"/><rect x="1267.74" y="442.46" width="19.3" height="18.5" fill="#fc3232"/><rect x="1288.41" y="442.46" width="19.3" height="18.5" fill="#fc3535"/><rect x="813.00" y="462.43" width="19.3" height="18.5" fill="#f0ebeb"/><rect x="833.67" y="462.43" width="19.3" height="18.5" fill="#f1e3e3"/><rect x="854.34" y="462.43" width="19.3" height="18.5" fill="#f1dfdf"/><rect x="875.01" y="462.43" width="19.3" height="18.5" fill="#f0e9e9"/><rect x="895.68" y="462.43" width="19.3" height="18.5" fill="#f0e9e9"/><rect x="916.35" y="462.43" width="19.3" height="18.5" fill="#f1dcdc"/><rect x="937.02" y="462.43" width="19.3" height="18.5" fill="#f1dada"/><rect x="957.69" y="462.43" width="19.3" height="18.5" fill="#f1dcdc"/><rect x="978.36" y="462.43" width="19.3" height="18.5" fill="#f1dcdc"/><rect x="999.03" y="462.43" width="19.3" height="18.5" fill="#f2d4d4"/><rect x="1019.70" y="462.43" width="19.3" height="18.5" fill="#f2d4d4"/><rect x="1040.37" y="462.43" width="19.3" height="18.5" fill="#f2d4d4"/><rect x="1061.04" y="462.43" width="19.3" height="18.5" fill="#f2d4d4"/><rect x="1081.71" y="462.43" width="19.3" height="18.5" fill="#f4afaf"/><rect x="1102.38" y="462.43" width="19.3" height="18.5" fill="#fb3e3e"/><rect x="1123.05" y="462.43" width="19.3" height="18.5" fill="#fc2b2b"/><rect x="1143.72" y="462.43" width="19.3" height="18.5" fill="#fc2b2b"/><rect x="1164.39" y="462.43" width="19.3" height="18.5" fill="#fd2222"/><rect x="1185.06" y="462.43" width="19.3" height="18.5" fill="#fd2222"/><rect x="1205.73" y="462.43" width="19.3" height="18.5" fill="#ff0000"/><rect x="1226.40" y="462.43" width="19.3" height="18.5" fill="#fd2222"/><rect x="1247.07" y="462.43" width="19.3" height="18.5" fill="#fd2222"/><rect x="1267.74" y="462.43" width="19.3" height="18.5" fill="#fc3232"/><rect x="1288.41" y="462.43" width="19.3" height="18.5" fill="#fc3535"/><rect x="813.00" y="482.40" width="19.3" height="18.5" fill="#f0ebeb"/><rect x="833.67" y="482.40" width="19.3" height="18.5" fill="#f1e3e3"/><rect x="854.34" y="482.40" width="19.3" height="18.5" fill="#f1dfdf"/><rect x="875.01" y="482.40" width="19.3" height="18.5" fill="#f0e9e9"/><rect x="895.68" y="482.40" width="19.3" height="18.5" fill="#f0e9e9"/><rect x="916.35" y="482.40" width="19.3" height="18.5" fill="#f1dcdc"/><rect x="937.02" y="482.40" width="19.3" height="18.5" fill="#f1dada"/><rect x="957.69" y="482.40" width="19.3" height="18.5" fill="#f1dcdc"/><rect x="978.36" y="482.40" width="19.3" height="18.5" fill="#f1dcdc"/><rect x="999.03" y="482.40" width="19.3" height="18.5" fill="#f2d4d4"/><rect x="1019.70" y="482.40" width="19.3" height="18.5" fill="#f2d4d4"/><rect x="1040.37" y="482.40" width="19.3" height="18.5" fill="#f2d4d4"/><rect x="1061.04" y="482.40" width="19.3" height="18.5" fill="#f2d4d4"/><rect x="1081.71" y="482.40" width="19.3" height="18.5" fill="#f4afaf"/><rect x="1102.38" y="482.40" width="19.3" height="18.5" fill="#fb3e3e"/><rect x="1123.05" y="482.40" width="19.3" height="18.5" fill="#fc2b2b"/><rect x="1143.72" y="482.40" width="19.3" height="18.5" fill="#fc2b2b"/><rect x="1164.39" y="482.40" width="19.3" height="18.5" fill="#fd2222"/><rect x="1185.06" y="482.40" width="19.3" height="18.5" fill="#fd2222"/><rect x="1205.73" y="482.40" width="19.3" height="18.5" fill="#fd2222"/><rect x="1226.40" y="482.40" width="19.3" height="18.5" fill="#ff0000"/><rect x="1247.07" y="482.40" width="19.3" height="18.5" fill="#ff0707"/><rect x="1267.74" y="482.40" width="19.3" height="18.5" fill="#fc3232"/><rect x="1288.41" y="482.40" width="19.3" height="18.5" fill="#fc3535"/><rect x="813.00" y="502.37" width="19.3" height="18.5" fill="#f0ebeb"/><rect x="833.67" y="502.37" width="19.3" height="18.5" fill="#f1e3e3"/><rect x="854.34" y="502.37" width="19.3" height="18.5" fill="#f1dfdf"/><rect x="875.01" y="502.37" width="19.3" height="18.5" fill="#f0e9e9"/><rect x="895.68" y="502.37" width="19.3" height="18.5" fill="#f0e9e9"/><rect x="916.35" y="502.37" width="19.3" height="18.5" fill="#f1dcdc"/><rect x="937.02" y="502.37" width="19.3" height="18.5" fill="#f1dada"/><rect x="957.69" y="502.37" width="19.3" height="18.5" fill="#f1dcdc"/><rect x="978.36" y="502.37" width="19.3" height="18.5" fill="#f1dcdc"/><rect x="999.03" y="502.37" width="19.3" height="18.5" fill="#f2d4d4"/><rect x="1019.70" y="502.37" width="19.3" height="18.5" fill="#f2d4d4"/><rect x="1040.37" y="502.37" width="19.3" height="18.5" fill="#f2d4d4"/><rect x="1061.04" y="502.37" width="19.3" height="18.5" fill="#f2d4d4"/><rect x="1081.71" y="502.37" width="19.3" height="18.5" fill="#f4afaf"/><rect x="1102.38" y="502.37" width="19.3" height="18.5" fill="#fb3e3e"/><rect x="1123.05" y="502.37" width="19.3" height="18.5" fill="#fc2b2b"/><rect x="1143.72" y="502.37" width="19.3" height="18.5" fill="#fc2b2b"/><rect x="1164.39" y="502.37" width="19.3" height="18.5" fill="#fd2222"/><rect x="1185.06" y="502.37" width="19.3" height="18.5" fill="#fd2222"/><rect x="1205.73" y="502.37" width="19.3" height="18.5" fill="#fd2222"/><rect x="1226.40" y="502.37" width="19.3" height="18.5" fill="#ff0707"/><rect x="1247.07" y="502.37" width="19.3" height="18.5" fill="#ff0000"/><rect x="1267.74" y="502.37" width="19.3" height="18.5" fill="#fc3232"/><rect x="1288.41" y="502.37" width="19.3" height="18.5" fill="#fc3535"/><rect x="813.00" y="522.34" width="19.3" height="18.5" fill="#f0ebeb"/><rect x="833.67" y="522.34" width="19.3" height="18.5" fill="#f1e3e3"/><rect x="854.34" y="522.34" width="19.3" height="18.5" fill="#f1dfdf"/><rect x="875.01" y="522.34" width="19.3" height="18.5" fill="#f0e9e9"/><rect x="895.68" y="522.34" width="19.3" height="18.5" fill="#f0e9e9"/><rect x="916.35" y="522.34" width="19.3" height="18.5" fill="#f1dcdc"/><rect x="937.02" y="522.34" width="19.3" height="18.5" fill="#f1dada"/><rect x="957.69" y="522.34" width="19.3" height="18.5" fill="#f1dcdc"/><rect x="978.36" y="522.34" width="19.3" height="18.5" fill="#f1dcdc"/><rect x="999.03" y="522.34" width="19.3" height="18.5" fill="#f2d4d4"/><rect x="1019.70" y="522.34" width="19.3" height="18.5" fill="#f2d4d4"/><rect x="1040.37" y="522.34" width="19.3" height="18.5" fill="#f2d4d4"/><rect x="1061.04" y="522.34" width="19.3" height="18.5" fill="#f2d4d4"/><rect x="1081.71" y="522.34" width="19.3" height="18.5" fill="#f4afaf"/><rect x="1102.38" y="522.34" width="19.3" height="18.5" fill="#fb3e3e"/><rect x="1123.05" y="522.34" width="19.3" height="18.5" fill="#fc3232"/><rect x="1143.72" y="522.34" width="19.3" height="18.5" fill="#fc3232"/><rect x="1164.39" y="522.34" width="19.3" height="18.5" fill="#fc3232"/><rect x="1185.06" y="522.34" width="19.3" height="18.5" fill="#fc3232"/><rect x="1205.73" y="522.34" width="19.3" height="18.5" fill="#fc3232"/><rect x="1226.40" y="522.34" width="19.3" height="18.5" fill="#fc3232"/><rect x="1247.07" y="522.34" width="19.3" height="18.5" fill="#fc3232"/><rect x="1267.74" y="522.34" width="19.3" height="18.5" fill="#ff0000"/><rect x="1288.41" y="522.34" width="19.3" height="18.5" fill="#fc3535"/><rect x="813.00" y="542.31" width="19.3" height="18.5" fill="#f0ebeb"/><rect x="833.67" y="542.31" width="19.3" height="18.5" fill="#f1e3e3"/><rect x="854.34" y="542.31" width="19.3" height="18.5" fill="#f1dfdf"/><rect x="875.01" y="542.31" width="19.3" height="18.5" fill="#f0e9e9"/><rect x="895.68" y="542.31" width="19.3" height="18.5" fill="#f0e9e9"/><rect x="916.35" y="542.31" width="19.3" height="18.5" fill="#f1dcdc"/><rect x="937.02" y="542.31" width="19.3" height="18.5" fill="#f1dada"/><rect x="957.69" y="542.31" width="19.3" height="18.5" fill="#f1dcdc"/><rect x="978.36" y="542.31" width="19.3" height="18.5" fill="#f1dcdc"/><rect x="999.03" y="542.31" width="19.3" height="18.5" fill="#f2d4d4"/><rect x="1019.70" y="542.31" width="19.3" height="18.5" fill="#f2d4d4"/><rect x="1040.37" y="542.31" width="19.3" height="18.5" fill="#f2d4d4"/><rect x="1061.04" y="542.31" width="19.3" height="18.5" fill="#f2d4d4"/><rect x="1081.71" y="542.31" width="19.3" height="18.5" fill="#f4afaf"/><rect x="1102.38" y="542.31" width="19.3" height="18.5" fill="#fb3e3e"/><rect x="1123.05" y="542.31" width="19.3" height="18.5" fill="#fc3535"/><rect x="1143.72" y="542.31" width="19.3" height="18.5" fill="#fc3535"/><rect x="1164.39" y="542.31" width="19.3" height="18.5" fill="#fc3535"/><rect x="1185.06" y="542.31" width="19.3" height="18.5" fill="#fc3535"/><rect x="1205.73" y="542.31" width="19.3" height="18.5" fill="#fc3535"/><rect x="1226.40" y="542.31" width="19.3" height="18.5" fill="#fc3535"/><rect x="1247.07" y="542.31" width="19.3" height="18.5" fill="#fc3535"/><rect x="1267.74" y="542.31" width="19.3" height="18.5" fill="#fc3535"/><rect x="1288.41" y="542.31" width="19.3" height="18.5" fill="#ff0000"/></g>
<path d="M843.4 62.6L864.0 62.6M822.7 60.1L853.7 60.1M853.7 60.1L853.7 62.6M967.4 68.9L988.1 68.9M946.7 66.4L977.7 66.4M977.7 66.4L977.7 68.9M905.4 66.4L926.1 66.4M915.7 63.6L962.3 63.6M915.7 63.6L915.7 66.4M962.3 63.6L962.3 66.4M884.7 59.9L939.0 59.9M939.0 59.9L939.0 63.6M838.1 55.7L911.9 55.7M838.1 55.7L838.1 60.1M911.9 55.7L911.9 59.9M1008.7 66.4L1029.4 66.4M1050.1 66.4L1070.7 66.4M1019.1 64.3L1060.3 64.3M1019.1 64.3L1019.1 66.4M1060.3 64.3L1060.3 66.4M1277.4 81.1L1298.1 81.1M1236.1 81.1L1256.7 81.1M1246.2 78.8L1287.6 78.8M1246.2 78.8L1246.2 81.1M1287.6 78.8L1287.6 81.1M1215.4 76.7L1266.8 76.7M1266.8 76.7L1266.8 78.8M1174.1 76.7L1194.7 76.7M1184.4 74.2L1240.9 74.2M1184.4 74.2L1184.4 76.7M1240.9 74.2L1240.9 76.7M1132.7 74.2L1153.4 74.2M1142.9 71.6L1212.5 71.6M1142.9 71.6L1142.9 74.2M1212.5 71.6L1212.5 74.2M1112.1 68.9L1177.8 68.9M1177.8 68.9L1177.8 71.6M1091.4 64.3L1144.8 64.3M1144.8 64.3L1144.8 68.9M1039.7 55.7L1118.1 55.7M1039.7 55.7L1039.7 64.3M1118.1 55.7L1118.1 64.3M875.1 42.2L1079.0 42.2M875.1 42.2L875.1 55.7M1079.0 42.2L1079.0 55.7" stroke="#c6c6c6" stroke-width="0.5" fill="none"/>
<path d="M843.4 62.6L843.4 82.6M864.0 62.6L864.0 82.6M822.7 60.1L822.7 82.6M967.4 68.9L967.4 82.6M988.1 68.9L988.1 82.6M946.7 66.4L946.7 82.6M905.4 66.4L905.4 82.6M926.1 66.4L926.1 82.6M884.7 59.9L884.7 82.6M1008.7 66.4L1008.7 82.6M1029.4 66.4L1029.4 82.6M1050.1 66.4L1050.1 82.6M1070.7 66.4L1070.7 82.6M1277.4 81.1L1277.4 82.6M1298.1 81.1L1298.1 82.6M1236.1 81.1L1236.1 82.6M1256.7 81.1L1256.7 82.6M1215.4 76.7L1215.4 82.6M1174.1 76.7L1174.1 82.6M1194.7 76.7L1194.7 82.6M1132.7 74.2L1132.7 82.6M1153.4 74.2L1153.4 82.6M1112.1 68.9L1112.1 82.6M1091.4 64.3L1091.4 82.6" stroke="#e9e9e9" stroke-width="0.5" fill="none"/>
<rect x="813.0" y="561.9" width="494.71" height="22.70" fill="#e0d0d0"/>
<g fill="#661212"><rect x="813.00" y="565.00" width="19.0" height="19.30"/><rect x="833.67" y="563.20" width="19.0" height="21.10"/><rect x="854.34" y="564.20" width="19.0" height="20.10"/><rect x="875.01" y="563.00" width="19.0" height="21.30"/><rect x="895.68" y="562.30" width="19.0" height="22.00"/><rect x="916.35" y="562.40" width="19.0" height="21.90"/><rect x="937.02" y="563.20" width="19.0" height="21.10"/><rect x="957.69" y="564.00" width="19.0" height="20.30"/><rect x="978.36" y="564.40" width="19.0" height="19.90"/><rect x="999.03" y="570.10" width="19.0" height="14.20"/><rect x="1019.70" y="570.10" width="19.0" height="14.20"/><rect x="1040.37" y="569.40" width="19.0" height="14.90"/><rect x="1061.04" y="569.40" width="19.0" height="14.90"/><rect x="1081.71" y="570.40" width="19.0" height="13.90"/><rect x="1102.38" y="569.50" width="19.0" height="14.80"/><rect x="1123.05" y="568.30" width="19.0" height="16.00"/><rect x="1143.72" y="568.80" width="19.0" height="15.50"/><rect x="1164.39" y="567.10" width="19.0" height="17.20"/><rect x="1185.06" y="569.20" width="19.0" height="15.10"/><rect x="1205.73" y="568.80" width="19.0" height="15.50"/><rect x="1226.40" y="568.80" width="19.0" height="15.50"/><rect x="1247.07" y="568.80" width="19.0" height="15.50"/><rect x="1267.74" y="568.30" width="19.0" height="16.00"/><rect x="1288.41" y="568.30" width="19.0" height="16.00"/></g>
<rect x="813.0" y="586.1" width="494.71" height="22.50" fill="#e0d0d0"/>
<g fill="#661212"><rect x="813.00" y="595.20" width="19.0" height="13.10"/><rect x="833.67" y="592.00" width="19.0" height="16.30"/><rect x="854.34" y="600.60" width="19.0" height="7.70"/><rect x="875.01" y="586.00" width="19.0" height="22.30"/><rect x="895.68" y="606.50" width="19.0" height="1.80"/><rect x="916.35" y="607.80" width="19.0" height="0.50" fill-opacity="0.6"/><rect x="937.02" y="595.40" width="19.0" height="12.90"/><rect x="957.69" y="599.40" width="19.0" height="8.90"/><rect x="978.36" y="600.60" width="19.0" height="7.70"/><rect x="999.03" y="604.70" width="19.0" height="3.60"/><rect x="1019.70" y="605.90" width="19.0" height="2.40"/><rect x="1040.37" y="603.50" width="19.0" height="4.80"/><rect x="1061.04" y="602.00" width="19.0" height="6.30"/><rect x="1081.71" y="594.00" width="19.0" height="14.30"/><rect x="1102.38" y="601.20" width="19.0" height="7.10"/><rect x="1123.05" y="604.50" width="19.0" height="3.80"/><rect x="1143.72" y="604.70" width="19.0" height="3.60"/><rect x="1164.39" y="596.10" width="19.0" height="12.20"/><rect x="1185.06" y="606.20" width="19.0" height="2.10"/><rect x="1205.73" y="602.90" width="19.0" height="5.40"/><rect x="1226.40" y="605.90" width="19.0" height="2.40"/><rect x="1247.07" y="607.10" width="19.0" height="1.20" fill-opacity="0.6"/><rect x="1267.74" y="603.50" width="19.0" height="4.80"/><rect x="1288.41" y="601.20" width="19.0" height="7.10"/></g>
<rect x="813.0" y="610.2" width="494.71" height="18.40" fill="#d9d9d9"/>
<g fill="#444444"><rect x="813.00" y="611.90" width="19.0" height="16.40"/><rect x="833.67" y="610.10" width="19.0" height="18.20"/><rect x="854.34" y="611.30" width="19.0" height="17.00"/><rect x="875.01" y="611.90" width="19.0" height="16.40"/><rect x="895.68" y="611.30" width="19.0" height="17.00"/><rect x="916.35" y="611.90" width="19.0" height="16.40"/><rect x="937.02" y="611.90" width="19.0" height="16.40"/><rect x="957.69" y="611.90" width="19.0" height="16.40"/><rect x="978.36" y="611.90" width="19.0" height="16.40"/><rect x="999.03" y="611.90" width="19.0" height="16.40"/><rect x="1019.70" y="611.90" width="19.0" height="16.40"/><rect x="1040.37" y="611.30" width="19.0" height="17.00"/><rect x="1061.04" y="611.30" width="19.0" height="17.00"/><rect x="1081.71" y="612.10" width="19.0" height="16.20"/><rect x="1102.38" y="610.90" width="19.0" height="17.40"/><rect x="1123.05" y="611.90" width="19.0" height="16.40"/><rect x="1143.72" y="611.90" width="19.0" height="16.40"/><rect x="1164.39" y="611.30" width="19.0" height="17.00"/><rect x="1185.06" y="612.10" width="19.0" height="16.20"/><rect x="1205.73" y="612.10" width="19.0" height="16.20"/><rect x="1226.40" y="612.10" width="19.0" height="16.20"/><rect x="1247.07" y="612.10" width="19.0" height="16.20"/><rect x="1267.74" y="612.10" width="19.0" height="16.20"/><rect x="1288.41" y="612.10" width="19.0" height="16.20"/></g>
<rect x="813.0" y="630.1" width="494.71" height="21.10" fill="#dbcdcd"/>
<g fill="#4a0e0e"><rect x="813.00" y="649.60" width="19.0" height="1.30" fill-opacity="0.6"/><rect x="833.67" y="648.50" width="19.0" height="2.40"/><rect x="854.34" y="649.60" width="19.0" height="1.30" fill-opacity="0.6"/><rect x="895.68" y="649.60" width="19.0" height="1.30" fill-opacity="0.6"/><rect x="916.35" y="649.60" width="19.0" height="1.30" fill-opacity="0.6"/><rect x="937.02" y="649.60" width="19.0" height="1.30" fill-opacity="0.6"/><rect x="957.69" y="649.60" width="19.0" height="1.30" fill-opacity="0.6"/><rect x="978.36" y="649.60" width="19.0" height="1.30" fill-opacity="0.6"/><rect x="1102.38" y="650.30" width="19.0" height="0.60" fill-opacity="0.6"/></g>
<rect x="813.0" y="651.9" width="494.71" height="20.80" fill="#cccce4"/>
<g fill="#000078"><rect x="813.00" y="652.00" width="19.0" height="20.40"/><rect x="833.67" y="652.00" width="19.0" height="20.40"/><rect x="854.34" y="652.00" width="19.0" height="20.40"/><rect x="895.68" y="652.00" width="19.0" height="20.40"/><rect x="916.35" y="652.00" width="19.0" height="20.40"/><rect x="937.02" y="652.00" width="19.0" height="20.40"/><rect x="957.69" y="652.00" width="19.0" height="20.40"/><rect x="978.36" y="652.00" width="19.0" height="20.40"/><rect x="999.03" y="652.00" width="19.0" height="20.40"/><rect x="1019.70" y="652.00" width="19.0" height="20.40"/><rect x="1040.37" y="652.00" width="19.0" height="20.40"/><rect x="1061.04" y="652.00" width="19.0" height="20.40"/><rect x="1081.71" y="652.00" width="19.0" height="20.40"/><rect x="1102.38" y="662.00" width="19.0" height="10.40"/><rect x="1123.05" y="652.00" width="19.0" height="20.40"/><rect x="1143.72" y="652.00" width="19.0" height="20.40"/><rect x="1164.39" y="652.00" width="19.0" height="20.40"/><rect x="1185.06" y="652.00" width="19.0" height="20.40"/><rect x="1205.73" y="652.00" width="19.0" height="20.40"/><rect x="1226.40" y="652.00" width="19.0" height="20.40"/><rect x="1247.07" y="652.00" width="19.0" height="20.40"/><rect x="1267.74" y="652.00" width="19.0" height="20.40"/><rect x="1288.41" y="652.00" width="19.0" height="20.40"/></g>
<rect x="813.0" y="673.9" width="494.71" height="18.50" fill="#ccdccf"/>
<g fill="#004a12"><rect x="813.00" y="678.50" width="19.0" height="13.60"/><rect x="833.67" y="678.50" width="19.0" height="13.60"/><rect x="854.34" y="678.50" width="19.0" height="13.60"/><rect x="875.01" y="678.50" width="19.0" height="13.60"/><rect x="895.68" y="678.50" width="19.0" height="13.60"/><rect x="916.35" y="678.50" width="19.0" height="13.60"/><rect x="937.02" y="678.50" width="19.0" height="13.60"/><rect x="957.69" y="678.50" width="19.0" height="13.60"/><rect x="978.36" y="678.50" width="19.0" height="13.60"/><rect x="999.03" y="676.20" width="19.0" height="15.90"/><rect x="1019.70" y="676.20" width="19.0" height="15.90"/><rect x="1040.37" y="676.20" width="19.0" height="15.90"/><rect x="1061.04" y="676.20" width="19.0" height="15.90"/><rect x="1081.71" y="674.20" width="19.0" height="17.90"/><rect x="1102.38" y="675.00" width="19.0" height="17.10"/><rect x="1123.05" y="675.00" width="19.0" height="17.10"/><rect x="1143.72" y="675.00" width="19.0" height="17.10"/><rect x="1164.39" y="675.00" width="19.0" height="17.10"/><rect x="1185.06" y="675.00" width="19.0" height="17.10"/><rect x="1205.73" y="675.00" width="19.0" height="17.10"/><rect x="1226.40" y="675.00" width="19.0" height="17.10"/><rect x="1247.07" y="675.00" width="19.0" height="17.10"/><rect x="1267.74" y="675.00" width="19.0" height="17.10"/><rect x="1288.41" y="675.00" width="19.0" height="17.10"/></g>
<rect x="813.0" y="694.2" width="494.71" height="18.10" fill="#d9d9d9"/>
<g fill="#444444"><rect x="813.00" y="697.10" width="19.0" height="14.90"/><rect x="833.67" y="695.90" width="19.0" height="16.10"/><rect x="854.34" y="696.70" width="19.0" height="15.30"/><rect x="875.01" y="694.70" width="19.0" height="17.30"/><rect x="895.68" y="694.40" width="19.0" height="17.60"/><rect x="916.35" y="694.40" width="19.0" height="17.60"/><rect x="937.02" y="694.70" width="19.0" height="17.30"/><rect x="957.69" y="695.60" width="19.0" height="16.40"/><rect x="978.36" y="695.90" width="19.0" height="16.10"/><rect x="999.03" y="701.00" width="19.0" height="11.00"/><rect x="1019.70" y="701.00" width="19.0" height="11.00"/><rect x="1040.37" y="701.00" width="19.0" height="11.00"/><rect x="1061.04" y="701.00" width="19.0" height="11.00"/><rect x="1081.71" y="700.70" width="19.0" height="11.30"/><rect x="1102.38" y="700.70" width="19.0" height="11.30"/><rect x="1123.05" y="699.10" width="19.0" height="12.90"/><rect x="1143.72" y="699.50" width="19.0" height="12.50"/><rect x="1164.39" y="698.90" width="19.0" height="13.10"/><rect x="1185.06" y="700.10" width="19.0" height="11.90"/><rect x="1205.73" y="699.80" width="19.0" height="12.20"/><rect x="1226.40" y="699.80" width="19.0" height="12.20"/><rect x="1247.07" y="699.80" width="19.0" height="12.20"/><rect x="1267.74" y="699.50" width="19.0" height="12.50"/><rect x="1288.41" y="699.50" width="19.0" height="12.50"/></g>
<g font-size="12.5" fill="#ff1a1a"><text x="1309.4" y="95.4"><tspan font-style="italic">Bacillus</tspan> spSW7</text><text x="1309.1" y="116.2"><tspan font-style="italic">Bacillus</tspan> sp S1 R2T1-FB</text><text x="1309.7" y="136.3"><tspan font-style="italic">Bacillus anthracis</tspan> str Ames</text><text x="1309.1" y="155.6"><tspan font-style="italic">Bacillus cereus</tspan> Rock4 18</text><text x="1309.4" y="175.1"><tspan font-style="italic">Bacillus cereus</tspan> strain T4S</text><text x="1309.7" y="195.6"><tspan font-style="italic">Bacillus cereus</tspan>E1 assembly</text><text x="1309.4" y="217.7"><tspan font-style="italic">Bacillus cereus</tspan></text><text x="1309.4" y="234.6"><tspan font-style="italic">Bacillus cereus</tspan> ATCC 14579</text><text x="1309.9" y="254.2"><tspan font-style="italic">Bacillus</tspan> sp. RZ2MS9</text><text x="1311.3" y="276.0"><tspan font-style="italic">Bacillus altitudinis</tspan> strain GLB197</text><text x="1309.7" y="296.5"><tspan font-style="italic">Bacillus altitudinis</tspan> strain W3</text><text x="1309.4" y="315.9"><tspan font-style="italic">Bacillus altitudinis</tspan> strain GQYP101</text><text x="1310.2" y="336.7"><tspan font-style="italic">Bacillus altitudinis</tspan> strain 19RS3</text><text x="1309.4" y="355.9"><tspan font-style="italic">Bacillus amyloliquefaciens</tspan> subsp</text><text x="1309.4" y="376.4"><tspan font-style="italic">Bacillus vallismortis</tspan> DV1 F-3 JH600197-1</text><text x="1309.9" y="395.6"><tspan font-style="italic">Bacillus inaquosorumstrain</tspan> KCTC 13429</text><text x="1310.2" y="415.7"><tspan font-style="italic">Bacillus inaquosorum</tspan> strain A65 1</text><text x="1310.2" y="435.7"><tspan font-style="italic">Bacillus rugosus</tspan> SPB7</text><text x="1309.9" y="455.0"><tspan font-style="italic">Bacillus rugosus</tspan> strain A78 1 CP096590 1</text><text x="1309.7" y="474.7"><tspan font-style="italic">Bacillus</tspan> sp. SW14</text><text x="1309.9" y="495.1"><tspan font-style="italic">Bacillus subtilis</tspan> subsp spizizenii TU B 10</text><text x="1309.6" y="515.0"><tspan font-style="italic">Bacillus spizizenii</tspan> strain kcgeb S11</text><text x="1309.9" y="535.2"><tspan font-style="italic">Bacillus subtilis</tspan> strain YB 15</text><text x="1310.4" y="555.4"><tspan font-style="italic">Bacillus cabrialesii</tspan> subsp tritici strain TSO2 JAHBMK020000001 1</text></g>
<g font-size="5.2" fill="#666"><text x="1309.3" y="86.60">1</text><text x="1309.3" y="101.60">0.7</text><text x="1309.3" y="106.57">1</text><text x="1309.3" y="121.57">0.7</text><text x="1309.3" y="126.54">1</text><text x="1309.3" y="141.54">0.7</text><text x="1309.3" y="146.51">1</text><text x="1309.3" y="161.51">0.7</text><text x="1309.3" y="166.48">1</text><text x="1309.3" y="181.48">0.7</text><text x="1309.3" y="186.45">1</text><text x="1309.3" y="201.45">0.7</text><text x="1309.3" y="206.42">1</text><text x="1309.3" y="221.42">0.7</text><text x="1309.3" y="226.39">1</text><text x="1309.3" y="241.39">0.7</text><text x="1309.3" y="246.36">1</text><text x="1309.3" y="261.36">0.7</text><text x="1309.3" y="266.33">1</text><text x="1309.3" y="281.33">0.7</text><text x="1309.3" y="286.30">1</text><text x="1309.3" y="301.30">0.7</text><text x="1309.3" y="306.27">1</text><text x="1309.3" y="321.27">0.7</text><text x="1309.3" y="326.24">1</text><text x="1309.3" y="341.24">0.7</text><text x="1309.3" y="346.21">1</text><text x="1309.3" y="361.21">0.7</text><text x="1309.3" y="366.18">1</text><text x="1309.3" y="381.18">0.7</text><text x="1309.3" y="386.15">1</text><text x="1309.3" y="401.15">0.7</text><text x="1309.3" y="406.12">1</text><text x="1309.3" y="421.12">0.7</text><text x="1309.3" y="426.09">1</text><text x="1309.3" y="441.09">0.7</text><text x="1309.3" y="446.06">1</text><text x="1309.3" y="461.06">0.7</text><text x="1309.3" y="466.03">1</text><text x="1309.3" y="481.03">0.7</text><text x="1309.3" y="486.00">1</text><text x="1309.3" y="501.00">0.7</text><text x="1309.3" y="505.97">1</text><text x="1309.3" y="520.97">0.7</text><text x="1309.3" y="525.94">1</text><text x="1309.3" y="540.94">0.7</text><text x="1309.3" y="545.91">1</text><text x="1309.3" y="560.91">0.7</text></g>
<text x="1309.6" y="579.2" font-size="12.5" fill="#661212">Num gene clusters</text>
<text x="1309.6" y="565.6" font-size="5.8" fill="#333">5584</text>
<text x="1309.3" y="583.8" font-size="5.2" fill="#666">0</text>
<text x="1309.6" y="603.3" font-size="12.5" fill="#661212">Singleton gene clusters</text>
<text x="1309.6" y="589.7" font-size="5.8" fill="#333">564</text>
<text x="1309.3" y="607.9" font-size="5.2" fill="#666">0</text>
<text x="1309.6" y="625.0" font-size="12.5" fill="#444444">Num genes per kbp</text>
<text x="1309.6" y="611.4" font-size="5.8" fill="#333">1.09478181128703</text>
<text x="1309.3" y="629.6" font-size="5.2" fill="#666">0</text>
<text x="1309.6" y="646.2" font-size="12.5" fill="#4a1414">Redundancy</text>
<text x="1309.6" y="632.6" font-size="5.8" fill="#333">100</text>
<text x="1309.3" y="650.8" font-size="5.2" fill="#666">0</text>
<text x="1309.6" y="667.6" font-size="12.5" fill="#000080">Completion</text>
<text x="1309.6" y="654.0" font-size="5.8" fill="#333">100</text>
<text x="1309.3" y="672.2" font-size="5.2" fill="#666">0</text>
<text x="1309.6" y="688.6" font-size="12.5" fill="#004a12">GC-content</text>
<text x="1309.6" y="675.0" font-size="5.8" fill="#333">0.464754468181971</text>
<text x="1309.3" y="693.2" font-size="5.2" fill="#666">0</text>
<text x="1309.6" y="708.8" font-size="12.5" fill="#444444">Total length</text>
<text x="1309.6" y="695.2" font-size="5.8" fill="#333">6000016</text>
<text x="1309.3" y="713.4" font-size="5.2" fill="#666">0</text>
<g font-size="18" fill="#000"><text x="752.3" y="16.4">1</text><text x="752.3" y="36.8">2</text><text x="752.3" y="57.6">3</text><text x="752.3" y="83.1">4</text><text x="752.3" y="104.8">5</text><text x="752.3" y="125.4">6</text><text x="752.3" y="151.8">7</text><text x="752.3" y="179.1">8</text><text x="752.3" y="199.0">9</text><text x="750.8" y="218.7">10</text><text x="750.8" y="238.7">11</text><text x="750.8" y="258.6">12</text><text x="750.8" y="278.6">13</text><text x="750.8" y="298.6">14</text><text x="750.8" y="318.5">15</text><text x="750.8" y="338.5">16</text><text x="750.8" y="358.5">17</text><text x="750.8" y="378.5">18</text><text x="750.8" y="398.4">19</text><text x="750.8" y="418.4">20</text><text x="750.8" y="438.4">21</text><text x="750.8" y="458.3">22</text><text x="750.8" y="478.3">23</text><text x="750.8" y="498.3">24</text><text x="750.8" y="518.2">25</text><text x="750.8" y="538.2">26</text><text x="750.8" y="558.2">27</text><text x="750.8" y="578.1">28</text><text x="750.8" y="598.1">29</text><text x="750.8" y="618.1">30</text><text x="750.8" y="638.1">31</text></g>
<g font-size="28" font-weight="bold"><text x="1680.0" y="19.0" fill="#022d52">1. Num contributing genomes</text><text x="1678.8" y="42.4" fill="#022d52">2. Num genes in GC</text><text x="1677.6" y="66.4" fill="#022d52">3. Max num paralogs</text><text x="1679.2" y="90.2" fill="#3d8b6f">4. Geo. Homogeneity Ind.</text><text x="1681.0" y="114.2" fill="#3d9c73">5. Func. Homogeneity Ind.</text><text x="1682.0" y="140.6" fill="#326e5a">6. Comb. Homogeneity Ind.</text><text x="1680.0" y="167.1" fill="#561312">7. SCG Clusters</text><text x="1678.0" y="190.8" fill="#000">8. <tspan font-style="italic">Bacillus cabrialesii subsp tritici</tspan> strain TSO2 JAHBMK020000001 1</text><text x="1679.0" y="216.6" fill="#000">9. <tspan font-style="italic">Bacillus subtilis</tspan> strain YB 15</text><text x="1667.8" y="241.6" fill="#000">10. <tspan font-style="italic">Bacillus spizizenii</tspan> strain kcgeb S11</text><text x="1668.8" y="265.6" fill="#000">11. <tspan font-style="italic">Bacillus subtilis</tspan> subsp spizizenii TU-B-10</text><text x="1669.3" y="289.5" fill="#000">12. <tspan font-style="italic">Bacillus</tspan> sp. SW14</text><text x="1669.3" y="309.6" fill="#000">13. <tspan font-style="italic">Bacillus rugosus</tspan> strain A78 1 CP096590 1</text><text x="1668.8" y="333.2" fill="#000">14. <tspan font-style="italic">Bacillus rugosus</tspan> SPB7</text><text x="1668.8" y="357.1" fill="#000">15. <tspan font-style="italic">Bacillus inaquosorum</tspan> strain A65-1</text><text x="1668.8" y="381.5" fill="#000">16. <tspan font-style="italic">Bacillus inaquosorum</tspan> strain KCTC 13429</text><text x="1668.8" y="405.9" fill="#000">17. <tspan font-style="italic">Bacillus vallismortis</tspan> DV1 F 3 JH600197 1</text><text x="1668.8" y="430.3" fill="#000">18. <tspan font-style="italic">Bacillus amyloliquefaciens</tspan> subsp</text><text x="1668.8" y="458.9" fill="#000">19. <tspan font-style="italic">Bacillus altitudinis</tspan> strain 19RS3</text><text x="1668.8" y="483.0" fill="#000">20. <tspan font-style="italic">Bacillus altitudinis</tspan> strain GQYP101</text><text x="1668.8" y="506.8" fill="#000">21. <tspan font-style="italic">Bacillus altitudinis</tspan> strain W3</text><text x="1668.8" y="530.7" fill="#000">22. <tspan font-style="italic">Bacillus altitudinis</tspan> strain GLB197</text><text x="1668.8" y="554.8" fill="#000">23. <tspan font-style="italic">Bacillus</tspan> sp. RZ2MS9</text><text x="1668.8" y="579.2" fill="#000">24. <tspan font-style="italic">Bacillus cereus</tspan> ATCC 14579</text><text x="1668.8" y="603.1" fill="#000">25. <tspan font-style="italic">Bacillus cereus</tspan></text><text x="1668.8" y="627.1" fill="#000">26. <tspan font-style="italic">Bacillus cereus</tspan> strain E1</text><text x="1668.8" y="651.0" fill="#000">27. <tspan font-style="italic">Bacillus cereus</tspan> strain T4S</text><text x="1668.8" y="675.4" fill="#000">28. <tspan font-style="italic">Bacillus cereus</tspan> Rock4-18</text><text x="1668.8" y="699.5" fill="#000">29. <tspan font-style="italic">Bacillus anthracis</tspan> str Ames</text><text x="1668.8" y="723.4" fill="#000">30. <tspan font-style="italic">Bacillus</tspan> sp. S1 R2T1-FB</text><text x="1668.8" y="751.6" fill="#000">31. <tspan font-style="italic">Bacillus</tspan> sp. SW7</text></g>
<path d="M737.4 643.7A72.7 70.3 0 0 0 665.3 716.5M722.2 647.7A70.4 68 0 0 0 679 677M700.4 667.5L695.3 661.2M700.4 667.5A61 59 0 0 0 684.1 686.3M702.4 695.7L684.1 686.3M702.4 695.7A40.3 39 0 0 0 698.5 722.1M698.5 722.1L680.3 725.9M678 716A60 58 0 0 0 681.8 734.3M683.6 686.1A61.6 59.5 0 0 0 676.7 708.3M677.8 708.4L670 707.7M673.3 691.3A68.8 66.5 0 0 0 669.2 716.3M741.8 718.7L762.3 743.9M738.7 752A39.3 38 0 0 0 776.1 723.2M738.7 752L738.8 759M707.1 748.3A47.1 45.5 0 0 0 769.5 747.8M689.2 732.1A52.2 50.5 0 0 0 777.4 747.1M776.1 723.2L783.2 724.9M776.8 745.5A50.7 49 0 0 0 788.7 714M778.3 736.5A46.6 45 0 0 0 784.5 715.6M691 740.2A54.3 52.5 0 0 0 710.8 759.5M776.8 742.3A48.6 47 0 0 0 786.2 720.5M698 708.6L730.5 712.5l1.5 4.5l3.5 1.5l2.5-6.5M735.5 718.5l3 1.5l3.5-1.5" stroke="#9c9c9c" stroke-width="0.5" fill="none"/>
</svg>
</body></html>
